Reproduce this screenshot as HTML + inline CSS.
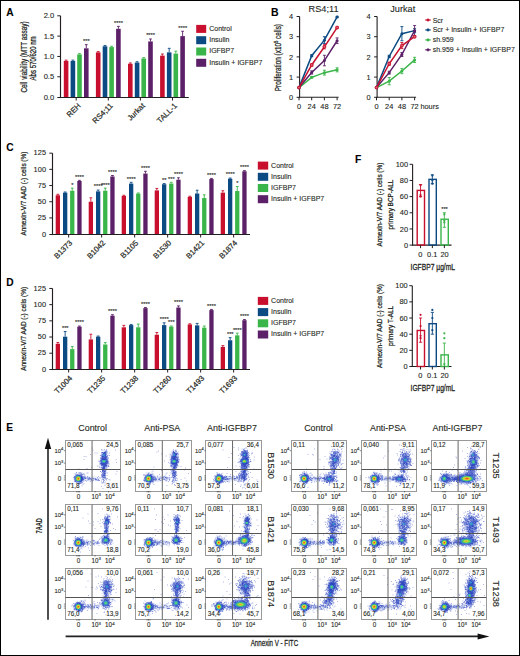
<!DOCTYPE html>
<html><head><meta charset="utf-8"><title>Figure</title>
<style>
html,body{margin:0;padding:0;background:#fff;}
body{width:520px;height:656px;overflow:hidden;}
svg{display:block;font-family:"Liberation Sans",sans-serif;}
text{stroke:#231f20;stroke-width:.1px;}
text.st{stroke:#231f20;stroke-width:.12px;}
text.lb{stroke:#231f20;stroke-width:.26px;}
text.lr{stroke:#231f20;stroke-width:.2px;}
text.tk{letter-spacing:.3px;}
text.tk2{letter-spacing:.2px;}
.frame{position:absolute;left:0;top:0;width:518px;height:654px;border:1px solid #000;pointer-events:none;}
</style></head><body>
<svg width="520" height="656" viewBox="0 0 520 656">
<defs>
<radialGradient id="gH"><stop offset="0" stop-color="#e8301c"/><stop offset="0.25" stop-color="#f2a020"/><stop offset="0.45" stop-color="#c8e040"/><stop offset="0.65" stop-color="#40c070"/><stop offset="0.85" stop-color="#3090d8" stop-opacity="0.8"/><stop offset="1" stop-color="#3060d0" stop-opacity="0"/></radialGradient>
<radialGradient id="gM"><stop offset="0" stop-color="#f0a020"/><stop offset="0.3" stop-color="#b0e040"/><stop offset="0.55" stop-color="#40c070"/><stop offset="0.8" stop-color="#3090d8" stop-opacity="0.8"/><stop offset="1" stop-color="#3060d0" stop-opacity="0"/></radialGradient>
<radialGradient id="gL"><stop offset="0" stop-color="#80e060"/><stop offset="0.4" stop-color="#40c090"/><stop offset="0.75" stop-color="#3090d8" stop-opacity="0.8"/><stop offset="1" stop-color="#3060d0" stop-opacity="0"/></radialGradient>
<radialGradient id="gH2"><stop offset="0" stop-color="#e05020"/><stop offset="0.3" stop-color="#f0c020"/><stop offset="0.55" stop-color="#60c060"/><stop offset="0.8" stop-color="#3090d8" stop-opacity="0.8"/><stop offset="1" stop-color="#3060d0" stop-opacity="0"/></radialGradient>
<filter id="bl" x="-50%" y="-50%" width="200%" height="200%"><feGaussianBlur stdDeviation="1.3"/></filter>
<radialGradient id="gVL"><stop offset="0" stop-color="#40c0a0"/><stop offset="0.5" stop-color="#3090d8" stop-opacity="0.8"/><stop offset="1" stop-color="#3060d0" stop-opacity="0"/></radialGradient>
</defs>
<rect x="0" y="0" width="520" height="656" fill="#fff"/>
<text x="6.2" y="16.3" font-size="10.2" text-anchor="start" font-weight="bold" fill="#000">A</text>
<line x1="66.1" y1="60.11" x2="66.1" y2="60.92" stroke="#c8102e" stroke-width="0.9"/>
<line x1="64.7" y1="60.11" x2="67.5" y2="60.11" stroke="#c8102e" stroke-width="0.9"/>
<rect x="63.8" y="60.92" width="4.6" height="36.58" fill="#c8102e"/>
<line x1="72.9" y1="60.11" x2="72.9" y2="60.92" stroke="#0b4a82" stroke-width="0.9"/>
<line x1="71.5" y1="60.11" x2="74.3" y2="60.11" stroke="#0b4a82" stroke-width="0.9"/>
<rect x="70.6" y="60.92" width="4.6" height="36.58" fill="#0b4a82"/>
<line x1="79.5" y1="53.6" x2="79.5" y2="54.42" stroke="#3ab54a" stroke-width="0.9"/>
<line x1="78.1" y1="53.6" x2="80.9" y2="53.6" stroke="#3ab54a" stroke-width="0.9"/>
<rect x="77.2" y="54.42" width="4.6" height="43.08" fill="#3ab54a"/>
<line x1="86.3" y1="44.66" x2="86.3" y2="48.32" stroke="#5c2068" stroke-width="0.9"/>
<line x1="84.9" y1="44.66" x2="87.7" y2="44.66" stroke="#5c2068" stroke-width="0.9"/>
<rect x="84" y="48.32" width="4.6" height="49.18" fill="#5c2068"/>
<text x="86.4" y="43.06" font-size="5.7" text-anchor="middle" fill="#231f20" class="st">***</text>
<line x1="76.2" y1="97.5" x2="76.2" y2="100.5" stroke="#231f20" stroke-width="1"/>
<text transform="translate(81.2,106.3) rotate(-45)" font-size="7.7" text-anchor="end" fill="#231f20" class="lr">REH</text>
<line x1="98.2" y1="51.57" x2="98.2" y2="52.38" stroke="#c8102e" stroke-width="0.9"/>
<line x1="96.8" y1="51.57" x2="99.6" y2="51.57" stroke="#c8102e" stroke-width="0.9"/>
<rect x="95.9" y="52.38" width="4.6" height="45.12" fill="#c8102e"/>
<line x1="105" y1="45.47" x2="105" y2="46.29" stroke="#0b4a82" stroke-width="0.9"/>
<line x1="103.6" y1="45.47" x2="106.4" y2="45.47" stroke="#0b4a82" stroke-width="0.9"/>
<rect x="102.7" y="46.29" width="4.6" height="51.21" fill="#0b4a82"/>
<line x1="111.6" y1="46.29" x2="111.6" y2="47.1" stroke="#3ab54a" stroke-width="0.9"/>
<line x1="110.2" y1="46.29" x2="113" y2="46.29" stroke="#3ab54a" stroke-width="0.9"/>
<rect x="109.3" y="47.1" width="4.6" height="50.4" fill="#3ab54a"/>
<line x1="118.4" y1="26.37" x2="118.4" y2="28.81" stroke="#5c2068" stroke-width="0.9"/>
<line x1="117" y1="26.37" x2="119.8" y2="26.37" stroke="#5c2068" stroke-width="0.9"/>
<rect x="116.1" y="28.81" width="4.6" height="68.69" fill="#5c2068"/>
<text x="118.5" y="24.77" font-size="5.7" text-anchor="middle" fill="#231f20" class="st">****</text>
<line x1="108.3" y1="97.5" x2="108.3" y2="100.5" stroke="#231f20" stroke-width="1"/>
<text transform="translate(113.3,106.3) rotate(-45)" font-size="7.7" text-anchor="end" fill="#231f20" class="lr">RS4;11</text>
<line x1="130.3" y1="62.95" x2="130.3" y2="63.77" stroke="#c8102e" stroke-width="0.9"/>
<line x1="128.9" y1="62.95" x2="131.7" y2="62.95" stroke="#c8102e" stroke-width="0.9"/>
<rect x="128" y="63.77" width="4.6" height="33.73" fill="#c8102e"/>
<line x1="137.1" y1="61.73" x2="137.1" y2="62.55" stroke="#0b4a82" stroke-width="0.9"/>
<line x1="135.7" y1="61.73" x2="138.5" y2="61.73" stroke="#0b4a82" stroke-width="0.9"/>
<rect x="134.8" y="62.55" width="4.6" height="34.95" fill="#0b4a82"/>
<line x1="143.7" y1="57.67" x2="143.7" y2="58.48" stroke="#3ab54a" stroke-width="0.9"/>
<line x1="142.3" y1="57.67" x2="145.1" y2="57.67" stroke="#3ab54a" stroke-width="0.9"/>
<rect x="141.4" y="58.48" width="4.6" height="39.02" fill="#3ab54a"/>
<line x1="150.5" y1="38.97" x2="150.5" y2="41.41" stroke="#5c2068" stroke-width="0.9"/>
<line x1="149.1" y1="38.97" x2="151.9" y2="38.97" stroke="#5c2068" stroke-width="0.9"/>
<rect x="148.2" y="41.41" width="4.6" height="56.09" fill="#5c2068"/>
<text x="150.6" y="37.37" font-size="5.7" text-anchor="middle" fill="#231f20" class="st">****</text>
<line x1="140.4" y1="97.5" x2="140.4" y2="100.5" stroke="#231f20" stroke-width="1"/>
<text transform="translate(145.4,106.3) rotate(-45)" font-size="7.7" text-anchor="end" fill="#231f20" class="lr">Jurkat</text>
<line x1="162.4" y1="54.01" x2="162.4" y2="55.64" stroke="#c8102e" stroke-width="0.9"/>
<line x1="161" y1="54.01" x2="163.8" y2="54.01" stroke="#c8102e" stroke-width="0.9"/>
<rect x="160.1" y="55.64" width="4.6" height="41.86" fill="#c8102e"/>
<line x1="169.2" y1="48.32" x2="169.2" y2="52.38" stroke="#0b4a82" stroke-width="0.9"/>
<line x1="167.8" y1="48.32" x2="170.6" y2="48.32" stroke="#0b4a82" stroke-width="0.9"/>
<rect x="166.9" y="52.38" width="4.6" height="45.12" fill="#0b4a82"/>
<line x1="175.8" y1="51.17" x2="175.8" y2="53.6" stroke="#3ab54a" stroke-width="0.9"/>
<line x1="174.4" y1="51.17" x2="177.2" y2="51.17" stroke="#3ab54a" stroke-width="0.9"/>
<rect x="173.5" y="53.6" width="4.6" height="43.9" fill="#3ab54a"/>
<line x1="182.6" y1="31.25" x2="182.6" y2="36.12" stroke="#5c2068" stroke-width="0.9"/>
<line x1="181.2" y1="31.25" x2="184" y2="31.25" stroke="#5c2068" stroke-width="0.9"/>
<rect x="180.3" y="36.12" width="4.6" height="61.38" fill="#5c2068"/>
<text x="182.7" y="29.65" font-size="5.7" text-anchor="middle" fill="#231f20" class="st">****</text>
<line x1="172.5" y1="97.5" x2="172.5" y2="100.5" stroke="#231f20" stroke-width="1"/>
<text transform="translate(177.5,106.3) rotate(-45)" font-size="7.7" text-anchor="end" fill="#231f20" class="lr">TALL-1</text>
<line x1="60.5" y1="15.8" x2="60.5" y2="98.1" stroke="#231f20" stroke-width="1.15"/>
<line x1="57.3" y1="97.5" x2="60.5" y2="97.5" stroke="#231f20" stroke-width="1"/>
<text x="54.2" y="99.9" font-size="7.6" text-anchor="end" fill="#231f20">0.0</text>
<line x1="57.3" y1="76.77" x2="60.5" y2="76.77" stroke="#231f20" stroke-width="1"/>
<text x="54.2" y="79.17" font-size="7.6" text-anchor="end" fill="#231f20">0.5</text>
<line x1="57.3" y1="56.45" x2="60.5" y2="56.45" stroke="#231f20" stroke-width="1"/>
<text x="54.2" y="58.85" font-size="7.6" text-anchor="end" fill="#231f20">1.0</text>
<line x1="57.3" y1="36.12" x2="60.5" y2="36.12" stroke="#231f20" stroke-width="1"/>
<text x="54.2" y="38.52" font-size="7.6" text-anchor="end" fill="#231f20">1.5</text>
<line x1="57.3" y1="15.8" x2="60.5" y2="15.8" stroke="#231f20" stroke-width="1"/>
<text x="54.2" y="18.2" font-size="7.6" text-anchor="end" fill="#231f20">2.0</text>
<line x1="59.9" y1="97.5" x2="188.8" y2="97.5" stroke="#231f20" stroke-width="1.15"/>
<text transform="translate(27,57) rotate(-90) scale(0.78,1)" font-size="8.2" text-anchor="middle" fill="#231f20" class="lb">Cell viability (MTT assay)</text>
<text transform="translate(36.2,58.4) rotate(-90) scale(0.74,1)" font-size="8.2" text-anchor="middle" fill="#231f20" class="lb">Abs 570/620 nm</text>
<rect x="196.2" y="24.9" width="10" height="8" fill="#c8102e"/>
<text x="209.2" y="30.8" font-size="7" text-anchor="start" fill="#231f20">Control</text>
<rect x="196.2" y="36.2" width="10" height="8" fill="#0b4a82"/>
<text x="209.2" y="42.1" font-size="7" text-anchor="start" fill="#231f20">Insulin</text>
<rect x="196.2" y="47.5" width="10" height="8" fill="#3ab54a"/>
<text x="209.2" y="53.4" font-size="7" text-anchor="start" fill="#231f20">IGFBP7</text>
<rect x="196.2" y="58.8" width="10" height="8" fill="#5c2068"/>
<text x="209.2" y="64.7" font-size="7" text-anchor="start" fill="#231f20">Insulin + IGFBP7</text>
<text x="270.9" y="16.1" font-size="10.5" text-anchor="start" font-weight="bold" fill="#000">B</text>
<line x1="299.6" y1="16.5" x2="299.6" y2="97.8" stroke="#231f20" stroke-width="1.1"/>
<line x1="296.6" y1="97.3" x2="299.6" y2="97.3" stroke="#231f20" stroke-width="1"/>
<text x="293.1" y="99.9" font-size="7.4" text-anchor="end" fill="#231f20">0</text>
<line x1="296.6" y1="77.1" x2="299.6" y2="77.1" stroke="#231f20" stroke-width="1"/>
<text x="293.1" y="79.7" font-size="7.4" text-anchor="end" fill="#231f20">1</text>
<line x1="296.6" y1="56.9" x2="299.6" y2="56.9" stroke="#231f20" stroke-width="1"/>
<text x="293.1" y="59.5" font-size="7.4" text-anchor="end" fill="#231f20">2</text>
<line x1="296.6" y1="36.7" x2="299.6" y2="36.7" stroke="#231f20" stroke-width="1"/>
<text x="293.1" y="39.3" font-size="7.4" text-anchor="end" fill="#231f20">3</text>
<line x1="296.6" y1="16.5" x2="299.6" y2="16.5" stroke="#231f20" stroke-width="1"/>
<text x="293.1" y="19.1" font-size="7.4" text-anchor="end" fill="#231f20">4</text>
<line x1="299.1" y1="97.3" x2="338.6" y2="97.3" stroke="#231f20" stroke-width="1.1"/>
<line x1="299" y1="97.3" x2="299" y2="100.3" stroke="#231f20" stroke-width="1"/>
<text x="299" y="109.3" font-size="7.4" text-anchor="middle" fill="#231f20">0</text>
<line x1="311.7" y1="97.3" x2="311.7" y2="100.3" stroke="#231f20" stroke-width="1"/>
<text x="311.7" y="109.3" font-size="7.4" text-anchor="middle" fill="#231f20">24</text>
<line x1="324.4" y1="97.3" x2="324.4" y2="100.3" stroke="#231f20" stroke-width="1"/>
<text x="324.4" y="109.3" font-size="7.4" text-anchor="middle" fill="#231f20">48</text>
<line x1="337.1" y1="97.3" x2="337.1" y2="100.3" stroke="#231f20" stroke-width="1"/>
<text x="337.1" y="109.3" font-size="7.4" text-anchor="middle" fill="#231f20">72</text>
<text x="308.6" y="11.7" font-size="9.2" text-anchor="start" fill="#231f20">RS4;11</text>
<polyline points="299,87.6 311.7,77.3 324.4,72.66 337.1,69.83" fill="none" stroke="#3ab54a" stroke-width="1.5"/>
<circle cx="299" cy="87.6" r="1.5" fill="#3ab54a"/>
<line x1="311.7" y1="76.7" x2="311.7" y2="77.91" stroke="#3ab54a" stroke-width="0.9"/>
<line x1="310.2" y1="76.7" x2="313.2" y2="76.7" stroke="#3ab54a" stroke-width="0.9"/>
<line x1="310.2" y1="77.91" x2="313.2" y2="77.91" stroke="#3ab54a" stroke-width="0.9"/>
<circle cx="311.7" cy="77.3" r="1.5" fill="#3ab54a"/>
<line x1="324.4" y1="70.23" x2="324.4" y2="75.08" stroke="#3ab54a" stroke-width="0.9"/>
<line x1="322.9" y1="70.23" x2="325.9" y2="70.23" stroke="#3ab54a" stroke-width="0.9"/>
<line x1="322.9" y1="75.08" x2="325.9" y2="75.08" stroke="#3ab54a" stroke-width="0.9"/>
<circle cx="324.4" cy="72.66" r="1.5" fill="#3ab54a"/>
<line x1="337.1" y1="67.81" x2="337.1" y2="71.85" stroke="#3ab54a" stroke-width="0.9"/>
<line x1="335.6" y1="67.81" x2="338.6" y2="67.81" stroke="#3ab54a" stroke-width="0.9"/>
<line x1="335.6" y1="71.85" x2="338.6" y2="71.85" stroke="#3ab54a" stroke-width="0.9"/>
<circle cx="337.1" cy="69.83" r="1.5" fill="#3ab54a"/>
<polyline points="299,87.6 311.7,55.69 324.4,40.13 337.1,16.9" fill="none" stroke="#0b4a82" stroke-width="1.5"/>
<circle cx="299" cy="87.6" r="1.5" fill="#0b4a82"/>
<line x1="311.7" y1="54.68" x2="311.7" y2="56.7" stroke="#0b4a82" stroke-width="0.9"/>
<line x1="310.2" y1="54.68" x2="313.2" y2="54.68" stroke="#0b4a82" stroke-width="0.9"/>
<line x1="310.2" y1="56.7" x2="313.2" y2="56.7" stroke="#0b4a82" stroke-width="0.9"/>
<circle cx="311.7" cy="55.69" r="1.5" fill="#0b4a82"/>
<line x1="324.4" y1="36.7" x2="324.4" y2="43.57" stroke="#0b4a82" stroke-width="0.9"/>
<line x1="322.9" y1="36.7" x2="325.9" y2="36.7" stroke="#0b4a82" stroke-width="0.9"/>
<line x1="322.9" y1="43.57" x2="325.9" y2="43.57" stroke="#0b4a82" stroke-width="0.9"/>
<circle cx="324.4" cy="40.13" r="1.5" fill="#0b4a82"/>
<line x1="337.1" y1="16.3" x2="337.1" y2="17.51" stroke="#0b4a82" stroke-width="0.9"/>
<line x1="335.6" y1="16.3" x2="338.6" y2="16.3" stroke="#0b4a82" stroke-width="0.9"/>
<line x1="335.6" y1="17.51" x2="338.6" y2="17.51" stroke="#0b4a82" stroke-width="0.9"/>
<circle cx="337.1" cy="16.9" r="1.5" fill="#0b4a82"/>
<polyline points="299,87.6 311.7,72.45 324.4,60.54 337.1,40.74" fill="none" stroke="#5c2068" stroke-width="1.5"/>
<circle cx="299" cy="87.6" r="1.5" fill="#5c2068"/>
<line x1="311.7" y1="70.84" x2="311.7" y2="74.07" stroke="#5c2068" stroke-width="0.9"/>
<line x1="310.2" y1="70.84" x2="313.2" y2="70.84" stroke="#5c2068" stroke-width="0.9"/>
<line x1="310.2" y1="74.07" x2="313.2" y2="74.07" stroke="#5c2068" stroke-width="0.9"/>
<circle cx="311.7" cy="72.45" r="1.5" fill="#5c2068"/>
<line x1="324.4" y1="55.28" x2="324.4" y2="65.79" stroke="#5c2068" stroke-width="0.9"/>
<line x1="322.9" y1="55.28" x2="325.9" y2="55.28" stroke="#5c2068" stroke-width="0.9"/>
<line x1="322.9" y1="65.79" x2="325.9" y2="65.79" stroke="#5c2068" stroke-width="0.9"/>
<circle cx="324.4" cy="60.54" r="1.5" fill="#5c2068"/>
<line x1="337.1" y1="37.91" x2="337.1" y2="43.57" stroke="#5c2068" stroke-width="0.9"/>
<line x1="335.6" y1="37.91" x2="338.6" y2="37.91" stroke="#5c2068" stroke-width="0.9"/>
<line x1="335.6" y1="43.57" x2="338.6" y2="43.57" stroke="#5c2068" stroke-width="0.9"/>
<circle cx="337.1" cy="40.74" r="1.5" fill="#5c2068"/>
<polyline points="299,87.6 311.7,64.98 324.4,46.8 337.1,27.61" fill="none" stroke="#c8102e" stroke-width="1.5"/>
<circle cx="299" cy="87.6" r="1.45" fill="#e06070" stroke="#c8102e" stroke-width="1"/>
<line x1="311.7" y1="63.77" x2="311.7" y2="66.19" stroke="#c8102e" stroke-width="0.9"/>
<line x1="310.2" y1="63.77" x2="313.2" y2="63.77" stroke="#c8102e" stroke-width="0.9"/>
<line x1="310.2" y1="66.19" x2="313.2" y2="66.19" stroke="#c8102e" stroke-width="0.9"/>
<circle cx="311.7" cy="64.98" r="1.45" fill="#e06070" stroke="#c8102e" stroke-width="1"/>
<line x1="324.4" y1="44.78" x2="324.4" y2="48.82" stroke="#c8102e" stroke-width="0.9"/>
<line x1="322.9" y1="44.78" x2="325.9" y2="44.78" stroke="#c8102e" stroke-width="0.9"/>
<line x1="322.9" y1="48.82" x2="325.9" y2="48.82" stroke="#c8102e" stroke-width="0.9"/>
<circle cx="324.4" cy="46.8" r="1.45" fill="#e06070" stroke="#c8102e" stroke-width="1"/>
<line x1="337.1" y1="26.8" x2="337.1" y2="28.42" stroke="#c8102e" stroke-width="0.9"/>
<line x1="335.6" y1="26.8" x2="338.6" y2="26.8" stroke="#c8102e" stroke-width="0.9"/>
<line x1="335.6" y1="28.42" x2="338.6" y2="28.42" stroke="#c8102e" stroke-width="0.9"/>
<circle cx="337.1" cy="27.61" r="1.45" fill="#e06070" stroke="#c8102e" stroke-width="1"/>
<line x1="377.1" y1="16.5" x2="377.1" y2="97.8" stroke="#231f20" stroke-width="1.1"/>
<line x1="374.1" y1="97.3" x2="377.1" y2="97.3" stroke="#231f20" stroke-width="1"/>
<text x="370.6" y="99.9" font-size="7.4" text-anchor="end" fill="#231f20">0</text>
<line x1="374.1" y1="77.1" x2="377.1" y2="77.1" stroke="#231f20" stroke-width="1"/>
<text x="370.6" y="79.7" font-size="7.4" text-anchor="end" fill="#231f20">1</text>
<line x1="374.1" y1="56.9" x2="377.1" y2="56.9" stroke="#231f20" stroke-width="1"/>
<text x="370.6" y="59.5" font-size="7.4" text-anchor="end" fill="#231f20">2</text>
<line x1="374.1" y1="36.7" x2="377.1" y2="36.7" stroke="#231f20" stroke-width="1"/>
<text x="370.6" y="39.3" font-size="7.4" text-anchor="end" fill="#231f20">3</text>
<line x1="374.1" y1="16.5" x2="377.1" y2="16.5" stroke="#231f20" stroke-width="1"/>
<text x="370.6" y="19.1" font-size="7.4" text-anchor="end" fill="#231f20">4</text>
<line x1="376.6" y1="97.3" x2="416.1" y2="97.3" stroke="#231f20" stroke-width="1.1"/>
<line x1="376.5" y1="97.3" x2="376.5" y2="100.3" stroke="#231f20" stroke-width="1"/>
<text x="376.5" y="109.3" font-size="7.4" text-anchor="middle" fill="#231f20">0</text>
<line x1="389.2" y1="97.3" x2="389.2" y2="100.3" stroke="#231f20" stroke-width="1"/>
<text x="389.2" y="109.3" font-size="7.4" text-anchor="middle" fill="#231f20">24</text>
<line x1="401.9" y1="97.3" x2="401.9" y2="100.3" stroke="#231f20" stroke-width="1"/>
<text x="401.9" y="109.3" font-size="7.4" text-anchor="middle" fill="#231f20">48</text>
<line x1="414.6" y1="97.3" x2="414.6" y2="100.3" stroke="#231f20" stroke-width="1"/>
<text x="414.6" y="109.3" font-size="7.4" text-anchor="middle" fill="#231f20">72</text>
<text x="420.4" y="109.3" font-size="7.4" text-anchor="start" fill="#231f20">hours</text>
<text x="390.2" y="11.7" font-size="9.2" text-anchor="start" fill="#231f20">Jurkat</text>
<polyline points="376.5,87.6 389.2,81.14 401.9,71.04 414.6,59.93" fill="none" stroke="#3ab54a" stroke-width="1.5"/>
<circle cx="376.5" cy="87.6" r="1.5" fill="#3ab54a"/>
<line x1="389.2" y1="77.5" x2="389.2" y2="84.78" stroke="#3ab54a" stroke-width="0.9"/>
<line x1="387.7" y1="77.5" x2="390.7" y2="77.5" stroke="#3ab54a" stroke-width="0.9"/>
<line x1="387.7" y1="84.78" x2="390.7" y2="84.78" stroke="#3ab54a" stroke-width="0.9"/>
<circle cx="389.2" cy="81.14" r="1.5" fill="#3ab54a"/>
<line x1="401.9" y1="68.41" x2="401.9" y2="73.67" stroke="#3ab54a" stroke-width="0.9"/>
<line x1="400.4" y1="68.41" x2="403.4" y2="68.41" stroke="#3ab54a" stroke-width="0.9"/>
<line x1="400.4" y1="73.67" x2="403.4" y2="73.67" stroke="#3ab54a" stroke-width="0.9"/>
<circle cx="401.9" cy="71.04" r="1.5" fill="#3ab54a"/>
<line x1="414.6" y1="57.3" x2="414.6" y2="62.56" stroke="#3ab54a" stroke-width="0.9"/>
<line x1="413.1" y1="57.3" x2="416.1" y2="57.3" stroke="#3ab54a" stroke-width="0.9"/>
<line x1="413.1" y1="62.56" x2="416.1" y2="62.56" stroke="#3ab54a" stroke-width="0.9"/>
<circle cx="414.6" cy="59.93" r="1.5" fill="#3ab54a"/>
<polyline points="376.5,87.6 389.2,56.5 401.9,33.67 414.6,30.64" fill="none" stroke="#0b4a82" stroke-width="1.5"/>
<circle cx="376.5" cy="87.6" r="1.5" fill="#0b4a82"/>
<line x1="389.2" y1="55.28" x2="389.2" y2="57.71" stroke="#0b4a82" stroke-width="0.9"/>
<line x1="387.7" y1="55.28" x2="390.7" y2="55.28" stroke="#0b4a82" stroke-width="0.9"/>
<line x1="387.7" y1="57.71" x2="390.7" y2="57.71" stroke="#0b4a82" stroke-width="0.9"/>
<circle cx="389.2" cy="56.5" r="1.5" fill="#0b4a82"/>
<line x1="401.9" y1="26.6" x2="401.9" y2="40.74" stroke="#0b4a82" stroke-width="0.9"/>
<line x1="400.4" y1="26.6" x2="403.4" y2="26.6" stroke="#0b4a82" stroke-width="0.9"/>
<line x1="400.4" y1="40.74" x2="403.4" y2="40.74" stroke="#0b4a82" stroke-width="0.9"/>
<circle cx="401.9" cy="33.67" r="1.5" fill="#0b4a82"/>
<line x1="414.6" y1="28.62" x2="414.6" y2="32.66" stroke="#0b4a82" stroke-width="0.9"/>
<line x1="413.1" y1="28.62" x2="416.1" y2="28.62" stroke="#0b4a82" stroke-width="0.9"/>
<line x1="413.1" y1="32.66" x2="416.1" y2="32.66" stroke="#0b4a82" stroke-width="0.9"/>
<circle cx="414.6" cy="30.64" r="1.5" fill="#0b4a82"/>
<polyline points="376.5,87.6 389.2,72.66 401.9,54.48 414.6,30.64" fill="none" stroke="#5c2068" stroke-width="1.5"/>
<circle cx="376.5" cy="87.6" r="1.5" fill="#5c2068"/>
<line x1="389.2" y1="71.24" x2="389.2" y2="74.07" stroke="#5c2068" stroke-width="0.9"/>
<line x1="387.7" y1="71.24" x2="390.7" y2="71.24" stroke="#5c2068" stroke-width="0.9"/>
<line x1="387.7" y1="74.07" x2="390.7" y2="74.07" stroke="#5c2068" stroke-width="0.9"/>
<circle cx="389.2" cy="72.66" r="1.5" fill="#5c2068"/>
<line x1="401.9" y1="52.46" x2="401.9" y2="56.5" stroke="#5c2068" stroke-width="0.9"/>
<line x1="400.4" y1="52.46" x2="403.4" y2="52.46" stroke="#5c2068" stroke-width="0.9"/>
<line x1="400.4" y1="56.5" x2="403.4" y2="56.5" stroke="#5c2068" stroke-width="0.9"/>
<circle cx="401.9" cy="54.48" r="1.5" fill="#5c2068"/>
<line x1="414.6" y1="25.59" x2="414.6" y2="35.69" stroke="#5c2068" stroke-width="0.9"/>
<line x1="413.1" y1="25.59" x2="416.1" y2="25.59" stroke="#5c2068" stroke-width="0.9"/>
<line x1="413.1" y1="35.69" x2="416.1" y2="35.69" stroke="#5c2068" stroke-width="0.9"/>
<circle cx="414.6" cy="30.64" r="1.5" fill="#5c2068"/>
<polyline points="376.5,87.6 389.2,63.77 401.9,45.59 414.6,36.7" fill="none" stroke="#c8102e" stroke-width="1.5"/>
<circle cx="376.5" cy="87.6" r="1.45" fill="#e06070" stroke="#c8102e" stroke-width="1"/>
<line x1="389.2" y1="62.15" x2="389.2" y2="65.38" stroke="#c8102e" stroke-width="0.9"/>
<line x1="387.7" y1="62.15" x2="390.7" y2="62.15" stroke="#c8102e" stroke-width="0.9"/>
<line x1="387.7" y1="65.38" x2="390.7" y2="65.38" stroke="#c8102e" stroke-width="0.9"/>
<circle cx="389.2" cy="63.77" r="1.45" fill="#e06070" stroke="#c8102e" stroke-width="1"/>
<line x1="401.9" y1="42.56" x2="401.9" y2="48.62" stroke="#c8102e" stroke-width="0.9"/>
<line x1="400.4" y1="42.56" x2="403.4" y2="42.56" stroke="#c8102e" stroke-width="0.9"/>
<line x1="400.4" y1="48.62" x2="403.4" y2="48.62" stroke="#c8102e" stroke-width="0.9"/>
<circle cx="401.9" cy="45.59" r="1.45" fill="#e06070" stroke="#c8102e" stroke-width="1"/>
<line x1="414.6" y1="35.69" x2="414.6" y2="37.71" stroke="#c8102e" stroke-width="0.9"/>
<line x1="413.1" y1="35.69" x2="416.1" y2="35.69" stroke="#c8102e" stroke-width="0.9"/>
<line x1="413.1" y1="37.71" x2="416.1" y2="37.71" stroke="#c8102e" stroke-width="0.9"/>
<circle cx="414.6" cy="36.7" r="1.45" fill="#e06070" stroke="#c8102e" stroke-width="1"/>
<text transform="translate(280.6,57.6) rotate(-90) scale(0.76,1)" font-size="8.4" text-anchor="middle" fill="#231f20" class="lb">Proliferation (x10<tspan font-size="5.5" dy="-3">5</tspan><tspan dy="3"> cells)</tspan></text>
<line x1="425.2" y1="20" x2="430.8" y2="20" stroke="#c8102e" stroke-width="1.1"/>
<rect x="426.7" y="18.7" width="2.6" height="2.6" fill="#c8102e" transform="rotate(45 428 20)"/>
<text x="432.7" y="22.5" font-size="7" text-anchor="start" fill="#231f20">Scr</text>
<line x1="425.2" y1="29.95" x2="430.8" y2="29.95" stroke="#0b4a82" stroke-width="1.1"/>
<rect x="426.7" y="28.65" width="2.6" height="2.6" fill="#0b4a82" transform="rotate(45 428 29.95)"/>
<text x="432.7" y="32.45" font-size="7" text-anchor="start" fill="#231f20">Scr + Insulin + IGFBP7</text>
<line x1="425.2" y1="39.9" x2="430.8" y2="39.9" stroke="#3ab54a" stroke-width="1.1"/>
<rect x="426.7" y="38.6" width="2.6" height="2.6" fill="#3ab54a" transform="rotate(45 428 39.9)"/>
<text x="432.7" y="42.4" font-size="7" text-anchor="start" fill="#231f20">sh.959</text>
<line x1="425.2" y1="49.85" x2="430.8" y2="49.85" stroke="#5c2068" stroke-width="1.1"/>
<rect x="426.7" y="48.55" width="2.6" height="2.6" fill="#5c2068" transform="rotate(45 428 49.85)"/>
<text x="432.7" y="52.35" font-size="7" text-anchor="start" fill="#231f20">sh.959 + Insulin + IGFBP7</text>
<text x="6.2" y="150.9" font-size="10.2" text-anchor="start" font-weight="bold" fill="#000">C</text>
<line x1="57.85" y1="194.28" x2="57.85" y2="195.25" stroke="#c8102e" stroke-width="0.9"/>
<line x1="56.45" y1="194.28" x2="59.25" y2="194.28" stroke="#c8102e" stroke-width="0.9"/>
<rect x="55.7" y="195.25" width="4.3" height="39.25" fill="#c8102e"/>
<line x1="65.15" y1="192.01" x2="65.15" y2="192.66" stroke="#0b4a82" stroke-width="0.9"/>
<line x1="63.75" y1="192.01" x2="66.55" y2="192.01" stroke="#0b4a82" stroke-width="0.9"/>
<rect x="63" y="192.66" width="4.3" height="41.84" fill="#0b4a82"/>
<line x1="72.25" y1="188.13" x2="72.25" y2="190.72" stroke="#3ab54a" stroke-width="0.9"/>
<line x1="70.85" y1="188.13" x2="73.65" y2="188.13" stroke="#3ab54a" stroke-width="0.9"/>
<rect x="70.1" y="190.72" width="4.3" height="43.78" fill="#3ab54a"/>
<text x="72.35" y="186.53" font-size="5.7" text-anchor="middle" fill="#231f20" class="st">*</text>
<line x1="79.45" y1="180.36" x2="79.45" y2="181" stroke="#5c2068" stroke-width="0.9"/>
<line x1="78.05" y1="180.36" x2="80.85" y2="180.36" stroke="#5c2068" stroke-width="0.9"/>
<rect x="77.3" y="181" width="4.3" height="53.5" fill="#5c2068"/>
<text x="79.55" y="178.76" font-size="5.7" text-anchor="middle" fill="#231f20" class="st">****</text>
<line x1="68.65" y1="234.5" x2="68.65" y2="237.5" stroke="#231f20" stroke-width="1"/>
<text transform="translate(72.85,243.5) rotate(-45)" font-size="7.7" text-anchor="end" fill="#231f20" class="lr">B1373</text>
<line x1="90.85" y1="197.84" x2="90.85" y2="201.72" stroke="#c8102e" stroke-width="0.9"/>
<line x1="89.45" y1="197.84" x2="92.25" y2="197.84" stroke="#c8102e" stroke-width="0.9"/>
<rect x="88.7" y="201.72" width="4.3" height="32.78" fill="#c8102e"/>
<line x1="98.15" y1="190.07" x2="98.15" y2="191.37" stroke="#0b4a82" stroke-width="0.9"/>
<line x1="96.75" y1="190.07" x2="99.55" y2="190.07" stroke="#0b4a82" stroke-width="0.9"/>
<rect x="96" y="191.37" width="4.3" height="43.13" fill="#0b4a82"/>
<text x="98.25" y="188.47" font-size="5.7" text-anchor="middle" fill="#231f20" class="st">****</text>
<line x1="105.25" y1="188.13" x2="105.25" y2="190.72" stroke="#3ab54a" stroke-width="0.9"/>
<line x1="103.85" y1="188.13" x2="106.65" y2="188.13" stroke="#3ab54a" stroke-width="0.9"/>
<rect x="103.1" y="190.72" width="4.3" height="43.78" fill="#3ab54a"/>
<text x="105.35" y="186.53" font-size="5.7" text-anchor="middle" fill="#231f20" class="st">****</text>
<line x1="112.45" y1="175.5" x2="112.45" y2="176.47" stroke="#5c2068" stroke-width="0.9"/>
<line x1="111.05" y1="175.5" x2="113.85" y2="175.5" stroke="#5c2068" stroke-width="0.9"/>
<rect x="110.3" y="176.47" width="4.3" height="58.03" fill="#5c2068"/>
<text x="112.55" y="173.9" font-size="5.7" text-anchor="middle" fill="#231f20" class="st">****</text>
<line x1="101.65" y1="234.5" x2="101.65" y2="237.5" stroke="#231f20" stroke-width="1"/>
<text transform="translate(105.85,243.5) rotate(-45)" font-size="7.7" text-anchor="end" fill="#231f20" class="lr">B1042</text>
<line x1="123.85" y1="195.25" x2="123.85" y2="195.9" stroke="#c8102e" stroke-width="0.9"/>
<line x1="122.45" y1="195.25" x2="125.25" y2="195.25" stroke="#c8102e" stroke-width="0.9"/>
<rect x="121.7" y="195.9" width="4.3" height="38.6" fill="#c8102e"/>
<line x1="131.15" y1="182.3" x2="131.15" y2="183.59" stroke="#0b4a82" stroke-width="0.9"/>
<line x1="129.75" y1="182.3" x2="132.55" y2="182.3" stroke="#0b4a82" stroke-width="0.9"/>
<rect x="129" y="183.59" width="4.3" height="50.91" fill="#0b4a82"/>
<text x="131.25" y="180.7" font-size="5.7" text-anchor="middle" fill="#231f20" class="st">****</text>
<line x1="138.25" y1="192.98" x2="138.25" y2="193.63" stroke="#3ab54a" stroke-width="0.9"/>
<line x1="136.85" y1="192.98" x2="139.65" y2="192.98" stroke="#3ab54a" stroke-width="0.9"/>
<rect x="136.1" y="193.63" width="4.3" height="40.87" fill="#3ab54a"/>
<line x1="145.45" y1="171.29" x2="145.45" y2="173.56" stroke="#5c2068" stroke-width="0.9"/>
<line x1="144.05" y1="171.29" x2="146.85" y2="171.29" stroke="#5c2068" stroke-width="0.9"/>
<rect x="143.3" y="173.56" width="4.3" height="60.94" fill="#5c2068"/>
<text x="145.55" y="169.69" font-size="5.7" text-anchor="middle" fill="#231f20" class="st">****</text>
<line x1="134.65" y1="234.5" x2="134.65" y2="237.5" stroke="#231f20" stroke-width="1"/>
<text transform="translate(138.85,243.5) rotate(-45)" font-size="7.7" text-anchor="end" fill="#231f20" class="lr">B1105</text>
<line x1="156.85" y1="188.45" x2="156.85" y2="190.39" stroke="#c8102e" stroke-width="0.9"/>
<line x1="155.45" y1="188.45" x2="158.25" y2="188.45" stroke="#c8102e" stroke-width="0.9"/>
<rect x="154.7" y="190.39" width="4.3" height="44.11" fill="#c8102e"/>
<line x1="164.15" y1="183.59" x2="164.15" y2="184.24" stroke="#0b4a82" stroke-width="0.9"/>
<line x1="162.75" y1="183.59" x2="165.55" y2="183.59" stroke="#0b4a82" stroke-width="0.9"/>
<rect x="162" y="184.24" width="4.3" height="50.26" fill="#0b4a82"/>
<text x="164.25" y="182" font-size="5.7" text-anchor="middle" fill="#231f20" class="st">**</text>
<line x1="171.25" y1="182.3" x2="171.25" y2="183.59" stroke="#3ab54a" stroke-width="0.9"/>
<line x1="169.85" y1="182.3" x2="172.65" y2="182.3" stroke="#3ab54a" stroke-width="0.9"/>
<rect x="169.1" y="183.59" width="4.3" height="50.91" fill="#3ab54a"/>
<text x="171.35" y="180.7" font-size="5.7" text-anchor="middle" fill="#231f20" class="st">***</text>
<line x1="178.45" y1="177.77" x2="178.45" y2="179.71" stroke="#5c2068" stroke-width="0.9"/>
<line x1="177.05" y1="177.77" x2="179.85" y2="177.77" stroke="#5c2068" stroke-width="0.9"/>
<rect x="176.3" y="179.71" width="4.3" height="54.79" fill="#5c2068"/>
<text x="178.55" y="176.17" font-size="5.7" text-anchor="middle" fill="#231f20" class="st">****</text>
<line x1="167.65" y1="234.5" x2="167.65" y2="237.5" stroke="#231f20" stroke-width="1"/>
<text transform="translate(171.85,243.5) rotate(-45)" font-size="7.7" text-anchor="end" fill="#231f20" class="lr">B1530</text>
<line x1="189.85" y1="196.22" x2="189.85" y2="196.87" stroke="#c8102e" stroke-width="0.9"/>
<line x1="188.45" y1="196.22" x2="191.25" y2="196.22" stroke="#c8102e" stroke-width="0.9"/>
<rect x="187.7" y="196.87" width="4.3" height="37.63" fill="#c8102e"/>
<line x1="197.15" y1="190.26" x2="197.15" y2="193.5" stroke="#0b4a82" stroke-width="0.9"/>
<line x1="195.75" y1="190.26" x2="198.55" y2="190.26" stroke="#0b4a82" stroke-width="0.9"/>
<rect x="195" y="193.5" width="4.3" height="41" fill="#0b4a82"/>
<line x1="204.25" y1="194.8" x2="204.25" y2="198.03" stroke="#3ab54a" stroke-width="0.9"/>
<line x1="202.85" y1="194.8" x2="205.65" y2="194.8" stroke="#3ab54a" stroke-width="0.9"/>
<rect x="202.1" y="198.03" width="4.3" height="36.47" fill="#3ab54a"/>
<line x1="211.45" y1="178.41" x2="211.45" y2="179.06" stroke="#5c2068" stroke-width="0.9"/>
<line x1="210.05" y1="178.41" x2="212.85" y2="178.41" stroke="#5c2068" stroke-width="0.9"/>
<rect x="209.3" y="179.06" width="4.3" height="55.44" fill="#5c2068"/>
<text x="211.55" y="176.81" font-size="5.7" text-anchor="middle" fill="#231f20" class="st">****</text>
<line x1="200.65" y1="234.5" x2="200.65" y2="237.5" stroke="#231f20" stroke-width="1"/>
<text transform="translate(204.85,243.5) rotate(-45)" font-size="7.7" text-anchor="end" fill="#231f20" class="lr">B1421</text>
<line x1="222.85" y1="190.72" x2="222.85" y2="192.66" stroke="#c8102e" stroke-width="0.9"/>
<line x1="221.45" y1="190.72" x2="224.25" y2="190.72" stroke="#c8102e" stroke-width="0.9"/>
<rect x="220.7" y="192.66" width="4.3" height="41.84" fill="#c8102e"/>
<line x1="230.15" y1="178.09" x2="230.15" y2="178.74" stroke="#0b4a82" stroke-width="0.9"/>
<line x1="228.75" y1="178.09" x2="231.55" y2="178.09" stroke="#0b4a82" stroke-width="0.9"/>
<rect x="228" y="178.74" width="4.3" height="55.76" fill="#0b4a82"/>
<text x="230.25" y="176.49" font-size="5.7" text-anchor="middle" fill="#231f20" class="st">****</text>
<line x1="237.25" y1="186.51" x2="237.25" y2="191.04" stroke="#3ab54a" stroke-width="0.9"/>
<line x1="235.85" y1="186.51" x2="238.65" y2="186.51" stroke="#3ab54a" stroke-width="0.9"/>
<rect x="235.1" y="191.04" width="4.3" height="43.46" fill="#3ab54a"/>
<text x="237.35" y="184.91" font-size="5.7" text-anchor="middle" fill="#231f20" class="st">*</text>
<line x1="244.45" y1="170.64" x2="244.45" y2="171.29" stroke="#5c2068" stroke-width="0.9"/>
<line x1="243.05" y1="170.64" x2="245.85" y2="170.64" stroke="#5c2068" stroke-width="0.9"/>
<rect x="242.3" y="171.29" width="4.3" height="63.21" fill="#5c2068"/>
<text x="244.55" y="169.04" font-size="5.7" text-anchor="middle" fill="#231f20" class="st">****</text>
<line x1="233.65" y1="234.5" x2="233.65" y2="237.5" stroke="#231f20" stroke-width="1"/>
<text transform="translate(237.85,243.5) rotate(-45)" font-size="7.7" text-anchor="end" fill="#231f20" class="lr">B1874</text>
<line x1="52.5" y1="153.16" x2="52.5" y2="235.1" stroke="#231f20" stroke-width="1.15"/>
<line x1="49.3" y1="234.5" x2="52.5" y2="234.5" stroke="#231f20" stroke-width="1"/>
<text x="46.4" y="236.7" font-size="7.4" text-anchor="end" fill="#231f20" class="tk2">0</text>
<line x1="49.3" y1="217.91" x2="52.5" y2="217.91" stroke="#231f20" stroke-width="1"/>
<text x="46.4" y="220.11" font-size="7.4" text-anchor="end" fill="#231f20" class="tk2">25</text>
<line x1="49.3" y1="201.72" x2="52.5" y2="201.72" stroke="#231f20" stroke-width="1"/>
<text x="46.4" y="203.92" font-size="7.4" text-anchor="end" fill="#231f20" class="tk2">50</text>
<line x1="49.3" y1="185.54" x2="52.5" y2="185.54" stroke="#231f20" stroke-width="1"/>
<text x="46.4" y="187.74" font-size="7.4" text-anchor="end" fill="#231f20" class="tk2">75</text>
<line x1="49.3" y1="169.35" x2="52.5" y2="169.35" stroke="#231f20" stroke-width="1"/>
<text x="46.4" y="171.55" font-size="7.4" text-anchor="end" fill="#231f20" class="tk2">100</text>
<line x1="49.3" y1="153.16" x2="52.5" y2="153.16" stroke="#231f20" stroke-width="1"/>
<text x="46.4" y="155.36" font-size="7.4" text-anchor="end" fill="#231f20" class="tk2">125</text>
<line x1="51.9" y1="234.5" x2="250" y2="234.5" stroke="#231f20" stroke-width="1.15"/>
<text transform="translate(25.8,193.6) rotate(-90) scale(0.8,1)" font-size="8" text-anchor="middle" fill="#231f20" class="lb">Annexin-V/7 AAD (-) cells (%)</text>
<rect x="257.8" y="161.6" width="10.4" height="8" fill="#c8102e"/>
<text x="271.1" y="167.5" font-size="7" text-anchor="start" fill="#231f20">Control</text>
<rect x="257.8" y="172.8" width="10.4" height="8" fill="#0b4a82"/>
<text x="271.1" y="178.7" font-size="7" text-anchor="start" fill="#231f20">Insulin</text>
<rect x="257.8" y="184" width="10.4" height="8" fill="#3ab54a"/>
<text x="271.1" y="189.9" font-size="7" text-anchor="start" fill="#231f20">IGFBP7</text>
<rect x="257.8" y="195.2" width="10.4" height="8" fill="#5c2068"/>
<text x="271.1" y="201.1" font-size="7" text-anchor="start" fill="#231f20">Insulin + IGFBP7</text>
<text x="6.2" y="286.2" font-size="10.2" text-anchor="start" font-weight="bold" fill="#000">D</text>
<line x1="57.85" y1="342.46" x2="57.85" y2="343.76" stroke="#c8102e" stroke-width="0.9"/>
<line x1="56.45" y1="342.46" x2="59.25" y2="342.46" stroke="#c8102e" stroke-width="0.9"/>
<rect x="55.7" y="343.76" width="4.3" height="25.74" fill="#c8102e"/>
<line x1="65.15" y1="331.52" x2="65.15" y2="336.7" stroke="#0b4a82" stroke-width="0.9"/>
<line x1="63.75" y1="331.52" x2="66.55" y2="331.52" stroke="#0b4a82" stroke-width="0.9"/>
<rect x="63" y="336.7" width="4.3" height="32.8" fill="#0b4a82"/>
<text x="65.25" y="329.92" font-size="5.7" text-anchor="middle" fill="#231f20" class="st">***</text>
<line x1="72.25" y1="346.54" x2="72.25" y2="349.13" stroke="#3ab54a" stroke-width="0.9"/>
<line x1="70.85" y1="346.54" x2="73.65" y2="346.54" stroke="#3ab54a" stroke-width="0.9"/>
<rect x="70.1" y="349.13" width="4.3" height="20.37" fill="#3ab54a"/>
<line x1="79.45" y1="326.02" x2="79.45" y2="326.66" stroke="#5c2068" stroke-width="0.9"/>
<line x1="78.05" y1="326.02" x2="80.85" y2="326.02" stroke="#5c2068" stroke-width="0.9"/>
<rect x="77.3" y="326.66" width="4.3" height="42.84" fill="#5c2068"/>
<text x="79.55" y="324.42" font-size="5.7" text-anchor="middle" fill="#231f20" class="st">****</text>
<line x1="68.65" y1="369.5" x2="68.65" y2="372.5" stroke="#231f20" stroke-width="1"/>
<text transform="translate(72.85,378.8) rotate(-45)" font-size="7.7" text-anchor="end" fill="#231f20" class="lr">T1004</text>
<line x1="90.85" y1="334.24" x2="90.85" y2="339.42" stroke="#c8102e" stroke-width="0.9"/>
<line x1="89.45" y1="334.24" x2="92.25" y2="334.24" stroke="#c8102e" stroke-width="0.9"/>
<rect x="88.7" y="339.42" width="4.3" height="30.08" fill="#c8102e"/>
<line x1="98.15" y1="336.05" x2="98.15" y2="336.7" stroke="#0b4a82" stroke-width="0.9"/>
<line x1="96.75" y1="336.05" x2="99.55" y2="336.05" stroke="#0b4a82" stroke-width="0.9"/>
<rect x="96" y="336.7" width="4.3" height="32.8" fill="#0b4a82"/>
<line x1="105.25" y1="342.59" x2="105.25" y2="344.54" stroke="#3ab54a" stroke-width="0.9"/>
<line x1="103.85" y1="342.59" x2="106.65" y2="342.59" stroke="#3ab54a" stroke-width="0.9"/>
<rect x="103.1" y="344.54" width="4.3" height="24.96" fill="#3ab54a"/>
<line x1="112.45" y1="314.69" x2="112.45" y2="315.66" stroke="#5c2068" stroke-width="0.9"/>
<line x1="111.05" y1="314.69" x2="113.85" y2="314.69" stroke="#5c2068" stroke-width="0.9"/>
<rect x="110.3" y="315.66" width="4.3" height="53.84" fill="#5c2068"/>
<text x="112.55" y="313.09" font-size="5.7" text-anchor="middle" fill="#231f20" class="st">****</text>
<line x1="101.65" y1="369.5" x2="101.65" y2="372.5" stroke="#231f20" stroke-width="1"/>
<text transform="translate(105.85,378.8) rotate(-45)" font-size="7.7" text-anchor="end" fill="#231f20" class="lr">T1235</text>
<line x1="123.85" y1="325.37" x2="123.85" y2="327.31" stroke="#c8102e" stroke-width="0.9"/>
<line x1="122.45" y1="325.37" x2="125.25" y2="325.37" stroke="#c8102e" stroke-width="0.9"/>
<rect x="121.7" y="327.31" width="4.3" height="42.19" fill="#c8102e"/>
<line x1="131.15" y1="324.46" x2="131.15" y2="325.11" stroke="#0b4a82" stroke-width="0.9"/>
<line x1="129.75" y1="324.46" x2="132.55" y2="324.46" stroke="#0b4a82" stroke-width="0.9"/>
<rect x="129" y="325.11" width="4.3" height="44.39" fill="#0b4a82"/>
<line x1="138.25" y1="324.07" x2="138.25" y2="327.31" stroke="#3ab54a" stroke-width="0.9"/>
<line x1="136.85" y1="324.07" x2="139.65" y2="324.07" stroke="#3ab54a" stroke-width="0.9"/>
<rect x="136.1" y="327.31" width="4.3" height="42.19" fill="#3ab54a"/>
<line x1="145.45" y1="307.5" x2="145.45" y2="308.15" stroke="#5c2068" stroke-width="0.9"/>
<line x1="144.05" y1="307.5" x2="146.85" y2="307.5" stroke="#5c2068" stroke-width="0.9"/>
<rect x="143.3" y="308.15" width="4.3" height="61.35" fill="#5c2068"/>
<text x="145.55" y="305.9" font-size="5.7" text-anchor="middle" fill="#231f20" class="st">****</text>
<line x1="134.65" y1="369.5" x2="134.65" y2="372.5" stroke="#231f20" stroke-width="1"/>
<text transform="translate(138.85,378.8) rotate(-45)" font-size="7.7" text-anchor="end" fill="#231f20" class="lr">T1238</text>
<line x1="156.85" y1="332.49" x2="156.85" y2="334.76" stroke="#c8102e" stroke-width="0.9"/>
<line x1="155.45" y1="332.49" x2="158.25" y2="332.49" stroke="#c8102e" stroke-width="0.9"/>
<rect x="154.7" y="334.76" width="4.3" height="34.74" fill="#c8102e"/>
<line x1="164.15" y1="322.84" x2="164.15" y2="325.11" stroke="#0b4a82" stroke-width="0.9"/>
<line x1="162.75" y1="322.84" x2="165.55" y2="322.84" stroke="#0b4a82" stroke-width="0.9"/>
<rect x="162" y="325.11" width="4.3" height="44.39" fill="#0b4a82"/>
<text x="164.25" y="321.24" font-size="5.7" text-anchor="middle" fill="#231f20" class="st">****</text>
<line x1="171.25" y1="326.02" x2="171.25" y2="326.66" stroke="#3ab54a" stroke-width="0.9"/>
<line x1="169.85" y1="326.02" x2="172.65" y2="326.02" stroke="#3ab54a" stroke-width="0.9"/>
<rect x="169.1" y="326.66" width="4.3" height="42.84" fill="#3ab54a"/>
<text x="171.35" y="324.42" font-size="5.7" text-anchor="middle" fill="#231f20" class="st">***</text>
<line x1="178.45" y1="305.94" x2="178.45" y2="307.56" stroke="#5c2068" stroke-width="0.9"/>
<line x1="177.05" y1="305.94" x2="179.85" y2="305.94" stroke="#5c2068" stroke-width="0.9"/>
<rect x="176.3" y="307.56" width="4.3" height="61.94" fill="#5c2068"/>
<text x="178.55" y="304.34" font-size="5.7" text-anchor="middle" fill="#231f20" class="st">****</text>
<line x1="167.65" y1="369.5" x2="167.65" y2="372.5" stroke="#231f20" stroke-width="1"/>
<text transform="translate(171.85,378.8) rotate(-45)" font-size="7.7" text-anchor="end" fill="#231f20" class="lr">T1260</text>
<line x1="189.85" y1="323.82" x2="189.85" y2="324.46" stroke="#c8102e" stroke-width="0.9"/>
<line x1="188.45" y1="323.82" x2="191.25" y2="323.82" stroke="#c8102e" stroke-width="0.9"/>
<rect x="187.7" y="324.46" width="4.3" height="45.04" fill="#c8102e"/>
<line x1="197.15" y1="323.43" x2="197.15" y2="325.37" stroke="#0b4a82" stroke-width="0.9"/>
<line x1="195.75" y1="323.43" x2="198.55" y2="323.43" stroke="#0b4a82" stroke-width="0.9"/>
<rect x="195" y="325.37" width="4.3" height="44.13" fill="#0b4a82"/>
<line x1="204.25" y1="326.02" x2="204.25" y2="327.64" stroke="#3ab54a" stroke-width="0.9"/>
<line x1="202.85" y1="326.02" x2="205.65" y2="326.02" stroke="#3ab54a" stroke-width="0.9"/>
<rect x="202.1" y="327.64" width="4.3" height="41.86" fill="#3ab54a"/>
<line x1="211.45" y1="309.44" x2="211.45" y2="310.09" stroke="#5c2068" stroke-width="0.9"/>
<line x1="210.05" y1="309.44" x2="212.85" y2="309.44" stroke="#5c2068" stroke-width="0.9"/>
<rect x="209.3" y="310.09" width="4.3" height="59.41" fill="#5c2068"/>
<text x="211.55" y="307.84" font-size="5.7" text-anchor="middle" fill="#231f20" class="st">****</text>
<line x1="200.65" y1="369.5" x2="200.65" y2="372.5" stroke="#231f20" stroke-width="1"/>
<text transform="translate(204.85,378.8) rotate(-45)" font-size="7.7" text-anchor="end" fill="#231f20" class="lr">T1493</text>
<line x1="222.85" y1="345.64" x2="222.85" y2="346.93" stroke="#c8102e" stroke-width="0.9"/>
<line x1="221.45" y1="345.64" x2="224.25" y2="345.64" stroke="#c8102e" stroke-width="0.9"/>
<rect x="220.7" y="346.93" width="4.3" height="22.57" fill="#c8102e"/>
<line x1="230.15" y1="337.67" x2="230.15" y2="340.26" stroke="#0b4a82" stroke-width="0.9"/>
<line x1="228.75" y1="337.67" x2="231.55" y2="337.67" stroke="#0b4a82" stroke-width="0.9"/>
<rect x="228" y="340.26" width="4.3" height="29.24" fill="#0b4a82"/>
<text x="230.25" y="336.07" font-size="5.7" text-anchor="middle" fill="#231f20" class="st">***</text>
<line x1="237.25" y1="333.14" x2="237.25" y2="335.34" stroke="#3ab54a" stroke-width="0.9"/>
<line x1="235.85" y1="333.14" x2="238.65" y2="333.14" stroke="#3ab54a" stroke-width="0.9"/>
<rect x="235.1" y="335.34" width="4.3" height="34.16" fill="#3ab54a"/>
<text x="237.35" y="331.54" font-size="5.7" text-anchor="middle" fill="#231f20" class="st">****</text>
<line x1="244.45" y1="319.54" x2="244.45" y2="320.19" stroke="#5c2068" stroke-width="0.9"/>
<line x1="243.05" y1="319.54" x2="245.85" y2="319.54" stroke="#5c2068" stroke-width="0.9"/>
<rect x="242.3" y="320.19" width="4.3" height="49.31" fill="#5c2068"/>
<text x="244.55" y="317.94" font-size="5.7" text-anchor="middle" fill="#231f20" class="st">****</text>
<line x1="233.65" y1="369.5" x2="233.65" y2="372.5" stroke="#231f20" stroke-width="1"/>
<text transform="translate(237.85,378.8) rotate(-45)" font-size="7.7" text-anchor="end" fill="#231f20" class="lr">T1693</text>
<line x1="52.5" y1="288.46" x2="52.5" y2="370.1" stroke="#231f20" stroke-width="1.15"/>
<line x1="49.3" y1="369.5" x2="52.5" y2="369.5" stroke="#231f20" stroke-width="1"/>
<text x="46.4" y="371.7" font-size="7.4" text-anchor="end" fill="#231f20" class="tk2">0</text>
<line x1="49.3" y1="353.21" x2="52.5" y2="353.21" stroke="#231f20" stroke-width="1"/>
<text x="46.4" y="355.41" font-size="7.4" text-anchor="end" fill="#231f20" class="tk2">25</text>
<line x1="49.3" y1="337.02" x2="52.5" y2="337.02" stroke="#231f20" stroke-width="1"/>
<text x="46.4" y="339.22" font-size="7.4" text-anchor="end" fill="#231f20" class="tk2">50</text>
<line x1="49.3" y1="320.84" x2="52.5" y2="320.84" stroke="#231f20" stroke-width="1"/>
<text x="46.4" y="323.04" font-size="7.4" text-anchor="end" fill="#231f20" class="tk2">75</text>
<line x1="49.3" y1="304.65" x2="52.5" y2="304.65" stroke="#231f20" stroke-width="1"/>
<text x="46.4" y="306.85" font-size="7.4" text-anchor="end" fill="#231f20" class="tk2">100</text>
<line x1="49.3" y1="288.46" x2="52.5" y2="288.46" stroke="#231f20" stroke-width="1"/>
<text x="46.4" y="290.66" font-size="7.4" text-anchor="end" fill="#231f20" class="tk2">125</text>
<line x1="51.9" y1="369.5" x2="250" y2="369.5" stroke="#231f20" stroke-width="1.15"/>
<text transform="translate(25.8,328.9) rotate(-90) scale(0.8,1)" font-size="8" text-anchor="middle" fill="#231f20" class="lb">Annexin-V/7 AAD (-) cells (%)</text>
<rect x="257.8" y="296.9" width="10.4" height="8" fill="#c8102e"/>
<text x="271.1" y="302.8" font-size="7" text-anchor="start" fill="#231f20">Control</text>
<rect x="257.8" y="308.1" width="10.4" height="8" fill="#0b4a82"/>
<text x="271.1" y="314" font-size="7" text-anchor="start" fill="#231f20">Insulin</text>
<rect x="257.8" y="319.3" width="10.4" height="8" fill="#3ab54a"/>
<text x="271.1" y="325.2" font-size="7" text-anchor="start" fill="#231f20">IGFBP7</text>
<rect x="257.8" y="330.5" width="10.4" height="8" fill="#5c2068"/>
<text x="271.1" y="336.4" font-size="7" text-anchor="start" fill="#231f20">Insulin + IGFBP7</text>
<text x="355" y="163" font-size="10.4" text-anchor="start" font-weight="bold" fill="#000">F</text>
<line x1="412.6" y1="164.3" x2="412.6" y2="245.6" stroke="#231f20" stroke-width="1.1"/>
<line x1="409.6" y1="245.1" x2="412.6" y2="245.1" stroke="#231f20" stroke-width="1"/>
<text x="408" y="247.7" font-size="7.4" text-anchor="end" fill="#231f20">0</text>
<line x1="409.6" y1="228.94" x2="412.6" y2="228.94" stroke="#231f20" stroke-width="1"/>
<text x="408" y="231.54" font-size="7.4" text-anchor="end" fill="#231f20">20</text>
<line x1="409.6" y1="212.78" x2="412.6" y2="212.78" stroke="#231f20" stroke-width="1"/>
<text x="408" y="215.38" font-size="7.4" text-anchor="end" fill="#231f20">40</text>
<line x1="409.6" y1="196.62" x2="412.6" y2="196.62" stroke="#231f20" stroke-width="1"/>
<text x="408" y="199.22" font-size="7.4" text-anchor="end" fill="#231f20">60</text>
<line x1="409.6" y1="180.46" x2="412.6" y2="180.46" stroke="#231f20" stroke-width="1"/>
<text x="408" y="183.06" font-size="7.4" text-anchor="end" fill="#231f20">80</text>
<line x1="409.6" y1="164.3" x2="412.6" y2="164.3" stroke="#231f20" stroke-width="1"/>
<text x="408" y="166.9" font-size="7.4" text-anchor="end" fill="#231f20">100</text>
<line x1="412.1" y1="245.1" x2="451.5" y2="245.1" stroke="#231f20" stroke-width="1.1"/>
<line x1="420.55" y1="184.5" x2="420.55" y2="196.62" stroke="#c8102e" stroke-width="0.9"/>
<line x1="418.95" y1="184.5" x2="422.15" y2="184.5" stroke="#c8102e" stroke-width="0.9"/>
<line x1="418.95" y1="196.62" x2="422.15" y2="196.62" stroke="#c8102e" stroke-width="0.9"/>
<rect x="417.2" y="190.4" width="7.3" height="54.7" fill="none" stroke="#c8102e" stroke-width="1.4"/>
<circle cx="420.55" cy="185.31" r="1.1" fill="#c8102e"/>
<circle cx="420.55" cy="195" r="1.1" fill="#c8102e"/>
<circle cx="420.55" cy="196.62" r="1.1" fill="#c8102e"/>
<line x1="420.55" y1="245.1" x2="420.55" y2="248.1" stroke="#231f20" stroke-width="1"/>
<line x1="432.35" y1="174.8" x2="432.35" y2="183.69" stroke="#0b4a82" stroke-width="0.9"/>
<line x1="430.75" y1="174.8" x2="433.95" y2="174.8" stroke="#0b4a82" stroke-width="0.9"/>
<line x1="430.75" y1="183.69" x2="433.95" y2="183.69" stroke="#0b4a82" stroke-width="0.9"/>
<rect x="429" y="179.33" width="7.3" height="65.77" fill="none" stroke="#0b4a82" stroke-width="1.4"/>
<circle cx="432.35" cy="175.61" r="1.1" fill="#0b4a82"/>
<circle cx="432.35" cy="180.46" r="1.1" fill="#0b4a82"/>
<circle cx="432.35" cy="183.69" r="1.1" fill="#0b4a82"/>
<line x1="432.35" y1="245.1" x2="432.35" y2="248.1" stroke="#231f20" stroke-width="1"/>
<line x1="444.35" y1="212.78" x2="444.35" y2="227.32" stroke="#3ab54a" stroke-width="0.9"/>
<line x1="442.75" y1="212.78" x2="445.95" y2="212.78" stroke="#3ab54a" stroke-width="0.9"/>
<line x1="442.75" y1="227.32" x2="445.95" y2="227.32" stroke="#3ab54a" stroke-width="0.9"/>
<rect x="441" y="219.24" width="7.3" height="25.86" fill="none" stroke="#3ab54a" stroke-width="1.4"/>
<circle cx="444.35" cy="214.4" r="1.1" fill="#3ab54a"/>
<circle cx="444.35" cy="220.86" r="1.1" fill="#3ab54a"/>
<circle cx="444.35" cy="222.48" r="1.1" fill="#3ab54a"/>
<line x1="444.35" y1="245.1" x2="444.35" y2="248.1" stroke="#231f20" stroke-width="1"/>
<text x="420.4" y="256.5" font-size="7.4" text-anchor="middle" fill="#231f20">0</text>
<text x="432.2" y="256.5" font-size="7.4" text-anchor="middle" fill="#231f20">0.1</text>
<text x="444.6" y="256.5" font-size="7.4" text-anchor="middle" fill="#231f20">20</text>
<text transform="translate(432.8,269.7) scale(0.82,1)" font-size="8.2" text-anchor="middle" fill="#231f20" class="lb">IGFBP7 µg/mL</text>
<text transform="translate(382.2,204.6) rotate(-90) scale(0.8,1)" font-size="8" text-anchor="middle" fill="#231f20" class="lb">Annexin-V/7 AAD (-) cells (%)</text>
<text transform="translate(392.8,204.6) rotate(-90) scale(0.8,1)" font-size="8" text-anchor="middle" fill="#231f20" class="lb">primary BCP-ALL</text>
<text x="444.5" y="211.18" font-size="5.7" text-anchor="middle" fill="#231f20" class="st">***</text>
<line x1="412.3" y1="285.7" x2="412.3" y2="367" stroke="#231f20" stroke-width="1.1"/>
<line x1="409.3" y1="366.5" x2="412.3" y2="366.5" stroke="#231f20" stroke-width="1"/>
<text x="407.7" y="369.1" font-size="7.4" text-anchor="end" fill="#231f20">0</text>
<line x1="409.3" y1="350.34" x2="412.3" y2="350.34" stroke="#231f20" stroke-width="1"/>
<text x="407.7" y="352.94" font-size="7.4" text-anchor="end" fill="#231f20">20</text>
<line x1="409.3" y1="334.18" x2="412.3" y2="334.18" stroke="#231f20" stroke-width="1"/>
<text x="407.7" y="336.78" font-size="7.4" text-anchor="end" fill="#231f20">40</text>
<line x1="409.3" y1="318.02" x2="412.3" y2="318.02" stroke="#231f20" stroke-width="1"/>
<text x="407.7" y="320.62" font-size="7.4" text-anchor="end" fill="#231f20">60</text>
<line x1="409.3" y1="301.86" x2="412.3" y2="301.86" stroke="#231f20" stroke-width="1"/>
<text x="407.7" y="304.46" font-size="7.4" text-anchor="end" fill="#231f20">80</text>
<line x1="409.3" y1="285.7" x2="412.3" y2="285.7" stroke="#231f20" stroke-width="1"/>
<text x="407.7" y="288.3" font-size="7.4" text-anchor="end" fill="#231f20">100</text>
<line x1="411.8" y1="366.5" x2="451.5" y2="366.5" stroke="#231f20" stroke-width="1.1"/>
<line x1="420.55" y1="318.02" x2="420.55" y2="342.26" stroke="#c8102e" stroke-width="0.9"/>
<line x1="418.95" y1="318.02" x2="422.15" y2="318.02" stroke="#c8102e" stroke-width="0.9"/>
<line x1="418.95" y1="342.26" x2="422.15" y2="342.26" stroke="#c8102e" stroke-width="0.9"/>
<rect x="417.2" y="330.46" width="7.3" height="36.04" fill="none" stroke="#c8102e" stroke-width="1.4"/>
<circle cx="420.55" cy="314.79" r="1.1" fill="#c8102e"/>
<circle cx="420.55" cy="326.1" r="1.1" fill="#c8102e"/>
<circle cx="420.55" cy="335.8" r="1.1" fill="#c8102e"/>
<circle cx="420.55" cy="338.22" r="1.1" fill="#c8102e"/>
<line x1="420.55" y1="366.5" x2="420.55" y2="369.5" stroke="#231f20" stroke-width="1"/>
<line x1="432.35" y1="312.36" x2="432.35" y2="334.18" stroke="#0b4a82" stroke-width="0.9"/>
<line x1="430.75" y1="312.36" x2="433.95" y2="312.36" stroke="#0b4a82" stroke-width="0.9"/>
<line x1="430.75" y1="334.18" x2="433.95" y2="334.18" stroke="#0b4a82" stroke-width="0.9"/>
<rect x="429" y="323.68" width="7.3" height="42.82" fill="none" stroke="#0b4a82" stroke-width="1.4"/>
<circle cx="432.35" cy="309.94" r="1.1" fill="#0b4a82"/>
<circle cx="432.35" cy="318.02" r="1.1" fill="#0b4a82"/>
<circle cx="432.35" cy="330.14" r="1.1" fill="#0b4a82"/>
<line x1="432.35" y1="366.5" x2="432.35" y2="369.5" stroke="#231f20" stroke-width="1"/>
<line x1="444.35" y1="343.07" x2="444.35" y2="366.5" stroke="#3ab54a" stroke-width="0.9"/>
<line x1="442.75" y1="343.07" x2="445.95" y2="343.07" stroke="#3ab54a" stroke-width="0.9"/>
<line x1="442.75" y1="366.5" x2="445.95" y2="366.5" stroke="#3ab54a" stroke-width="0.9"/>
<rect x="441" y="354.86" width="7.3" height="11.64" fill="none" stroke="#3ab54a" stroke-width="1.4"/>
<circle cx="444.35" cy="333.37" r="1.1" fill="#3ab54a"/>
<circle cx="444.35" cy="338.22" r="1.1" fill="#3ab54a"/>
<circle cx="444.35" cy="364.08" r="1.1" fill="#3ab54a"/>
<line x1="444.35" y1="366.5" x2="444.35" y2="369.5" stroke="#231f20" stroke-width="1"/>
<text x="420.4" y="377.9" font-size="7.4" text-anchor="middle" fill="#231f20">0</text>
<text x="432.2" y="377.9" font-size="7.4" text-anchor="middle" fill="#231f20">0.1</text>
<text x="444.6" y="377.9" font-size="7.4" text-anchor="middle" fill="#231f20">20</text>
<text transform="translate(432.8,391.1) scale(0.82,1)" font-size="8.2" text-anchor="middle" fill="#231f20" class="lb">IGFBP7 µg/mL</text>
<text transform="translate(382.2,326) rotate(-90) scale(0.8,1)" font-size="8" text-anchor="middle" fill="#231f20" class="lb">Annexin-V/7 AAD (-) cells (%)</text>
<text transform="translate(392.8,326) rotate(-90) scale(0.8,1)" font-size="8" text-anchor="middle" fill="#231f20" class="lb">primary T-ALL</text>
<text x="6.2" y="431.2" font-size="10.2" text-anchor="start" font-weight="bold" fill="#000">E</text>
<line x1="48" y1="448" x2="48" y2="619.8" stroke="#222" stroke-width="1.6"/>
<path d="M48 437.8L51.2 449L44.8 449Z" fill="#111"/>
<text transform="translate(41.8,525.8) rotate(-90) scale(0.66,1)" font-size="8.6" text-anchor="middle" font-weight="bold" fill="#231f20">7AAD</text>
<line x1="65.6" y1="636.4" x2="478" y2="636.4" stroke="#222" stroke-width="1.6"/>
<path d="M489.4 636.4L477.6 633.4L477.6 639.4Z" fill="#111"/>
<text transform="translate(274.4,646.3) scale(0.72,1)" font-size="8.6" text-anchor="middle" fill="#231f20" class="lb">Annexin V - FITC</text>
<text x="92.65" y="430.7" font-size="8.9" text-anchor="middle" fill="#231f20">Control</text>
<text x="162.3" y="430.7" font-size="8.9" text-anchor="middle" fill="#231f20">Anti-PSA</text>
<text x="231.95" y="430.7" font-size="8.9" text-anchor="middle" fill="#231f20">Anti-IGFBP7</text>
<text x="318.5" y="430.7" font-size="8.9" text-anchor="middle" fill="#231f20">Control</text>
<text x="388" y="430.7" font-size="8.9" text-anchor="middle" fill="#231f20">Anti-PSA</text>
<text x="457.5" y="430.7" font-size="8.9" text-anchor="middle" fill="#231f20">Anti-IGFBP7</text>
<text transform="translate(267.6,465.6) rotate(90)" font-size="9.3" text-anchor="middle" fill="#231f20">B1530</text>
<text transform="translate(267.6,529.7) rotate(90)" font-size="9.3" text-anchor="middle" fill="#231f20">B1421</text>
<text transform="translate(267.6,593.8) rotate(90)" font-size="9.3" text-anchor="middle" fill="#231f20">B1874</text>
<text transform="translate(493.4,465.6) rotate(90)" font-size="9.3" text-anchor="middle" fill="#231f20">T1235</text>
<text transform="translate(493.4,529.7) rotate(90)" font-size="9.3" text-anchor="middle" fill="#231f20">T1493</text>
<text transform="translate(493.4,593.8) rotate(90)" font-size="9.3" text-anchor="middle" fill="#231f20">T1238</text>
<ellipse cx="78.55" cy="478.6" rx="4.2" ry="4.2" fill="#3f5fd0" fill-opacity="0.5" filter="url(#bl)"/>
<ellipse cx="89.25" cy="478.6" rx="9" ry="1.8" fill="#3f5fd0" fill-opacity="0.22" filter="url(#bl)"/>
<ellipse cx="103.75" cy="462.3" rx="3.2" ry="9" fill="#3f5fd0" fill-opacity="0.28" filter="url(#bl)"/>
<path transform="scale(.5)" d="M156 959h2m-2-3h2m-5 0h2m6 3h2m-3-1h2m-4 0h2m-10 3h2m6-2h2m-10-9h2m1 5h2m3 2h2m-2-2h2m-2 4h2m-1 3h2m-7-8h2m-1 3h2m2 1h2m-6-5h2m-2 9h2m-4-4h2m3-7h2m-3 12h2m-10-7h2m5-2h2m0 3h2m-9 4h2m6 0h2m1-2h2m-7-7h2m0 3h2m-6-3h2m-4 3h2m6-6h2m-12 9h2m9 2h2m-15-13h2m7 7h2m-8 7h2m7-3h2m-6 1h2m4 1h2m-7 0h2m-9 3h2m7-4h2m-13-4h2m9-5h2m-6 11h2m-6 3h2m5-7h2m-3 3h2m-3 2h2m-5-7h2m4 2h2m-9 4h2m7-6h2m-13 2h2m3-1h2m4-3h2m-3-1h2m-9 8h2m5 1h2m-5-3h2m-3 2h2m-3-2h2m1-1h2m-2 3h2m3-1h2m-11-3h2m-1 5h2m-3-2h2m6-13h2m-13 12h2m4 0h2m-5 2h2m1-5h2m6 4h2m-14-2h2m0 0h2m-12-2h2m12-3h2m-6 9h2m2 2h2m-12-7h2m3 4h2m4-14h2m-2 5h2m-4 0h2m-4 11h2m-3-4h2m2 0h2m-6 6h2m2-8h2m5-4h2m-9 4h2m-5 4h2m-2 0h2m-8-9h2m6 2h2m-8-2h2m6 9h2m-1-7h2m-7-1h2m0 12h2m-8 0h2m5-8h2m-13 7h2m5-8h2m0 4h2m2-6h2m-3 10h2m-1-7h2m-10 5h2m1-3h2m3-2h2m-16 0h2m-1 5h2m7-6h2m-4 6h2m-1 2h2m-3-1h2m4 2h2m-10-3h2m-7-8h2m-2 9h2m1-5h2m2 0h2m-4 1h2m7-1h2m-6 4h2m-5-9h2m-4 10h2m-6-7h2m8 6h2m-5 0h2m-2-9h2m-8 3h2m7 0h2m-9-1h2m-4 3h2m-1 2h2m-6 0h2m4-10h2m3 7h2m-13-2h2m8 1h2m-1 5h2m-2-1h2m1 1h2m-6-12h2m0 15h2m-7-8h2m7-5h2m-8 17h2m-7-7h2m9-3h2m-7 4h2m-8-4h2m3 4h2m-4-5h2m-5 0h2m5 2h2m-9-4h2m12 8h2m-10-16h2m-2 13h2m2 0h2m-9 0h2m-9 3h2m7-8h2m2 11h2m-13-11h2m5 4h2m-5-5h2m8 9h2m-15-10h2m9 9h2m-2 0h2m-12-3h2m-7-4h2m6 5h2m-4-2h2m2 2h2m-1-1h2m-6 3h2m0-7h2m-5 3h2m0 1h2m-2 0h2m-2-6h2m0 10h2m-2-6h2m-2-3h2m-11 4h2m2 3h2m-3-14h2m-1 18h2m0-13h2m-3 8h2m2-1h2m2 2h2m-8 0h2m5 1h2m-5-8h2m-6 7h2m-3 2h2m2-1h2m-5 7h2m3-12h2m-6 12h2m-4-7h2m3-4h2m-10 1h2m4 4h2m-1-5h2m-1 2h2m-5-2h2m-3 3h2m-6-5h2m3-4h2m-4-2h2m-3 11h2m3-3h2m-5-6h2m5 8h2m-4-6h2m-7-3h2m1 11h2m-12-4h2m8-7h2m-11 3h2m2-2h2m1 7h2m0 2h2m1 2h2m-12-7h2m-2-2h2m2 4h2m0-6h2m-8 6h2m2-1h2m-2-2h2m1 5h2m-5-5h2m-2-8h2m-5 11h2m-4 1h2m4-7h2m-3 5h2m0 4h2m-4-6h2m-2 3h2m1 1h2m-7-6h2m-1 2h2m-5 3h2m1 1h2m1-3h2m5 1h2m-6 2h2m-2-11h2m-9 11h2m3 9h2m-3-4h2m-1-2h2m-3-4h2m-2-4h2m1 0h2m-6 13h2m-3-9h2m3 0h2m-10 1h2m4 2h2m2-3h2m-7-2h2m2-1h2m-5 1h2m-7 5h2m6-3h2m-10 4h2m0-2h2m4 3h2m-7-1h2m-5-4h2m6-5h2m-13-2h2m8 5h2m-7 1h2m-2-3h2m-1-2h2m-3 7h2m0-2h2m-7 2h2m0 6h2m2-7h2m-6-3h2m-4 2h2m3 3h2m-1 7h2m-7-9h2m11-8h2m-14 9h2m0 1h2m-3 0h2m-1 1h2m-10-7h2m5 0h2m-5 7h2m-1 0h2m3-2h2m-3-1h2m-9 0h2m5-2h2m-4 5h2m-5 0h2m9-5h2m-9 2h2m3 2h2m-4-5h2m-6 3h2m-8 6h2m8-13h2m-3 7h2m-3 2h2m-9-3h2m9-1h2m-11-4h2m-3 8h2m9 0h2m-8 8h2m-4-13h2m2 6h2m-8-8h2m3 6h2m-8-2h2m0 3h2m0-2h2m-3 5h2m5-6h2m-4-2h2m-5 6h2m3-4h2m-8 2h2m-7-1h2m1 2h2m-4-10h2m3 9h2m-3 4h2m0-8h2m2-6h2m-9 9h2m8-1h2m-6-2h2m-2 13h2m-7-10h2m3 6h2m-11-18h2m9 17h2m-2 10h2m-4-13h2m2 0h2m2-9h2m-14-12h2m5 17h2m-1 14h2m-8-13h2m-4-3h2m-3 8h2m2-3h2m-4 4h2m2-6h2m-1 0h2m-3-4h2m2 7h2m-6 3h2m-3-6h2m-13 7h2m8-7h2m0 2h2m0-3h2m-7-10h2m-4 16h2m9-6h2m-11 11h2m-3-5h2m10-4h2m-5-4h2m-8 4h2m-3 7h2m12-11h2m-20 7h2m-5 0h2m8-4h2m-2-7h2m-1 0h2m-11 5h2m0 8h2m1-7h2m1 11h2m-5-7h2m5 0h2m4-13h2m-16 14h2m4 1h2m-9-10h2m0 12h2m-9-12h2m4-5h2m-3 9h2m2-2h2m-10 2h2m3-2h2m-1 8h2m5 6h2m-14-12h2m-2 2h2m6-7h2m-3 7h2m-15 2h2m16-12h2m-5 11h2m-4 2h2m3-4h2m-4-1h2m-3-2h2m-7 14h2m1-11h2m-11-3h2m6 9h2m-1-2h2m-5 5h2m-4-11h2m6 4h2m-9-4h2m-2 7h2m2-11h2m-2 8h2m-11 4h2m3-7h2m4 10h2m-11-5h2m17-5h2m1 1h2m15 4h2m-26-3h2m17 0h2m4 0h2m-19 1h2m14-3h2m-17 2h2m1 1h2m2 0h2m-3-1h2m-11-1h2m-5 1h2m6 1h2m-3-1h2m9 2h2m-26-2h2m27 3h2m-34-3h2m30-4h2m-13 8h2m5-1h2m-24 1h2m5-1h2m-10-7h2m-1 2h2m4 4h2m-11-2h2m26 4h2m-33-8h2m-2 3h2m27 4h2m-13 0h2m1-4h2m-4 4h2m-7-4h2m-2-1h2m-17 0h2m6 0h2m17 3h2m-23-4h2m9 4h2m-4 0h2m-14-4h2m-4 4h2m19 3h2m3-2h2m-11 1h2m-7-2h2m19 3h2m-1 0h2m-11-3h2m7-2h2m-20 7h2m-14-7h2m21 2h2m-18-1h2m13 3h2m-20 2h2m18-3h2m2 1h2m-28-3h2m2 3h2m-12-2h2m30 1h2m6-46h2m5 18h2m-2-4h2m-8-8h2m4-1h2m-13-1h2m15 16h2m-14-14h2m1 0h2m3 3h2m-12 7h2m0-5h2m0-3h2m0-2h2m-11-8h2m0 8h2m3 4h2m1 0h2m-8-4h2m-7 3h2m8 3h2m-4-3h2m2 1h2m-3 3h2m-4 3h2m-5-8h2m-3-3h2m8 14h2m-8-6h2m2 1h2m-2-11h2m-9 9h2m6-2h2m-11-2h2m-1-3h2m7 1h2m-8 15h2m2-10h2m-9 1h2m7 1h2m-3-3h2m-5-1h2m-3 7h2m-9-7h2m4-2h2m-4 7h2m8-1h2m-9-11h2m4 8h2m-10-6h2m-2 0h2m-1 8h2m-2-1h2m-6 6h2m-1-17h2m0 6h2m-6 2h2m4-5h2m-4 14h2m1-8h2m-4 0h2m-3 4h2m-2-16h2m-2 8h2m1 1h2m-4 15h2m-7-17h2m-3-7h2m-4 14h2m3-11h2m-5 13h2m0-5h2m3 9h2m4-2h2m-9-4h2m5 6h2m-11-5h2m1-2h2m-6-7h2m-2-1h2m5 10h2m-11 5h2m6-17h2m2 14h2m-1-11h2m-8 9h2m-4-2h2m2-8h2m-11 0h2m0 4h2m2 5h2m-3-5h2m-4 9h2m3-5h2m-7 8h2m-3-5h2m5-5h2m-3-4h2m-1 7h2m-13 2h2m1 3h2m-1-7h2m2-1h2m-2-1h2m-1 3h2m-4-15h2m2 15h2m-14 0h2m7 5h2m-8 3h2m2 4h2m-2-9h2m-3-9h2m4 10h2m0 0h2m-11-13h2m-2 5h2m-3 7h2m3-5h2m-3 1h2m-2 5h2m1-8h2m-12 11h2m5-2h2m-9-7h2m5-6h2m-5 11h2m5 5h2m-10-16h2m4 12h2m-4-11h2m1 11h2m-3-7h2m-3 7h2m-6-14h2m2 12h2m-3 2h2m-5-5h2m-1 4h2m6-5h2m0 10h2m-7-5h2m2-4h2m-10-5h2m0 13h2m-1-5h2m-5-2h2m-7 5h2m2-11h2m-4 1h2m5 10h2m-11-1h2m7-7h2m-11-1h2m1 5h2m-1-12h2m0 3h2m1 1h2m-8 2h2m-2 11h2m4-3h2m-4-11h2m-6 5h2m-3 5h2m-1-6h2m-4-7h2m5 18h2m-4-12h2m-13 5h2m13 1h2m-3 6h2m-1-10h2m-2 7h2m-13-7h2m-1 2h2m6-5h2m-13 12h2m8 1h2m-9-2h2m12 5h2m-11-9h2m-2 4h2m3-5h2m-12 3h2m2 0h2m1 5h2m1-11h2m-5 12h2m-6-7h2m5 4h2m-4-13h2m-10 8h2m5 12h2m-7-7h2m5-15h2m-9 9h2m0-1h2m1-4h2m-2 1h2m-6 6h2m-2-1h2m7-1h2m-9 3h2m-3 2h2m-6-2h2m1-8h2m8 0h2m-2 8h2m-4-8h2m-3 12h2m-7-8h2m8 2h2m-13-5h2m1 5h2m-3 8h2m-4-7h2m5-8h2m-3 15h2m-12-15h2m-1-4h2m4 0h2m-2 17h2m-10-9h2m-3 6h2m3-6h2m1 4h2m-4-2h2m-3 0h2m-4 0h2m-5-3h2m13 3h2m-15 1h2m0-10h2m-1 12h2m2-4h2m-7-5h2m7 7h2m-11-12h2m-4 23h2m-1-13h2m3 0h2m-4-7h2m-5 16h2m-1-4h2m-5-6h2m6 7h2m-8-2h2m4-7h2m-2-1h2m-7 5h2m-9-1h2m4-7h2m1 12h2m-2 2h2m-5-13h2m9 9h2m-5-7h2m-2 6h2m-3-1h2m0-4h2m-10-4h2m6 4h2m-11-1h2m1-2h2m-2 3h2m-3-1h2m1 2h2m-2 4h2m-1-13h2m-6 7h2m4-4h2m-8 7h2m-1 7h2m-2 0h2m-6-15h2m8 12h2m-5-2h2m-2-7h2m0 4h2m-2 3h2m-13-7h2m10 6h2m-8 2h2m-2-4h2m0 3h2m4 0h2m-1 9h2m-3-4h2m-8-5h2m-3-4h2m-2 0h2m5 6h2m-10-12h2m-1 7h2m-6-3h2m-7 9h2m7 10h2m-2-14h2m4 1h2m-7-2h2m-5 9h2m5 2h2m-8-9h2m-4 5h2m-4-2h2m8 4h2m-10-2h2m-1-9h2m-5 10h2m10-9h2m-12 1h2m12 7h2m-15-15h2m-2 16h2m8-8h2m-12-1h2m-7 7h2m1 1h2m-4-12h2m6 3h2m0 4h2m-10 3h2m6-13h2m2 12h2m-6-12h2m-7-6h2m4-4h2m-9-3h2m0 10h2m-6-4h2m5 9h2m-2-8h2m-8-2h2m0 4h2m0 6h2m-1-11h2m2 8h2m-7-6h2m-8-1h2m7 0h2m-9 4h2m3 2h2m-1 3h2m-7-1h2m-2-2h2m2-1h2m0-1h2m-1 3h2m-5-6h2m-5 0h2m-1 3h2m9 2h2m-9-6h2m-7 2h2m1-3h2m2 2h2m-3-7h2m-6 11h2m-1 1h2m-2-2h2m-9-3h2m-3 5h2m6-3h2m-6-2h2m7 10h2m-8-2h2m-7-13h2m2 4h2m-3 4h2m10-3h2m-12 4h2m-2 2h2m4-8h2m-7 4h2m-2-6h2m-9-3h2m6 10h2m-4-10h2m-3 7h2m-5-1h2m4 6h2m-4 0h2m-4-2h2m0 2h2m-2-3h2m-2-2h2m5 5h2m-8 7h2m2-16h2m-5 10h2m2 2h2m-5-10h2m-8 6h2m3-5h2m-5 2h2m-1 3h2m-3-6h2m3 11h2m-6-2h2m0-2h2m-2-5h2m-2 7h2m-7 3h2m8 0h2m-3-4h2m-9-6h2m-4 3h2m1 2h2m-8 7h2m11-10h2m-7 3h2m-3-3h2m-3-3h2m-1 4h2m-2-4h2m-3 4h2m0-5h2m-3 9h2m-1-6h2m-5 1h2m1 7h2m-4-9h2m-1 3h2m-6-3h2m1 5h2m-6-6h2m4-1h2m-4 6h2m-2-5h2m-2 2h2m-1-2h2m1-3h2m-6 7h2m1-3h2m-3 0h2m-2 10h2m-5-6h2m-4 2h2m5-3h2m-10 1h2m6 3h2m-3-12h2m-7 13h2m-4-1h2m8-1h2m-4-5h2m-10 1h2m1 0h2m1 0h2m-3 2h2m-4 55h2m-1-21h2m-3-9h2m2 9h2m-9-8h2m1 1h2m1-8h2m-4 15h2m-6-1h2m1 6h2m-3-3h2m-6-16h2m5 25h2m-4-20h2m1-18h2m-7 34h2m2-21h2m-9 30h2m4-28h2m-3 21h2m-9 3h2m7-38h2m-2 3h2m-1 26h2m1-12h2m-8 20h2m-4-21h2m-1 8h2m-4 6h2m3-5h2m1-4h2m-3-3h2m-4-17h2m-3 21h2m-4-5h2m-2-1h2m-7 1h2m3 1h2m-4 5h2m3-1h2m-5 19h2m2-5h2m-2-15h2m-5 17h2m-3-15h2m0 6h2m-4 7h2m-1-3h2m1 0h2m-3-22h2m-8 6h2m3 26h2m-6-15h2m-1-12h2m-1 17h2m0 6h2m-6-4h2m4-10h2m-4-7h2m-6 2h2m-1 39h2m-1-15h2m0-16h2m-1-13h2m-1 14h2m-9 3h2m4-2h2m1-10h2m-5 14h2m-6 5h2m-4-30h2m4 3h2m-4-7h2m-2 6h2m-1-5h2m-2 15h2m-3 3h2m-2-15h2m-9 16h2m2-6h2m2-18h2m-5 16h2m-3 12h2m1-14h2m-5 19h2m-1-2h2m1-30h2m-6 23h2m2 9h2m-1 3h2m-5-15h2m1-3h2m-1-13h2m-3 17h2m-9 13h2m4-11h2m-6-6h2m5-4h2m-16-1h2m5 9h2m0-9h2m-3 23h2m-4 11h2m1-37h2m1 20h2m-7 3h2m-4-20h2m6 8h2m-9 9h2m5-7h2m-10-4h2m4 14h2m2-12h2m-8 2h2m2-11h2m-1-21h2m-4 24h2m-3 17h2m-6-9h2m2 8h2m-6-19h2m-4 42h2m3-33h2m-6 14h2m1 6h2m1-17h2m-2-14h2m-5 7h2m-4 7h2m1 17h2m-11-25h2m5 2h2m1 10h2m-3-10h2m-1 10h2m-8-8h2m-1-11h2m3 15h2m-3-11h2m-2 0h2m-1 19h2m2 7h2m-9-21h2m-3 9h2m7 5h2m-14-23h2m0 21h2m2-3h2m3-13h2m-9 33h2m1-33h2m-9-9h2m-3 19h2m5 12h2m-2-21h2m-4 31h2m-5-20h2m3 5h2m-3-1h2m1-8h2m-5-1h2m-4 0h2m0 5h2m3 13h2m-7-8h2m0 2h2m-3-6h2m-3-13h2m2 25h2m-3-10h2m-3-11h2m-8 14h2m4-15h2m-6 22h2m-4 6h2m5 7h2m-6-29h2m-1 2h2m-1-10h2m1-1h2m-6 16h2m-2-12h2m0 1h2m-6 3h2m0 22h2m-4-9h2m-1-16h2m-1 8h2m2 18h2m-7-5h2m3-7h2m-7 1h2m0-6h2m-3 4h2m2 5h2m-5-1h2m2-24h2m-2-4h2m-4 23h2m0-4h2m-7-13h2m-4 19h2m0-18h2m1-1h2m-5 4h2m4 23h2m-7-36h2m-1 19h2m-2 6h2m-4 5h2m1-9h2m-5-8h2m1-8h2m-4 5h2m-6 16h2m2-7h2m1-18h2m-5 21h2m0-16h2m-2 15h2m0 11h2m-4 12h2m-4-30h2m-3-7h2m-1-11h2m-26-24h2m47 29h2m-3 23h2m-16 11h2m-11-32h2m-44 21h2m26-16h2m34-32h2m-18 57h2m-34-22h2m49 8h2m-33-33h2m-37 9h2m24-13h2m-10-6h2m27 46h2m-36-37h2m18 18h2m29-8h2m-49 45h2m-13-27h2m12 21h2m14-4h2m-30-8h2m29-18h2m11 32h2m-50-47h2m16-7h2m-24 7h2" stroke="#2c44c0" stroke-opacity=".5" stroke-width="1.5"/>
<ellipse cx="78.25" cy="478.6" rx="3.4" ry="3.5" fill="url(#gH)"/>
<ellipse cx="103.85" cy="461.3" rx="2.8" ry="2" fill="url(#gL)"/>
<ellipse cx="104.05" cy="454.8" rx="1.6" ry="1.8" fill="url(#gVL)"/>
<rect x="65.5" y="440.5" width="55" height="51" fill="none" stroke="#999" stroke-width="1"/>
<line x1="92.05" y1="440.5" x2="92.05" y2="491.5" stroke="#666" stroke-width="1"/>
<line x1="65.5" y1="469.5" x2="120.5" y2="469.5" stroke="#555" stroke-width="1"/>
<text x="67.25" y="446.9" font-size="6.3" text-anchor="start" fill="#231f20">0,065</text>
<text x="118.45" y="446.9" font-size="6.3" text-anchor="end" fill="#231f20">24,5</text>
<text x="67.25" y="487.9" font-size="6.3" text-anchor="start" fill="#231f20">71,8</text>
<text x="118.45" y="487.9" font-size="6.3" text-anchor="end" fill="#231f20">3,61</text>
<text x="78.55" y="498.7" font-size="6.3" text-anchor="middle" fill="#231f20">0</text>
<text x="96.25" y="498.7" font-size="6.3" text-anchor="middle" fill="#231f20">10<tspan font-size="4.4" dy="-2.4">3</tspan></text>
<text x="109.85" y="498.7" font-size="6.3" text-anchor="middle" fill="#231f20">10<tspan font-size="4.4" dy="-2.4">4</tspan></text>
<text x="63.45" y="452.8" font-size="5.9" text-anchor="end" fill="#231f20">10<tspan font-size="4.2" dy="-2.4">4</tspan></text>
<text x="63.45" y="464.9" font-size="5.9" text-anchor="end" fill="#231f20">10<tspan font-size="4.2" dy="-2.4">3</tspan></text>
<text x="61.25" y="480.7" font-size="6.3" text-anchor="end" fill="#231f20">0</text>
<line x1="63.85" y1="450.7" x2="65.25" y2="450.7" stroke="#333" stroke-width="0.6"/>
<line x1="63.85" y1="463.1" x2="65.25" y2="463.1" stroke="#333" stroke-width="0.6"/>
<line x1="63.85" y1="475.9" x2="65.25" y2="475.9" stroke="#333" stroke-width="0.6"/>
<line x1="63.85" y1="477.9" x2="65.25" y2="477.9" stroke="#333" stroke-width="0.6"/>
<line x1="63.85" y1="479.9" x2="65.25" y2="479.9" stroke="#333" stroke-width="0.6"/>
<line x1="76.85" y1="491" x2="76.85" y2="492.4" stroke="#333" stroke-width="0.6"/>
<line x1="78.25" y1="491" x2="78.25" y2="492.4" stroke="#333" stroke-width="0.6"/>
<line x1="79.65" y1="491" x2="79.65" y2="492.4" stroke="#333" stroke-width="0.6"/>
<line x1="95.05" y1="491" x2="95.05" y2="492.4" stroke="#333" stroke-width="0.6"/>
<line x1="108.45" y1="491" x2="108.45" y2="492.4" stroke="#333" stroke-width="0.6"/>
<ellipse cx="148.8" cy="478.6" rx="4.2" ry="4.2" fill="#3f5fd0" fill-opacity="0.5" filter="url(#bl)"/>
<ellipse cx="159.5" cy="478.6" rx="9" ry="1.8" fill="#3f5fd0" fill-opacity="0.22" filter="url(#bl)"/>
<ellipse cx="174" cy="462.3" rx="3.2" ry="9" fill="#3f5fd0" fill-opacity="0.28" filter="url(#bl)"/>
<path transform="scale(.5)" d="M299 963h2m-6-5h2m-2 3h2m-2-2h2m1-2h2m3 0h2m-3 4h2m-2-4h2m-4 3h2m-7-2h2m0-1h2m3-3h2m-13-4h2m2 5h2m0 4h2m4-1h2m-6-4h2m-2 9h2m1-14h2m-4 15h2m-2-13h2m-6 9h2m1-6h2m-7 7h2m-4 2h2m3-5h2m-7-3h2m6-4h2m3 1h2m-14 5h2m4 3h2m-5-4h2m-2-1h2m-10 6h2m8-3h2m-5 0h2m0-1h2m2-7h2m-5 3h2m-4 10h2m-5-6h2m0 4h2m-4-11h2m4 6h2m-5 6h2m-4-6h2m2 3h2m-5 2h2m8-5h2m-3-7h2m-4 7h2m-6 0h2m-5-4h2m-1 10h2m3-6h2m-8-2h2m2 4h2m-6-5h2m5 7h2m-10 1h2m-3-1h2m-2-4h2m4 3h2m0-5h2m0 9h2m-8-4h2m-5-2h2m-4 1h2m4 5h2m0-3h2m-6-4h2m-2 2h2m-8 2h2m-1-5h2m4 0h2m4 2h2m-2 5h2m-10-3h2m5-3h2m-7-1h2m-2 1h2m-2 5h2m3-3h2m-6 3h2m-4-8h2m3 0h2m-3 0h2m2 0h2m-6 10h2m-9 0h2m-1-13h2m4 10h2m-6-13h2m-1 9h2m-3 0h2m-8-1h2m12 8h2m-10-9h2m0 7h2m0-9h2m-4 6h2m2 4h2m-5 0h2m-5 1h2m-3-4h2m3-5h2m-8-4h2m2 7h2m-4 2h2m-9-2h2m6-1h2m1 8h2m-7-11h2m-2 5h2m2-4h2m0-1h2m-3 6h2m-3 7h2m-5-9h2m1 4h2m-9-3h2m0 2h2m6-3h2m-7 1h2m-13 2h2m11-2h2m-5-4h2m-2 8h2m-1 1h2m-11-8h2m8 2h2m-9-2h2m9-3h2m-11 1h2m0 7h2m2-11h2m1 6h2m-9 9h2m0-12h2m-4 2h2m-4 2h2m5 3h2m-9-1h2m2 2h2m-3-1h2m7-1h2m-14 1h2m-1-3h2m2 3h2m-4 2h2m-2-9h2m2 4h2m-1-1h2m-4 3h2m-14-7h2m4 12h2m-5-2h2m9-2h2m-4-4h2m-4 3h2m0 2h2m-5-6h2m-3 5h2m-6-7h2m2 3h2m-1-9h2m-2 10h2m2-7h2m-6 10h2m1 3h2m0-9h2m-4 3h2m-7 7h2m-1-9h2m-1 0h2m3 5h2m-1 0h2m-9 2h2m-2-6h2m-1 2h2m3-2h2m-5 2h2m-8-4h2m2 6h2m0 0h2m-3-4h2m0-2h2m-9 3h2m-2-1h2m0 0h2m1-1h2m-4-4h2m1 4h2m-2-8h2m-6 12h2m-8-2h2m7 2h2m-7 0h2m4-5h2m0 4h2m-5-2h2m0 3h2m0 1h2m-8-3h2m3 0h2m-4 3h2m-4-11h2m-1 10h2m-2-4h2m2 3h2m-8-3h2m1-1h2m2 8h2m-2-1h2m-13 2h2m9-3h2m-14 3h2m10-7h2m-7 5h2m-2 2h2m-2-2h2m-2-9h2m-1 12h2m1 1h2m-4-9h2m-4-6h2m-3 12h2m-9-3h2m9 5h2m-8-8h2m-6-2h2m7 13h2m-8-3h2m4-8h2m4-8h2m-10 11h2m6 7h2m-2-7h2m-6 5h2m-4-4h2m-5-3h2m-3-7h2m1 8h2m-2 8h2m-3-9h2m-5 1h2m-1 1h2m12 1h2m-11 2h2m-2 0h2m-3 2h2m0 0h2m-8-6h2m-3 4h2m4-6h2m-3 13h2m1-15h2m-7 7h2m-2-1h2m2 0h2m-10 1h2m2-2h2m-4-6h2m-5 4h2m-1-10h2m6 6h2m-9 7h2m-8 4h2m4-3h2m-1-2h2m0-1h2m-9-6h2m5 12h2m-4-4h2m1 0h2m1-8h2m-5 5h2m-4-2h2m-4-1h2m7 4h2m-5-4h2m-15-3h2m9 13h2m-3-10h2m-3 0h2m-6 3h2m2-2h2m-4-1h2m2 10h2m-4 3h2m-7-8h2m0-1h2m2 2h2m2-4h2m-11 1h2m4-2h2m0 10h2m-10-5h2m7-10h2m-5 7h2m-8 7h2m4-8h2m-1 5h2m-1 0h2m-3-8h2m-6 6h2m-1-5h2m-8 5h2m5-3h2m-4-1h2m-3 3h2m-1 3h2m-1-2h2m1 4h2m-2-4h2m-5-4h2m-2 6h2m0-4h2m-8-5h2m4 10h2m-2-9h2m-4 6h2m-4 1h2m0-5h2m-6 7h2m4-7h2m-7 7h2m4-5h2m2 0h2m-12 6h2m1-3h2m-1-6h2m-6 3h2m7-3h2m-2 5h2m-11 0h2m4-4h2m-12 5h2m2 0h2m-5-2h2m2-6h2m0 7h2m-1-7h2m2-3h2m0 12h2m5 2h2m-10-3h2m-4-9h2m7 10h2m-13-9h2m9 9h2m-18 1h2m16-4h2m-11-2h2m-8 8h2m20-5h2m-21 4h2m-3-1h2m5-9h2m-13 5h2m9 2h2m0-9h2m-6 4h2m-4 5h2m-9-3h2m-3 3h2m0-4h2m4-1h2m4 0h2m-4 5h2m-13-3h2m-1-1h2m1 12h2m-2-1h2m3-16h2m-18 11h2m-1 0h2m16-2h2m-9-3h2m1 0h2m-7-1h2m8-1h2m-7-3h2m-8-1h2m1 11h2m1-6h2m0 0h2m-4 4h2m-1-15h2m-13 17h2m5 8h2m-2-15h2m8 6h2m0 0h2m-14 1h2m-6-6h2m0 1h2m6-1h2m-5 0h2m1-13h2m-8 16h2m-7 5h2m5 1h2m3-3h2m-9-10h2m-2 4h2m0 0h2m15-6h2m-13 6h2m-10 7h2m-1-11h2m0 5h2m-16 2h2m4-5h2m7 6h2m-7 10h2m2-15h2m-3 3h2m-16-8h2m10 7h2m-4 7h2m1 3h2m3 0h2m-8-7h2m-4-3h2m-9-2h2m2 0h2m11 5h2m-2 3h2m-4 1h2m-11-1h2m0-8h2m7 15h2m-4-16h2m-5 6h2m-2-4h2m-11 2h2m10 4h2m-3 2h2m-12-6h2m14-1h2m-4 2h2m2 1h2m21-4h2m-33 5h2m25-4h2m-9 0h2m4-1h2m-23 2h2m6 1h2m3-2h2m-18 6h2m16-4h2m5 3h2m-4-2h2m-6-1h2m11 3h2m-12-3h2m2-3h2m-14 6h2m14 2h2m-20-5h2m-2 1h2m9-1h2m-4 1h2m-21 0h2m0-1h2m26 1h2m-1-1h2m-20-4h2m8 7h2m-7-6h2m-18-1h2m19 0h2m-27 3h2m1-2h2m27 0h2m-32-2h2m23 9h2m-5-7h2m1 3h2m-16-4h2m12 4h2m-21-6h2m22-1h2m-33 5h2m29 2h2m-7-3h2m-24 3h2m-1 2h2m7 1h2m6-6h2m-14 3h2m9-5h2m7 5h2m-33-3h2m18 3h2m-4-3h2m7 2h2m-14 0h2m-19 4h2m12-1h2m5-5h2m-16 3h2m3 1h2m-4-5h2m35-29h2m-6-8h2m-5-2h2m6 13h2m1-3h2m-8 1h2m1-5h2m-5 12h2m-10-17h2m1 10h2m7-5h2m-4 1h2m-4-2h2m-3 3h2m2 11h2m-13-9h2m5 2h2m2 0h2m-3-9h2m-12 13h2m10-13h2m-2 8h2m-16 1h2m3 1h2m-1-9h2m-5 3h2m8-3h2m-13 14h2m12-7h2m-11-9h2m-6 8h2m9-8h2m-7 4h2m-3 4h2m7-6h2m-7 9h2m-6-6h2m-6 6h2m1-9h2m0-1h2m-6 3h2m8 1h2m-6-7h2m-12 17h2m4-17h2m0 11h2m-9-8h2m6 0h2m0 9h2m-3-7h2m-4-1h2m-3 5h2m-2 3h2m9-7h2m-11 7h2m-1-6h2m-6 7h2m2-3h2m-7 1h2m4-4h2m-3 12h2m-11-8h2m0-10h2m2 9h2m-1-8h2m-8 3h2m4-2h2m-8 13h2m1-9h2m-1-2h2m0 1h2m0-4h2m-10 15h2m4-6h2m3-1h2m-7-10h2m-8 13h2m7-3h2m-11-13h2m0 5h2m3 0h2m3 2h2m-10 8h2m1-9h2m0 14h2m-10-11h2m-1-8h2m4 13h2m0-1h2m-14-3h2m3-5h2m-3 9h2m1 7h2m1-20h2m-1 16h2m-5-13h2m5 0h2m-9-3h2m-7 1h2m7 15h2m-8-13h2m0 9h2m-8-8h2m4 9h2m-2-1h2m-7-15h2m4 8h2m-3 3h2m0-2h2m2 4h2m-6 3h2m0-1h2m-13-6h2m12 6h2m-7 0h2m-7-6h2m-2 9h2m2 4h2m-1 0h2m-2-15h2m3 7h2m-4 0h2m-8-1h2m-5-6h2m-1 3h2m-4 2h2m4 11h2m4-11h2m-6-1h2m-3 1h2m-6 1h2m-6 2h2m3-8h2m-2 8h2m-4 0h2m3 6h2m-8-9h2m4 8h2m-3-4h2m-9-6h2m11 1h2m0-2h2m-12-5h2m2 10h2m3-1h2m-11-8h2m-1 12h2m1 2h2m-2-7h2m-3 1h2m-9 8h2m4-14h2m-1 7h2m0 6h2m-18-5h2m16-7h2m-15 6h2m6 0h2m-7-4h2m3 6h2m6-2h2m-13-14h2m4 12h2m-6-4h2m1-5h2m-5 10h2m-1 6h2m-3-6h2m1-8h2m-6 8h2m3-5h2m-3 7h2m-11-10h2m-2 8h2m5 3h2m0-6h2m-1 7h2m-4-2h2m-9-1h2m-1-8h2m1 7h2m-1-2h2m-6 3h2m-1-9h2m1 15h2m-4-13h2m6 14h2m-9-9h2m0 16h2m-2-10h2m-1-15h2m-8 3h2m4 7h2m3-2h2m-8 2h2m-2 12h2m-2-5h2m2-11h2m-4 2h2m-5 2h2m-2-3h2m4 1h2m-5 10h2m-3-3h2m2 0h2m-1-13h2m-1 8h2m-17-4h2m-1 3h2m-2-5h2m5 6h2m-6-2h2m1 2h2m-2-2h2m2-7h2m-8 9h2m-2-3h2m-2 4h2m5-2h2m-8 2h2m-2-11h2m0 8h2m-5 5h2m0-6h2m-11-6h2m7 8h2m0 2h2m-6-8h2m-4 6h2m-3 5h2m-2-14h2m2 0h2m6 4h2m-9 4h2m-5-8h2m-6 14h2m9 7h2m-12-8h2m4 1h2m-4-1h2m4 0h2m0-4h2m-2-3h2m-1-11h2m-9 10h2m-2 10h2m1-5h2m2-8h2m-12 15h2m2-18h2m-2 4h2m3 13h2m-10 0h2m-3-2h2m3-5h2m-10-1h2m-5-1h2m0 9h2m1-19h2m4 15h2m-6 9h2m3-11h2m-8-16h2m3 21h2m-6-13h2m0-1h2m-2 13h2m4-3h2m-7 2h2m3-5h2m-13-3h2m-2 0h2m3 6h2m-1-1h2m-4 2h2m3 2h2m0-6h2m-9 10h2m0-6h2m-4 3h2m-3-11h2m0 3h2m1 1h2m-5 0h2m-1-2h2m1-4h2m-8 4h2m3 4h2m-3-2h2m-7-4h2m0 3h2m0 4h2m1-2h2m-9-5h2m1 7h2m6 0h2m-3 8h2m-13-3h2m7 1h2m-7-2h2m-4-6h2m0 10h2m-3-4h2m-1-9h2m-1 7h2m-6 0h2m-2-8h2m2 3h2m-7-7h2m2 10h2m-4 0h2m-6 1h2m6-1h2m-6-1h2m1 5h2m-2-4h2m-6 3h2m6-7h2m-4 4h2m-5-8h2m5-3h2m-8 8h2m2-1h2m-7 6h2m0-6h2m-1-10h2m-1-3h2m-6 0h2m-4 3h2m2 4h2m-4-4h2m2-2h2m-5 1h2m-5-4h2m4 4h2m-6-5h2m-1 9h2m-6-8h2m5 9h2m0-8h2m-5 0h2m-3 1h2m-3 7h2m-1-6h2m-3 2h2m-4-1h2m2 6h2m-11-11h2m1 8h2m9-3h2m-9 4h2m-10-5h2m-4 1h2m6-2h2m1-1h2m0 3h2m-4 10h2m-5-7h2m-3 2h2m4-5h2m-2 6h2m-1-6h2m-7 4h2m-6-7h2m4 5h2m3 5h2m-7-6h2m-8-2h2m3 0h2m-2 3h2m-5-5h2m-5 7h2m0-11h2m4 6h2m-1-1h2m1 4h2m-8-2h2m-3 3h2m5-5h2m-12 4h2m5-8h2m-8 2h2m2 6h2m-6-7h2m3-4h2m-2 8h2m2 5h2m-10-5h2m-1-2h2m-1 6h2m-7-4h2m7 4h2m-9-7h2m-2-3h2m4 7h2m-8-6h2m-1 4h2m5 0h2m-7 6h2m0-5h2m-11 6h2m6-7h2m-4-2h2m-4-2h2m2 8h2m-3 1h2m-1-3h2m-6 2h2m4 0h2m-1-4h2m-9 7h2m-1-4h2m-1-1h2m-2-3h2m-7 10h2m4-15h2m-5 3h2m-2-5h2m2 16h2m-4-3h2m0-8h2m0-2h2m-7 5h2m4 2h2m-7-4h2m-1 4h2m0 5h2m-2-5h2m-5 6h2m-1-6h2m3 6h2m-6-7h2m-5 5h2m-2-1h2m-3-3h2m2 0h2m-3 1h2m-6-6h2m1 12h2m-2-11h2m-3 4h2m3-3h2m-4 3h2m-5-4h2m-1 1h2m0-4h2m0 10h2m-4 2h2m-2-12h2m-3 8h2m-5 19h2m1 20h2m-5-9h2m-2-4h2m-1 19h2m-6-16h2m7 7h2m-6 6h2m-5-24h2m-4-2h2m3 27h2m-4-18h2m1 15h2m-3-30h2m-4-7h2m0 20h2m-4 27h2m3-12h2m-5-3h2m-4-3h2m5-10h2m-9 12h2m2 8h2m-7-11h2m0-13h2m-1 9h2m0 11h2m-7-4h2m0-9h2m-3 20h2m-2-32h2m-3 29h2m6-22h2m-8 9h2m-5 8h2m1-1h2m5-7h2m-6 13h2m-6-16h2m4 15h2m-6-21h2m0 19h2m2 11h2m-6-14h2m-4-10h2m-2 9h2m-1 10h2m-3-19h2m0 25h2m-7-13h2m2 1h2m-2-7h2m-4 20h2m3-36h2m-13 22h2m3-11h2m-5 10h2m2-11h2m1 35h2m0-15h2m-8-6h2m-1 6h2m0-14h2m-2-8h2m-1 26h2m-5-11h2m-6 5h2m5-23h2m0 13h2m-11-17h2m5 12h2m-1-14h2m-6 29h2m-3-3h2m-1-4h2m-1 22h2m-6-17h2m5-23h2m-5 41h2m0-62h2m-5 15h2m-1 11h2m-4-1h2m0 4h2m-5 3h2m2-7h2m0-10h2m-4 15h2m1-3h2m-8-8h2m5 23h2m-10-11h2m-2 21h2m2-41h2m-3 34h2m-2-5h2m-3-3h2m-1-11h2m-1 11h2m-4-10h2m-4 10h2m3-31h2m-6 44h2m2-24h2m-1-3h2m-8 34h2m-1-25h2m-5-9h2m-1 10h2m-3 14h2m2-19h2m-3 15h2m4-13h2m-2 23h2m-3-15h2m-9 4h2m0-5h2m-6-6h2m4-7h2m-2 30h2m-2-27h2m4-18h2m-11 30h2m-1-31h2m0 36h2m-5 8h2m2-3h2m-8-14h2m7 23h2m-3-23h2m-5-8h2m1-1h2m-5-16h2m-7 45h2m3-18h2m-8-3h2m9-17h2m-14 16h2m3-1h2m-4-13h2m-2 23h2m1 2h2m-4-2h2m-1-6h2m2-1h2m-5-20h2m-1 29h2m-4-10h2m-5-15h2m4 31h2m-4-35h2m-2 1h2m-2 41h2m-1-24h2m0-3h2m-3 7h2m-2-20h2m-1 28h2m-11-42h2m2 49h2m1-9h2m-1 2h2m-5-17h2m1 14h2m-2-3h2m-5 9h2m1-1h2m-10 0h2m-2-10h2m3-1h2m-2-5h2m0 8h2m-5-34h2m-2 36h2m-2-1h2m0-17h2m2 31h2m-6-20h2m1-15h2m-7 29h2m3-19h2m-7 10h2m-3-10h2m1-24h2m0 39h2m0-26h2m-9 7h2m-2 34h2m-1-28h2m1 9h2m2-18h2m-4 14h2m-8 0h2m-2 18h2m0-7h2m3-20h2m-8 9h2m-2 9h2m1-19h2m-4 17h2m-4 12h2m-1-23h2m-2 22h2m3-4h2m-3-14h2m1 7h2m-5-2h2m-1-3h2m-5-22h2m4 3h2m-13 7h2m9 23h2m-9-11h2m0-27h2m-3 27h2m2-18h2m-12-4h2m6 20h2m-3 0h2m-3-18h2m0 21h2m-2 11h2m-7-43h2m-3 53h2m0-21h2m-25-39h2m31-4h2m-41-2h2m11 50h2m-24-18h2m26 22h2m8-29h2m21 13h2m-42-18h2m42 40h2m-4-26h2m-59-32h2m16 44h2m-30 9h2m56-24h2m-60 24h2m28-11h2m10 5h2m-14 20h2m13-55h2m-19-4h2m36 44h2m-10 3h2m13-12h2m-52 6h2m-6-12h2m-9 21h2" stroke="#2c44c0" stroke-opacity=".5" stroke-width="1.5"/>
<ellipse cx="148.5" cy="478.6" rx="3.4" ry="3.5" fill="url(#gH)"/>
<ellipse cx="174.1" cy="461.3" rx="2.8" ry="2" fill="url(#gL)"/>
<ellipse cx="174.3" cy="454.8" rx="1.6" ry="1.8" fill="url(#gVL)"/>
<rect x="135.5" y="440.5" width="56" height="51" fill="none" stroke="#999" stroke-width="1"/>
<line x1="162.3" y1="440.5" x2="162.3" y2="491.5" stroke="#666" stroke-width="1"/>
<line x1="135.5" y1="469.5" x2="191.5" y2="469.5" stroke="#555" stroke-width="1"/>
<text x="137.5" y="446.9" font-size="6.3" text-anchor="start" fill="#231f20">0,085</text>
<text x="188.7" y="446.9" font-size="6.3" text-anchor="end" fill="#231f20">25,7</text>
<text x="137.5" y="487.9" font-size="6.3" text-anchor="start" fill="#231f20">70,5</text>
<text x="188.7" y="487.9" font-size="6.3" text-anchor="end" fill="#231f20">3,75</text>
<text x="148.8" y="498.7" font-size="6.3" text-anchor="middle" fill="#231f20">0</text>
<text x="166.5" y="498.7" font-size="6.3" text-anchor="middle" fill="#231f20">10<tspan font-size="4.4" dy="-2.4">3</tspan></text>
<text x="180.1" y="498.7" font-size="6.3" text-anchor="middle" fill="#231f20">10<tspan font-size="4.4" dy="-2.4">4</tspan></text>
<text x="133.7" y="452.8" font-size="5.9" text-anchor="end" fill="#231f20">10<tspan font-size="4.2" dy="-2.4">4</tspan></text>
<text x="133.7" y="464.9" font-size="5.9" text-anchor="end" fill="#231f20">10<tspan font-size="4.2" dy="-2.4">3</tspan></text>
<text x="131.5" y="480.7" font-size="6.3" text-anchor="end" fill="#231f20">0</text>
<line x1="134.1" y1="450.7" x2="135.5" y2="450.7" stroke="#333" stroke-width="0.6"/>
<line x1="134.1" y1="463.1" x2="135.5" y2="463.1" stroke="#333" stroke-width="0.6"/>
<line x1="134.1" y1="475.9" x2="135.5" y2="475.9" stroke="#333" stroke-width="0.6"/>
<line x1="134.1" y1="477.9" x2="135.5" y2="477.9" stroke="#333" stroke-width="0.6"/>
<line x1="134.1" y1="479.9" x2="135.5" y2="479.9" stroke="#333" stroke-width="0.6"/>
<line x1="147.1" y1="491" x2="147.1" y2="492.4" stroke="#333" stroke-width="0.6"/>
<line x1="148.5" y1="491" x2="148.5" y2="492.4" stroke="#333" stroke-width="0.6"/>
<line x1="149.9" y1="491" x2="149.9" y2="492.4" stroke="#333" stroke-width="0.6"/>
<line x1="165.3" y1="491" x2="165.3" y2="492.4" stroke="#333" stroke-width="0.6"/>
<line x1="178.7" y1="491" x2="178.7" y2="492.4" stroke="#333" stroke-width="0.6"/>
<ellipse cx="219.05" cy="478.6" rx="4.2" ry="4.2" fill="#3f5fd0" fill-opacity="0.5" filter="url(#bl)"/>
<ellipse cx="229.75" cy="478.6" rx="9" ry="1.8" fill="#3f5fd0" fill-opacity="0.22" filter="url(#bl)"/>
<ellipse cx="244.25" cy="462.3" rx="3.8" ry="10" fill="#3f5fd0" fill-opacity="0.32" filter="url(#bl)"/>
<path transform="scale(.5)" d="M434 957h2m3-1h2m2-2h2m-4 9h2m-13-10h2m2 2h2m3 1h2m-3-1h2m-3 4h2m1-5h2m-5 0h2m-2-3h2m2 9h2m-6-6h2m-3 0h2m-6 10h2m16-12h2m-19 8h2m5-9h2m-12 8h2m-2 4h2m4-5h2m-1-3h2m-2 1h2m3 1h2m-7-2h2m-4-1h2m1 11h2m2-7h2m0 3h2m-8-4h2m-7 1h2m1-7h2m0 8h2m-2-4h2m-1 7h2m-5-3h2m3-4h2m-5-1h2m0 2h2m0-2h2m0 2h2m-12-3h2m4 1h2m2 9h2m-7-12h2m-4 3h2m-8 5h2m13-4h2m-7 8h2m-9-7h2m3 3h2m-8-1h2m2 3h2m-8-6h2m3 1h2m2-1h2m6-1h2m-9 7h2m-2-5h2m-9 0h2m4 2h2m-2 2h2m-8-7h2m7 2h2m-11-2h2m5-1h2m-9 10h2m2 6h2m-2-11h2m-5-1h2m-1 1h2m2-5h2m-8-4h2m7 9h2m-8 0h2m2 2h2m-2-3h2m-6 1h2m-9 5h2m0-9h2m6 4h2m-1 7h2m2-1h2m-10 3h2m-5-9h2m5-1h2m-6 0h2m4-9h2m-3 15h2m-7-2h2m-5 2h2m13-9h2m-8 4h2m-9-2h2m-1-3h2m-7 12h2m3-4h2m0-1h2m-9-6h2m6 8h2m-9-6h2m-2 5h2m4-3h2m-6 2h2m1-5h2m-1 0h2m0 6h2m-8 0h2m1-6h2m-6-4h2m-3 9h2m7-4h2m-6 4h2m0 0h2m0 1h2m-9-1h2m-8-3h2m7 4h2m-4 1h2m5-7h2m-10 4h2m2 0h2m0-6h2m-3 10h2m0-3h2m-7 0h2m-2-8h2m-4 6h2m-1-4h2m-1 3h2m-1 1h2m-2 4h2m-2-2h2m-7-14h2m1 15h2m-2-5h2m-5 6h2m0-3h2m5 1h2m2-2h2m-7 3h2m-8-3h2m-2-4h2m2 1h2m3 0h2m-11 4h2m-1-1h2m-3-6h2m-9 1h2m13 7h2m-7-4h2m-3 3h2m-7-4h2m0 8h2m-3 0h2m2-5h2m4 4h2m-4-8h2m-1 11h2m-7-9h2m-6 6h2m4-4h2m-8 7h2m6-7h2m0-4h2m-4 0h2m0 3h2m-3-1h2m-5 7h2m-7-4h2m-2 3h2m-1-5h2m0 6h2m-5-5h2m0-2h2m-3 2h2m1-6h2m-2 1h2m-2 15h2m-6-10h2m1 4h2m-3-11h2m-7 8h2m5 4h2m-5-2h2m-4 3h2m2-9h2m-1 11h2m-6-13h2m-2 0h2m1 7h2m-2-1h2m3-2h2m-11-8h2m3 6h2m-3 5h2m0-8h2m-7 7h2m1 4h2m-3-13h2m4 1h2m-10 9h2m2 0h2m0-5h2m0-4h2m-9 8h2m1-5h2m4 10h2m-12-4h2m-1-4h2m4 3h2m-6 0h2m-6 4h2m0 1h2m-1-8h2m5 3h2m-10-3h2m3 10h2m-2-9h2m-9-2h2m2 4h2m-4 5h2m-3-9h2m3 5h2m-5 2h2m-6 3h2m12 1h2m-10 0h2m-2-2h2m-3-5h2m0-8h2m-4 14h2m-13-5h2m13 0h2m-5 4h2m-1-14h2m-7 7h2m2-1h2m-3 9h2m-13-2h2m13-2h2m-5-3h2m-1 1h2m-6 2h2m-3-3h2m0-5h2m2 5h2m-9 0h2m-3 6h2m5 3h2m-6-6h2m-3-6h2m1 5h2m2-3h2m-1 5h2m-10-5h2m-2 8h2m-1-3h2m4-5h2m-7 3h2m-3-7h2m-3 7h2m2 6h2m-9-6h2m0 3h2m5-4h2m1-2h2m-10-3h2m-2 5h2m3 5h2m-6-9h2m-2 1h2m-2 1h2m-4 1h2m0-1h2m-6 2h2m6 2h2m-7-8h2m-4 0h2m0 4h2m-6 4h2m-1-6h2m1 7h2m7-5h2m-10 0h2m-1 0h2m8-3h2m-12 1h2m0 1h2m-1-2h2m3 5h2m-16 2h2m3-8h2m1 3h2m-1 0h2m-1 3h2m-4 0h2m-5-2h2m1 4h2m3-8h2m-4 5h2m-6-3h2m4 0h2m-9 0h2m6 8h2m-14-7h2m4 0h2m-5-2h2m0 0h2m1 14h2m-7-3h2m1-10h2m-5-1h2m0 7h2m1-4h2m-10 1h2m9 1h2m-9-9h2m-3 10h2m-4 4h2m-1-9h2m-2 3h2m4-2h2m-12 2h2m6 7h2m-8-1h2m5-4h2m-7-5h2m-3 7h2m2 1h2m4-5h2m-9 8h2m-6-10h2m1 1h2m0-2h2m2-2h2m-10-2h2m-4 10h2m6-4h2m-1 4h2m-8-3h2m2 8h2m-3-6h2m4 5h2m-3-1h2m-11-7h2m-7 1h2m23 2h2m-15 0h2m-2-9h2m-7 6h2m3-3h2m-3 0h2m-9 1h2m1 8h2m10-2h2m-11-6h2m-10 0h2m17 10h2m-10-8h2m-3 4h2m-3 0h2m-6-3h2m0 6h2m-7 1h2m5-10h2m-1 4h2m-4 2h2m-4-12h2m6 9h2m3 2h2m-23 5h2m5-4h2m16 3h2m-22-6h2m-5 4h2m11-9h2m-3 10h2m0-8h2m-11-3h2m-5 8h2m6 5h2m-1-9h2m-3 2h2m-8-5h2m7 0h2m-2 9h2m-8-13h2m3 17h2m-9-15h2m9 8h2m-12 6h2m0-4h2m-3-7h2m2 0h2m-14 1h2m16 9h2m3 0h2m-5-4h2m-14 1h2m-5 1h2m1-2h2m-5-2h2m9-1h2m-11 3h2m7-3h2m-14-7h2m-3 14h2m5-3h2m5-1h2m-6-4h2m-14 6h2m7-1h2m-8-4h2m16-3h2m-13 11h2m-4-6h2m-13 3h2m8 3h2m0-9h2m1 1h2m-8 10h2m7-8h2m-3 4h2m-3-4h2m-5 1h2m1 0h2m-9-2h2m4-5h2m-5 9h2m-1-5h2m-3-1h2m4 0h2m-17-4h2m9 7h2m-6-8h2m0 3h2m-5 4h2m-3 2h2m-2-4h2m1 10h2m6-7h2m3-4h2m-6 0h2m19 3h2m-14-4h2m-6 7h2m24 3h2m-4-11h2m-26 7h2m-4-5h2m26 0h2m-17-1h2m-20 5h2m5-2h2m11 2h2m1 2h2m-24-3h2m12-1h2m4 1h2m-19-1h2m26-1h2m-23 4h2m10-2h2m-13-4h2m4 3h2m12 1h2m-2 2h2m-20-10h2m12 8h2m-7 4h2m6-1h2m-26-7h2m17 2h2m-17 3h2m13 2h2m-6-7h2m-20 6h2m-1 1h2m3-2h2m11 0h2m-19 1h2m20-4h2m-22 2h2m-12 3h2m13-3h2m14 0h2m-20 7h2m-7-7h2m-1 1h2m14-1h2m-7-2h2m-12 2h2m22-5h2m-5 11h2m-29-5h2m19-1h2m2-1h2m-2-2h2m-26 1h2m7 2h2m-10-1h2m20-2h2m-8-2h2m5 2h2m-11 0h2m-9 8h2m-12-7h2m28 6h2m-12-7h2m3-2h2m-14 1h2m-7 5h2m-10-4h2m3 0h2m14 4h2m-22-2h2m11-2h2m35-25h2m-12-4h2m-8 5h2m15-6h2m-11-2h2m-3-5h2m-2 11h2m-4 0h2m-7-9h2m3 1h2m5-4h2m-3 2h2m-7-10h2m-11 16h2m11 1h2m-5 3h2m-1-1h2m-10 6h2m3-17h2m-4 12h2m2-6h2m4 7h2m-6-11h2m-1 2h2m-4 1h2m-12-1h2m5-7h2m-6 19h2m3 2h2m1-14h2m-8 12h2m-3-6h2m0-8h2m-2 2h2m8-1h2m-12-9h2m-2 1h2m-4-4h2m-3 22h2m4-15h2m-5 16h2m-1-15h2m0-1h2m-4 9h2m-1-5h2m7 14h2m-8-1h2m-3-7h2m-7-4h2m4 1h2m-10-2h2m1-8h2m-5 14h2m-8-2h2m15-4h2m-5 5h2m-7-10h2m-2 10h2m0-2h2m4 4h2m-9 0h2m-4-16h2m-2 17h2m3-3h2m-1-4h2m2 0h2m-10 5h2m-6 4h2m10-5h2m-11 8h2m-3-9h2m2 7h2m-9 0h2m9-6h2m-13 7h2m-7-13h2m17 9h2m-11-8h2m-7 8h2m0-5h2m6-2h2m-6 10h2m-9-7h2m13-2h2m-12 3h2m-7-2h2m7-1h2m4-8h2m-8 11h2m-2-8h2m4 8h2m-8-1h2m-6-2h2m-1 2h2m6 4h2m-12-6h2m2-1h2m0 5h2m-12-1h2m0-2h2m1-3h2m3 2h2m3 3h2m-6-4h2m3-2h2m-15-5h2m10 15h2m-11-16h2m-4 10h2m5 6h2m-2-5h2m-8-16h2m6 10h2m-7 12h2m-11-8h2m8-4h2m-9 13h2m0-10h2m7 1h2m-3-11h2m-4 23h2m-10-25h2m5 23h2m4-16h2m-17-7h2m13 25h2m-8-8h2m-8-1h2m0-1h2m-5-4h2m5 6h2m-11 11h2m12-12h2m-4-8h2m-3 17h2m-13-14h2m2 5h2m3-9h2m-4-7h2m3 10h2m-4 2h2m-3 10h2m-6-13h2m-1 6h2m4-6h2m-6 13h2m-3-7h2m0 2h2m0 0h2m-15-2h2m15-7h2m-7 5h2m-5 9h2m1-9h2m-9 11h2m-2-10h2m4-7h2m-6 8h2m2-2h2m-3 1h2m-9-1h2m9 2h2m-4 4h2m3-13h2m-7 3h2m2-1h2m-12 1h2m5 11h2m6-9h2m-19 2h2m2 0h2m2 2h2m-5-11h2m2 12h2m-13-3h2m9 0h2m-9 1h2m-3 1h2m-3 6h2m-9-18h2m20 23h2m-11-4h2m-1-15h2m2 6h2m-5 3h2m-10-1h2m-2 9h2m5-8h2m2 3h2m-7-9h2m-9 1h2m1 3h2m-5 2h2m10-9h2m-12 9h2m6-3h2m-4-4h2m3 3h2m-10 2h2m-3 1h2m-2 3h2m2-8h2m-4 14h2m-9-11h2m13-1h2m-15 2h2m15 1h2m-14-3h2m2 4h2m-1 0h2m-7 1h2m-5 10h2m2-13h2m1 5h2m-3-2h2m-3-2h2m3-5h2m-7-5h2m-5 9h2m-5 9h2m-2-14h2m1 4h2m2 7h2m-9 5h2m9-9h2m-9-3h2m-5-9h2m0 7h2m4 2h2m-9-3h2m-3 8h2m1-4h2m-3 0h2m2 5h2m0 0h2m1 2h2m-6-5h2m-7 1h2m7-15h2m-8 10h2m0 8h2m-7 6h2m-3-9h2m6 0h2m-8 3h2m-8-5h2m-2 11h2m11-4h2m-4-8h2m-10-2h2m-3 3h2m1 5h2m-2-3h2m-5-1h2m-1-3h2m1-1h2m-1 8h2m-8-19h2m9 27h2m-11-6h2m5-8h2m-12 13h2m6-19h2m-1 8h2m-8 11h2m3-13h2m-2 12h2m8-12h2m-17 8h2m9-11h2m-15 8h2m7-4h2m-6-2h2m-1 4h2m-3 8h2m-4-11h2m-1-2h2m-6-1h2m4-6h2m-3 17h2m5-11h2m-7 4h2m2-5h2m-12 10h2m-1-22h2m0 17h2m0-3h2m1 7h2m-2 8h2m-3-24h2m-4 9h2m-10 3h2m2-1h2m-2-6h2m-1 7h2m-2-6h2m8 11h2m-21-3h2m12 5h2m0-8h2m-13 2h2m-1-13h2m0 7h2m-4-1h2m1 6h2m-5 4h2m7-10h2m-3 1h2m-6 0h2m3-6h2m3 11h2m-10-1h2m-7-7h2m4 5h2m-1 14h2m-4-7h2m-4-9h2m0 16h2m1-9h2m-8-3h2m8 2h2m-14-5h2m5 7h2m-13-2h2m5-15h2m-8 12h2m1 3h2m4-2h2m-5 4h2m-7-15h2m6 19h2m-6-1h2m4-10h2m-4 12h2m-7-5h2m4-7h2m1 1h2m-3 4h2m-9-2h2m-4 14h2m-1-17h2m7 8h2m-4-10h2m-10 5h2m4 6h2m1-3h2m-3-11h2m-12 4h2m4 1h2m-3 4h2m-3-1h2m5 3h2m-8-1h2m2 0h2m0-9h2m-2 2h2m-4-2h2m0 12h2m-9-1h2m-1 3h2m-1-9h2m-6 2h2m5 5h2m-7-6h2m-4-2h2m2 6h2m2-5h2m-11 11h2m4-10h2m-2 1h2m1 4h2m-11-5h2m7 0h2m-2-4h2m1 8h2m-15 4h2m0-5h2m3 1h2m1-13h2m-7 6h2m-3 5h2m13 0h2m-19 15h2m6-16h2m3 7h2m-6-14h2m1 7h2m-7 4h2m3 5h2m-10-10h2m-5 1h2m3 2h2m-4-5h2m-4 6h2m5 1h2m-8 1h2m5-8h2m-12 8h2m11-2h2m-9-2h2m1-21h2m-5 4h2m-10 0h2m5 2h2m-3-1h2m1-6h2m-8 9h2m4 2h2m-8 1h2m6-4h2m-9 2h2m5-4h2m-4 3h2m-1 1h2m-2-9h2m-6-1h2m3 10h2m-4 5h2m-7-2h2m-2-14h2m0 6h2m-2 2h2m1 2h2m-6-7h2m3 10h2m-2-3h2m-11 0h2m2 2h2m5-6h2m-10 0h2m3 4h2m-7-1h2m-2-4h2m5 2h2m-13-3h2m10-4h2m-3 8h2m-10-3h2m4 9h2m-8-7h2m4 4h2m5 4h2m-9-13h2m-5 1h2m-2 3h2m-1 3h2m-3 3h2m3-9h2m-11 1h2m-5 4h2m6 0h2m4 3h2m-4-3h2m-8-10h2m-1 10h2m-5-4h2m2 11h2m-3-9h2m-4 1h2m-3 2h2m-1 4h2m-3-11h2m4 7h2m-8-1h2m2 5h2m-5-14h2m2 11h2m0-4h2m-11-8h2m12 9h2m-11 2h2m0-5h2m-4 3h2m3 9h2m-2-5h2m-10-7h2m3 0h2m-5 14h2m-1-12h2m-8 4h2m6-4h2m-1-10h2m1 17h2m-15-5h2m9 3h2m-4 2h2m-1-7h2m1-4h2m-9 3h2m6 0h2m-13-2h2m4 4h2m-2-5h2m-2 9h2m4 3h2m-14-4h2m-1-1h2m5-2h2m-15 1h2m8-3h2m1 1h2m-6 4h2m-4 1h2m-1-4h2m2 6h2m-5-5h2m-2-7h2m-2 17h2m-2-7h2m1 2h2m-4-2h2m-3 7h2m0-11h2m2-3h2m-3 13h2m-9-7h2m-1-2h2m-1-10h2m3 9h2m-2-2h2m-7 1h2m-6 10h2m8-2h2m-4-8h2m-3 15h2m2-12h2m-12 2h2m-7 1h2m5-5h2m4 8h2m-7-11h2m-7-1h2m7 6h2m-7-1h2m-1-6h2m-2 12h2m6-9h2m-8-2h2m0 4h2m-5 6h2m1-3h2m-3 1h2m-11-1h2m4 5h2m-1-11h2m-4 8h2m1-4h2m2 3h2m-7 3h2m1-4h2m-3-14h2m0 10h2m-3-1h2m-5-3h2m1 2h2m1 4h2m-6-4h2m-7 5h2m0-2h2m-6-1h2m4-4h2m-7 1h2m3 2h2m-7 0h2m3-3h2m-2 17h2m-10-15h2m4 5h2m4-2h2m-10-5h2m-12-2h2m16 2h2m-5 8h2m-6-10h2m9 11h2m-11 12h2m-3 1h2m-9 18h2m4 4h2m-1-6h2m-2-14h2m-3 24h2m5-33h2m-4 15h2m-3 2h2m-6 9h2m-2 0h2m2 10h2m-8-1h2m1-26h2m-7 33h2m6-28h2m-3 0h2m-3 38h2m-4-9h2m-4-19h2m-1 24h2m1-30h2m-8 4h2m5 17h2m-7-3h2m1-13h2m-1 28h2m-5-25h2m-1-5h2m-1 1h2m-9 9h2m-2-4h2m5 18h2m1-12h2m-9-5h2m9 5h2m-7 27h2m-4-52h2m1 23h2m-10 15h2m2 7h2m-6-10h2m5-16h2m-1-21h2m4 32h2m-10 16h2m5-47h2m-10-2h2m-3 14h2m2 6h2m-11 8h2m1 4h2m-4-22h2m1 6h2m-1 13h2m0-6h2m-3-6h2m-8-2h2m2 2h2m-7-3h2m3-4h2m-2 10h2m2 12h2m-8-5h2m1-8h2m3 11h2m-5-23h2m-5 27h2m-3-24h2m-3 13h2m-2 31h2m2-32h2m-4 5h2m1-10h2m-5 17h2m0-4h2m-2-15h2m-1 15h2m-3-9h2m1-10h2m-4 9h2m-3 11h2m-8-11h2m4 3h2m5-10h2m-9 18h2m-9 0h2m7-16h2m-5-1h2m3-1h2m-11-1h2m0 11h2m1 10h2m-9-8h2m4-4h2m-4-5h2m2 19h2m-9-9h2m0 3h2m0-24h2m-3 17h2m4 16h2m-2-15h2m-4-5h2m2-7h2m-11 22h2m-3-9h2m7 1h2m-4-2h2m-3-17h2m3 12h2m-10 6h2m4-6h2m-7 15h2m1-16h2m-5 5h2m-4-14h2m-2-3h2m8 6h2m-7-13h2m-6 43h2m-1-39h2m-3-1h2m-7 40h2m3-17h2m4-11h2m-6 9h2m-5-5h2m-4-13h2m5 11h2m-15 27h2m8-23h2m4-27h2m-7 18h2m-1 24h2m-3-23h2m-3 20h2m1-4h2m-4-17h2m-1-4h2m-4 10h2m0 20h2m-3-6h2m-3-16h2m1 6h2m-9 1h2m2 5h2m0-14h2m-1-15h2m2 9h2m-7 31h2m-5-35h2m-4 17h2m2 16h2m-4-18h2m-1 3h2m-5-6h2m-1 17h2m-1-14h2m7 5h2m-7-35h2m-4 40h2m-1-5h2m-5-19h2m3 13h2m-12 23h2m10-32h2m-2-11h2m-6 15h2m-3 18h2m1-2h2m-5 5h2m-6-7h2m0-18h2m0 21h2m-1 10h2m-6-34h2m0 36h2m-8-23h2m4 9h2m-3-5h2m1-16h2m-4 2h2m0 26h2m1-22h2m-7 24h2m-9 16h2m1-20h2m4-19h2m-3 8h2m-10 10h2m9 15h2m-7-30h2m0-8h2m-1 15h2m-6-8h2m11 23h2m-12 0h2m1-41h2m-2 29h2m2-4h2m-8 4h2m-3-29h2m4 13h2m-4 26h2m-6-20h2m-3-6h2m-3 1h2m5 8h2m-9 6h2m0-5h2m3 33h2m-9-27h2m-2 1h2m-6-44h2m6 34h2m-6 6h2m1-14h2m-7 14h2m1 31h2m-1-33h2m0 5h2m-6 2h2m-8-22h2m4 32h2m0-32h2m-7 10h2m2 9h2m4 2h2m-7-6h2m4-10h2m-9 26h2m-3-14h2m4 6h2m-9-22h2m2 32h2m-4-11h2m3-12h2m-3 5h2m-6-10h2m-2-7h2m-5 1h2m3 14h2m-1-12h2m-5 18h2m5-15h2m-8 11h2m4 24h2m-13-23h2m4-2h2m-4 13h2m-6-18h2m6 4h2m-7-11h2m4 7h2m-11 13h2m4-7h2m-3-9h2m-6 23h2m-1-2h2m-1-21h2m-1-18h2m0 27h2m-3-4h2m-1-6h2m-7-17h2m3 28h2m-5 18h2m1-33h2m-6 11h2m0-18h2m1 19h2m-5 21h2m4-25h2m-12 15h2m-14 6h2m5-3h2m2-8h2m3 6h2m-2 6h2m-12-3h2m6-11h2m-8 4h2m-5 10h2m11-3h2m-2 1h2m-1 3h2m-5-11h2m-15 6h2m6 3h2m-5 1h2m1 1h2m5 0h2m9-14h2m-21 5h2m2 0h2m-11 0h2m8-2h2m1 6h2m-3-6h2m-5 9h2m-1 0h2m-4-3h2m-7 4h2m7 0h2m-13 2h2m8-10h2m-9 1h2m-4 5h2m13 0h2m-7 1h2m-12-10h2m4 3h2m-1 3h2m-3 0h2m0 9h2m-4-10h2m-4 4h2m-3 0h2m-7-8h2m0 5h2m16-6h2m-16 8h2m-3-5h2m5 11h2m0-9h2m-14-6h2m1 11h2m4-5h2m-11-1h2m5 4h2m6-6h2m1 13h2m-23-9h2m15 4h2m-6 1h2m-2 2h2m-8-9h2m4 4h2m-6 3h2m-11 5h2m14-12h2m-13-2h2m6-3h2m-8 10h2m-3 5h2m2-11h2m-10 5h2m7 2h2m-7-14h2m4 13h2m4 2h2m-8-5h2m-8 1h2m-14 3h2m4 3h2m4-14h2m-2 10h2m-6-4h2m2 0h2m6 6h2m-15-8h2m25 5h2m-20-2h2m0 4h2m-6-9h2m7 0h2m-11 1h2m2 8h2m-6-8h2m-2 6h2m2-9h2m-5 6h2m-1 4h2m-4-1h2m-2-3h2m-3 1h2m7 1h2m-15-4h2m7 0h2m-5 6h2m-3 1h2m5-7h2m0 9h2m-7-11h2m6 4h2m-6 0h2m-2 0h2m0-4h2m-6 4h2m0-4h2m-12 3h2m-4 4h2m5 0h2m0 1h2m3-7h2m1 5h2m-9 1h2m-3-4h2m-28 7h2m29-33h2m-7 20h2m-14-49h2m-8 73h2m-1-26h2m-23 12h2m55-35h2m-38 12h2m-11-25h2m-11 40h2m26 23h2m31-7h2m-3-3h2m-70-60h2m68 63h2m-28-21h2m-16-17h2m-23 10h2m8-36h2m41 39h2m-1-24h2m-24-2h2m16-6h2m-15 30h2m-26-41h2m10 38h2m22-27h2m-48 9h2m43-7h2" stroke="#2c44c0" stroke-opacity=".5" stroke-width="1.5"/>
<ellipse cx="218.75" cy="478.6" rx="3.4" ry="3.5" fill="url(#gH)"/>
<ellipse cx="244.35" cy="461.3" rx="3" ry="2.2" fill="url(#gM)"/>
<ellipse cx="244.55" cy="454.8" rx="1.8" ry="2" fill="url(#gVL)"/>
<rect x="205.5" y="440.5" width="56" height="51" fill="none" stroke="#999" stroke-width="1"/>
<line x1="232.55" y1="440.5" x2="232.55" y2="491.5" stroke="#666" stroke-width="1"/>
<line x1="205.5" y1="469.5" x2="261.5" y2="469.5" stroke="#555" stroke-width="1"/>
<text x="207.75" y="446.9" font-size="6.3" text-anchor="start" fill="#231f20">0,077</text>
<text x="258.95" y="446.9" font-size="6.3" text-anchor="end" fill="#231f20">36,4</text>
<text x="207.75" y="487.9" font-size="6.3" text-anchor="start" fill="#231f20">57,5</text>
<text x="258.95" y="487.9" font-size="6.3" text-anchor="end" fill="#231f20">6,01</text>
<text x="219.05" y="498.7" font-size="6.3" text-anchor="middle" fill="#231f20">0</text>
<text x="236.75" y="498.7" font-size="6.3" text-anchor="middle" fill="#231f20">10<tspan font-size="4.4" dy="-2.4">3</tspan></text>
<text x="250.35" y="498.7" font-size="6.3" text-anchor="middle" fill="#231f20">10<tspan font-size="4.4" dy="-2.4">4</tspan></text>
<text x="203.95" y="452.8" font-size="5.9" text-anchor="end" fill="#231f20">10<tspan font-size="4.2" dy="-2.4">4</tspan></text>
<text x="203.95" y="464.9" font-size="5.9" text-anchor="end" fill="#231f20">10<tspan font-size="4.2" dy="-2.4">3</tspan></text>
<text x="201.75" y="480.7" font-size="6.3" text-anchor="end" fill="#231f20">0</text>
<line x1="204.35" y1="450.7" x2="205.75" y2="450.7" stroke="#333" stroke-width="0.6"/>
<line x1="204.35" y1="463.1" x2="205.75" y2="463.1" stroke="#333" stroke-width="0.6"/>
<line x1="204.35" y1="475.9" x2="205.75" y2="475.9" stroke="#333" stroke-width="0.6"/>
<line x1="204.35" y1="477.9" x2="205.75" y2="477.9" stroke="#333" stroke-width="0.6"/>
<line x1="204.35" y1="479.9" x2="205.75" y2="479.9" stroke="#333" stroke-width="0.6"/>
<line x1="217.35" y1="491" x2="217.35" y2="492.4" stroke="#333" stroke-width="0.6"/>
<line x1="218.75" y1="491" x2="218.75" y2="492.4" stroke="#333" stroke-width="0.6"/>
<line x1="220.15" y1="491" x2="220.15" y2="492.4" stroke="#333" stroke-width="0.6"/>
<line x1="235.55" y1="491" x2="235.55" y2="492.4" stroke="#333" stroke-width="0.6"/>
<line x1="248.95" y1="491" x2="248.95" y2="492.4" stroke="#333" stroke-width="0.6"/>
<ellipse cx="304.4" cy="478.6" rx="4.2" ry="4.2" fill="#3f5fd0" fill-opacity="0.5" filter="url(#bl)"/>
<ellipse cx="315.1" cy="478.6" rx="9" ry="1.8" fill="#3f5fd0" fill-opacity="0.22" filter="url(#bl)"/>
<ellipse cx="329.4" cy="478.7" rx="5" ry="3.2" fill="#3f5fd0" fill-opacity="0.3" filter="url(#bl)"/>
<ellipse cx="334.7" cy="459.3" rx="4.5" ry="7" fill="#3f5fd0" fill-opacity="0.28" filter="url(#bl)"/>
<path transform="scale(.5)" d="M604 956h2m1 7h2m2-8h2m-5-8h2m0 6h2m-1 0h2m-3 13h2m-2-12h2m-5 3h2m2 8h2m-8-12h2m5 2h2m-7 9h2m0-4h2m1-2h2m-6 2h2m3-13h2m-14 7h2m6-5h2m-2 16h2m-1-11h2m-3 2h2m-2-1h2m-4 1h2m-3-1h2m-5 0h2m-6 0h2m13-5h2m-3 10h2m-13-5h2m-1 6h2m2-1h2m-6 1h2m-3-8h2m5 6h2m-8-10h2m1 9h2m0-3h2m-1 3h2m-4 1h2m-3 3h2m5-7h2m-10-2h2m-2 9h2m0-9h2m-2-1h2m2 10h2m-1 2h2m-9-11h2m0 6h2m0-10h2m-5 10h2m-2-2h2m-7-8h2m6 10h2m0-9h2m-5 4h2m-1 6h2m-6-5h2m3-4h2m-3 2h2m1 4h2m-6 4h2m-3-14h2m-4 11h2m3 0h2m-2 2h2m-7 0h2m2-5h2m-3-1h2m6 0h2m-9 2h2m-4-5h2m-1 11h2m1-7h2m1-5h2m-13 5h2m2 5h2m5-2h2m-9-4h2m1-5h2m-2 2h2m-6 7h2m-3-4h2m-1-2h2m1 4h2m-5 3h2m-2-5h2m7 7h2m-9-3h2m-2 2h2m-3 4h2m1-3h2m2-2h2m-8-3h2m-1-3h2m-2 4h2m-4 5h2m7-1h2m-13-6h2m1 1h2m1 3h2m0-5h2m-1-4h2m-11 14h2m5-13h2m-6 7h2m4-6h2m-4 3h2m-7 0h2m5 8h2m-7-12h2m-4 4h2m3-5h2m-5 12h2m-1-5h2m1 0h2m-4 1h2m3-6h2m-4 5h2m-11 0h2m1 6h2m-4-2h2m3-10h2m-5 4h2m6 1h2m-11 5h2m-8-6h2m11 8h2m-5-6h2m2-2h2m-13 8h2m2-12h2m-5 4h2m-2-3h2m1 6h2m1 4h2m-11-7h2m-1-3h2m3 5h2m-2-10h2m2 11h2m-2 2h2m-4-2h2m-5 1h2m-7 0h2m2 2h2m-1-14h2m2 4h2m-6 7h2m-1-1h2m0 2h2m-6 4h2m-1-3h2m5-5h2m-4 9h2m-3-6h2m-10-2h2m0 4h2m4-3h2m-10 2h2m5-3h2m-4 6h2m-1 1h2m3-1h2m-3-4h2m-10-13h2m-2 9h2m-1 6h2m0 1h2m-3-7h2m1-2h2m-10 4h2m2 8h2m0-15h2m-2 13h2m1-3h2m-11-3h2m3-2h2m0 0h2m-5-2h2m1-2h2m-7 7h2m5 1h2m-3 5h2m-11-3h2m8 4h2m-6-7h2m1 0h2m1 3h2m-7-9h2m-1 7h2m-1-2h2m-2 3h2m-3 1h2m-1 1h2m-8-6h2m9 3h2m-8 2h2m-4 3h2m-4-4h2m2-3h2m-4-2h2m-6 4h2m7 1h2m2-6h2m-14 3h2m1 7h2m-5-11h2m2-2h2m-1 4h2m-3 0h2m-2 8h2m-2 0h2m-6-4h2m7-6h2m-9 0h2m1 2h2m-10-4h2m5 6h2m-4 1h2m3-3h2m-1-1h2m7 4h2m-18-3h2m-7 6h2m11 1h2m-8 2h2m-6-7h2m5 3h2m-7-5h2m5 2h2m-14 7h2m3-4h2m4 1h2m-5-4h2m0-1h2m-3 0h2m-6 2h2m7 0h2m-7 4h2m-8-1h2m1-3h2m6 7h2m0-10h2m-14 6h2m3-13h2m2 14h2m-3 6h2m-1-10h2m-14 0h2m3 0h2m1-1h2m-3 2h2m0 6h2m-7-9h2m11 3h2m-10-6h2m1 11h2m-3-13h2m-8 7h2m1 6h2m1-13h2m-6 8h2m1 1h2m2-3h2m-11 1h2m-1-3h2m0 4h2m-9-2h2m2 7h2m2-6h2m-4 5h2m-9-8h2m9-2h2m-13 2h2m2 4h2m-3 4h2m3-8h2m-1 1h2m-2 0h2m2 6h2m-11-3h2m0-8h2m-1 8h2m-5 4h2m10-10h2m-14 4h2m3-3h2m-5 9h2m-4-5h2m-4 0h2m1 6h2m0-8h2m-3 8h2m2-7h2m-10 1h2m8 1h2m-12 1h2m2-2h2m-1-3h2m-5 7h2m3-8h2m-10 9h2m6-4h2m-9-2h2m5 3h2m-2-8h2m-1 11h2m-7-1h2m-1-4h2m-1-1h2m-1 6h2m2-2h2m-5-8h2m-5 7h2m0-4h2m-6 6h2m4-15h2m6 14h2m-12 2h2m-1 2h2m-5-3h2m2-11h2m3 6h2m-15 1h2m7-4h2m-6 3h2m-2-10h2m4 7h2m-5 4h2m-12 0h2m1 0h2m0 0h2m0 1h2m0-5h2m1 13h2m-6 0h2m2-3h2m-8 0h2m-8-14h2m8 15h2m0-13h2m-12 8h2m8-9h2m-5 6h2m-4-12h2m-5 13h2m15 8h2m-15-13h2m2 2h2m-3 7h2m-1 2h2m8-13h2m-4-4h2m-17 18h2m-3-11h2m6 0h2m-6 5h2m-1-4h2m-5-3h2m6 24h2m-8-27h2m12 16h2m-16-10h2m-1 5h2m-8-1h2m-8-7h2m5 3h2m3 1h2m0 9h2m12-9h2m-15 0h2m-3-1h2m-5 5h2m9-1h2m-11-2h2m-10-5h2m7 11h2m-2-10h2m-4 10h2m-1 1h2m-11-4h2m0-13h2m5 14h2m1 4h2m-4-20h2m2 18h2m-9-7h2m0 2h2m-9 6h2m16-2h2m-12-23h2m0 22h2m-1-2h2m-11 0h2m3 0h2m3 1h2m-9-7h2m-2 11h2m2-5h2m-1 0h2m5-3h2m-13 2h2m1 9h2m-8-23h2m5 18h2m-5-4h2m2-5h2m-12-4h2m3 4h2m-2-1h2m-14 12h2m13 0h2m4-16h2m-5 3h2m-20 1h2m7 16h2m0-11h2m3 3h2m-6 10h2m-7-19h2m-8 0h2m4 4h2m2 11h2m5-11h2m-6-1h2m-5 3h2m12-6h2m-21 10h2m-1-8h2m6-1h2m4 10h2m-13-5h2m2 2h2m-3-5h2m7 6h2m-14 3h2m-2-6h2m23 4h2m-2-3h2m2 1h2m1-2h2m3-1h2m-32 3h2m17 0h2m-3 0h2m-21 2h2m0 2h2m-1-6h2m19-2h2m4 3h2m-9 4h2m8-5h2m-31 2h2m27-3h2m-6 6h2m-17-5h2m3 1h2m-1-1h2m-1 1h2m-1-2h2m3-1h2m4 6h2m-22-6h2m15 3h2m-22 0h2m12 3h2m-20 0h2m18-3h2m-13 3h2m4-2h2m-20 3h2m12-4h2m-18 0h2m21 3h2m-20-5h2m13 2h2m2-4h2m-4 4h2m-22-1h2m23-1h2m4-1h2m-28 7h2m14 1h2m-10-5h2m-1-2h2m-11 2h2m15 0h2m-17 0h2m22 0h2m-15 2h2m-9 5h2m-11-9h2m1 4h2m0 1h2m12-2h2m-25-1h2m1 0h2m10 1h2m-5-2h2m20-6h2m-22 6h2m5 0h2m8 2h2m8 4h2m14-7h2m-27 7h2m14 2h2m-5-6h2m-9 6h2m4-1h2m-2-8h2m3 6h2m-25-5h2m20 6h2m-6-8h2m0 2h2m-24-6h2m21 4h2m-1 7h2m-24-3h2m5 4h2m-5 0h2m9-5h2m1-3h2m-3 16h2m-1-16h2m13 7h2m-17-2h2m-13-4h2m1 9h2m13-6h2m-17-7h2m1 2h2m3-2h2m-1 6h2m-10 1h2m-2-2h2m-1 9h2m-6-7h2m1-3h2m11 2h2m-9-8h2m-6 16h2m9-20h2m-19 11h2m-3 1h2m2 6h2m15-1h2m-19-4h2m14-4h2m-11-1h2m-1 10h2m-3 3h2m-4-6h2m12-7h2m-7-2h2m-13 5h2m13-3h2m-3-1h2m-11 9h2m-2 5h2m-2-14h2m-4 9h2m-13-13h2m25 4h2m-9 7h2m-15-5h2m7 1h2m1 3h2m-10 6h2m-1-12h2m-5 3h2m13 5h2m-18-5h2m3 2h2m12-2h2m-22 1h2m0 5h2m2-6h2m-4-1h2m-2 3h2m12-4h2m-5 4h2m-18 8h2m8-13h2m-8 3h2m-8 3h2m6 5h2m-3-13h2m8 12h2m-16 1h2m4-10h2m3 5h2m-11 1h2m-3-2h2m5 3h2m-1-12h2m-8 11h2m6-6h2m0 1h2m-1 4h2m-8-6h2m-10 6h2m5-1h2m-6 6h2m-4-3h2m9-1h2m-7-6h2m9 10h2m-21-9h2m-2-2h2m4 1h2m-1 6h2m-7-7h2m9 9h2m-10-7h2m3 4h2m1 0h2m-13-4h2m4-3h2m-9 10h2m9-1h2m2-4h2m-16 2h2m9-5h2m5 9h2m-24-8h2m12 5h2m0 0h2m-10-4h2m2 4h2m-10-3h2m3 0h2m-10 3h2m-5-2h2m3 0h2m9 0h2m-15-1h2m8-5h2m-8 8h2m4-3h2m-12 2h2m-1 7h2m3-10h2m8-1h2m-14 6h2m-8-1h2m3-7h2m3 5h2m-3 2h2m-8 3h2m17-11h2m-18 6h2m-8 2h2m7-3h2m3 0h2m-10 4h2m2 0h2m6-7h2m-8 9h2m-4-5h2m1 3h2m-4-5h2m-1 0h2m-3 2h2m-18 0h2m15 2h2m-5-6h2m-11-4h2m9 12h2m-12-1h2m1-10h2m3 5h2m3 5h2m-5 3h2m10-7h2m-9 7h2m-10-7h2m1-1h2m1 6h2m-9 0h2m0 5h2m3-2h2m0-9h2m-12 5h2m-5 2h2m4 4h2m-7-13h2m12 4h2m-21 6h2m10-5h2m-8 1h2m4-3h2m-4 4h2m-7 4h2m3-9h2m1-2h2m0 10h2m-18-6h2m11-3h2m-13-1h2m-3 7h2m-1-2h2m4 5h2m-2-4h2m4-4h2m-9 5h2m1-7h2m1 8h2m-5 1h2m-7-13h2m-3 13h2m-2-6h2m5 2h2m9 4h2m-5-7h2m-3 6h2m-21-4h2m3-11h2m1 16h2m-2 3h2m10-6h2m-8-3h2m-7 2h2m-9 4h2m22 1h2m-15 2h2m-4-15h2m2 13h2m-8-2h2m5-5h2m-12 4h2m12 0h2m-3 3h2m-1-3h2m7 2h2m-12-6h2m-12-2h2m-5 1h2m2-5h2m3 5h2m-8-2h2m15 9h2m-13-9h2m-5 6h2m-1 1h2m-9-4h2m12 3h2m-8 2h2m-14-2h2m15 2h2m-5-10h2m-7-1h2m-1 13h2m-1-4h2m-1-3h2m-7 2h2m0 12h2m8-17h2m-5 3h2m-9-1h2m6 2h2m-21 0h2m7-8h2m6 10h2m0-11h2m-24 15h2m16-10h2m-2 5h2m-7-3h2m-3 3h2m-10-3h2m12 3h2m-15-7h2m4 9h2m1-5h2m0-38h2m21-7h2m-1-13h2m-24 34h2m-1-19h2m10-8h2m-12-2h2m10 19h2m-1 1h2m-7-4h2m-3-11h2m-7-1h2m8-1h2m-11 21h2m3-2h2m-4-2h2m-5-11h2m-3-1h2m-9 20h2m-5-2h2m10 6h2m-1-17h2m4-16h2m-9 33h2m7-21h2m-17-2h2m9-5h2m0-1h2m-4 16h2m-7 19h2m1-16h2m7-11h2m-10 15h2m-4-12h2m-4 10h2m0 4h2m-9-12h2m10-12h2m-3 11h2m-1-5h2m-8-7h2m3 10h2m-7-3h2m5 8h2m-3-10h2m-10 16h2m12 11h2m-8-9h2m-3-18h2m-8-5h2m-9 12h2m8 7h2m8-18h2m-19 6h2m7 2h2m-13 9h2m4-12h2m7 16h2m-13-7h2m-1-7h2m-4 3h2m-2 5h2m7-5h2m-16 11h2m4 7h2m6-16h2m3-9h2m-11 16h2m-2-7h2m-9 13h2m-3-38h2m2 35h2m1-12h2m-2 6h2m-4-10h2m-2-1h2m5 6h2m-3-5h2m-13 28h2m13-16h2m-7-7h2m1-18h2m-7 29h2m2-14h2m-10-2h2m7 19h2m-14-16h2m5-7h2m6 2h2m-8 7h2m-6-7h2m-8 16h2m9-3h2m-9-13h2m0 0h2m-3-3h2m12 0h2m-34 6h2m24-7h2m1 3h2m-4 15h2m-2-8h2m5-13h2m-5 8h2m-15-13h2m-4 15h2m-8-6h2m5 23h2m10-20h2m-17 3h2m14-2h2m-12 23h2m-2-23h2m-12 5h2m3 22h2m0-24h2m-4 2h2m3 16h2m-9-22h2m2 9h2m0-6h2m2-1h2m-8-9h2m-7 12h2m8 21h2m-3-27h2m-1 14h2m-3 15h2m-3-12h2m0-19h2m-2 14h2m5-19h2m-24 23h2m14 0h2m-2-6h2m-3 2h2m-8-3h2m-9 1h2m8-16h2m-7 7h2m-2-7h2m9 7h2m-8-2h2m0 16h2m6 1h2m-18 3h2m6-9h2m-6-14h2m1 6h2m-3 22h2m0-8h2m4-21h2m-10 34h2m10-20h2m-25 6h2m19-16h2m-4 8h2m-14 12h2m1-24h2m2 26h2m7-21h2m-2 12h2m-10-8h2m-7 0h2m2 3h2m-13 1h2m4 13h2m4 1h2m0-33h2m-11 26h2m-6 0h2m0-6h2m6-3h2m-12-4h2m1-12h2m7 16h2m-3 18h2m-8 7h2m-9-26h2m10-6h2m-3-2h2m4 13h2m7 1h2m-13 2h2m-10-5h2m-3-7h2m6 9h2m6 19h2m-19-18h2m5-15h2m-8 27h2m2-14h2m4 9h2m-5-8h2m-10 4h2m10 6h2m-14-3h2m7-5h2m5-11h2m-9 14h2m0-9h2m-1-1h2m-13-2h2m-2 12h2m-4-7h2m-3-1h2m0 8h2m8-6h2m-6 2h2m-10-16h2m7 19h2m-2-5h2m-5 8h2m-6 10h2m1-24h2m3-8h2m0 0h2m-4 30h2m-5-30h2m-2 2h2m-1-6h2m4 30h2m-9-15h2m-3-16h2m-6 20h2m14-1h2m-3-2h2m-4 3h2m-11 6h2m-7-6h2m10-15h2m-11 16h2m3 0h2m5-14h2m-5 11h2m-13-3h2m2-6h2m-6 12h2m12 14h2m2-35h2m-19 16h2m-1 2h2m-7-9h2m13 11h2m-18 4h2m23 4h2m-21 18h2m-7-30h2m10 4h2m1 4h2m-5-5h2m-7-7h2m-5 6h2m-2-5h2m3 25h2m-1-24h2m0 14h2m-8-13h2m0-11h2m5 23h2m-18-2h2m5-1h2m1-11h2m-9-3h2m11 12h2m-1-7h2m-8 6h2m-7 3h2m-8-14h2m10 11h2m-1-4h2m-11-6h2m1 8h2m4 1h2m-12 10h2m14-7h2m-8 3h2m1-6h2m-10 12h2m-5-8h2m-3-8h2m4 2h2m10-3h2m-2 15h2m-26-4h2m14-2h2m-11-4h2m4-12h2m-5 13h2m4-5h2m-9 8h2m-11-9h2m11-2h2m-6 18h2m6-18h2m-9 7h2m9 7h2m-14-13h2m-2-6h2m2 7h2m4 2h2m-10 10h2m3 0h2m-1-18h2m-12 20h2m-3-9h2m0 14h2m-9-29h2m2 5h2m2 15h2m6-9h2m-18 12h2m4 0h2m0 1h2m1-25h2m-5 16h2m2-1h2m-7 8h2m-5 0h2m10-6h2m-12 2h2m2 4h2m5-13h2m-16 11h2m4 6h2m2-17h2m0-9h2m1 11h2m-1-3h2m-13 13h2m-2-8h2m4-3h2m-14 2h2m9-4h2m-8-6h2m-1 15h2m0 5h2m-13-2h2m12-21h2m0 7h2m7 25h2m-9-5h2m-6 3h2m-6-7h2m-3 12h2m-3-22h2m12 8h2m-15-18h2m1 17h2m-11 8h2m4 11h2m-1 1h2m-7 7h2m-4-18h2m1 11h2m-1 5h2m-11-3h2m6 2h2m-2-20h2m6 17h2m-14-6h2m5 3h2m-1 1h2m0-6h2m-4 8h2m-7-4h2m0-3h2m-2 0h2m-2-9h2m-1 5h2m-3 17h2m-11-4h2m-1 0h2m6-15h2m-3 9h2m-3 0h2m5-25h2m-10 23h2m2-12h2m3 21h2m-5-21h2m-9 7h2m7 26h2m-10-27h2m0-1h2m-6 3h2m-2-5h2m7 6h2m-3 12h2m-2-5h2m-2-6h2m-1-16h2m0 9h2m-9 1h2m2 12h2m-9-11h2m2 10h2m1 3h2m-3 3h2m-3-12h2m-4 4h2m-5-6h2m-1 9h2m-5 4h2m8-9h2m1-2h2m-7 26h2m-1-18h2m-3-2h2m-4-10h2m0 2h2m-10 13h2m4-3h2m0 2h2m-4-19h2m-8 18h2m6 3h2m-7-11h2m2 8h2m-2-7h2m-4-13h2m-1 21h2m-2-16h2m1 9h2m-11-6h2m6 0h2m-7 15h2m-1-19h2m-3 1h2m2 4h2m-7 12h2m2-28h2m-1 26h2m-7-6h2m5-6h2m-3 2h2m-3-5h2m-2 20h2m1-11h2m-8 2h2m1-12h2m-2 3h2m0 7h2m-6 11h2m1 2h2m-7-17h2m2 13h2m1-7h2m-10 5h2m4-9h2m-10-10h2m9 12h2m-6 6h2m5-5h2m-11-1h2m3 0h2m-6 10h2m-4-9h2m1-16h2m-7 14h2m-6 11h2m2-2h2m3-14h2m-5 8h2m2 7h2m-8-10h2m6 6h2m-7-7h2m-3 15h2m-4-4h2m1-14h2m-1-5h2m6 37h2m6-34h2m-20 36h2m-19 1h2m25-54h2m-34 35h2m-17-38h2m0-12h2m44 34h2m-7 15h2m-24-14h2m-25-24h2m13 10h2m21-10h2m-32 54h2m37-58h2m-23 55h2m21-52h2m-25 31h2m-37-30h2m51 37h2m-23-9h2m4-19h2m-35 34h2m49-26h2m-2 33h2m-8-1h2m16-31h2" stroke="#2c44c0" stroke-opacity=".5" stroke-width="1.5"/>
<ellipse cx="304.1" cy="478.6" rx="3.4" ry="3.5" fill="url(#gH)"/>
<ellipse cx="329.1" cy="478.9" rx="3" ry="2" fill="url(#gVL)"/>
<ellipse cx="335.1" cy="459.8" rx="2.5" ry="2.5" fill="url(#gVL)"/>
<rect x="291.5" y="440.5" width="55" height="51" fill="none" stroke="#999" stroke-width="1"/>
<line x1="317.9" y1="440.5" x2="317.9" y2="491.5" stroke="#666" stroke-width="1"/>
<line x1="291.5" y1="469.5" x2="346.5" y2="469.5" stroke="#555" stroke-width="1"/>
<text x="293.1" y="446.9" font-size="6.3" text-anchor="start" fill="#231f20">0,11</text>
<text x="344.3" y="446.9" font-size="6.3" text-anchor="end" fill="#231f20">10,2</text>
<text x="293.1" y="487.9" font-size="6.3" text-anchor="start" fill="#231f20">76,6</text>
<text x="344.3" y="487.9" font-size="6.3" text-anchor="end" fill="#231f20">11,2</text>
<text x="304.4" y="498.7" font-size="6.3" text-anchor="middle" fill="#231f20">0</text>
<text x="322.1" y="498.7" font-size="6.3" text-anchor="middle" fill="#231f20">10<tspan font-size="4.4" dy="-2.4">3</tspan></text>
<text x="335.7" y="498.7" font-size="6.3" text-anchor="middle" fill="#231f20">10<tspan font-size="4.4" dy="-2.4">4</tspan></text>
<text x="289.3" y="452.8" font-size="5.9" text-anchor="end" fill="#231f20">10<tspan font-size="4.2" dy="-2.4">4</tspan></text>
<text x="289.3" y="464.9" font-size="5.9" text-anchor="end" fill="#231f20">10<tspan font-size="4.2" dy="-2.4">3</tspan></text>
<text x="287.1" y="480.7" font-size="6.3" text-anchor="end" fill="#231f20">0</text>
<line x1="289.7" y1="450.7" x2="291.1" y2="450.7" stroke="#333" stroke-width="0.6"/>
<line x1="289.7" y1="463.1" x2="291.1" y2="463.1" stroke="#333" stroke-width="0.6"/>
<line x1="289.7" y1="475.9" x2="291.1" y2="475.9" stroke="#333" stroke-width="0.6"/>
<line x1="289.7" y1="477.9" x2="291.1" y2="477.9" stroke="#333" stroke-width="0.6"/>
<line x1="289.7" y1="479.9" x2="291.1" y2="479.9" stroke="#333" stroke-width="0.6"/>
<line x1="302.7" y1="491" x2="302.7" y2="492.4" stroke="#333" stroke-width="0.6"/>
<line x1="304.1" y1="491" x2="304.1" y2="492.4" stroke="#333" stroke-width="0.6"/>
<line x1="305.5" y1="491" x2="305.5" y2="492.4" stroke="#333" stroke-width="0.6"/>
<line x1="320.9" y1="491" x2="320.9" y2="492.4" stroke="#333" stroke-width="0.6"/>
<line x1="334.3" y1="491" x2="334.3" y2="492.4" stroke="#333" stroke-width="0.6"/>
<ellipse cx="374.5" cy="478.6" rx="4.2" ry="4.2" fill="#3f5fd0" fill-opacity="0.5" filter="url(#bl)"/>
<ellipse cx="385.2" cy="478.6" rx="9" ry="1.8" fill="#3f5fd0" fill-opacity="0.22" filter="url(#bl)"/>
<ellipse cx="399.5" cy="478.7" rx="5" ry="3.2" fill="#3f5fd0" fill-opacity="0.3" filter="url(#bl)"/>
<ellipse cx="404.8" cy="459.3" rx="4.5" ry="7" fill="#3f5fd0" fill-opacity="0.28" filter="url(#bl)"/>
<path transform="scale(.5)" d="M746 958h2m-6 4h2m7 1h2m-1-8h2m-2 1h2m1-1h2m-11 2h2m-2 2h2m-5-1h2m-2 6h2m3-12h2m0 2h2m-5 1h2m6 7h2m-18-7h2m3-3h2m6-1h2m-13 6h2m2 0h2m3 1h2m-8-2h2m3-8h2m-2 8h2m4 2h2m-14-3h2m2 0h2m-5 7h2m1-10h2m6 2h2m-11 2h2m-1 4h2m7-10h2m-8 8h2m1 0h2m0-4h2m-11 1h2m2 4h2m2-3h2m-6-2h2m-1 7h2m-5-13h2m4 8h2m-12-1h2m4 5h2m0-4h2m-7-1h2m0-1h2m-5-1h2m-5 1h2m6 6h2m-3-8h2m4 9h2m-11-10h2m-2 4h2m3 1h2m-10-4h2m4 9h2m-1-5h2m-2-5h2m-6 1h2m-1 3h2m-5 5h2m1 3h2m-1-7h2m-6-2h2m3 4h2m3 1h2m-11-6h2m-1 9h2m4-17h2m-11 12h2m4 1h2m-5-2h2m-3 1h2m4-4h2m-6 11h2m-3-6h2m5-4h2m-5 2h2m-2 0h2m-2 4h2m3-7h2m-6 7h2m-11 3h2m11 2h2m-13-12h2m8 4h2m-9-4h2m2-6h2m-8 12h2m-7 2h2m5-4h2m-2 1h2m-3-5h2m-1 10h2m1-5h2m-7-1h2m7-1h2m-9-2h2m7 3h2m-8-8h2m-2 10h2m-8-2h2m1 4h2m0-5h2m-2 2h2m-2 1h2m-3-3h2m2-1h2m-9-2h2m0 2h2m-2 2h2m-2 3h2m-3-5h2m-1-1h2m-1-1h2m-8 11h2m-5-12h2m8 3h2m-1-9h2m-5 18h2m1-9h2m0 2h2m-1-3h2m-8 3h2m-1 8h2m2-4h2m-5-4h2m-5 3h2m-2 2h2m-2-10h2m-3 9h2m3-4h2m-11 0h2m-1 3h2m6-4h2m-5 1h2m-3-3h2m-2 9h2m7-11h2m-14 1h2m-1 5h2m0-3h2m1-1h2m-6 6h2m-1-4h2m8 0h2m-15-4h2m7 9h2m-2-3h2m0 8h2m-5-8h2m-6 4h2m6-3h2m-12 0h2m-4-2h2m8-2h2m-7 6h2m-7-4h2m6-1h2m-9 1h2m6 2h2m-7-2h2m3 13h2m-8-7h2m0-4h2m-1 1h2m0 8h2m-6-17h2m4 6h2m-9 3h2m-2-1h2m-1 2h2m-4-6h2m0-5h2m-1-4h2m-6 2h2m0 14h2m4-12h2m-11 5h2m6 3h2m-8-6h2m6 2h2m-11 10h2m2-9h2m-1 0h2m-2 6h2m-9 2h2m2-3h2m3-3h2m-6-1h2m0 3h2m-1-3h2m-6 4h2m-4-2h2m3-5h2m-4 2h2m-2-1h2m2 7h2m-3-1h2m-9 1h2m6-2h2m-5 3h2m-2-3h2m0 5h2m1-3h2m-3-2h2m-10-5h2m0 6h2m-6 3h2m6-3h2m-1-1h2m-2-6h2m-11 4h2m5-9h2m-1 4h2m-6 6h2m-4-1h2m-5 2h2m7-3h2m-9 6h2m-3-6h2m5 0h2m-5-2h2m-1-2h2m2 1h2m-3 2h2m-13-2h2m3 10h2m-3-7h2m2 8h2m-1-4h2m-6-2h2m5 3h2m-11-2h2m5 0h2m2-2h2m0-2h2m-8 0h2m-3 3h2m-3-4h2m0 6h2m-3 5h2m-3-15h2m2 14h2m-10-8h2m-2-5h2m2-3h2m-8 13h2m12-4h2m-14 2h2m0-6h2m4 7h2m-6 1h2m-6-1h2m1-7h2m-7 9h2m0-2h2m-2-5h2m2-9h2m-3 12h2m-1-2h2m1 3h2m-7-2h2m-2-6h2m9 10h2m-7-5h2m1 7h2m-6-6h2m5-3h2m-7 13h2m-5-16h2m-10 6h2m3 0h2m-4 3h2m9-5h2m-13 8h2m4-3h2m-4 0h2m-2-3h2m-6 4h2m1-2h2m-8-5h2m0 8h2m8 0h2m-10-4h2m2-1h2m7-1h2m-10 0h2m-5 3h2m-8-2h2m5 6h2m-7-6h2m0 6h2m3-7h2m-7 6h2m-3-5h2m1 2h2m5 1h2m-8 2h2m0 0h2m0-12h2m-5 17h2m-9-8h2m7-1h2m-9 3h2m0-6h2m-3 2h2m-3-6h2m4 7h2m-6 1h2m2-1h2m-10-2h2m-3 2h2m9 3h2m-6-6h2m-4 3h2m-3-7h2m2 7h2m2-2h2m-7 6h2m1-2h2m-11 1h2m-1-2h2m-5-6h2m3 6h2m3 0h2m-4-5h2m-1-4h2m-6 6h2m8 3h2m-12-4h2m-1 5h2m0-3h2m-2 8h2m-1-2h2m-9-5h2m4 2h2m-5-6h2m5 0h2m-7 4h2m0-3h2m-12 5h2m10-7h2m-3-2h2m-1 6h2m0-9h2m1 14h2m-2-2h2m-15-10h2m17 11h2m-34-6h2m25-8h2m-5 5h2m-11-7h2m2 10h2m2 4h2m-1 11h2m4-22h2m-15 3h2m3 8h2m9-7h2m-12 5h2m-17 7h2m10-16h2m4 6h2m-6-2h2m-3 5h2m8-4h2m-6 3h2m-6 3h2m-15-4h2m0 5h2m13 2h2m-18-11h2m3 7h2m4 0h2m-5-1h2m5-2h2m-18 2h2m13 4h2m-3 8h2m4-18h2m-15 18h2m6-11h2m4 0h2m-8 4h2m-1-6h2m0 0h2m-14 6h2m8-10h2m-4 3h2m-3 9h2m2-12h2m-15 1h2m-1 8h2m16-10h2m-16 6h2m5 6h2m-8-5h2m-5-4h2m-1 4h2m5-7h2m-1-3h2m-1 15h2m1-15h2m-7 6h2m-4 9h2m-10-7h2m-4-2h2m-9 2h2m-3-2h2m17 11h2m-13-3h2m1-16h2m10 12h2m-6 1h2m-1-7h2m-4 4h2m-4-2h2m3 9h2m-5 1h2m-9-8h2m2 8h2m1-4h2m-9 4h2m10-13h2m-11 11h2m5-13h2m-12 10h2m1 1h2m-5-7h2m5 6h2m-11 4h2m7-5h2m-4 4h2m-1-5h2m-4 8h2m8-23h2m-16 2h2m-2 11h2m7 0h2m2 3h2m3-4h2m-7-1h2m1 0h2m25 2h2m-31 2h2m17 2h2m-19-3h2m-5 2h2m7 1h2m-8-3h2m-1 0h2m3 2h2m-13 0h2m-5-1h2m15-1h2m12 0h2m-19 0h2m-1 1h2m-12 1h2m-2 0h2m-4 1h2m17-1h2m0 2h2m-9-3h2m-3-4h2m-11 8h2m4-3h2m-5 1h2m19-1h2m-17 2h2m-10-7h2m-2 6h2m11-3h2m10-1h2m-1 3h2m-6 3h2m-25-6h2m-8 8h2m16-5h2m10 1h2m1-2h2m-27 1h2m24 1h2m-4-4h2m-6 5h2m-3-1h2m-22-3h2m8 4h2m11-4h2m-27-5h2m12 6h2m6 1h2m-6-3h2m-2-1h2m3 4h2m0 2h2m-9-3h2m-7 1h2m-5-2h2m-9 3h2m-11-6h2m1 6h2m22 1h2m-17 0h2m35-6h2m-12 3h2m10 1h2m4-5h2m-7 2h2m-12 1h2m11 7h2m-25-4h2m15 1h2m-4-7h2m2 9h2m-14-2h2m9-1h2m-3-6h2m-11 6h2m7 3h2m-13-7h2m0 0h2m14 8h2m-13 0h2m-6-5h2m2 0h2m-7-6h2m7 4h2m-12-2h2m-12-1h2m14 1h2m-16 0h2m-4 5h2m-5-2h2m27 1h2m-10-6h2m10 4h2m-11 12h2m-17-10h2m0 0h2m3 1h2m0-3h2m3 4h2m-13 0h2m-3-5h2m10 7h2m-5 6h2m-10-9h2m3-9h2m4 8h2m-5 0h2m-1-1h2m-16 2h2m9-4h2m-14 3h2m13 6h2m-7-4h2m2-4h2m-8-1h2m4 6h2m1-11h2m-11 11h2m2 1h2m2-3h2m0 4h2m-10-8h2m-9 4h2m17 0h2m-13 0h2m-7 0h2m14 0h2m-16 0h2m10 0h2m-2-1h2m-10-3h2m0 5h2m4 2h2m-13-10h2m-3 12h2m-13-8h2m17 6h2m-11-3h2m0-1h2m-3 1h2m5-4h2m1-3h2m-22 1h2m16 1h2m-2 3h2m-5 0h2m9 2h2m-24-5h2m11 5h2m0 4h2m-7-10h2m3 1h2m-7 0h2m2 10h2m-15-8h2m15 3h2m8 1h2m-14 2h2m-7-5h2m-3 3h2m5-6h2m-8 7h2m-1-5h2m-1-1h2m-8-4h2m-1 11h2m1-10h2m-15 3h2m-3 1h2m7 4h2m-9-12h2m10 18h2m2-12h2m0 4h2m-13-1h2m2 10h2m2-9h2m1 6h2m2-14h2m-14 7h2m7 1h2m0-2h2m-21-2h2m4 4h2m1 2h2m-4-2h2m17-6h2m-16 2h2m-13 10h2m-5-10h2m23 1h2m-6 6h2m-3-8h2m11 2h2m-30 4h2m3-2h2m-11 5h2m9 8h2m17-8h2m-16-7h2m-9 7h2m-5-7h2m-2 4h2m7 1h2m-6-7h2m-3 5h2m-6 1h2m10-3h2m-16 2h2m8-3h2m-1 3h2m-12-4h2m13 4h2m-10 8h2m-7-10h2m6-1h2m-6 4h2m-18-3h2m6 6h2m-9-2h2m22 3h2m7-4h2m-28-2h2m-1 5h2m7-1h2m-1 0h2m-14-4h2m11-4h2m-10 6h2m-2-6h2m3 3h2m-1-2h2m1 5h2m-2-11h2m-11 6h2m2 8h2m-1-6h2m-1-4h2m-3 2h2m5 2h2m-13 6h2m3-9h2m-11 5h2m11-1h2m-16-2h2m4-1h2m-7 10h2m4-3h2m-22 2h2m14-9h2m3 2h2m-10 1h2m8-5h2m-12 6h2m1 1h2m12 4h2m-1-1h2m-17-5h2m11 1h2m-18-4h2m-3 9h2m-1-8h2m-3 7h2m0-6h2m-2 5h2m10-2h2m11 0h2m-6-3h2m-13-2h2m-9 9h2m1-3h2m2 1h2m-1-7h2m-8 1h2m-8 5h2m-5-3h2m22 3h2m-15 7h2m0-17h2m-8 9h2m1-1h2m-3-3h2m-13-4h2m20 7h2m-20-1h2m10 5h2m-2-7h2m-7 1h2m-2-1h2m9 5h2m-5 3h2m2-3h2m-22-4h2m15 1h2m-12 2h2m3-7h2m9 6h2m-22 0h2m3-4h2m-3 11h2m7-15h2m-29 4h2m10 7h2m12 0h2m-14-6h2m-2 2h2m5 1h2m2 1h2m-6-1h2m-27-3h2m9 4h2m25-7h2m-6 6h2m-6-3h2m-9 2h2m11 3h2m-34-5h2m12-3h2m6-2h2m-13-2h2m-1 5h2m7 8h2m-2-4h2m-3-1h2m-1 0h2m12 3h2m-19-6h2m-4 8h2m4-8h2m-6 3h2m-1-3h2m-7 6h2m22-23h2m-14-26h2m-2 9h2m-4-3h2m-1-11h2m0 3h2m-3 4h2m6 1h2m-11-3h2m6 5h2m4 8h2m-13-11h2m-5-2h2m-3 8h2m5-7h2m3-7h2m-17 7h2m0-2h2m14 23h2m-1-23h2m-11 6h2m-9 8h2m5 7h2m1-10h2m-1 10h2m-6-14h2m3 4h2m-3 15h2m6-17h2m-20 20h2m14-16h2m-14 5h2m-6 1h2m3-10h2m-1-5h2m-4 10h2m-3 2h2m-3-1h2m-7 6h2m3-16h2m5 5h2m-3-3h2m1 3h2m-8-11h2m-1 18h2m5-3h2m0 5h2m-1-11h2m-10 5h2m-1 2h2m-2 3h2m-6-20h2m5 15h2m-7 2h2m-7-3h2m5-3h2m-22-11h2m20 6h2m-6 2h2m2 4h2m3 7h2m-9-8h2m-7 13h2m-2-16h2m-4 9h2m13-4h2m-14 1h2m-5 9h2m5 3h2m1-10h2m-12 2h2m7-6h2m-9-2h2m-3-2h2m3 14h2m-1-17h2m7 19h2m-20-26h2m3 8h2m4-4h2m-9-7h2m4 32h2m-7-10h2m-5 0h2m4-21h2m-4 14h2m-16 3h2m7 9h2m5-19h2m6 18h2m-17-7h2m-7-12h2m7 25h2m-9-6h2m14-17h2m-12 16h2m5-5h2m-10 18h2m-10-17h2m16-13h2m-9 14h2m1 11h2m-10-6h2m0-14h2m1-7h2m1 14h2m-5-5h2m-4 8h2m-1-11h2m-9 7h2m12-8h2m-7 3h2m-2-4h2m-19-2h2m12 3h2m-1 5h2m-11 8h2m11 3h2m1 8h2m-7-2h2m1-12h2m0-10h2m-22 9h2m9-5h2m-6 7h2m10-4h2m-8-5h2m-9 11h2m1-7h2m14 11h2m-8-12h2m-5 9h2m6 3h2m-1 1h2m-2 0h2m-11-25h2m-6 18h2m-2 7h2m-1-10h2m-6 12h2m2-21h2m-1 15h2m-8 11h2m3-20h2m-11 9h2m17-9h2m-14 4h2m2 0h2m7-2h2m-22-16h2m18 18h2m-9-10h2m-4 5h2m-15 1h2m4-6h2m1-4h2m-2 21h2m10-4h2m-21-1h2m10-5h2m-15-16h2m-1 10h2m10-2h2m-4-4h2m5 5h2m-1 5h2m-11-17h2m-2 8h2m-11-9h2m-7 29h2m14-4h2m6-9h2m-3 3h2m-11-6h2m-5 6h2m10-4h2m-13 4h2m-2 19h2m5 2h2m-13-5h2m4-26h2m-4-11h2m-3 31h2m0-6h2m7-18h2m-4 26h2m-11-2h2m5-2h2m0-2h2m-16-11h2m7 23h2m-7-20h2m3-2h2m-8-3h2m7 7h2m-2-6h2m-11-7h2m8 8h2m-6 4h2m5-5h2m-17 6h2m0 2h2m-4-2h2m9-12h2m-14 29h2m3-11h2m-6-5h2m11 4h2m-11-16h2m2 16h2m-2 1h2m8-5h2m-15 14h2m16-6h2m-8-24h2m-18 15h2m2 2h2m-9 20h2m11-24h2m1-9h2m-10 9h2m-1 9h2m-7 2h2m8-5h2m0-6h2m-18 7h2m12 8h2m-8-7h2m7-5h2m-7-3h2m-7 11h2m8-5h2m-10-3h2m-5 1h2m2 13h2m-1-13h2m-4 0h2m0-8h2m0 13h2m5 4h2m-7-2h2m-1-4h2m-6 3h2m-5-20h2m1 24h2m-4-1h2m4-15h2m-16-8h2m13 23h2m-6-30h2m-9 21h2m-3-11h2m8 7h2m-6 13h2m-4-7h2m1 17h2m-3-13h2m3 7h2m-12-21h2m-1-1h2m-9 9h2m12-12h2m-2 20h2m-12-11h2m13 4h2m-9 10h2m-4-21h2m-6 3h2m0 9h2m7-12h2m-5 17h2m-10-9h2m-1-2h2m1 4h2m1-5h2m-3 11h2m-6-9h2m2-9h2m3-8h2m-13 9h2m-4-6h2m9 11h2m-6 7h2m7 3h2m-11-15h2m-10-3h2m6 2h2m0 20h2m-4 2h2m-5-18h2m7 17h2m-10-25h2m4 18h2m-11-7h2m-3-6h2m11-4h2m0-5h2m-11 25h2m1 11h2m-4-9h2m-1-14h2m-2 19h2m5-10h2m-19-6h2m-7 0h2m7-8h2m-9 1h2m9 6h2m-6 6h2m10 2h2m-12-10h2m-8 11h2m5-10h2m6 11h2m-6-18h2m-13 29h2m4-13h2m6-14h2m-14 2h2m-1 9h2m10 8h2m-17-22h2m-8 12h2m18 7h2m-17 5h2m6-9h2m-6-23h2m12 10h2m-10-4h2m-11-4h2m8 16h2m-11-3h2m0 16h2m4-3h2m-3 6h2m-17-12h2m15-7h2m0 16h2m1-4h2m-4-8h2m0 10h2m-6-7h2m-7 0h2m1 6h2m-12-6h2m18 4h2m-8-7h2m-16 4h2m2 25h2m6-2h2m-13 5h2m2-5h2m4 7h2m-13-10h2m-5 1h2m1-4h2m1-2h2m-6 17h2m2-26h2m0 2h2m-6 15h2m1-6h2m4 10h2m-11-9h2m-5 3h2m6-15h2m-8 1h2m4 7h2m-2 8h2m-1-8h2m-7 5h2m-1-2h2m-5 7h2m0 6h2m0-23h2m3 6h2m-11-2h2m-4 4h2m6-3h2m-9 10h2m3-8h2m-2-4h2m-3 4h2m5 3h2m-10-20h2m-8 2h2m-2 19h2m8-3h2m-2 6h2m-2-18h2m-5 15h2m-3 1h2m-6-1h2m4 2h2m-4-3h2m3 6h2m-15 8h2m3-8h2m-1 0h2m2-3h2m-1 2h2m-1 2h2m-4-3h2m-5-19h2m0 28h2m-1-14h2m-3 13h2m-6 5h2m8-26h2m-10 10h2m1-4h2m-9 4h2m5-7h2m-4-2h2m6 5h2m-9 0h2m-8-14h2m0 6h2m3 18h2m-1-9h2m0-1h2m-6 3h2m-3 0h2m5 8h2m-7-3h2m-9-8h2m6 4h2m-12 7h2m8-19h2m-5 16h2m7-15h2m-14 22h2m0-15h2m-3 2h2m5 6h2m-11-7h2m12-19h2m-12 14h2m-6-6h2m14 2h2m-12 4h2m0 11h2m-1-15h2m-2 14h2m-3-8h2m-8 7h2m1-16h2m1 15h2m-8-8h2m1 11h2m-2-1h2m6 0h2m-7-14h2m-7 7h2m-2 4h2m1 3h2m-6-4h2m4-3h2m-5 3h2m0 5h2m1-5h2m-5 4h2m-5-8h2m1 12h2m-2-18h2m-1 11h2m-1 10h2m-9-15h2m2 10h2m-12-3h2m15-8h2m-6 12h2m-5-5h2m-30 18h2m-4-19h2m-9 28h2m21-27h2m19-6h2m-25 16h2m-3-11h2m-15-36h2m-7 70h2m25-82h2m-32 48h2m22 35h2m-12-31h2m21 15h2m0 2h2m-30-2h2m17 14h2m-22-29h2m37 12h2m-14-53h2m-41 15h2m34-25h2m-1 8h2m-36 13h2m24 38h2m27-42h2" stroke="#2c44c0" stroke-opacity=".5" stroke-width="1.5"/>
<ellipse cx="374.2" cy="478.6" rx="3.4" ry="3.5" fill="url(#gH)"/>
<ellipse cx="399.2" cy="478.9" rx="3" ry="2" fill="url(#gVL)"/>
<ellipse cx="405.2" cy="459.8" rx="2.5" ry="2.5" fill="url(#gVL)"/>
<rect x="361.5" y="440.5" width="55" height="51" fill="none" stroke="#999" stroke-width="1"/>
<line x1="388" y1="440.5" x2="388" y2="491.5" stroke="#666" stroke-width="1"/>
<line x1="361.5" y1="469.5" x2="416.5" y2="469.5" stroke="#555" stroke-width="1"/>
<text x="363.2" y="446.9" font-size="6.3" text-anchor="start" fill="#231f20">0,040</text>
<text x="414.4" y="446.9" font-size="6.3" text-anchor="end" fill="#231f20">9,11</text>
<text x="363.2" y="487.9" font-size="6.3" text-anchor="start" fill="#231f20">78,1</text>
<text x="414.4" y="487.9" font-size="6.3" text-anchor="end" fill="#231f20">12,7</text>
<text x="374.5" y="498.7" font-size="6.3" text-anchor="middle" fill="#231f20">0</text>
<text x="392.2" y="498.7" font-size="6.3" text-anchor="middle" fill="#231f20">10<tspan font-size="4.4" dy="-2.4">3</tspan></text>
<text x="405.8" y="498.7" font-size="6.3" text-anchor="middle" fill="#231f20">10<tspan font-size="4.4" dy="-2.4">4</tspan></text>
<text x="359.4" y="452.8" font-size="5.9" text-anchor="end" fill="#231f20">10<tspan font-size="4.2" dy="-2.4">4</tspan></text>
<text x="359.4" y="464.9" font-size="5.9" text-anchor="end" fill="#231f20">10<tspan font-size="4.2" dy="-2.4">3</tspan></text>
<text x="357.2" y="480.7" font-size="6.3" text-anchor="end" fill="#231f20">0</text>
<line x1="359.8" y1="450.7" x2="361.2" y2="450.7" stroke="#333" stroke-width="0.6"/>
<line x1="359.8" y1="463.1" x2="361.2" y2="463.1" stroke="#333" stroke-width="0.6"/>
<line x1="359.8" y1="475.9" x2="361.2" y2="475.9" stroke="#333" stroke-width="0.6"/>
<line x1="359.8" y1="477.9" x2="361.2" y2="477.9" stroke="#333" stroke-width="0.6"/>
<line x1="359.8" y1="479.9" x2="361.2" y2="479.9" stroke="#333" stroke-width="0.6"/>
<line x1="372.8" y1="491" x2="372.8" y2="492.4" stroke="#333" stroke-width="0.6"/>
<line x1="374.2" y1="491" x2="374.2" y2="492.4" stroke="#333" stroke-width="0.6"/>
<line x1="375.6" y1="491" x2="375.6" y2="492.4" stroke="#333" stroke-width="0.6"/>
<line x1="391" y1="491" x2="391" y2="492.4" stroke="#333" stroke-width="0.6"/>
<line x1="404.4" y1="491" x2="404.4" y2="492.4" stroke="#333" stroke-width="0.6"/>
<ellipse cx="444.6" cy="478.6" rx="4.2" ry="4.2" fill="#3f5fd0" fill-opacity="0.5" filter="url(#bl)"/>
<ellipse cx="455.3" cy="478.6" rx="9" ry="1.8" fill="#3f5fd0" fill-opacity="0.22" filter="url(#bl)"/>
<ellipse cx="466.3" cy="478.5" rx="10" ry="4.5" fill="#3f5fd0" fill-opacity="0.45" filter="url(#bl)"/>
<ellipse cx="473.1" cy="461.3" rx="4.5" ry="10" fill="#3f5fd0" fill-opacity="0.35" filter="url(#bl)"/>
<path transform="scale(.5)" d="M891 964h2m-1-15h2m-10 8h2m1-2h2m2-1h2m-3 9h2m-10 1h2m19-3h2m-17 3h2m-8-7h2m1-5h2m-3 3h2m6 4h2m-4-1h2m-7-2h2m-2 0h2m-1 7h2m4-6h2m-3-5h2m-3 10h2m-7-9h2m3 2h2m-5 0h2m5 7h2m-9-2h2m9-2h2m-14-2h2m1 1h2m-5 3h2m-5-2h2m-1-1h2m4 0h2m-4-7h2m-2 10h2m2-5h2m-6 4h2m4-1h2m-5 1h2m4 0h2m-12-6h2m-2 7h2m0-3h2m-3 4h2m-2-10h2m6 8h2m-8-5h2m-3 1h2m2 6h2m-8 0h2m1-1h2m-7 0h2m3-2h2m0-3h2m0 2h2m-9 5h2m5 0h2m-12-2h2m8 3h2m-5-4h2m3 1h2m-13-4h2m-7 6h2m3-8h2m-1 2h2m-1-1h2m0 7h2m1-7h2m-4 6h2m-4-9h2m-2 11h2m10-5h2m-21-4h2m14 12h2m-15-8h2m5 1h2m-4-2h2m-4-4h2m0 4h2m-4-2h2m-10 1h2m11 1h2m-16 1h2m13 2h2m-3-12h2m1 7h2m-20 5h2m3-7h2m8 7h2m-3 8h2m-9-9h2m7-7h2m-3 2h2m-7 7h2m-3-3h2m-5 4h2m3-11h2m-5 6h2m3 3h2m-9-3h2m-3 3h2m12-9h2m-16-2h2m2 11h2m1-9h2m-4 5h2m1 2h2m-4 2h2m-3-4h2m-5 2h2m6-1h2m-1-1h2m-2 1h2m-5-1h2m-6 5h2m-1-4h2m6 3h2m-11-3h2m-3 4h2m1-3h2m-1-6h2m-4 4h2m3-2h2m-3 5h2m0-2h2m-7 3h2m-3-6h2m0 1h2m-6-2h2m0 2h2m0 7h2m-3-9h2m5 2h2m-2 0h2m-8-1h2m-4 7h2m11 1h2m-15-3h2m-6-3h2m5-1h2m-5 2h2m-6 2h2m10 3h2m-9 0h2m-2 0h2m-1-10h2m4-5h2m-10 12h2m3 0h2m-5-2h2m-3 1h2m3 2h2m-8 4h2m0-8h2m-5-5h2m-1 10h2m3-6h2m-3 2h2m-3 3h2m-9 2h2m4 0h2m-2 1h2m6-8h2m-6 2h2m2 4h2m-10-3h2m4-7h2m-3 5h2m-6-1h2m-3 5h2m1-5h2m-7 4h2m4-6h2m-5 3h2m-5 3h2m0 0h2m-8 0h2m6-5h2m4-2h2m-7 6h2m-5 0h2m3-9h2m-5 11h2m-5-1h2m-3-4h2m1-2h2m-6 6h2m1-8h2m-1 2h2m-1 0h2m-9 3h2m-1 5h2m8-1h2m-8-1h2m2-3h2m-8-4h2m-1 5h2m-3 0h2m-3-1h2m2 4h2m-8-1h2m-2 1h2m5-1h2m-4-2h2m-2-1h2m-2 2h2m-14 3h2m10-1h2m-3-7h2m9 8h2m-14-7h2m-6 3h2m4-4h2m2 9h2m-7-8h2m1 3h2m-5 9h2m-6-8h2m3-2h2m0 2h2m-12-10h2m3 10h2m3-4h2m-2 6h2m4-3h2m-14 1h2m5-6h2m-2 7h2m-15 1h2m9-10h2m3 1h2m-7 8h2m-7-7h2m6-3h2m-16 7h2m17-7h2m-11 5h2m-6 4h2m0-2h2m4 2h2m-9 0h2m-1-4h2m3 2h2m-10 5h2m-2-8h2m6-2h2m0 5h2m-5 1h2m-2 3h2m-10-3h2m8 9h2m-12-7h2m13 12h2m-6-18h2m1 10h2m-9 1h2m-7-9h2m1 3h2m8 1h2m-13-5h2m4 2h2m-4 3h2m-6-5h2m-3-5h2m2 8h2m-3 0h2m-3 1h2m5 3h2m-12-2h2m1-2h2m6 1h2m-12-5h2m-1 4h2m-4-3h2m7 2h2m-11 0h2m-1-2h2m1 1h2m1 5h2m-4-5h2m-1-7h2m-5 11h2m-4-1h2m2 5h2m-8-6h2m-6-2h2m8 6h2m-1-4h2m-6-1h2m0 2h2m2-7h2m-14 5h2m8 4h2m-3-3h2m-3 4h2m1-13h2m-3 7h2m-4 6h2m2 3h2m-7-6h2m2-5h2m-4 4h2m-1 9h2m-3 3h2m-5-16h2m4 5h2m-5 3h2m-3-2h2m-7-1h2m7-3h2m-7-7h2m1-3h2m-1 12h2m-7 6h2m-3-8h2m1 1h2m-4-1h2m0-7h2m3 5h2m-10 0h2m-3 1h2m0 5h2m5 6h2m-11-11h2m2 2h2m-3-6h2m-1 9h2m-3 0h2m3-10h2m-13 10h2m6-9h2m-3 11h2m-2-5h2m-6 2h2m3 0h2m-8-7h2m1 7h2m-4-7h2m8 13h2m-5-12h2m-4 5h2m6-1h2m-8 9h2m-2-7h2m-6 1h2m1 3h2m0 0h2m-11-20h2m5 14h2m4 0h2m1-2h2m-10-11h2m-2 20h2m-8-2h2m-2-12h2m4 10h2m5-7h2m-9 2h2m-2 1h2m-5 0h2m1 0h2m-3 3h2m-2 1h2m-6 3h2m1 0h2m7-4h2m2-5h2m-13 1h2m-5 3h2m3 1h2m0 2h2m-1-10h2m-5-1h2m-7 3h2m-4 7h2m0-2h2m2 10h2m-10-19h2m11-3h2m-14 16h2m0-5h2m8 7h2m-10-7h2m1-8h2m6 0h2m-6 20h2m-16-12h2m0-3h2m18 7h2m-12-4h2m-8-2h2m6 3h2m-5 4h2m1 6h2m-7-14h2m0 4h2m1-7h2m-13-1h2m8-1h2m-11 8h2m-8 6h2m9 3h2m5-1h2m2-9h2m-11 1h2m-8-3h2m6 0h2m-12-1h2m2-1h2m3 0h2m4-2h2m-14 12h2m-8 1h2m2-9h2m-9-6h2m10 10h2m1 4h2m-7-4h2m3 4h2m-8 0h2m7-5h2m-5-1h2m-10 8h2m-1-6h2m-1-3h2m10 0h2m-20 3h2m5 1h2m-2-1h2m5-2h2m-7-1h2m-1 1h2m1 10h2m1-4h2m-9 1h2m-6 0h2m0-12h2m-1-7h2m9 6h2m-6 3h2m-9 12h2m29-6h2m-11-4h2m-15 6h2m10-1h2m9 3h2m-16-4h2m7-4h2m-17 4h2m25-5h2m-28 1h2m-2 6h2m16-2h2m-3-2h2m-18 1h2m16 3h2m-7-6h2m4 6h2m-24-1h2m13-4h2m7 3h2m-8 2h2m-27-5h2m14 4h2m0-1h2m6-2h2m-18 4h2m-8-1h2m10 0h2m-13 1h2m28-2h2m-16 2h2m1 1h2m-13 0h2m-12-7h2m8 5h2m11-4h2m5 7h2m-6-2h2m-12-2h2m-8 1h2m-11 1h2m0-10h2m5 12h2m19-7h2m-4-1h2m-13 3h2m5-3h2m1 9h2m-32-6h2m20 4h2m-10-2h2m-12-1h2m25-2h2m-21-1h2m12 1h2m-17-1h2m-2 2h2m-10 0h2m18 2h2m-21 2h2m16 2h2m-22-3h2m17-6h2m10 2h2m-36 1h2m1-3h2m25 4h2m-30 0h2m9 0h2m18-1h2m-14-1h2m-17 2h2m0 1h2m0-1h2m9 2h2m-3-3h2m-21-2h2m17 2h2m-8 2h2m18-5h2m-35 1h2m16 1h2m6-4h2m-28 6h2m24-1h2m-12 6h2m8-9h2m-26 2h2m10 0h2m-13 1h2m13 1h2m-18-1h2m5 5h2m8-2h2m7-6h2m2 3h2m0 2h2m-4-4h2m-32 8h2m36 3h2m12-3h2m-16 2h2m4-4h2m-24-7h2m13 2h2m-10-8h2m-4 9h2m9-5h2m-7 13h2m1-17h2m-5 9h2m13 1h2m0 1h2m-5 4h2m2-5h2m-11 17h2m-22-17h2m16-4h2m2 2h2m-3 2h2m-20 4h2m29-1h2m-20-12h2m-2 8h2m-14-9h2m12 13h2m0 6h2m-30-8h2m18 5h2m-2-11h2m-2 6h2m-9-6h2m9 8h2m-8-2h2m-5-4h2m6 6h2m13-5h2m-14 10h2m2-11h2m-7-4h2m-29 3h2m13-3h2m17 4h2m-12 2h2m-5-5h2m21-4h2m-24 12h2m-3-3h2m3 1h2m-9 4h2m7 2h2m-6-16h2m-21 7h2m21-5h2m-13 13h2m7-9h2m-6 4h2m-6-2h2m-4 2h2m22 6h2m-33 4h2m10-17h2m-16 7h2m16-4h2m-13 2h2m10 4h2m1-14h2m-15 12h2m9 3h2m-22 3h2m1-8h2m6-1h2m-6 6h2m15-2h2m-24-5h2m11 5h2m-7-3h2m32 1h2m-33-11h2m-7 18h2m15-12h2m-3 6h2m-19 3h2m0-5h2m5 2h2m-7 0h2m3 0h2m2-4h2m-21 3h2m26 2h2m-13-5h2m-16-3h2m0 4h2m-9 1h2m-2 4h2m15-11h2m-8 9h2m8 3h2m-10-5h2m-1 4h2m-7-4h2m7-1h2m-15 8h2m15-10h2m14 1h2m-32 1h2m13 9h2m6-4h2m-15 0h2m-12-6h2m12 4h2m-5-6h2m-2-2h2m6 7h2m-19-2h2m-3 8h2m-25-1h2m29-4h2m-12-7h2m10 4h2m1 7h2m-8-3h2m1-1h2m-10 0h2m8-1h2m-11-7h2m-9 14h2m21-6h2m-10-2h2m2 5h2m-12-3h2m11-8h2m-22 4h2m-5 1h2m2 0h2m12-3h2m-6 11h2m-1-12h2m-11 11h2m2-8h2m9 0h2m-22 6h2m10-6h2m3 8h2m4-4h2m-8 1h2m-23 6h2m7-11h2m-4-1h2m18 4h2m-19-8h2m6 8h2m-15 0h2m-11 3h2m5-1h2m12-12h2m-15 7h2m18 6h2m-3 5h2m-12-10h2m-19-3h2m24 1h2m-17 8h2m-19 2h2m37-14h2m-10 8h2m2-2h2m-12 8h2m-7-4h2m11-2h2m0 2h2m-2-10h2m-22 9h2m21 6h2m-14-10h2m-14-6h2m5 12h2m2-10h2m-2 7h2m-9 7h2m10-2h2m-5-9h2m8 9h2m-19-11h2m12 3h2m-22 3h2m16-3h2m-8 8h2m6-12h2m-3 15h2m1-8h2m-8-7h2m-12 5h2m26 2h2m-34 8h2m21-16h2m-17 0h2m11-2h2m6 5h2m-32 15h2m14-8h2m2-6h2m-2 3h2m-6 2h2m7-7h2m-31 9h2m38 0h2m-29 0h2m-13-3h2m-7 1h2m23 7h2m-14-4h2m17-9h2m-19-3h2m-8 10h2m-15-3h2m27 8h2m-36-5h2m18-13h2m-6 14h2m9 0h2m-5 0h2m-9-7h2m6-4h2m13 7h2m-25-3h2m-2 5h2m4 3h2m-10-4h2m-6-2h2m28 1h2m-7 1h2m-23-4h2m-2 6h2m12 12h2m13-10h2m-29-3h2m-2 10h2m0-6h2m-8-1h2m-1-6h2m13 3h2m-5-1h2m-10 0h2m6-4h2m5 5h2m-16 5h2m0-15h2m17 7h2m0 4h2m-27 3h2m13-1h2m-7 3h2m8-8h2m-28 1h2m15-5h2m-5 12h2m-5-2h2m-7-9h2m18 3h2m-10 6h2m13-11h2m-13 7h2m-7 7h2m-6-11h2m6-6h2m-3 5h2m-3 1h2m0 2h2m-15 4h2m14-10h2m-24 6h2m8 7h2m18-4h2m-7-3h2m-28 2h2m-6 7h2m19-3h2m-11-12h2m3 9h2m-3-4h2m2 1h2m11-5h2m-40 6h2m25-7h2m-6 9h2m2-1h2m-13-8h2m16 5h2m-27 9h2m21-20h2m17 14h2m-46 3h2m18 2h2m-5-14h2m-4 6h2m3 1h2m1-5h2m-14 4h2m8-6h2m-6 19h2m-21-6h2m18 0h2m-3-4h2m2 1h2m-19-3h2m30 8h2m-30-11h2m5 9h2m9-8h2m-36 3h2m5 6h2m31-3h2m-11 0h2m11 2h2m-6-10h2m-23 5h2m-20-1h2m21 1h2m25-1h2m-30 0h2m-4-6h2m14 7h2m-10 0h2m-15-7h2m4 9h2m-1 1h2m-9-4h2m8 1h2m-1 7h2m-9-6h2m-4 2h2m7-6h2m-15-3h2m6 7h2m-5-1h2m5 11h2m9 0h2m-13-10h2m17 1h2m-15-4h2m-15 6h2m-3-7h2m-11 4h2m13 2h2m-10-9h2m18 6h2m-5-5h2m-24-7h2m15 17h2m9 3h2m-36-13h2m12 1h2m1 0h2m-15 4h2m15-4h2m-3-2h2m-6 4h2m-3 2h2m-11-6h2m3 9h2m-3-7h2m29 3h2m-27-3h2m17 6h2m-15 5h2m-17-15h2m22 10h2m-19 2h2m3 5h2m-15-7h2m22 2h2m-16-6h2m-3 5h2m-2-4h2m13 0h2m-10 0h2m-4-9h2m-12 12h2m1-5h2m5 14h2m-10-15h2m-13 6h2m16-6h2m-6 9h2m13-3h2m0 3h2m-19-1h2m4 0h2m0 6h2m-19-8h2m0 9h2m4-13h2m3 2h2m17 0h2m-18 5h2m12-9h2m-15-2h2m0 13h2m-13-8h2m16 3h2m-6-4h2m-14 0h2m18-5h2m-24 14h2m3-12h2m1 4h2m-6 3h2m8-9h2m-8 14h2m-19-7h2m0 3h2m2-5h2m2 4h2m-11-9h2m14 13h2m-10-4h2m6-1h2m-5-4h2m-4 9h2m5 0h2m-14-5h2m-1-7h2m14 5h2m-9-6h2m-7 6h2m-4 6h2m7-4h2m-4-3h2m-12 1h2m-5 0h2m7 6h2m-5 6h2m-3-10h2m3-4h2m-2-5h2m10 5h2m-14-5h2m5 2h2m6 1h2m-24 8h2m19-12h2m-33 17h2m20-15h2m-11 10h2m-2 4h2m-5-6h2m18 6h2m-12-4h2m-8-3h2m-5 2h2m13-7h2m-23 5h2m32 1h2m-22-1h2m-21-3h2m31-7h2m1 4h2m-5 5h2m-11-2h2m-13 4h2m-31 2h2m28-8h2m-1 8h2m-8-1h2m-8-2h2m0 4h2m0-1h2m-12-2h2m30-5h2m-13 0h2m3 8h2m5 2h2m-1-9h2m-14 5h2m-1-8h2m-4-6h2m17 11h2m2-4h2m-20 9h2m-23-6h2m19 5h2m-3-15h2m-32 14h2m40-9h2m-14 11h2m-17-12h2m11 6h2m-6 1h2m-2 2h2m-6-1h2m-2-4h2m7 0h2m0 4h2m4 3h2m-35-3h2m26 1h2m-8 4h2m5-11h2m-9 11h2m-1-11h2m5 9h2m2-2h2m-13 3h2m-15 4h2m14-7h2m1 3h2m-33 0h2m20-8h2m9 8h2m-8-7h2m-4-2h2m23 2h2m-19 11h2m-21-11h2m-16 2h2m8 2h2m9-1h2m1-2h2m-1 2h2m-11-2h2m-1-4h2m4-3h2m4 9h2m-6 5h2m7-7h2m-9 8h2m-7-4h2m4-7h2m-4 3h2m-7 4h2m7-6h2m-11 3h2m-10 3h2m6-5h2m10 3h2m-24 0h2m9 1h2m23 2h2m-10-4h2m-13 3h2m-8-1h2m-5 2h2m-7 5h2m-32-15h2m36 9h2m1-10h2m1 4h2m-4 2h2m-7-5h2m-13 4h2m0 4h2m-5 0h2m18-5h2m-18 2h2m17 9h2m12-7h2m-18 1h2m-9-6h2m-5 10h2m16-8h2m-34 12h2m16-7h2m-4-11h2m3 4h2m-9 2h2m-1 14h2m16-20h2m-34 7h2m7 6h2m22-8h2m-13 3h2m-28 7h2m37-10h2m-14 2h2m-10 0h2m-2 2h2m-7 1h2m-9 3h2m1-13h2m17 7h2m-16 6h2m3 5h2m3-16h2m-12 4h2m0 11h2m6-5h2m-5-14h2m-9 11h2m-4-1h2m-4-4h2m20-4h2m-4 4h2m-15-5h2m7 5h2m18 1h2m-26 7h2m-15-7h2m-3 7h2m13 2h2m-21-9h2m12 2h2m3 7h2m-4-9h2m-4 1h2m-8 12h2m12 0h2m-12-9h2m-13 1h2m19 2h2m-22-3h2m20-2h2m-4 0h2m-10-1h2m-17-1h2m15 3h2m-4-2h2m8 2h2m-7-1h2m7 1h2m-11 11h2m-2-17h2m-14 9h2m-8-9h2m10-1h2m11 10h2m-17 4h2m-6-12h2m15 6h2m-14 5h2m-1-2h2m2 2h2m1-7h2m8 0h2m1-4h2m-20-5h2m3 17h2m-12-4h2m0 5h2m4-5h2m6-9h2m-6 8h2m4-1h2m-9 0h2m0-40h2m2-10h2m-1 10h2m7 3h2m-10 4h2m1-21h2m-15 38h2m3-29h2m8 14h2m-12 5h2m-3 11h2m2-15h2m-1 18h2m-7-24h2m14-23h2m-15 28h2m-1 2h2m5-19h2m-11 29h2m4-4h2m-8-22h2m-4 8h2m-3 11h2m1-2h2m-7 4h2m10 1h2m-4 16h2m1-27h2m1-5h2m-9 24h2m-5-19h2m1 2h2m-4 10h2m10-17h2m-20-1h2m-2-10h2m0 28h2m4-4h2m-3 4h2m-4 3h2m5-13h2m-14-15h2m6 0h2m-4 11h2m6-7h2m-8 3h2m-7 11h2m7-22h2m1 43h2m-9-20h2m-8-11h2m5 4h2m3-10h2m-10 17h2m-1-9h2m-2 7h2m-11 26h2m11-43h2m-10-1h2m4-8h2m8 15h2m-21 31h2m5-19h2m-3-8h2m9-21h2m-11 15h2m-5 8h2m-9 8h2m8-1h2m-6 2h2m-1 1h2m7-2h2m-16-7h2m0 23h2m4-38h2m-10 30h2m0-11h2m2-6h2m-3 2h2m8-11h2m-7 16h2m-8-18h2m-3 19h2m3 6h2m-1-11h2m-4 1h2m-2 6h2m-6 4h2m10-13h2m-7-13h2m-4-3h2m2 17h2m-1 13h2m-11-4h2m9 17h2m-10-20h2m-5 1h2m4 10h2m-6-17h2m2-2h2m-13-4h2m10 6h2m-4-18h2m-1 24h2m3 3h2m-13-18h2m-4 3h2m3 20h2m6-13h2m-7-3h2m-11 8h2m1-25h2m-3 36h2m-4-1h2m-3-17h2m8-4h2m-10 5h2m12 7h2m-10-1h2m3 9h2m-9-26h2m-6 11h2m2 0h2m-4 29h2m-2-13h2m-3-26h2m-4-3h2m-4 3h2m5 18h2m-10-3h2m7-5h2m-13 5h2m13 8h2m-7 1h2m0-25h2m0 22h2m-4-12h2m-4 9h2m-10-5h2m1-9h2m5 20h2m-3-25h2m12 14h2m-29-4h2m8-6h2m7 32h2m-7-41h2m2 17h2m-9 1h2m-6 0h2m6 12h2m6-22h2m-10-2h2m-3 23h2m0-17h2m4 14h2m-5-9h2m-1-3h2m-4 2h2m-7-18h2m3 24h2m-10-6h2m4 7h2m-15 10h2m3 5h2m9-21h2m-7 2h2m-5 14h2m-3-24h2m0-12h2m4 5h2m1 25h2m0-18h2m-13 1h2m3-5h2m-6 13h2m8-12h2m-7 16h2m-2-19h2m-24 7h2m20 8h2m1 23h2m-13-30h2m9-15h2m-22 23h2m12 15h2m0-19h2m-9-21h2m4 14h2m-7 12h2m-10-5h2m5 24h2m1-10h2m-7-32h2m8 15h2m-14 16h2m8-33h2m-6 44h2m0-39h2m-7 32h2m10-8h2m-17 2h2m1-16h2m0 19h2m3-6h2m-7-13h2m6-2h2m-9 14h2m-2 5h2m2-4h2m7-14h2m-3-9h2m-17-14h2m-1 20h2m5 25h2m6-22h2m-8 4h2m-10-21h2m5 12h2m-3 4h2m-3-4h2m-3 34h2m-2-39h2m-8 18h2m6-16h2m-10-5h2m11 23h2m-9-9h2m6 13h2m-12 7h2m1-18h2m-7 4h2m7-18h2m-17 26h2m12 9h2m-5-36h2m-1 21h2m-11-22h2m-5 20h2m0 4h2m3 3h2m4-18h2m-9 20h2m-3 3h2m4-1h2m-8-2h2m0-7h2m3-9h2m-9 14h2m-4-33h2m-4 22h2m9 10h2m-13-1h2m-1 8h2m6-21h2m-6 7h2m-3 15h2m3-21h2m-1-10h2m-4 13h2m-6 3h2m2-17h2m-1 54h2m0-44h2m-4 28h2m-9 0h2m1 3h2m-4-11h2m-1 3h2m6-11h2m-11 8h2m4-26h2m-1 12h2m-5-10h2m-1 22h2m-7-1h2m-7-8h2m9-13h2m-3-4h2m7 20h2m-6-16h2m-19 11h2m16-1h2m-3 6h2m-6 8h2m-7-17h2m7 10h2m-10-19h2m5 12h2m-13 7h2m7 22h2m-9-18h2m0-10h2m0 18h2m0-19h2m-7 14h2m-2-7h2m3 4h2m0-6h2m4 6h2m-16-21h2m-1 28h2m-4 3h2m5-27h2m-9 6h2m7 1h2m-2 3h2m1-8h2m-9-8h2m-3 1h2m-8 10h2m-1-15h2m6 24h2m-2-9h2m-8 5h2m-2-5h2m4-1h2m-12 16h2m3-18h2m-1 5h2m-1 5h2m4 18h2m-17-24h2m4 4h2m-3-2h2m5-1h2m-3 9h2m-8-9h2m8 12h2m-2-22h2m-10 23h2m1-9h2m-3 8h2m0-24h2m-1 8h2m-5 11h2m0-13h2m-8 1h2m3-9h2m-5 43h2m-2-28h2m-5-4h2m5 6h2m-11-2h2m1 13h2m3 6h2m0-34h2m1 9h2m-7 7h2m-8 13h2m5-27h2m-9 18h2m10 0h2m-6-11h2m2 12h2m-12-14h2m-8 22h2m23-16h2m-15 11h2m-5 17h2m-6-37h2m11 22h2m-6-13h2m-6 3h2m0-9h2m1 29h2m-9-33h2m1 42h2m-7-14h2m-1-26h2m7 8h2m-8 10h2m4-5h2m0-12h2m-12 17h2m3-29h2m-6 29h2m-2 13h2m-9-19h2m2-22h2m1 19h2m-3-7h2m4-5h2m-9-4h2m7-1h2m1 7h2m-11 30h2m-7-3h2m-3-22h2m7 10h2m-3 0h2m4-24h2m-13 30h2m-6-19h2m17 25h2m-11-15h2m-6-12h2m-5-1h2m-4 13h2m6-13h2m-3-4h2m-1 12h2m-4 6h2m5 0h2m-12 0h2m3 4h2m1-16h2m-13 17h2m-1-2h2m17 10h2m-23-25h2m7 6h2m0 7h2m-4 4h2m-11 7h2m-2-25h2m-7 11h2m12-5h2m-10-22h2m7 13h2m-7 17h2m0 2h2m6 3h2m-15-9h2m2-10h2m2 6h2m-4 13h2m8-16h2m-9 34h2m2-22h2m-13-2h2m-2-7h2m-7 1h2m-4 16h2m11-17h2m-5 6h2m-3 2h2m-2 2h2m-5-4h2m11-11h2m-15 21h2m4-9h2m-3-7h2m-5 11h2m1 2h2m-1 19h2m-3-10h2m-2 10h2m2-36h2m1 2h2m-5-2h2m-5 11h2m-13 10h2m11-18h2m-5-15h2m-5 13h2m5 11h2m-8 11h2m-4-5h2m0-3h2m-2 11h2m-3 8h2m4-35h2m-8 26h2m8-31h2m-9 23h2m9 0h2m-15 3h2m0-21h2m-3 7h2m-3 4h2m1-10h2m0-10h2m-2 25h2m-4-24h2m-6 21h2m3 6h2m-12-9h2m11-14h2m-14 9h2m3 2h2m5 7h2m-17 6h2m8 1h2m-3 6h2m-1-23h2m-9 18h2m4-33h2m2 37h2m-16-9h2m6 21h2m1-15h2m-6 9h2m-12 5h2m8-4h2m-9 0h2m2-7h2m-1 4h2m-10-2h2m7-10h2m5 26h2m-7-16h2m-11-7h2m-2 12h2m-1-4h2m0 4h2m7 1h2m-5 0h2m3-11h2m-9 1h2m-3 3h2m-2 5h2m-9-20h2m6 22h2m-5 3h2m11-9h2m-14 3h2m2-12h2m-3-3h2m-10 13h2m5-8h2m-3 15h2m-11-5h2m13-11h2m-2 11h2m-10-3h2m-1 0h2m-2-4h2m3 14h2m-7-1h2m-5-17h2m5 10h2m-3-8h2m-6 12h2m8-4h2m-8-18h2m-8 24h2m11-13h2m-24 8h2m4-5h2m2 0h2m-4 6h2m4-12h2m-11 21h2m8-12h2m-13 12h2m1-12h2m5-5h2m-3 1h2m-13-5h2m6 5h2m3 13h2m-6 3h2m-3-12h2m-1-11h2m-1 9h2m-6 6h2m5-7h2m-9 4h2m-1-7h2m-1 11h2m-1-7h2m-2 5h2m-1 1h2m-2 0h2m-3-9h2m2 3h2m-7 10h2m-2-14h2m-1 14h2m-7-2h2m7-9h2m-6-2h2m-11-2h2m2-4h2m2 14h2m-4-6h2m-1 1h2m3 9h2m-1-6h2m2 3h2m-6-1h2m0-10h2m-11 7h2m-6-2h2m5 3h2m3 6h2m-17-7h2m11 8h2m-7-6h2m1-9h2m0 12h2m-5-5h2m5-2h2m-9 3h2m2 1h2m2 0h2m-15-13h2m4 20h2m-1-12h2m-1 5h2m3-11h2m-5 9h2m-2 6h2m-17-1h2m12-11h2m-5 12h2m-9-1h2m9 5h2m-10-15h2m7 2h2m-5-14h2m8 5h2m-22 14h2m9-8h2m-16 9h2m10-9h2m-2 2h2m-8 7h2m3-4h2m-8-4h2m3 1h2m1 3h2m-5-1h2m1 7h2m-9 0h2m8-1h2m-9-4h2m11-9h2m-9 7h2m3 2h2m-6-5h2m-9 14h2m-6-13h2m3-4h2m2 0h2m-4 6h2m-14 2h2m2-1h2m-6-3h2m-13 20h2m1 5h2m-5-6h2m-9 2h2m-10-5h2m7 9h2m-10-5h2m1 2h2m6-3h2m2-1h2m-22 8h2m10-6h2m5-3h2m-11 0h2m6 4h2m-5-6h2m-10 0h2m-6 2h2m10 4h2m-18 0h2m15 3h2m2-10h2m-5 6h2m-3-3h2m6 3h2m-17-7h2m0 2h2m-11 10h2m9-3h2m7 0h2m-14-7h2m0 5h2m-2-2h2m0-3h2m5 0h2m-9 1h2m7 1h2m-19 1h2m12-3h2m-19 3h2m14-8h2m-1 17h2m-10-5h2m-2-9h2m-4 8h2m-7-3h2m1 3h2m22-1h2m-31 5h2m6-7h2m4 4h2m-4-2h2m-2-5h2m2 7h2m-14-9h2m0 7h2m13 0h2m-38-3h2m24 3h2m-15-2h2m11 4h2m3 3h2m-13-7h2m0 3h2m17-1h2m-17-4h2m-13 9h2m8-1h2m4-6h2m-6-2h2m1 3h2m-1 4h2m-12-1h2m6-4h2m-4 5h2m-3-1h2m0 1h2m-6-5h2m4-6h2m-11 12h2m-4 1h2m17-7h2m-21 3h2m11 4h2m3-8h2m-7 1h2m0 3h2m0-2h2m-6-4h2m-16 6h2m6 1h2m15-5h2m-29-1h2m2 7h2m6-5h2m0 1h2m-5 0h2m-14 3h2m10 5h2m-3-10h2m-1 0h2m-4 1h2m1-2h2m-6 2h2m-8 1h2m11 3h2m-5-3h2m3-1h2m-4-5h2m-17 4h2m16 1h2m-7-2h2m-17 13h2m22-4h2m-15-8h2m0 1h2m-7-7h2m3 1h2m-8 2h2m18 1h2m-21 5h2m-1 0h2m8-3h2m-6 2h2m-16 1h2m0 3h2m6-3h2m6-4h2m-16 8h2m10-3h2m-23-2h2m6-2h2m-7-3h2m7 6h2m-3-1h2m3 5h2m-7-4h2m24-1h2m-17-4h2m-17 3h2m31-1h2m-15 0h2m-23-4h2m9 10h2m-10-5h2m-4-1h2m15 0h2m-19 4h2m9-2h2m12 1h2m27-5h2m-46-12h2m-10-6h2m25 11h2m-32 22h2m33 6h2m-39-23h2m9-35h2m46 32h2m-59-8h2m11 17h2m-16-7h2m20-48h2m-13 55h2m-18 7h2m41-42h2m-45 28h2m35-43h2m-2-12h2m28 66h2m-58-31h2m31-32h2m-12 38h2m1-23h2m-25 1h2m0 57h2" stroke="#2c44c0" stroke-opacity=".5" stroke-width="1.5"/>
<ellipse cx="444.3" cy="478.6" rx="2.8" ry="2.8" fill="url(#gL)"/>
<ellipse cx="466.9" cy="478.6" rx="7.5" ry="3.4" fill="url(#gH)"/>
<ellipse cx="473.3" cy="461.9" rx="2.4" ry="2.8" fill="url(#gL)"/>
<ellipse cx="472.9" cy="454.8" rx="1.8" ry="2" fill="url(#gVL)"/>
<rect x="431.5" y="440.5" width="55" height="51" fill="none" stroke="#999" stroke-width="1"/>
<line x1="458.1" y1="440.5" x2="458.1" y2="491.5" stroke="#666" stroke-width="1"/>
<line x1="431.5" y1="469.5" x2="486.5" y2="469.5" stroke="#555" stroke-width="1"/>
<text x="433.3" y="446.9" font-size="6.3" text-anchor="start" fill="#231f20">0,12</text>
<text x="484.5" y="446.9" font-size="6.3" text-anchor="end" fill="#231f20">28,7</text>
<text x="433.3" y="487.9" font-size="6.3" text-anchor="start" fill="#231f20">11,9</text>
<text x="484.5" y="487.9" font-size="6.3" text-anchor="end" fill="#231f20">59,3</text>
<text x="444.6" y="498.7" font-size="6.3" text-anchor="middle" fill="#231f20">0</text>
<text x="462.3" y="498.7" font-size="6.3" text-anchor="middle" fill="#231f20">10<tspan font-size="4.4" dy="-2.4">3</tspan></text>
<text x="475.9" y="498.7" font-size="6.3" text-anchor="middle" fill="#231f20">10<tspan font-size="4.4" dy="-2.4">4</tspan></text>
<text x="429.5" y="452.8" font-size="5.9" text-anchor="end" fill="#231f20">10<tspan font-size="4.2" dy="-2.4">4</tspan></text>
<text x="429.5" y="464.9" font-size="5.9" text-anchor="end" fill="#231f20">10<tspan font-size="4.2" dy="-2.4">3</tspan></text>
<text x="427.3" y="480.7" font-size="6.3" text-anchor="end" fill="#231f20">0</text>
<line x1="429.9" y1="450.7" x2="431.3" y2="450.7" stroke="#333" stroke-width="0.6"/>
<line x1="429.9" y1="463.1" x2="431.3" y2="463.1" stroke="#333" stroke-width="0.6"/>
<line x1="429.9" y1="475.9" x2="431.3" y2="475.9" stroke="#333" stroke-width="0.6"/>
<line x1="429.9" y1="477.9" x2="431.3" y2="477.9" stroke="#333" stroke-width="0.6"/>
<line x1="429.9" y1="479.9" x2="431.3" y2="479.9" stroke="#333" stroke-width="0.6"/>
<line x1="442.9" y1="491" x2="442.9" y2="492.4" stroke="#333" stroke-width="0.6"/>
<line x1="444.3" y1="491" x2="444.3" y2="492.4" stroke="#333" stroke-width="0.6"/>
<line x1="445.7" y1="491" x2="445.7" y2="492.4" stroke="#333" stroke-width="0.6"/>
<line x1="461.1" y1="491" x2="461.1" y2="492.4" stroke="#333" stroke-width="0.6"/>
<line x1="474.5" y1="491" x2="474.5" y2="492.4" stroke="#333" stroke-width="0.6"/>
<ellipse cx="78.55" cy="542.7" rx="4.2" ry="4.2" fill="#3f5fd0" fill-opacity="0.5" filter="url(#bl)"/>
<ellipse cx="89.25" cy="542.7" rx="9" ry="1.8" fill="#3f5fd0" fill-opacity="0.22" filter="url(#bl)"/>
<ellipse cx="105.75" cy="540" rx="4" ry="3.5" fill="#3f5fd0" fill-opacity="0.3" filter="url(#bl)"/>
<ellipse cx="106.45" cy="524.4" rx="2.2" ry="7" fill="#3f5fd0" fill-opacity="0.22" filter="url(#bl)"/>
<path transform="scale(.5)" d="M158 1088h2m-2-3h2m0 1h2m-11-3h2m9-4h2m-1 7h2m-8 5h2m-2-8h2m-11 0h2m2 6h2m3-8h2m2 8h2m2-2h2m-15-1h2m5 3h2m-10-1h2m6-1h2m-11-3h2m4 1h2m2-1h2m-13-8h2m7 6h2m-4 8h2m-4-5h2m-5-5h2m6 11h2m-7-6h2m2-1h2m-3 0h2m0-1h2m-6-3h2m-4-1h2m1 11h2m-7-8h2m1 6h2m-1-4h2m-4 0h2m0-2h2m5 6h2m-8-1h2m7 1h2m-13-3h2m5 2h2m-8-1h2m-5-2h2m1 0h2m5 2h2m-3-1h2m-12 6h2m1-6h2m5 7h2m-6-1h2m-4-3h2m-4 2h2m-1-2h2m-4 4h2m9-8h2m-8-3h2m-3-2h2m1 6h2m0 0h2m-7-3h2m1 3h2m-9-6h2m6 6h2m-6-2h2m-4 2h2m1-5h2m7 9h2m-19-3h2m10-3h2m-12 5h2m1-3h2m7 0h2m-3-3h2m-15 2h2m4 4h2m1-11h2m-8 7h2m0-1h2m-1 3h2m-6-5h2m0 10h2m1-12h2m0 10h2m-10-9h2m6 6h2m-1 6h2m-2-2h2m-6 2h2m-3-5h2m-7-3h2m9-3h2m-7-5h2m-2 4h2m0 3h2m-5 1h2m-1 1h2m-2 5h2m4-15h2m-1 9h2m-6-2h2m-1 6h2m-7-7h2m3 6h2m-8-11h2m-3 11h2m7-6h2m-9 0h2m2 1h2m3 6h2m-9-4h2m2 0h2m-7 2h2m4 6h2m-8-12h2m-4 5h2m4-11h2m-2 13h2m-4-8h2m-2 4h2m-6 5h2m6-2h2m-4 4h2m-4-6h2m3-1h2m-9 4h2m-2-6h2m4 4h2m-9-2h2m3 6h2m-4 1h2m-2 2h2m1-12h2m-6 7h2m-1-6h2m-1 4h2m-9-5h2m2 9h2m-1-3h2m2-2h2m-5 1h2m1-2h2m-4-1h2m-3 8h2m-5-3h2m1-1h2m0 0h2m-2 7h2m-7-12h2m3 6h2m3-4h2m-7 0h2m-6 0h2m-3-2h2m-1 4h2m0 4h2m-6-4h2m-2 4h2m-2-5h2m-1 6h2m-4-9h2m1 3h2m-4 6h2m0-13h2m-1 3h2m-4 3h2m-3 1h2m0 4h2m9-6h2m-13 8h2m6-1h2m-9 5h2m-1-4h2m-4-10h2m5 2h2m-11 4h2m-2 2h2m2-4h2m-4 8h2m5-2h2m-12 2h2m3 1h2m0-11h2m-11 1h2m9 0h2m0-3h2m-6 5h2m-10 2h2m2-3h2m-8-3h2m3 4h2m-1 1h2m-2 5h2m2-1h2m-10-4h2m3 2h2m-4-2h2m-3-2h2m3-1h2m-7 2h2m3 2h2m-8-3h2m-2-3h2m11 9h2m-8-6h2m-1 8h2m-1-4h2m-4 1h2m-3-2h2m-5-9h2m6 18h2m-7-8h2m-3 1h2m-3-4h2m1-7h2m1 6h2m-5 4h2m2 5h2m-13-12h2m3-3h2m0 7h2m-7 4h2m-3-7h2m1 7h2m-2-5h2m-1 0h2m-9 5h2m6 1h2m-3-3h2m-9-7h2m-3 10h2m3 1h2m2-8h2m-4-1h2m-3 5h2m2-4h2m-10 7h2m-1-2h2m-3-6h2m-4 6h2m7 11h2m3-13h2m-16-2h2m6 3h2m-2-6h2m-5 3h2m-4-1h2m7 4h2m-8-3h2m2-1h2m-8 1h2m-8 6h2m4-1h2m1 1h2m0-6h2m-2-7h2m-8 0h2m4 2h2m-9 8h2m6-2h2m1 1h2m0 3h2m-2-15h2m-7 15h2m1-1h2m-6-1h2m-3 1h2m3-9h2m-9 0h2m-3 8h2m1 0h2m0 0h2m-6-2h2m-5-1h2m2 3h2m-8 3h2m4-11h2m-2 9h2m-1-4h2m-6 2h2m2 1h2m-4 4h2m-7-6h2m-2-8h2m5 12h2m-4-2h2m-1 3h2m-4-2h2m2-9h2m1 4h2m-11 0h2m6 1h2m-3-3h2m-4-3h2m-4 13h2m-3-5h2m-6 6h2m3-5h2m-2-6h2m-2 3h2m-5 1h2m-1-2h2m-9-2h2m9 5h2m-4 1h2m6 0h2m-8-2h2m-1 3h2m0-1h2m-8-2h2m-3 6h2m-1-12h2m-1 3h2m0 4h2m-6-7h2m0 1h2m-1 6h2m-3 0h2m-2 6h2m-7-11h2m8-1h2m-3 4h2m-5-5h2m-3 6h2m-9 0h2m5-9h2m0 8h2m-8 6h2m3-9h2m-5 6h2m-1 1h2m-4-2h2m4 2h2m-7-7h2m-3 5h2m1 4h2m-2 1h2m-2-1h2m3-3h2m-11 0h2m4-3h2m-4 4h2m-10 0h2m19-6h2m-4 1h2m-11 0h2m0-2h2m-6 3h2m-4 1h2m10-4h2m-7 0h2m-10 4h2m3 6h2m4-5h2m-14-5h2m10 7h2m-3-4h2m-1 8h2m-17-4h2m14-8h2m-13 7h2m7-2h2m-15 1h2m7-3h2m5-9h2m-8 8h2m1 2h2m5 2h2m-15-10h2m-1 9h2m9 2h2m-10-7h2m-2 0h2m-11 8h2m3-10h2m7 14h2m-6-16h2m-9 4h2m4 24h2m2-19h2m-12-7h2m-1 8h2m0 2h2m3-9h2m0 6h2m2-1h2m-13 1h2m7 3h2m-2 3h2m-7 7h2m-5-14h2m5-5h2m-6 12h2m-9-16h2m-5 16h2m20-11h2m-24-2h2m15 11h2m-7-8h2m-2 0h2m-3 0h2m-12 2h2m7 4h2m-7 3h2m-8-16h2m10 10h2m-5-1h2m1 3h2m3-6h2m-17 4h2m4 0h2m-13 3h2m20 0h2m-5 1h2m-7-1h2m2 1h2m-4-3h2m-10 2h2m0 1h2m8 6h2m-8-15h2m-6 0h2m2 6h2m-3-10h2m-12-2h2m15 15h2m-10-5h2m-12 0h2m6-2h2m6-7h2m-7 16h2m2-13h2m1 7h2m-11 3h2m5-1h2m-10 0h2m2 10h2m-4-16h2m9 13h2m23-7h2m-10-5h2m-17 4h2m0 0h2m-7 4h2m7-1h2m-6-2h2m11-4h2m6 5h2m-32 1h2m22-3h2m-16 0h2m-12 2h2m4-5h2m15 8h2m-14-7h2m-15 1h2m23 3h2m-16 0h2m19-3h2m-1 1h2m-7 0h2m0 3h2m-29 1h2m6-4h2m10 2h2m10-8h2m-28 6h2m-7-1h2m5 6h2m-1-2h2m0-5h2m15 3h2m-11 1h2m-7-4h2m5-2h2m-20 4h2m-5-1h2m5-1h2m-8 4h2m16-7h2m-7 11h2m10-4h2m-8-5h2m-22 9h2m28-9h2m-33 4h2m2 2h2m1 0h2m20-1h2m-21 1h2m6-7h2m9 4h2m-10 4h2m-25-2h2m16-2h2m8-1h2m5 2h2m-6-3h2m-33 3h2m9 4h2m-8-5h2m16 3h2m9-1h2m-36-8h2m1 6h2m36-2h2m9-7h2m-10 2h2m-3-7h2m2 7h2m0 7h2m-6-11h2m1 9h2m5 1h2m-8-3h2m-10 2h2m9-3h2m-7 2h2m1 0h2m-2-8h2m-6 0h2m4 16h2m-9-10h2m3-2h2m4 3h2m0 8h2m-9-12h2m1 2h2m-11 1h2m6-3h2m-7 7h2m-3 0h2m5-6h2m-13-2h2m9 6h2m-7-3h2m2-1h2m5 4h2m-20 2h2m6-4h2m-4 5h2m-4 1h2m-3-2h2m-5 0h2m0-5h2m6-2h2m-3 3h2m1 4h2m-6-4h2m-7 6h2m0-11h2m-4-2h2m-2 6h2m3 5h2m0-11h2m-8 10h2m2-3h2m-7 3h2m1-4h2m-2 0h2m0 6h2m-3-7h2m-3 2h2m1 3h2m3 1h2m-17-7h2m0 4h2m14 1h2m-15 4h2m3-9h2m-9 9h2m6-14h2m-9 10h2m-4-2h2m0-6h2m-1 4h2m2-4h2m-2 5h2m-10 6h2m2-3h2m7 0h2m-5-1h2m-8 0h2m-6 1h2m8 0h2m-9-6h2m-2 3h2m-5 9h2m1-7h2m-1 0h2m-9-5h2m7 4h2m0-2h2m0 3h2m-6-1h2m3 0h2m0 1h2m-8-1h2m-1 2h2m-6 1h2m12-1h2m-13-5h2m-6 0h2m3 1h2m3 1h2m-13-2h2m2 3h2m2-3h2m-4 7h2m-5-10h2m0 10h2m-1-4h2m-12 7h2m6-11h2m-3 5h2m0-4h2m8 8h2m-8-2h2m-8-7h2m-6 8h2m4 3h2m-12-2h2m9-7h2m0 0h2m-7 4h2m0-1h2m-2 3h2m-6-12h2m-3-1h2m11 7h2m-11 4h2m-5-4h2m2 2h2m1-1h2m-9-4h2m-6 6h2m7-2h2m2-9h2m-5 6h2m-6 3h2m-4 0h2m3 11h2m-4-7h2m2-6h2m-4 2h2m0-1h2m-1-1h2m-9 7h2m5 0h2m2 0h2m-11 0h2m-5-1h2m3-3h2m-7 4h2m-7-4h2m0-1h2m2-2h2m-2 4h2m9 6h2m-11-8h2m1-2h2m-11 7h2m3 2h2m1-11h2m-2 7h2m-3-7h2m-9 13h2m-8-11h2m14 10h2m-3-7h2m-3 5h2m-6 0h2m1-4h2m-1 0h2m-8 5h2m0-7h2m-10-5h2m11 6h2m-5-1h2m1-1h2m-11-4h2m1 7h2m8 1h2m-12-7h2m5 7h2m-6 1h2m1-1h2m1-8h2m-11 4h2m-3 10h2m4-6h2m0-3h2m-2 0h2m-2 3h2m0-8h2m-12 3h2m-1 5h2m6-3h2m-2 5h2m-9-1h2m7-5h2m-18 4h2m9 1h2m-1-3h2m-5-3h2m7 9h2m-11-9h2m0 10h2m-3-10h2m1 4h2m-9-2h2m2-3h2m-1 9h2m1 0h2m-3-5h2m-3 5h2m-4-3h2m-5-2h2m-2-4h2m2 13h2m-11-11h2m6-1h2m-2 7h2m-10-4h2m8 3h2m3-2h2m-4-3h2m-12 0h2m1 6h2m3-4h2m-9 1h2m0-2h2m-8 7h2m8 6h2m7-11h2m-4-2h2m1 1h2m-23 0h2m10 7h2m-1 0h2m-6-13h2m-2 3h2m1-5h2m-10 4h2m3 8h2m-4-9h2m-3 5h2m6 1h2m-2-12h2m0 20h2m-12 2h2m-6-7h2m-1-6h2m6 3h2m-3-1h2m-12-6h2m3 2h2m-1-2h2m0 8h2m-4 4h2m1-2h2m-6-3h2m-5-8h2m-3 6h2m7 10h2m-2-10h2m1 2h2m-6 0h2m2 6h2m-13-6h2m2-1h2m11-1h2m-23 5h2m6-7h2m10 11h2m-7-7h2m-10 5h2m0-5h2m-1 0h2m-10-5h2m4-46h2m-1 9h2m1 2h2m-3 7h2m-7-9h2m3-2h2m3 4h2m-3 4h2m-6 2h2m-5-12h2m1-7h2m-2 13h2m-6-5h2m-1 19h2m6-10h2m-5 4h2m-3 0h2m1 5h2m-2-15h2m-3 9h2m-2 6h2m-3-15h2m0 9h2m-5-3h2m-2-2h2m-1-3h2m-1 4h2m1-1h2m-7-8h2m4 5h2m-9 0h2m-1 1h2m3-2h2m-8 0h2m1-6h2m-1 7h2m-9 10h2m-2-4h2m2-8h2m-7 0h2m5 3h2m-6 6h2m0-5h2m-4-8h2m-1 9h2m-2 0h2m-2-3h2m-1 4h2m-8-2h2m4-3h2m1 9h2m-2-2h2m-4-4h2m-1-4h2m-4 5h2m-2-8h2m-2 4h2m-4 6h2m3-3h2m-8-1h2m1-5h2m-4 6h2m-2 2h2m-4 1h2m0-3h2m0-3h2m1-7h2m-4 13h2m-4-4h2m-4 0h2m2-3h2m-3 2h2m-5 1h2m-1 5h2m-2 3h2m0-8h2m-4 3h2m-3-11h2m2-3h2m0 9h2m-1 4h2m-1-10h2m-8 10h2m-3-1h2m0 3h2m2-15h2m-4 5h2m1-2h2m-9 11h2m0 1h2m-1-8h2m-8 11h2m2-7h2m-2-1h2m-3 2h2m1-7h2m-7 10h2m5-6h2m-5 0h2m-1 2h2m-5-4h2m1 7h2m-4 0h2m-10-5h2m8-9h2m-5 13h2m4 1h2m-9 2h2m0 0h2m-5-13h2m-2 12h2m5-2h2m-4-2h2m-2-5h2m1 10h2m-3-5h2m-3 6h2m3 0h2m-11-10h2m3 7h2m-3-2h2m-6 0h2m-4 1h2m9 2h2m-11-8h2m7 8h2m-10 0h2m-2-9h2m-1 8h2m2-9h2m-2 5h2m-12 7h2m7-3h2m-3-7h2m-2-4h2m-6 22h2m5-11h2m-6-2h2m-1 1h2m-7-3h2m-4-3h2m3 7h2m4-11h2m-2 6h2m-9 2h2m5-5h2m-9 9h2m2-1h2m-5 3h2m-5 3h2m0-6h2m-4-6h2m4 7h2m-5 1h2m7-18h2m-17 15h2m-1 4h2m1-5h2m-2 11h2m4-21h2m-4 8h2m0 3h2m-8-4h2m0 12h2m-2-12h2m-3 7h2m-2 5h2m2-9h2m-5-2h2m-9 8h2m9-8h2m-5-6h2m-3 9h2m-2-1h2m1 3h2m-4 12h2m-5 5h2m-5-14h2m3 14h2m-3 12h2m-7-8h2m2-16h2m0 26h2m-6-13h2m3 0h2m-5 9h2m-5-10h2m0 0h2m-3 2h2m4 3h2m-8-10h2m-1-9h2m2 19h2m-5 10h2m1-20h2m-4 4h2m-2 14h2m1-22h2m-1-6h2m-7 39h2m0-12h2m-3-7h2m-4 10h2m-1-20h2m-4 27h2m-2-31h2m2 10h2m1 6h2m-5-14h2m-2-7h2m-5 28h2m1-25h2m-5 10h2m1 3h2m-1-31h2m-2 11h2m-5 20h2m1-8h2m-7-2h2m1 32h2m-5-29h2m-1 17h2m1-13h2m-2 17h2m-4-26h2m-1-2h2m-2 21h2m-3 1h2m2 9h2m-6-13h2m1 3h2m-2-4h2m-3 5h2m-2-4h2m-2-6h2m-7 0h2m2-5h2m-3 18h2m-2-34h2m-2 20h2m2 5h2m-4-9h2m-4-10h2m0 16h2m-5 0h2m2 9h2m-2 2h2m-4-11h2m-2 4h2m-6-2h2m2-11h2m-3 20h2m-2-12h2m2-9h2m-5 6h2m-3 2h2m0-1h2m-1 10h2m-6-7h2m0-13h2m-6 23h2m3 2h2m0-5h2m-4 5h2m-3-16h2m0 10h2m-5-10h2m-4 24h2m0-25h2m-2 0h2m-1 5h2m0-25h2m-4 41h2m-2-22h2m2 1h2m-5 7h2m-3-12h2m-2 12h2m2-17h2m-10 20h2m-1-33h2m0 39h2m-5-26h2m5 6h2m-7 7h2m3 0h2m-3 0h2m-6 4h2m-4 8h2m-2-9h2m-3-2h2m4-7h2m1 8h2m-5-15h2m-4 17h2m1 3h2m-7-20h2m-2 26h2m-3-23h2m2 11h2m-2-7h2m-1 6h2m-4 4h2m-2-4h2m1 8h2m-4-5h2m1-14h2m-9 13h2m-2-11h2m2 13h2m-3-10h2m-4 1h2m-1 6h2m2-2h2m-7 7h2m4-1h2m-6-7h2m-2-7h2m1 8h2m0 14h2m-7 13h2m-2-32h2m-5 8h2m3-4h2m-3 8h2m-14-27h2m-19 33h2m49-39h2m-35 19h2m1-8h2m-30-3h2m52 17h2m-56 37h2m-7-29h2m2-39h2m20 63h2m5-73h2m-28 83h2m40-40h2m-36-17h2m-23-8h2m57 12h2m-14-6h2m-19-15h2m-18 20h2m-16 43h2m32-43h2m7 9h2m-24-6h2m7-7h2m-8 14h2m34 29h2m-1-29h2" stroke="#2c44c0" stroke-opacity=".5" stroke-width="1.5"/>
<ellipse cx="78.25" cy="542.7" rx="3.4" ry="3.5" fill="url(#gH)"/>
<ellipse cx="105.75" cy="540.2" rx="3" ry="2.6" fill="url(#gL)"/>
<ellipse cx="106.75" cy="522.2" rx="2" ry="1.6" fill="url(#gVL)"/>
<rect x="65.5" y="504.5" width="55" height="51" fill="none" stroke="#999" stroke-width="1"/>
<line x1="92.05" y1="504.5" x2="92.05" y2="555.5" stroke="#666" stroke-width="1"/>
<line x1="65.5" y1="533.5" x2="120.5" y2="533.5" stroke="#555" stroke-width="1"/>
<text x="67.25" y="511" font-size="6.3" text-anchor="start" fill="#231f20">0,11</text>
<text x="118.45" y="511" font-size="6.3" text-anchor="end" fill="#231f20">9,76</text>
<text x="67.25" y="552" font-size="6.3" text-anchor="start" fill="#231f20">71,4</text>
<text x="118.45" y="552" font-size="6.3" text-anchor="end" fill="#231f20">18,8</text>
<text x="78.55" y="562.8" font-size="6.3" text-anchor="middle" fill="#231f20">0</text>
<text x="96.25" y="562.8" font-size="6.3" text-anchor="middle" fill="#231f20">10<tspan font-size="4.4" dy="-2.4">3</tspan></text>
<text x="109.85" y="562.8" font-size="6.3" text-anchor="middle" fill="#231f20">10<tspan font-size="4.4" dy="-2.4">4</tspan></text>
<text x="63.45" y="516.9" font-size="5.9" text-anchor="end" fill="#231f20">10<tspan font-size="4.2" dy="-2.4">4</tspan></text>
<text x="63.45" y="529" font-size="5.9" text-anchor="end" fill="#231f20">10<tspan font-size="4.2" dy="-2.4">3</tspan></text>
<text x="61.25" y="544.8" font-size="6.3" text-anchor="end" fill="#231f20">0</text>
<line x1="63.85" y1="514.8" x2="65.25" y2="514.8" stroke="#333" stroke-width="0.6"/>
<line x1="63.85" y1="527.2" x2="65.25" y2="527.2" stroke="#333" stroke-width="0.6"/>
<line x1="63.85" y1="540" x2="65.25" y2="540" stroke="#333" stroke-width="0.6"/>
<line x1="63.85" y1="542" x2="65.25" y2="542" stroke="#333" stroke-width="0.6"/>
<line x1="63.85" y1="544" x2="65.25" y2="544" stroke="#333" stroke-width="0.6"/>
<line x1="76.85" y1="555.1" x2="76.85" y2="556.5" stroke="#333" stroke-width="0.6"/>
<line x1="78.25" y1="555.1" x2="78.25" y2="556.5" stroke="#333" stroke-width="0.6"/>
<line x1="79.65" y1="555.1" x2="79.65" y2="556.5" stroke="#333" stroke-width="0.6"/>
<line x1="95.05" y1="555.1" x2="95.05" y2="556.5" stroke="#333" stroke-width="0.6"/>
<line x1="108.45" y1="555.1" x2="108.45" y2="556.5" stroke="#333" stroke-width="0.6"/>
<ellipse cx="148.8" cy="542.7" rx="4.2" ry="4.2" fill="#3f5fd0" fill-opacity="0.5" filter="url(#bl)"/>
<ellipse cx="159.5" cy="542.7" rx="9" ry="1.8" fill="#3f5fd0" fill-opacity="0.22" filter="url(#bl)"/>
<ellipse cx="176" cy="540" rx="4" ry="3.5" fill="#3f5fd0" fill-opacity="0.3" filter="url(#bl)"/>
<ellipse cx="176.7" cy="524.4" rx="2.2" ry="7" fill="#3f5fd0" fill-opacity="0.22" filter="url(#bl)"/>
<path transform="scale(.5)" d="M298 1085h2m0-5h2m2 7h2m-11 3h2m5-3h2m-9-5h2m-3 10h2m1-7h2m-3 5h2m-2-1h2m-8-7h2m6-1h2m4-4h2m-8 11h2m-1-3h2m-4 15h2m-1-17h2m-3 10h2m-2-3h2m3-7h2m-16 7h2m14-11h2m-11 6h2m-1 3h2m-1 0h2m-5-9h2m8 7h2m-7-5h2m-2 4h2m-2 1h2m0 5h2m-7-7h2m2-5h2m-8 5h2m0 1h2m-5 3h2m0-7h2m1 11h2m-9-7h2m12 0h2m-13 7h2m2-3h2m3-1h2m-7 5h2m-9-12h2m3 2h2m-2-5h2m-7 10h2m3-1h2m-2-2h2m-7 8h2m8-13h2m-8 7h2m-2-2h2m1-7h2m0 9h2m-9-2h2m2-1h2m-2-5h2m-2 8h2m-1 0h2m-5-1h2m4 0h2m-5 0h2m-1-6h2m-4 9h2m-5-1h2m-1-4h2m-4-2h2m6-3h2m-5 1h2m5 8h2m-13-7h2m0 6h2m5 4h2m-12-5h2m6-3h2m-8 6h2m-5-3h2m3-2h2m-2-5h2m1 5h2m2 9h2m-4-11h2m-8 8h2m-4-6h2m-9-4h2m4 3h2m-1 3h2m2-2h2m-8 2h2m5-1h2m1-1h2m-4 3h2m0 5h2m-11-14h2m6 9h2m-5-3h2m-6 6h2m3-7h2m-4 4h2m-7-4h2m5 3h2m-9 1h2m11 1h2m-15-4h2m1-2h2m-3 1h2m1-3h2m1 7h2m2 2h2m-5-1h2m-6-7h2m1 5h2m-7 1h2m1-4h2m2 0h2m-7 7h2m-4-6h2m2 0h2m-6-3h2m1 3h2m0 6h2m-5-1h2m-5 3h2m-1-7h2m-1-2h2m2 2h2m-8 4h2m1-1h2m-1-4h2m-10 0h2m2 6h2m0 1h2m8-1h2m-2-8h2m-13-1h2m-5-1h2m6 2h2m-6 6h2m-3 4h2m5-4h2m-1 0h2m-7 2h2m1-10h2m-2 10h2m-5 1h2m-7-5h2m-1-4h2m2-2h2m-3 8h2m-5-7h2m3 8h2m-1-6h2m-7 8h2m3-4h2m-4-2h2m-1 3h2m-4-1h2m-7-2h2m9 1h2m-13-2h2m3 7h2m6-6h2m-11 1h2m-5 5h2m-2-3h2m0-7h2m1 11h2m-8-6h2m0 4h2m-5-10h2m3 0h2m3 0h2m-6 4h2m2-1h2m-7 9h2m1-1h2m1-3h2m-6-9h2m-9 5h2m5 6h2m-6-6h2m9-3h2m-11 4h2m-4 7h2m-5-8h2m-2-1h2m10-6h2m-14 9h2m5-3h2m-1 2h2m-5 1h2m4-5h2m-4 6h2m-6-4h2m0 6h2m-7-1h2m2 1h2m-1-4h2m-2 3h2m-8-2h2m-6 0h2m5 0h2m4 3h2m-1 0h2m-8-7h2m9 1h2m-13 4h2m-4-1h2m2-3h2m-7 3h2m4-4h2m-3 4h2m-6 1h2m-4 2h2m0 1h2m1-4h2m-7 3h2m5-3h2m-4 2h2m0-1h2m-1-2h2m1-6h2m-14 9h2m4-9h2m-7 4h2m8 5h2m-13-8h2m5 1h2m-5 2h2m0 5h2m-5-5h2m2 9h2m-1-8h2m0 1h2m-11 3h2m9-7h2m-5 0h2m-5 4h2m-3 0h2m2-2h2m-6 1h2m0-1h2m0 4h2m-7-7h2m-1 10h2m1-4h2m4 6h2m-8-1h2m-5-7h2m0-6h2m-3 5h2m3 5h2m-1-4h2m-2 2h2m-6 1h2m-9 2h2m1-1h2m0-6h2m-3 5h2m-2 5h2m4-6h2m-8 5h2m-1-1h2m-7-13h2m6 12h2m-6-4h2m1 3h2m-4-2h2m-1 4h2m0-15h2m-4 9h2m1 4h2m-8-3h2m-9 0h2m3 1h2m-1 4h2m6-6h2m-10 7h2m-4-7h2m2 2h2m-1-4h2m1 5h2m-4 5h2m4-5h2m-11-3h2m0-3h2m-5 2h2m3 5h2m-13-9h2m5 2h2m0-3h2m-3 8h2m1-2h2m-2 5h2m-5-8h2m-3 6h2m1-8h2m-9 0h2m11 8h2m-8-6h2m-1-6h2m2 12h2m-8 0h2m1-10h2m-4 3h2m-5 5h2m-2-3h2m1 2h2m-2 4h2m-6-3h2m-2 4h2m4 1h2m-1-4h2m-10-4h2m7 4h2m-4-3h2m-6 10h2m3-14h2m-9 7h2m5 3h2m-3 1h2m-2-1h2m-8-8h2m-1 10h2m5-10h2m-8 5h2m1 1h2m2 0h2m-9-3h2m3 0h2m-4 0h2m-8-7h2m1 5h2m2 2h2m-8 4h2m-1-2h2m-3 6h2m2-7h2m-3-8h2m3 8h2m-3-3h2m6 0h2m-11 14h2m-5-10h2m0 0h2m0-1h2m0-2h2m3 6h2m-17-6h2m3 8h2m-12 0h2m-2-9h2m5 2h2m8 6h2m-8-6h2m-7 8h2m1 8h2m-8-18h2m11 13h2m-8-7h2m-4-1h2m-11 2h2m8-1h2m0-8h2m-10 0h2m7 9h2m5 2h2m3 0h2m-3-1h2m-11-14h2m2 9h2m-10-7h2m8 7h2m-13-4h2m0 7h2m3-2h2m-5 0h2m-6 6h2m0-10h2m9-2h2m-15 6h2m0-1h2m5 6h2m-15-11h2m9 0h2m-13 10h2m8-2h2m3 3h2m-13-8h2m3 0h2m-2 7h2m-2-12h2m6 7h2m-10-8h2m-4 2h2m7 4h2m-19 2h2m0 1h2m-2-10h2m3 8h2m-6 5h2m8-4h2m-8 2h2m4-1h2m-14 3h2m19 0h2m-14-7h2m-13 6h2m10 0h2m-4 4h2m-4-17h2m-2 11h2m4 3h2m-3-1h2m-4-9h2m-6 12h2m10-20h2m-13 12h2m4-8h2m-10 11h2m-4-10h2m14 8h2m-13 5h2m9-7h2m-14 2h2m5 6h2m1-7h2m-18-1h2m-6 5h2m-3 1h2m4 0h2m13-3h2m-12 1h2m-5 1h2m0-1h2m-5 2h2m5-7h2m-4-3h2m-10 1h2m8 4h2m9 6h2m-10-3h2m7 2h2m2-4h2m-7 2h2m5-4h2m12 4h2m-1 0h2m-6-1h2m-11-4h2m-18 6h2m0 2h2m15-9h2m4 9h2m-17-1h2m8 0h2m-24-4h2m9 2h2m13 0h2m-16-1h2m3 6h2m9-8h2m-25 3h2m-7-5h2m12 3h2m-11 1h2m7 3h2m2-3h2m-11-5h2m5 5h2m-5-2h2m-12-2h2m24 9h2m-25-8h2m23 2h2m-24 3h2m16-3h2m-19 0h2m8 3h2m1-5h2m-15 6h2m9-5h2m-14 0h2m2 1h2m18 0h2m-21 2h2m-9-1h2m16-1h2m-11-2h2m16 5h2m-16-1h2m-18 2h2m16-2h2m-15-1h2m-8-4h2m-1 4h2m23-2h2m-10 4h2m10 5h2m-15-9h2m11 3h2m-15-4h2m-12 5h2m-4 1h2m-11-1h2m33-2h2m9-5h2m-1 1h2m-4-2h2m5 1h2m-14 5h2m9 3h2m-8-6h2m-2 1h2m-1 2h2m1-13h2m-7 11h2m6 1h2m-3-5h2m-4 2h2m-2 3h2m-6-5h2m8 1h2m-6-2h2m-4 7h2m5-4h2m-12 5h2m-7-6h2m9 9h2m-1-9h2m-6 0h2m-6-1h2m3-5h2m-7-5h2m6 12h2m-13-6h2m2 12h2m3-11h2m-6-2h2m-4 0h2m10 9h2m-4-1h2m-11 2h2m3-6h2m-11 2h2m0-1h2m-6-6h2m11 9h2m-6-3h2m-1-2h2m0 9h2m-8-12h2m1 0h2m7 6h2m-9 1h2m-6-3h2m-5 10h2m3-3h2m4-6h2m-10 0h2m1-2h2m1 2h2m-10 4h2m8-6h2m-9 3h2m1 3h2m-5-6h2m-4 7h2m9-3h2m-14 9h2m7-12h2m-13-1h2m17 8h2m-20-8h2m1-2h2m2 1h2m-5 7h2m-2 1h2m-3 1h2m-3-7h2m-6 4h2m8-2h2m1 3h2m-7-9h2m-4 8h2m-6 4h2m4 0h2m-9 1h2m10-6h2m-10 6h2m-4-7h2m7 0h2m-11-4h2m0 9h2m12-8h2m-20 6h2m3-4h2m-2 7h2m2-9h2m-3-1h2m1-4h2m-9 12h2m7-2h2m-18-2h2m11 3h2m-4-5h2m-13 0h2m8 0h2m-7 4h2m0-1h2m5-3h2m-3-2h2m-2 6h2m-4 1h2m-3-9h2m4 7h2m-8 0h2m-1-2h2m-10-3h2m12 7h2m-15 4h2m4-11h2m-7 2h2m7 5h2m-8-4h2m-4 2h2m-4 3h2m2 0h2m6-2h2m-5-14h2m-10 13h2m-2 4h2m0-5h2m-10 3h2m6 2h2m2-5h2m0-1h2m-10 1h2m1 5h2m-4-9h2m7 8h2m-10-3h2m-7 6h2m2-15h2m0 10h2m2-1h2m-4-1h2m-3-1h2m9 2h2m-12-9h2m-3 11h2m1-9h2m-5 13h2m-3-7h2m2 0h2m-7-2h2m-8 3h2m8 2h2m-7-1h2m-4-8h2m6 1h2m-11 4h2m2 7h2m5 3h2m-6-15h2m-9 7h2m-2 1h2m9 1h2m-15 2h2m14-1h2m0-7h2m-13 7h2m3 2h2m-7-8h2m-2 0h2m-1 1h2m1-1h2m-1-1h2m-1 8h2m-7-6h2m-1 3h2m-8 1h2m-5-7h2m1 5h2m-1-10h2m7 7h2m-9 4h2m2 1h2m-10-1h2m8 1h2m1-8h2m-4 0h2m-12 6h2m13 4h2m-13-4h2m4-6h2m-9 3h2m5 5h2m-6 2h2m-4-8h2m3-4h2m-5 7h2m-10 1h2m1 5h2m5-2h2m-1-4h2m-1 3h2m-5 2h2m5-11h2m-13 1h2m-6 8h2m0-3h2m-1 4h2m8-3h2m-12-3h2m0-4h2m-6 7h2m4 0h2m-2-4h2m-4-1h2m0-4h2m-1 9h2m-6 0h2m5 0h2m2 4h2m-11-5h2m-7-4h2m4 5h2m-1 6h2m-2-5h2m-5-6h2m-3 4h2m3 3h2m-10-3h2m6-5h2m-6 0h2m-4 10h2m3 4h2m-9-5h2m2-10h2m0 7h2m-4 4h2m-2-2h2m-1-5h2m0 7h2m2 0h2m-15-10h2m4 10h2m-9-4h2m1 3h2m8-5h2m-1 4h2m-9 3h2m8-6h2m-10 2h2m1-3h2m-7 6h2m-1 1h2m-1 1h2m4-11h2m-6 3h2m-8 5h2m6-1h2m-2 4h2m-5-4h2m-2 3h2m-8-6h2m-3-2h2m5 1h2m-7 1h2m6 9h2m-6-11h2m-2 0h2m-1 5h2m5-6h2m-11 0h2m3 0h2m-1 11h2m-15-3h2m15-4h2m-12 8h2m-1-48h2m-4 5h2m4-8h2m-3 7h2m0-4h2m-8 2h2m1-3h2m-6 6h2m-4-10h2m2-2h2m0-1h2m-4 11h2m2-7h2m-5 12h2m-5-5h2m4 4h2m-5-4h2m-4 1h2m1-6h2m3 7h2m-11-4h2m2-6h2m-6 10h2m0-4h2m2-2h2m-9-4h2m1 5h2m-2-4h2m-6 4h2m4 2h2m-2 15h2m-7-19h2m2-10h2m0 12h2m5 0h2m-12 1h2m-2-4h2m2 6h2m-4-4h2m-9-1h2m-3-1h2m6 2h2m-3 11h2m-1-3h2m-4-8h2m-5 10h2m5-8h2m-4 1h2m1 2h2m-7-9h2m-8-7h2m4 20h2m-3-8h2m1 10h2m-10-10h2m3 5h2m-1-14h2m-8 1h2m3 3h2m-4 17h2m-3-13h2m6 2h2m-11 0h2m4 7h2m-5-16h2m0 3h2m-1 9h2m-3-3h2m-5-8h2m2 16h2m0 5h2m-7-25h2m0 13h2m-4-12h2m4 0h2m-4 16h2m0-5h2m-3-2h2m-2 9h2m-4-17h2m2 6h2m-8 9h2m2-2h2m-6 1h2m0-6h2m-5 5h2m-2 4h2m-4-13h2m3-4h2m3 2h2m-9 5h2m0 11h2m-4-11h2m3 3h2m-3 0h2m-6-4h2m-3-1h2m1 5h2m0 0h2m-3-5h2m-8 11h2m8-8h2m-5-3h2m-7 7h2m3 1h2m-1-3h2m-6 0h2m-4-2h2m-4-5h2m5 4h2m-11-4h2m7 6h2m-5 4h2m2-5h2m-5 13h2m-1-14h2m-6 0h2m4-9h2m-4 9h2m-2 4h2m-8-4h2m-3 2h2m1 6h2m-5-4h2m1-4h2m-4 13h2m2-10h2m5-10h2m-9 5h2m-2 2h2m0 7h2m-3 2h2m-3-13h2m-6 12h2m2-3h2m1-7h2m-1 9h2m-1 0h2m-10-1h2m2-11h2m0 6h2m-3 11h2m0-12h2m-3 9h2m-4 0h2m-1-9h2m1 1h2m-8 0h2m-6 8h2m0-16h2m3-2h2m-4 16h2m0-2h2m-4-8h2m-1 10h2m-3 1h2m-8-10h2m-3 2h2m6-4h2m-4 6h2m-3 0h2m3 1h2m-1 2h2m-7-2h2m2-3h2m-6 10h2m2-4h2m-6-4h2m1 3h2m-1-8h2m-2 0h2m-7 3h2m-1 9h2m3 6h2m-8 10h2m2-18h2m-3 36h2m-1-27h2m-5 9h2m-3-12h2m2 2h2m-2-2h2m-6-12h2m-6 42h2m2-23h2m1-11h2m-4 26h2m0 4h2m-4-30h2m-2 20h2m-4-8h2m0 25h2m-3-30h2m-1 1h2m-1 2h2m-5-2h2m-4 24h2m5-18h2m-4 8h2m-2-16h2m-5 17h2m0-4h2m-2 5h2m-2-7h2m0-23h2m-2 34h2m-5-30h2m0 8h2m-5 25h2m0-27h2m-4 15h2m1 0h2m-5-11h2m0 3h2m-1 0h2m-3 6h2m0 11h2m-4-34h2m2 6h2m-5 27h2m-1 1h2m-4 9h2m0-39h2m-2 14h2m-1-4h2m-3-6h2m-4 12h2m1-7h2m-4 19h2m-7 4h2m2-13h2m3-3h2m-5 14h2m0-1h2m-7-8h2m-4-17h2m1 10h2m-3-5h2m3-5h2m-4 0h2m-3 4h2m-6-12h2m4 33h2m-5-14h2m-1-14h2m-1 46h2m-5-47h2m-2 17h2m-1 17h2m0-23h2m-3 1h2m-4 20h2m-1-21h2m2 3h2m-3-24h2m-3 15h2m-4 21h2m2-33h2m-3 21h2m-6 13h2m-1-16h2m-2 3h2m-3 14h2m3-20h2m-7 7h2m-2 3h2m0-1h2m-4 3h2m-3-7h2m0 4h2m0-2h2m-6 6h2m0 4h2m2 7h2m-6-25h2m-1 8h2m-4-14h2m2 6h2m-2 21h2m-7-7h2m0-19h2m-3 16h2m2-9h2m-5 18h2m-3-17h2m-4 11h2m0-14h2m-2 2h2m6 2h2m-7-7h2m-2 16h2m-4 19h2m-4-33h2m-6-13h2m3 23h2m1 0h2m-5-9h2m3 5h2m-2 4h2m-6-3h2m-1 12h2m-3-3h2m-4-22h2m-3 12h2m0 12h2m-1-12h2m-2-10h2m-4 34h2m2-34h2m-6 18h2m-4-27h2m1 18h2m1-5h2m-6 15h2m-2-3h2m-4-5h2m6-11h2m-6 13h2m-1 0h2m-1-5h2m-6 9h2m1-21h2m-1 15h2m-1 4h2m-14 4h2m-30-4h2m8-29h2m-22 34h2m1 10h2m40 1h2m-25 10h2m39-14h2m-48 18h2m16-51h2m-16 5h2m10 42h2m-21-30h2m-9-29h2m22 20h2m-13 38h2m-19-70h2m18 21h2m28 7h2m-49 13h2m59 2h2m-59 25h2m-7-47h2m46 39h2m-20-26h2m-33 8h2m24-30h2m19 7h2m-36 7h2" stroke="#2c44c0" stroke-opacity=".5" stroke-width="1.5"/>
<ellipse cx="148.5" cy="542.7" rx="3.4" ry="3.5" fill="url(#gH)"/>
<ellipse cx="176" cy="540.2" rx="3" ry="2.6" fill="url(#gL)"/>
<ellipse cx="177" cy="522.2" rx="2" ry="1.6" fill="url(#gVL)"/>
<rect x="135.5" y="504.5" width="56" height="51" fill="none" stroke="#999" stroke-width="1"/>
<line x1="162.3" y1="504.5" x2="162.3" y2="555.5" stroke="#666" stroke-width="1"/>
<line x1="135.5" y1="533.5" x2="191.5" y2="533.5" stroke="#555" stroke-width="1"/>
<text x="137.5" y="511" font-size="6.3" text-anchor="start" fill="#231f20">0,11</text>
<text x="188.7" y="511" font-size="6.3" text-anchor="end" fill="#231f20">10,7</text>
<text x="137.5" y="552" font-size="6.3" text-anchor="start" fill="#231f20">70,2</text>
<text x="188.7" y="552" font-size="6.3" text-anchor="end" fill="#231f20">19,0</text>
<text x="148.8" y="562.8" font-size="6.3" text-anchor="middle" fill="#231f20">0</text>
<text x="166.5" y="562.8" font-size="6.3" text-anchor="middle" fill="#231f20">10<tspan font-size="4.4" dy="-2.4">3</tspan></text>
<text x="180.1" y="562.8" font-size="6.3" text-anchor="middle" fill="#231f20">10<tspan font-size="4.4" dy="-2.4">4</tspan></text>
<text x="133.7" y="516.9" font-size="5.9" text-anchor="end" fill="#231f20">10<tspan font-size="4.2" dy="-2.4">4</tspan></text>
<text x="133.7" y="529" font-size="5.9" text-anchor="end" fill="#231f20">10<tspan font-size="4.2" dy="-2.4">3</tspan></text>
<text x="131.5" y="544.8" font-size="6.3" text-anchor="end" fill="#231f20">0</text>
<line x1="134.1" y1="514.8" x2="135.5" y2="514.8" stroke="#333" stroke-width="0.6"/>
<line x1="134.1" y1="527.2" x2="135.5" y2="527.2" stroke="#333" stroke-width="0.6"/>
<line x1="134.1" y1="540" x2="135.5" y2="540" stroke="#333" stroke-width="0.6"/>
<line x1="134.1" y1="542" x2="135.5" y2="542" stroke="#333" stroke-width="0.6"/>
<line x1="134.1" y1="544" x2="135.5" y2="544" stroke="#333" stroke-width="0.6"/>
<line x1="147.1" y1="555.1" x2="147.1" y2="556.5" stroke="#333" stroke-width="0.6"/>
<line x1="148.5" y1="555.1" x2="148.5" y2="556.5" stroke="#333" stroke-width="0.6"/>
<line x1="149.9" y1="555.1" x2="149.9" y2="556.5" stroke="#333" stroke-width="0.6"/>
<line x1="165.3" y1="555.1" x2="165.3" y2="556.5" stroke="#333" stroke-width="0.6"/>
<line x1="178.7" y1="555.1" x2="178.7" y2="556.5" stroke="#333" stroke-width="0.6"/>
<ellipse cx="219.05" cy="542.7" rx="4.2" ry="4.2" fill="#3f5fd0" fill-opacity="0.5" filter="url(#bl)"/>
<ellipse cx="229.75" cy="542.7" rx="9" ry="1.8" fill="#3f5fd0" fill-opacity="0.22" filter="url(#bl)"/>
<ellipse cx="244.25" cy="540.4" rx="6" ry="4.5" fill="#3f5fd0" fill-opacity="0.4" filter="url(#bl)"/>
<ellipse cx="246.75" cy="525.4" rx="2.6" ry="8" fill="#3f5fd0" fill-opacity="0.25" filter="url(#bl)"/>
<path transform="scale(.5)" d="M433 1084h2m2-3h2m-5 6h2m10-1h2m-12 6h2m0-15h2m-5 0h2m-1 15h2m7 7h2m-6-15h2m-8 0h2m-4-3h2m4 5h2m-3-1h2m-8 3h2m4 1h2m-2-8h2m1 8h2m-6 0h2m0-6h2m-3-1h2m3 2h2m-4 9h2m-5-5h2m3-11h2m1 11h2m-15-2h2m11 0h2m-5 4h2m-10-3h2m7-5h2m-8 1h2m-4 2h2m-9-2h2m0-2h2m2 9h2m-4-1h2m1-7h2m-7 4h2m4 3h2m-4-12h2m3 14h2m-4-5h2m-1 1h2m6-2h2m-10 4h2m-1-11h2m-3 6h2m-7 6h2m-1-3h2m-2 1h2m6-6h2m-10 8h2m-3 0h2m3-8h2m-6 9h2m4-5h2m-5 4h2m-5-3h2m2 4h2m-5-6h2m1 0h2m-4 3h2m-3-4h2m1 2h2m-5-1h2m-5-3h2m0-1h2m6 14h2m-8-10h2m-2-1h2m-4 5h2m3-9h2m-4 2h2m0 0h2m-3 0h2m-4 5h2m1-7h2m-7 2h2m-6 5h2m4-3h2m-5-10h2m0 13h2m-5-2h2m-6-1h2m7-2h2m-7-1h2m1 9h2m0-7h2m-4 6h2m-3-7h2m3 4h2m0-1h2m-8 2h2m0-1h2m-6-3h2m-1 0h2m5-1h2m-5 5h2m-9 3h2m4-3h2m-2 3h2m-1-7h2m-6-1h2m-2 0h2m1 8h2m-3 0h2m3-2h2m-13-13h2m9 13h2m-12-6h2m4 3h2m-7 0h2m-3-1h2m6 3h2m-7 1h2m8-4h2m-9-5h2m0 0h2m-5 10h2m1-17h2m-8 3h2m0 4h2m8 12h2m-14-7h2m2 6h2m3-2h2m-12-16h2m-3 9h2m6-1h2m0 9h2m-6 0h2m-5 1h2m1-7h2m-5-6h2m-1 11h2m-2-4h2m6 14h2m-14-7h2m3-6h2m-5-1h2m3 3h2m-6-4h2m3 9h2m-6-4h2m2-1h2m-8-1h2m2-5h2m-2 4h2m-5 7h2m2-10h2m1 2h2m-10-4h2m6 0h2m-5 7h2m-6 2h2m4-4h2m-5 3h2m-2 3h2m0-5h2m-4-2h2m0-2h2m-5-2h2m8 7h2m-11 0h2m-9 5h2m-2-4h2m3 1h2m2-2h2m-1-3h2m-5 0h2m-5-3h2m2 12h2m-7-10h2m-1 4h2m-7-1h2m3-5h2m1 5h2m-1 5h2m-9-1h2m6 6h2m1-8h2m-15-1h2m11 2h2m-8-9h2m-1-1h2m-5 5h2m2-1h2m-4 2h2m0 3h2m-2-4h2m-3-1h2m-7 0h2m2-6h2m1 10h2m-10-6h2m0-5h2m-5 11h2m10 5h2m-6-2h2m2-9h2m-1 1h2m-10-8h2m-2 4h2m8 9h2m-7-4h2m-2 5h2m-7 0h2m-2-8h2m-8-2h2m8 16h2m-6-11h2m5 2h2m-6 1h2m-13-6h2m9 6h2m-5-6h2m0 4h2m-6 0h2m2 11h2m2-14h2m-3-2h2m-15 3h2m15 7h2m-12-2h2m-8-2h2m3-5h2m0 2h2m1-2h2m-2 7h2m0 1h2m-3 2h2m0 0h2m-2-10h2m-7 12h2m-4-3h2m5 2h2m-9-5h2m0 2h2m-9-3h2m10 0h2m-3 7h2m-5-8h2m-5-4h2m-1 5h2m3-3h2m-8 3h2m0 6h2m-1 1h2m-2-18h2m-3 7h2m-1 0h2m1 3h2m-7-1h2m-2 6h2m1-3h2m1-3h2m-4 6h2m-3-6h2m-4 7h2m-12 2h2m5-2h2m4-3h2m-2-4h2m2 3h2m-5-1h2m-7 5h2m-4-5h2m-2-7h2m5 8h2m-13-1h2m15 5h2m-12-3h2m-3-1h2m-1 0h2m-3 3h2m-5-11h2m-4 4h2m5 6h2m1-9h2m-12 9h2m11 0h2m-9 2h2m5 0h2m-8-6h2m-5 0h2m-4 3h2m7-3h2m-3 4h2m-6-3h2m4-3h2m-10 2h2m-2 4h2m3-4h2m-2-6h2m-4 18h2m1-15h2m-2 2h2m-3 5h2m-10-4h2m6 4h2m-4-4h2m1 3h2m-7 3h2m6-7h2m-10-2h2m-5 5h2m6-7h2m-6 8h2m-4 2h2m3-4h2m0 2h2m-2 1h2m-7 4h2m-4-5h2m-1-5h2m-5 9h2m8-1h2m-15-2h2m6 0h2m-1 0h2m-2 2h2m-3-7h2m-11 4h2m-2-4h2m7 2h2m-8 6h2m2-6h2m0 3h2m-9 0h2m4-3h2m-1 0h2m2-3h2m-9 6h2m0 2h2m-12-6h2m9 9h2m2-12h2m-2 1h2m-5 2h2m-9 5h2m6-5h2m-8-2h2m1 8h2m-3-5h2m0-7h2m-2 4h2m8 5h2m-2-2h2m-8 9h2m-1-8h2m-1 1h2m2-5h2m-12-2h2m8 9h2m-11 0h2m11 1h2m-14-10h2m2 21h2m2-17h2m-19 7h2m3-8h2m16 0h2m-17 18h2m10-29h2m-8 12h2m-5-2h2m-2 7h2m-5 1h2m4-11h2m5 7h2m-8 8h2m-7 5h2m-8-20h2m2 17h2m9-6h2m-17-7h2m2 3h2m-7 0h2m2 2h2m-5-6h2m4 7h2m-2-3h2m-3-4h2m-4-2h2m4 8h2m-6-7h2m-4 4h2m7-2h2m-7-1h2m1 2h2m-12-10h2m2 9h2m7-5h2m-13 0h2m6 9h2m-9 2h2m2-6h2m-4 6h2m4 6h2m-6-9h2m-3-5h2m-3 8h2m-4-5h2m-7 5h2m12-4h2m-7 2h2m-3-3h2m3 14h2m-1-11h2m-11-9h2m7 6h2m-5-2h2m-13 7h2m13-13h2m-8 9h2m-6 3h2m1 8h2m-8-13h2m5 7h2m-3 2h2m4-4h2m-17-8h2m-3 3h2m13 12h2m-6-5h2m-6-6h2m5-8h2m-8 4h2m1 9h2m-2 4h2m-3 0h2m-1-19h2m-4 6h2m-4-8h2m-1 11h2m-7 1h2m9 2h2m-2-6h2m4 0h2m-20 7h2m9 6h2m-1-2h2m14-7h2m14-2h2m-3 4h2m-19-2h2m8 1h2m-6 0h2m-20 2h2m3-1h2m-3-4h2m12 6h2m-9-5h2m-4 4h2m17-5h2m-14 6h2m-6-6h2m0 1h2m4 2h2m-17 4h2m0 0h2m11-5h2m-15-1h2m-5 1h2m14 2h2m-2 0h2m-13-3h2m17 5h2m-10 1h2m-6 0h2m12-2h2m-33 0h2m6-4h2m0 3h2m12 2h2m-12-4h2m10-1h2m-21 0h2m9 2h2m-1-1h2m-2-2h2m10 2h2m-1 6h2m-31-7h2m18 2h2m-11-3h2m-5 2h2m-8 3h2m20-8h2m-13 3h2m14 5h2m-17-2h2m1 3h2m3-4h2m-20 0h2m10 3h2m-14-1h2m-5 0h2m23 1h2m-17-3h2m-4 0h2m-15 1h2m17 5h2m0-6h2m-20-1h2m29 4h2m-15-2h2m2-2h2m-22 9h2m16-7h2m-12 1h2m-8-1h2m12 1h2m1-2h2m5 2h2m-6-4h2m1 2h2m-21 2h2m-1 0h2m7-1h2m-18 2h2m7 1h2m10-3h2m-28 4h2m9-4h2m4 2h2m-8-2h2m13 2h2m-16-3h2m14-2h2m18-8h2m-12 6h2m6 0h2m-2 2h2m-15 5h2m17-9h2m-6 1h2m-12 0h2m-9-2h2m15 9h2m-4-4h2m-9 4h2m14-3h2m-3-2h2m-14 5h2m0-6h2m-6 1h2m1-9h2m1 18h2m-2-7h2m-1 2h2m-1-6h2m-14 4h2m8-5h2m-6 5h2m9-5h2m-18 3h2m-1-3h2m-3 9h2m7-5h2m-1 3h2m-12-1h2m1-11h2m4 5h2m5 1h2m-13-3h2m-2 4h2m3-3h2m-10-2h2m-2 4h2m1-2h2m5 0h2m-6 3h2m-1 1h2m-7 0h2m-3-1h2m9 5h2m-1-8h2m-3 6h2m-6-4h2m5-3h2m-11-2h2m-5 9h2m1-1h2m5-7h2m-21 11h2m-1-7h2m22 6h2m-17 1h2m-7-1h2m1-8h2m-6 1h2m6 12h2m2-4h2m-8 4h2m-2-2h2m-9-4h2m-1-5h2m3-8h2m2 10h2m-15-1h2m8-7h2m-6 13h2m0-6h2m0 0h2m-8 0h2m-8 2h2m8-8h2m-9 8h2m5-4h2m-3 4h2m8-3h2m-21-3h2m5 7h2m10 0h2m-14 3h2m1-11h2m-1 16h2m-1-14h2m3 0h2m1 8h2m-18-6h2m4-2h2m3 3h2m6 2h2m-7 4h2m-5-1h2m-9 1h2m9 0h2m-12-8h2m9 2h2m6 3h2m-25 1h2m7-13h2m-7-1h2m18 5h2m-24 4h2m-2 8h2m2-13h2m4 9h2m-15 3h2m-2-10h2m16 2h2m-11-1h2m-4-7h2m-2 7h2m5 2h2m-13-1h2m-8 5h2m-2-9h2m11 5h2m9-5h2m-12 16h2m-9-16h2m9 16h2m-13-5h2m7-4h2m-1-2h2m-4 0h2m-7-4h2m-1 5h2m-7-3h2m1 11h2m3-4h2m4 0h2m0 4h2m-8-8h2m-6 0h2m-7-7h2m5 1h2m0 16h2m-6-14h2m-7 8h2m2-5h2m0-4h2m-10 8h2m0 1h2m-1-3h2m0 6h2m-2-6h2m-8 1h2m4 0h2m-13 2h2m11-2h2m0 4h2m-11-8h2m6-5h2m10-2h2m-12 7h2m-2 10h2m6-11h2m-13 0h2m-11 4h2m3-7h2m-1 4h2m-7 4h2m9 1h2m-10-7h2m-12 8h2m19-8h2m-17-1h2m15 5h2m-13 1h2m1-2h2m-4 5h2m5-9h2m-8 5h2m0 13h2m1-8h2m-7-1h2m6 3h2m-15-5h2m6-7h2m-7 3h2m6 3h2m5 3h2m-17-2h2m1-5h2m0-3h2m-3 4h2m-3-1h2m8 0h2m-8 4h2m1-4h2m-17 7h2m12 0h2m-32 5h2m31-8h2m-17 2h2m-7-4h2m12 9h2m-8-8h2m-8 0h2m2 1h2m-2 2h2m2-6h2m2 6h2m-7-3h2m5 3h2m-9 8h2m-4-17h2m-3 8h2m-8 8h2m14-14h2m-5-2h2m-5 6h2m8-8h2m-15-1h2m-2 8h2m1 7h2m-7-8h2m13 3h2m-18 0h2m-2-5h2m1-3h2m13 6h2m-12 1h2m-4-3h2m1 2h2m-10 6h2m13-2h2m-8-4h2m-5 5h2m-2 3h2m6-5h2m-9-5h2m-6 1h2m-2-2h2m3 6h2m-5 7h2m0-8h2m-2-3h2m1-2h2m-7 15h2m0-15h2m-10 11h2m-7 2h2m18-10h2m-9-1h2m-9 5h2m-1 1h2m4-6h2m-3 3h2m-4-1h2m7-3h2m-9 9h2m0-7h2m-12 0h2m-7 0h2m10 8h2m2-1h2m-3-4h2m-14-4h2m6 2h2m-8-7h2m7 6h2m-3 1h2m-4-5h2m5 8h2m-8 6h2m-6-4h2m2-4h2m4 0h2m-8-6h2m0 8h2m-6-8h2m6 7h2m0-2h2m6-5h2m-13 7h2m-5-2h2m0 5h2m-5-9h2m3 10h2m-15-4h2m15 2h2m-15-2h2m4-7h2m-6 4h2m-3 8h2m-10-11h2m4 11h2m2-7h2m-3 8h2m11-6h2m-20-3h2m-6 6h2m7 1h2m-4-9h2m-12 5h2m18-12h2m-15 10h2m11 10h2m2-8h2m-21-5h2m10 4h2m-10-1h2m3 12h2m-5-8h2m2 1h2m-8 3h2m11-5h2m-17-7h2m3 4h2m-6 0h2m-6 0h2m-1 2h2m-9-5h2m11-3h2m-2 6h2m8 4h2m-12 1h2m0 0h2m-4-3h2m-2 3h2m11 4h2m-4-9h2m-1-1h2m-12-3h2m4-3h2m-8 11h2m-9-1h2m-1-4h2m7 9h2m8-12h2m-25 1h2m10 3h2m-12-3h2m8 4h2m9-6h2m-18 23h2m-6-12h2m2-5h2m9-3h2m-11 3h2m0 8h2m6-11h2m-3-5h2m-14 4h2m-1 5h2m3-6h2m-1 2h2m-1 4h2m-13-6h2m11 4h2m-6-1h2m6 4h2m-16-1h2m-4-3h2m2-3h2m-5 10h2m-2-6h2m-4 7h2m0-3h2m7-1h2m-9-13h2m-4 10h2m-6-5h2m9 6h2m3 2h2m-1-1h2m-10 0h2m4 3h2m-4-7h2m-12 8h2m11-10h2m-8 0h2m-2 15h2m-5-12h2m0 0h2m1-6h2m0 4h2m-6 16h2m5-11h2m-10 1h2m4 14h2m5-9h2m-20 0h2m2-6h2m-3-3h2m4 3h2m-1-4h2m-12 1h2m2 4h2m11-2h2m-15 12h2m11-8h2m-7-13h2m-11 9h2m1-10h2m-1 19h2m5-8h2m-7-1h2m-19 2h2m17-9h2m7 11h2m-13 3h2m-11-8h2m-6 5h2m10 7h2m0-13h2m-19 0h2m8 2h2m-3-2h2m2-1h2m-8 2h2m-6-10h2m7 6h2m-11 4h2m8 7h2m-6-6h2m0-3h2m-9-7h2m-5 4h2m4 3h2m-8 4h2m12-7h2m-9 4h2m6 8h2m-2-3h2m2 0h2m-8-1h2m2-1h2m-1-4h2m-15 3h2m8 10h2m-7-15h2m-12 0h2m7 3h2m2 2h2m-7 12h2m-2-14h2m-6-1h2m7-6h2m-6 5h2m1 7h2m-3 1h2m-5-3h2m-4-9h2m-3 6h2m7 11h2m-2-6h2m-10 5h2m-1-9h2m14 5h2m0-7h2m-13-3h2m-2 3h2m4 5h2m-21-4h2m4 2h2m9-6h2m-10 9h2m-6-5h2m-1 7h2m7-11h2m0 14h2m-11-7h2m4 2h2m8-3h2m-17 1h2m-1-10h2m4 10h2m-13-6h2m-6 6h2m9 0h2m2-3h2m-15 2h2m15 6h2m-12 3h2m-7-12h2m1 13h2m-18-9h2m17-6h2m0-5h2m-3 5h2m-8 6h2m2-4h2m-1-1h2m5 5h2m-8 6h2m8-15h2m-13 2h2m1 3h2m-10 1h2m10-3h2m-7 3h2m-7 2h2m11-2h2m-7-34h2m-7-4h2m4 4h2m-3-8h2m-4 9h2m-3 2h2m2 4h2m-8-9h2m-2-7h2m9 11h2m-7-10h2m-3 8h2m2-14h2m-7 5h2m5 16h2m-8-11h2m2 11h2m-8-4h2m0-4h2m-7 11h2m2-18h2m-6 14h2m3-3h2m-2-13h2m-3 3h2m-5 6h2m-1 1h2m1-5h2m-5 1h2m4 8h2m-2-11h2m-8 6h2m0 2h2m0-11h2m-3 16h2m-3-9h2m-1-8h2m0 11h2m-2-5h2m-7-3h2m0 6h2m0-6h2m-6-1h2m-1 12h2m2-5h2m-1 2h2m-7 1h2m-4-7h2m2 4h2m-5-2h2m-3-3h2m10 8h2m-8 4h2m-9-3h2m0-12h2m-1 8h2m3 6h2m-5 1h2m-9-8h2m6 15h2m-8-29h2m2 13h2m0 0h2m-6-1h2m1 17h2m-11-21h2m6 4h2m-6 0h2m1 3h2m1-3h2m-2-2h2m-5 7h2m-2 2h2m2-8h2m2 8h2m-10-11h2m-1 7h2m0 2h2m-2-11h2m-5 8h2m2 0h2m-4-5h2m1 6h2m-10-2h2m2 3h2m5-8h2m-4 0h2m-7 0h2m-2 13h2m4-1h2m-8-1h2m-6-5h2m0-11h2m0 4h2m2 2h2m-2 4h2m-2 5h2m-1-9h2m-11 7h2m10 6h2m-9-1h2m-3-5h2m2 1h2m-6-2h2m2 7h2m-1-5h2m-10 3h2m1-10h2m-2 1h2m-5 4h2m-1 5h2m2-13h2m-2 10h2m-7 2h2m0-6h2m2-11h2m-6 17h2m1 4h2m-2-8h2m0-1h2m-3-14h2m-9 21h2m6-3h2m-2-13h2m-4 2h2m-5 3h2m3 0h2m-3 9h2m-3-2h2m0-1h2m-3 2h2m-10 8h2m5-12h2m-2-5h2m-4-1h2m-2 13h2m-6-12h2m4 2h2m5-1h2m-7 5h2m-4 6h2m3 2h2m-6-9h2m-2 6h2m-5-10h2m-4-4h2m2 15h2m-2-8h2m-7 4h2m10 7h2m-11-1h2m-1-8h2m-2-8h2m3 5h2m-7 4h2m-1-6h2m-6 3h2m-2-3h2m3 3h2m-2 0h2m-3-2h2m1 0h2m-5 14h2m1-14h2m-9 5h2m1 6h2m-4-4h2m-1-7h2m3 12h2m-4-6h2m-6 8h2m-3-4h2m-1-3h2m0-5h2m-3 3h2m-3-5h2m4-1h2m-6-2h2m-6 4h2m8 4h2m-6 4h2m-8-11h2m1 12h2m-1-13h2m-3-3h2m-1 2h2m-5-3h2m-2 7h2m3 1h2m-5 0h2m-1 0h2m-6 1h2m3-8h2m-10 14h2m4-9h2m-6 3h2m6-2h2m-5 17h2m0-14h2m-8 8h2m3 11h2m-2 9h2m0 3h2m-6-1h2m-3-17h2m-2 5h2m2 6h2m-4-9h2m-1 2h2m-9 12h2m3 7h2m2-13h2m-10-21h2m2 8h2m1 18h2m-9-24h2m6 29h2m-4 4h2m-3-21h2m-3 7h2m-4-1h2m-8-11h2m5-10h2m-1 15h2m4 20h2m-6-15h2m-10-9h2m3 20h2m-7-11h2m7 7h2m-8-7h2m2 12h2m-5-13h2m-1-9h2m-3 19h2m-2-13h2m-3-2h2m3 10h2m-3-1h2m-3 5h2m-4-10h2m-4 16h2m4-12h2m-3 6h2m-1 0h2m-4-7h2m0 8h2m-3 4h2m-6-11h2m-3 10h2m3-10h2m-5-2h2m-8 10h2m7-3h2m-6-9h2m-1 3h2m-2-8h2m5 2h2m-7 11h2m1 8h2m-6-6h2m1-3h2m-10-21h2m1 34h2m3-18h2m-4 4h2m-2 5h2m-5-12h2m0-8h2m-5 4h2m-2 17h2m4-4h2m-7-1h2m1-17h2m1 18h2m-4-25h2m-6 41h2m-2-4h2m2-22h2m-6-3h2m-1-14h2m3 47h2m-5-24h2m-4-2h2m-2 12h2m-3-12h2m5 16h2m-8-32h2m5 9h2m-8 9h2m1-5h2m-6 0h2m-4 14h2m0-8h2m-2 7h2m5-15h2m-7 6h2m2-5h2m-3 8h2m-3-7h2m-7 2h2m3 1h2m-2 17h2m-9-26h2m1 4h2m1-4h2m-6 9h2m0 2h2m-2-16h2m-3 20h2m0 0h2m-6-11h2m-3 4h2m0 9h2m0 5h2m4-9h2m-6-15h2m-5-11h2m-2 46h2m1-10h2m-4-15h2m-1-2h2m-1 11h2m-7-27h2m1 18h2m-6 9h2m6-1h2m-9-4h2m-1 8h2m1-6h2m0 3h2m3-20h2m-9 22h2m0-35h2m-2 22h2m-7 22h2m0-10h2m0-2h2m-1-2h2m-1-3h2m-8 14h2m1-7h2m-7-33h2m3 28h2m2-15h2m-9 15h2m4 0h2m-4 6h2m2 6h2m-8-30h2m-6 13h2m0 4h2m0-24h2m1 29h2m-7-19h2m4 15h2m-6-12h2m-3 25h2m-3-16h2m-1-1h2m-4 14h2m2-5h2m-5-9h2m6 1h2m-9-13h2m-2 19h2m-2-12h2m3 23h2m-6 10h2m-3-30h2m-5-6h2m0 34h2m-3-25h2m2 5h2m-9-6h2m-6-1h2m-1 29h2m10-29h2m-39-40h2m45 49h2m-27-3h2m17-36h2m-21 50h2m26-11h2m-7-2h2m-2 7h2m10-25h2m-5 8h2m-27 24h2m-11-29h2m-7-11h2m20-14h2m-11 4h2m-30 34h2m20-39h2m-28 53h2m35-5h2m-26-9h2m-1-15h2m-4-21h2m11 4h2m32 5h2m-34 29h2" stroke="#2c44c0" stroke-opacity=".5" stroke-width="1.5"/>
<ellipse cx="218.75" cy="542.7" rx="3.4" ry="3.5" fill="url(#gH)"/>
<ellipse cx="244.25" cy="540.6" rx="5" ry="4" fill="url(#gM)"/>
<ellipse cx="246.75" cy="522.9" rx="2.2" ry="1.7" fill="url(#gL)"/>
<rect x="205.5" y="504.5" width="56" height="51" fill="none" stroke="#999" stroke-width="1"/>
<line x1="232.55" y1="504.5" x2="232.55" y2="555.5" stroke="#666" stroke-width="1"/>
<line x1="205.5" y1="533.5" x2="261.5" y2="533.5" stroke="#555" stroke-width="1"/>
<text x="207.75" y="511" font-size="6.3" text-anchor="start" fill="#231f20">0,081</text>
<text x="258.95" y="511" font-size="6.3" text-anchor="end" fill="#231f20">18,1</text>
<text x="207.75" y="552" font-size="6.3" text-anchor="start" fill="#231f20">36,0</text>
<text x="258.95" y="552" font-size="6.3" text-anchor="end" fill="#231f20">45,8</text>
<text x="219.05" y="562.8" font-size="6.3" text-anchor="middle" fill="#231f20">0</text>
<text x="236.75" y="562.8" font-size="6.3" text-anchor="middle" fill="#231f20">10<tspan font-size="4.4" dy="-2.4">3</tspan></text>
<text x="250.35" y="562.8" font-size="6.3" text-anchor="middle" fill="#231f20">10<tspan font-size="4.4" dy="-2.4">4</tspan></text>
<text x="203.95" y="516.9" font-size="5.9" text-anchor="end" fill="#231f20">10<tspan font-size="4.2" dy="-2.4">4</tspan></text>
<text x="203.95" y="529" font-size="5.9" text-anchor="end" fill="#231f20">10<tspan font-size="4.2" dy="-2.4">3</tspan></text>
<text x="201.75" y="544.8" font-size="6.3" text-anchor="end" fill="#231f20">0</text>
<line x1="204.35" y1="514.8" x2="205.75" y2="514.8" stroke="#333" stroke-width="0.6"/>
<line x1="204.35" y1="527.2" x2="205.75" y2="527.2" stroke="#333" stroke-width="0.6"/>
<line x1="204.35" y1="540" x2="205.75" y2="540" stroke="#333" stroke-width="0.6"/>
<line x1="204.35" y1="542" x2="205.75" y2="542" stroke="#333" stroke-width="0.6"/>
<line x1="204.35" y1="544" x2="205.75" y2="544" stroke="#333" stroke-width="0.6"/>
<line x1="217.35" y1="555.1" x2="217.35" y2="556.5" stroke="#333" stroke-width="0.6"/>
<line x1="218.75" y1="555.1" x2="218.75" y2="556.5" stroke="#333" stroke-width="0.6"/>
<line x1="220.15" y1="555.1" x2="220.15" y2="556.5" stroke="#333" stroke-width="0.6"/>
<line x1="235.55" y1="555.1" x2="235.55" y2="556.5" stroke="#333" stroke-width="0.6"/>
<line x1="248.95" y1="555.1" x2="248.95" y2="556.5" stroke="#333" stroke-width="0.6"/>
<ellipse cx="304.4" cy="542.7" rx="4.2" ry="4.2" fill="#3f5fd0" fill-opacity="0.5" filter="url(#bl)"/>
<ellipse cx="315.1" cy="542.7" rx="9" ry="1.8" fill="#3f5fd0" fill-opacity="0.22" filter="url(#bl)"/>
<ellipse cx="331.7" cy="540" rx="4" ry="3.5" fill="#3f5fd0" fill-opacity="0.3" filter="url(#bl)"/>
<ellipse cx="333.5" cy="523.9" rx="5" ry="7" fill="#3f5fd0" fill-opacity="0.25" filter="url(#bl)"/>
<path transform="scale(.5)" d="M611 1080h2m-9 8h2m-3 2h2m7-8h2m-5 8h2m1-13h2m-12 9h2m8 6h2m-4-7h2m-7 3h2m1 5h2m5-4h2m-12-4h2m5 2h2m-4-4h2m-13 5h2m14-4h2m-8-6h2m3 17h2m-3-14h2m-6 5h2m-2-3h2m-1 3h2m-8-5h2m8 5h2m-6 8h2m-6-3h2m4-9h2m-6 5h2m-8-9h2m2 13h2m-1 1h2m-7-8h2m5 6h2m0 0h2m-2-4h2m1 3h2m-10 0h2m3-3h2m-3-2h2m-5-5h2m-2 12h2m-11-7h2m11 4h2m-11-3h2m5 5h2m-2-7h2m-1 3h2m-8 0h2m3-1h2m-5 0h2m0 3h2m-6-5h2m5 1h2m-8-4h2m-4 1h2m3 7h2m-1-2h2m-1-1h2m-9 1h2m4 8h2m-3 0h2m-2-14h2m-3 4h2m-1 0h2m7 3h2m-11-2h2m-2 5h2m-2-1h2m-5-3h2m1 0h2m-6-3h2m-4 4h2m9-2h2m-12-1h2m7-5h2m-7 7h2m-3 1h2m2 0h2m0 3h2m-12-9h2m3 5h2m0-5h2m-2 6h2m4-9h2m-8 6h2m-3 7h2m-2-11h2m-6 0h2m6 3h2m-10 2h2m-3 2h2m4-1h2m1-2h2m-2-5h2m-2 14h2m-9-4h2m-3-3h2m4-3h2m-8 2h2m2 2h2m-2-9h2m2 9h2m-12-2h2m8 9h2m-6-11h2m3 2h2m-7-6h2m-6 8h2m9 0h2m-10-3h2m-5-3h2m5 12h2m-6-11h2m-7 2h2m8-5h2m-7 11h2m5-7h2m-7 4h2m-2-2h2m-2 1h2m-4-1h2m-1 5h2m-5 2h2m5-6h2m3 3h2m-4-7h2m-17 7h2m6-6h2m-6 5h2m5 2h2m-5-6h2m-7-3h2m8-1h2m-7 3h2m-4-3h2m-1 7h2m-2 0h2m-3-6h2m3 4h2m-6 3h2m3-5h2m-6 2h2m3-5h2m-10 5h2m-8-6h2m9 11h2m2-6h2m-6 2h2m-7 0h2m1 5h2m-3-11h2m0 3h2m-2 4h2m-10-9h2m6 11h2m-5-4h2m2-2h2m-4 0h2m2 2h2m-10 1h2m-1-2h2m-4 1h2m6 3h2m-3-6h2m-4 3h2m-3-1h2m-4 2h2m2-5h2m-5 6h2m0 1h2m-6-3h2m-2 0h2m0-2h2m2 7h2m-4-4h2m-6-3h2m0 4h2m7-9h2m-5 13h2m-4-7h2m-1-5h2m-10 7h2m1 2h2m-3-10h2m0 10h2m-7-2h2m4 1h2m1 0h2m-7-7h2m2 4h2m0 6h2m-8-7h2m5 3h2m-11-1h2m1 5h2m-6-7h2m6 6h2m-4-6h2m-6-8h2m4 12h2m-5-7h2m-9 4h2m3 6h2m9-10h2m-14 9h2m5 0h2m-6-6h2m-4-3h2m-3 2h2m5 9h2m-5-12h2m-4 4h2m4-2h2m-5 4h2m-1-2h2m1 4h2m-9-2h2m-3 5h2m3-6h2m6 3h2m-9 5h2m-2-5h2m-10-5h2m5 3h2m-6 6h2m2 0h2m-6-10h2m-1 8h2m-6-4h2m4 1h2m-2-11h2m-2 14h2m-7-2h2m1-2h2m11-1h2m-20-2h2m1 4h2m2-3h2m5 4h2m-11-3h2m-1-2h2m-4 1h2m2-1h2m-9 2h2m6 3h2m-7-2h2m-4-3h2m2 1h2m-6 1h2m1 4h2m-4-2h2m2 7h2m-3-17h2m-2 5h2m-1 5h2m-8-10h2m4 6h2m0-2h2m-11-1h2m4 12h2m-2-11h2m-1-1h2m-4 13h2m-2-13h2m-2 8h2m-8 0h2m4-11h2m0 5h2m-6 9h2m3-7h2m-2 11h2m1-11h2m-1 1h2m-13-3h2m-5 2h2m5 10h2m-3-12h2m1 5h2m1-5h2m-4 0h2m-7 8h2m-2-2h2m-2 2h2m1-2h2m3-6h2m-5 5h2m-9-1h2m3-4h2m-5 10h2m-1-11h2m8 12h2m-13-5h2m-1 0h2m2 8h2m-1-1h2m-5-12h2m-2 3h2m-13 6h2m3-7h2m10-2h2m-8 10h2m-7-3h2m3-7h2m-3 6h2m5 7h2m-8-12h2m-1 4h2m-8-7h2m-1 5h2m1 3h2m-3-3h2m4-5h2m-14 11h2m9-9h2m-1 5h2m-9 5h2m-6-10h2m5 7h2m-2 0h2m-7-5h2m8 0h2m-10-1h2m0 1h2m-11-6h2m13 13h2m-8-2h2m-5-1h2m5-5h2m-7 4h2m3-4h2m-3 2h2m-7 5h2m6-10h2m-7 4h2m-7 2h2m2-3h2m-7 6h2m7-3h2m-14 2h2m12-3h2m-14-5h2m4 4h2m-3 1h2m2 7h2m-3-8h2m-4-7h2m10 6h2m-12-5h2m2 7h2m-10 3h2m17-4h2m-17 5h2m-5-5h2m11 0h2m-10-4h2m-10 4h2m4-5h2m-4 8h2m2 8h2m-7-16h2m5 4h2m-1-2h2m-9 8h2m11-6h2m-20 4h2m10 1h2m-16-4h2m21-6h2m-7-1h2m-14 1h2m9 13h2m-6-10h2m-2 7h2m5-10h2m-13 11h2m-2-9h2m-3 17h2m5-5h2m-4-7h2m-7-1h2m-2 0h2m-7-1h2m6-3h2m6 14h2m-16-15h2m-11 6h2m8-1h2m-7 3h2m1-1h2m2 4h2m-3-1h2m-2-11h2m7 8h2m2-1h2m-13 11h2m-6-17h2m5-1h2m-5-2h2m7 13h2m-7-7h2m-1 2h2m-13 1h2m2-1h2m2 12h2m0-11h2m-1-2h2m-1 7h2m1-5h2m-11 8h2m-2-11h2m5 1h2m-2 9h2m-13-7h2m4 0h2m-5 8h2m1-7h2m-3-4h2m0 9h2m-10-3h2m13 2h2m-2-4h2m-14-3h2m0 15h2m-1-17h2m6 10h2m-7-3h2m-7-9h2m-1 4h2m-3-3h2m-1 8h2m0 5h2m-4 1h2m-1-8h2m0 0h2m-9-10h2m-7 6h2m5 2h2m2 7h2m-13-10h2m11 0h2m-3 0h2m20 3h2m3-2h2m-2 3h2m-1 6h2m1-6h2m-20 3h2m16-6h2m-1 3h2m-20-3h2m-4 3h2m6-1h2m0 1h2m-10 2h2m16 2h2m-8-3h2m-12-2h2m-9 5h2m-5-2h2m23-4h2m-1 2h2m-21 3h2m10-5h2m4 0h2m-7 2h2m-21 0h2m25-1h2m-1 1h2m-11 3h2m7-5h2m-17 3h2m-17 2h2m20-6h2m2 5h2m-7 0h2m-20-5h2m2 2h2m-10 0h2m22 1h2m2 3h2m-11 0h2m-2-3h2m10 2h2m-8 0h2m-16-1h2m0 3h2m7 0h2m-16-5h2m-4 2h2m-2 2h2m-8-5h2m27 2h2m-7 1h2m-2 0h2m4-2h2m-29-4h2m18 0h2m-14 4h2m8-1h2m-5 6h2m-9-6h2m11 2h2m-4-1h2m-6 3h2m-3 1h2m-3-1h2m11-5h2m20 6h2m-6-8h2m-11 4h2m4 6h2m9-7h2m-4-3h2m-15 0h2m1 3h2m1-7h2m-3 4h2m12 0h2m-16 8h2m-8-10h2m8 10h2m-11-7h2m4-2h2m-9 1h2m8 4h2m-8-4h2m2-3h2m-9 4h2m9 6h2m-4-7h2m-3-6h2m-6-3h2m-2 2h2m4 18h2m-7-15h2m0 1h2m0-3h2m2 13h2m-9-11h2m0 0h2m-2 4h2m3 4h2m-14-4h2m0 6h2m7-6h2m-7-4h2m-8 5h2m6-4h2m3 5h2m-1-9h2m-12 10h2m3-1h2m-10-3h2m-4 4h2m0-2h2m7 7h2m-1-7h2m-18-1h2m3 5h2m-5-5h2m-5-1h2m7 1h2m2 0h2m1 2h2m-10-7h2m7 9h2m-10-10h2m-3 4h2m4 3h2m-1 3h2m-9-8h2m-1 1h2m3 9h2m-2-9h2m1 12h2m-2-5h2m-12-1h2m5-4h2m0-8h2m1-2h2m-9 10h2m-4 3h2m-2 3h2m-9 1h2m14-8h2m-19 1h2m9 2h2m1-4h2m-2-2h2m-11 4h2m2-9h2m-5 10h2m-2 2h2m4-5h2m-9 2h2m12 6h2m-15-11h2m-4 16h2m-1-9h2m9 1h2m-13-7h2m6 9h2m-7-3h2m5 0h2m-2 4h2m-6 3h2m-6-4h2m-4 2h2m-6-11h2m2 14h2m4 0h2m0-15h2m-5 8h2m-5 3h2m4-5h2m-8-4h2m12 11h2m-13-4h2m-2-2h2m-3-1h2m-2-3h2m-4 11h2m6-2h2m1-7h2m-11 4h2m-1-4h2m-7 6h2m5-10h2m-9 6h2m0-7h2m2 2h2m-3 0h2m1 9h2m-3-4h2m0-1h2m5-3h2m-19 11h2m11-11h2m-11 8h2m-4-11h2m6 4h2m-7 1h2m1-2h2m-5 3h2m-6 3h2m-3-2h2m13-1h2m-13 1h2m2 7h2m-6-13h2m-1 2h2m-7 4h2m1 4h2m5-1h2m-10-8h2m3-4h2m-7 5h2m-2 6h2m3-3h2m-1 4h2m-2 2h2m2-7h2m-14 0h2m-1 5h2m1-7h2m0 6h2m4-2h2m-10-3h2m-5 0h2m4 4h2m-2-11h2m-5 15h2m-6-3h2m1 2h2m2-2h2m-1 2h2m-9-8h2m0 9h2m-10-1h2m7-3h2m-4 0h2m5-8h2m0 5h2m-7-5h2m-1 7h2m6-7h2m-13 7h2m2 7h2m-10-2h2m2-9h2m2 5h2m-5 2h2m-9-3h2m2-1h2m2 0h2m-1-4h2m-4 4h2m10 2h2m-19-1h2m13 2h2m-18 6h2m8-6h2m1-10h2m-7 6h2m-2-7h2m2 3h2m-5 10h2m-4-4h2m-9-3h2m6 1h2m-1-3h2m-5 1h2m-9 4h2m5 0h2m-4 6h2m14 0h2m-22-7h2m11 4h2m-13-5h2m3-1h2m-2 11h2m3 1h2m-1-22h2m-6 7h2m-2 13h2m-2-18h2m-5 9h2m3-4h2m-8 5h2m0 2h2m3-1h2m0 1h2m1 2h2m-12-8h2m-4 2h2m6 1h2m-9 3h2m-2 2h2m-4-7h2m-1 8h2m-5-14h2m3 7h2m-1 1h2m4 3h2m-12-3h2m8-1h2m-8 10h2m0-3h2m-11-4h2m10 3h2m-17 2h2m10-5h2m-2-5h2m2 10h2m-6-1h2m-11-5h2m3 4h2m-8-3h2m10-5h2m0 7h2m-12-6h2m8 1h2m-13 2h2m7 6h2m-9-14h2m6 9h2m-10 0h2m-8 6h2m8 3h2m-11-13h2m-3 9h2m2-5h2m-2-6h2m-2 7h2m-1-4h2m1 0h2m-3-3h2m-9 0h2m0 9h2m-4-9h2m18 3h2m-9-2h2m-7-31h2m-2 7h2m2 6h2m-5-7h2m-6 8h2m-5-25h2m2 7h2m-8-10h2m2 18h2m16-8h2m-19 8h2m9 12h2m-2-20h2m-2-15h2m-5 38h2m2 6h2m-11-21h2m0 7h2m7-9h2m-6 5h2m-5-17h2m-2 21h2m-7-24h2m9 31h2m-11-5h2m-9 2h2m5-1h2m-8-8h2m1-21h2m-8 23h2m5 2h2m5 0h2m-7-13h2m-2 10h2m-6 1h2m4-5h2m7 9h2m-23-20h2m25 26h2m-16-24h2m-9 12h2m12-8h2m-6 10h2m-11 4h2m-10-11h2m7 18h2m-1-29h2m-4-5h2m6 5h2m-2 15h2m-3-1h2m-1 7h2m-13-3h2m-4-8h2m0 15h2m9-17h2m-7-5h2m4 1h2m-2 21h2m-20 5h2m18-4h2m-14-29h2m2 13h2m1-9h2m13 18h2m-15-4h2m-18 5h2m7-23h2m-5 13h2m14 18h2m-18-7h2m5-1h2m-2-13h2m-11 11h2m1-13h2m9 29h2m4-27h2m-1-11h2m-9 19h2m-9 1h2m-8-12h2m-5-2h2m0 5h2m7-11h2m0 16h2m-8-3h2m7-12h2m-7 13h2m1 8h2m8-7h2m-9-11h2m-18 4h2m-7 15h2m11-15h2m0 22h2m-7-12h2m12 15h2m-5-19h2m-5 3h2m-11-11h2m5-5h2m-10 6h2m11 1h2m-12 0h2m2 17h2m14 3h2m-17-22h2m8 11h2m-19 6h2m8-1h2m-8-22h2m7 20h2m-14-2h2m13 0h2m-25-7h2m18 16h2m-13-8h2m-2 2h2m3 3h2m-3-9h2m-2 6h2m3-24h2m-10 29h2m-5-5h2m7 1h2m-2-9h2m4-8h2m-4 4h2m-11 17h2m-2-9h2m1-9h2m-3-12h2m-7 18h2m7 0h2m-15 0h2m18 3h2m-10 0h2m-6-8h2m-1 9h2m-9 7h2m6 6h2m-3-6h2m-11-3h2m6-8h2m-9 13h2m7-1h2m4-18h2m-22 9h2m9-12h2m-2 7h2m-6 5h2m0 0h2m10 7h2m-8 5h2m-3-11h2m-3-17h2m-2 4h2m9 15h2m-18 6h2m3-18h2m5 15h2m-5 6h2m-16-22h2m6 11h2m-7-7h2m9 28h2m-2-36h2m1 18h2m-7-10h2m-11-3h2m18 18h2m-22-10h2m-3-5h2m7 23h2m-14-2h2m15-28h2m-14 25h2m18-4h2m-14-3h2m-9-11h2m-3 4h2m1 3h2m-2 10h2m-7-3h2m7 3h2m-4 6h2m-4 0h2m-6-11h2m7-8h2m-2 1h2m-2 4h2m-13-3h2m12-10h2m-4 15h2m2-5h2m-15-6h2m0 16h2m10-6h2m-14 6h2m-6 2h2m3-11h2m-6 8h2m9 3h2m-9 9h2m-16-20h2m18 6h2m-10-5h2m-1 4h2m3-14h2m3-8h2m-11 22h2m-13-17h2m24 21h2m-21-10h2m7 27h2m-3-20h2m-1-12h2m-5 4h2m-3 1h2m-5-9h2m4 15h2m8 15h2m-15-21h2m2 5h2m-7-10h2m21 5h2m-33-6h2m12 6h2m-12-7h2m21-5h2m-10 13h2m-1 1h2m-5-4h2m-10 13h2m-7-27h2m9 18h2m-10 2h2m2-13h2m-4 17h2m-7 15h2m4-34h2m8 12h2m-9 16h2m-4-18h2m11 2h2m-19-3h2m6 14h2m-10-18h2m4 11h2m-6-9h2m-10 11h2m7-22h2m5 15h2m-16 8h2m14-2h2m8-10h2m-27 8h2m7 6h2m-5-20h2m-7 22h2m4-13h2m5-7h2m-5-7h2m-6 10h2m4 13h2m-8-7h2m-13-6h2m13 28h2m6-7h2m-15-24h2m-9 5h2m-2 14h2m3-27h2m-6 32h2m10-12h2m-13-12h2m14 17h2m-9-22h2m-1 29h2m-10-34h2m-6 16h2m-4 5h2m6 2h2m-3-4h2m5 15h2m7-14h2m-21-21h2m1 7h2m3 17h2m4-19h2m-5 38h2m-13-39h2m5 6h2m-7 13h2m7 6h2m-16 3h2m6-9h2m7-1h2m4-6h2m-22-11h2m16 17h2m-18-7h2m12 7h2m-5 2h2m0-3h2m5 3h2m-18-8h2m15 4h2m-13-16h2m-20 17h2m9-20h2m-2 22h2m-10-2h2m14-9h2m-9 9h2m6 18h2m0-20h2m-5-5h2m-3-5h2m-14 15h2m8-3h2m4 4h2m-12-6h2m-4 1h2m-5-6h2m0 2h2m10-4h2m-11-11h2m-4 19h2m-8-7h2m6-7h2m-6 12h2m3 5h2m-9 9h2m11-9h2m-11-7h2m15 20h2m-17-22h2m5 4h2m-5 19h2m-10-14h2m-16-8h2m16 17h2m-3-14h2m4 6h2m-7-20h2m6 22h2m-9-13h2m-12 5h2m2 15h2m-1-7h2m1 9h2m-3 5h2m-4-11h2m-5 4h2m5 12h2m-1-1h2m-5-12h2m-4 1h2m-1-5h2m-1 15h2m-4-21h2m-2 26h2m-4-4h2m-1-9h2m0 2h2m0-4h2m-7-12h2m-3 24h2m3 3h2m-6-18h2m2 3h2m-7 11h2m2-12h2m-2 5h2m-3-1h2m3-6h2m-5 3h2m-4 5h2m-4 4h2m5-25h2m-9 31h2m5-28h2m-6 30h2m2-10h2m-4-7h2m-6 12h2m-2 0h2m1-7h2m-1 0h2m-6-4h2m-4 15h2m1-31h2m2 14h2m-3 13h2m-3-14h2m-4 7h2m0-8h2m-8 10h2m6-2h2m-8 12h2m5-9h2m-8-7h2m4-14h2m-11 34h2m-1-24h2m0 9h2m5 0h2m-10-1h2m-5 1h2m7 11h2m-8-14h2m-3 9h2m-1-11h2m1 11h2m-5-13h2m-2 10h2m-4-5h2m3 6h2m-2-4h2m-1-11h2m3 18h2m-8-6h2m-7-17h2m2 14h2m-1-9h2m-1-7h2m0 15h2m-3-14h2m-4 30h2m-4-7h2m-2-9h2m-2-1h2m-3 27h2m-3-18h2m1 0h2m-2-9h2m-3-7h2m0 4h2m-2 9h2m-4 10h2m1-21h2m-4 12h2m0-8h2m-7-16h2m0 30h2m-1-6h2m-2-2h2m-1-4h2m2-12h2m-4 8h2m-5 3h2m6 22h2m-9-8h2m0-18h2m-2-7h2m-3 8h2m-11-2h2m8 2h2m-3 4h2m-2 8h2m-4-25h2m-2 27h2m-8-7h2m5 8h2m-5-23h2m2-2h2m0 21h2m-4 2h2m2-1h2m-8 2h2m-3-23h2m-1 11h2m-3 18h2m-5 18h2m-15-29h2m-28 17h2m59-9h2m-64-47h2m32 69h2m-26-56h2m40 17h2m13-20h2m-22 50h2m-22-4h2m-14-61h2m11 55h2m25 4h2m5-31h2m-11 25h2m-51-30h2m0 39h2m59-53h2m-29-17h2m-10 27h2m8 8h2m-37-12h2m50 2h2m0-4h2m-40 56h2m-13-7h2m-18-20h2" stroke="#2c44c0" stroke-opacity=".5" stroke-width="1.5"/>
<ellipse cx="304.1" cy="542.7" rx="3.4" ry="3.5" fill="url(#gH)"/>
<ellipse cx="331.7" cy="540.2" rx="2.8" ry="2.4" fill="url(#gL)"/>
<ellipse cx="333.5" cy="523.9" rx="1.8" ry="1.8" fill="url(#gVL)"/>
<rect x="291.5" y="504.5" width="55" height="51" fill="none" stroke="#999" stroke-width="1"/>
<line x1="317.9" y1="504.5" x2="317.9" y2="555.5" stroke="#666" stroke-width="1"/>
<line x1="291.5" y1="533.5" x2="346.5" y2="533.5" stroke="#555" stroke-width="1"/>
<text x="293.1" y="511" font-size="6.3" text-anchor="start" fill="#231f20">0,030</text>
<text x="344.3" y="511" font-size="6.3" text-anchor="end" fill="#231f20">9,68</text>
<text x="293.1" y="552" font-size="6.3" text-anchor="start" fill="#231f20">75,8</text>
<text x="344.3" y="552" font-size="6.3" text-anchor="end" fill="#231f20">14,5</text>
<text x="304.4" y="562.8" font-size="6.3" text-anchor="middle" fill="#231f20">0</text>
<text x="322.1" y="562.8" font-size="6.3" text-anchor="middle" fill="#231f20">10<tspan font-size="4.4" dy="-2.4">3</tspan></text>
<text x="335.7" y="562.8" font-size="6.3" text-anchor="middle" fill="#231f20">10<tspan font-size="4.4" dy="-2.4">4</tspan></text>
<text x="289.3" y="516.9" font-size="5.9" text-anchor="end" fill="#231f20">10<tspan font-size="4.2" dy="-2.4">4</tspan></text>
<text x="289.3" y="529" font-size="5.9" text-anchor="end" fill="#231f20">10<tspan font-size="4.2" dy="-2.4">3</tspan></text>
<text x="287.1" y="544.8" font-size="6.3" text-anchor="end" fill="#231f20">0</text>
<line x1="289.7" y1="514.8" x2="291.1" y2="514.8" stroke="#333" stroke-width="0.6"/>
<line x1="289.7" y1="527.2" x2="291.1" y2="527.2" stroke="#333" stroke-width="0.6"/>
<line x1="289.7" y1="540" x2="291.1" y2="540" stroke="#333" stroke-width="0.6"/>
<line x1="289.7" y1="542" x2="291.1" y2="542" stroke="#333" stroke-width="0.6"/>
<line x1="289.7" y1="544" x2="291.1" y2="544" stroke="#333" stroke-width="0.6"/>
<line x1="302.7" y1="555.1" x2="302.7" y2="556.5" stroke="#333" stroke-width="0.6"/>
<line x1="304.1" y1="555.1" x2="304.1" y2="556.5" stroke="#333" stroke-width="0.6"/>
<line x1="305.5" y1="555.1" x2="305.5" y2="556.5" stroke="#333" stroke-width="0.6"/>
<line x1="320.9" y1="555.1" x2="320.9" y2="556.5" stroke="#333" stroke-width="0.6"/>
<line x1="334.3" y1="555.1" x2="334.3" y2="556.5" stroke="#333" stroke-width="0.6"/>
<ellipse cx="374.5" cy="542.7" rx="4.2" ry="4.2" fill="#3f5fd0" fill-opacity="0.5" filter="url(#bl)"/>
<ellipse cx="385.2" cy="542.7" rx="9" ry="1.8" fill="#3f5fd0" fill-opacity="0.22" filter="url(#bl)"/>
<ellipse cx="401.8" cy="540" rx="4" ry="3.5" fill="#3f5fd0" fill-opacity="0.3" filter="url(#bl)"/>
<ellipse cx="403.6" cy="523.9" rx="5" ry="7" fill="#3f5fd0" fill-opacity="0.25" filter="url(#bl)"/>
<path transform="scale(.5)" d="M748 1084h2m4-5h2m-10 2h2m-1 0h2m-1 5h2m-6 3h2m1-4h2m-4 5h2m8-5h2m-8-7h2m5 7h2m-8 0h2m-11-4h2m2 3h2m10 4h2m-11-7h2m1 1h2m-10 4h2m5-1h2m-7 1h2m3-9h2m2 10h2m-5-4h2m-10 3h2m9-1h2m-13 2h2m6-1h2m-5 3h2m-2 4h2m-3-16h2m0 11h2m5-9h2m-10 8h2m-6-3h2m-2-3h2m2 0h2m-1 6h2m1 0h2m-5-2h2m-7-1h2m-2 2h2m6 3h2m0-3h2m-9 4h2m-6-2h2m1-4h2m3 6h2m-9-7h2m5-5h2m-7 8h2m8 3h2m-14-4h2m-1 0h2m-1-2h2m0 5h2m-5 4h2m0-6h2m-3-7h2m3 10h2m-5-4h2m0-2h2m-9 9h2m6-4h2m-2-3h2m-11-1h2m5-2h2m1 6h2m-3-1h2m-7-2h2m2-9h2m-1 16h2m-3-10h2m-4 9h2m1-5h2m3 4h2m-11 2h2m-2-5h2m-4-5h2m5 4h2m-5-5h2m-4 3h2m2-5h2m-6 10h2m1-6h2m-2 2h2m-5 6h2m-7-9h2m9 8h2m-5-7h2m-3 5h2m0 4h2m-11-6h2m9 0h2m-3 2h2m1 1h2m-4-10h2m-12 8h2m2 2h2m0-7h2m-2 1h2m-5 4h2m2 4h2m-2-5h2m-3-2h2m-1-7h2m-1 17h2m0-13h2m-4 6h2m2-2h2m-12-5h2m5 12h2m-9-6h2m12-2h2m-12 6h2m-7-5h2m-2-1h2m4-4h2m-2 10h2m-3-5h2m-6 0h2m6 2h2m0-6h2m-11 5h2m2-3h2m-5 0h2m2 0h2m-8 8h2m4-9h2m-14 2h2m4-2h2m4 0h2m-3 0h2m-1 1h2m2 1h2m-9 4h2m-1-5h2m-5 1h2m-5 1h2m7 1h2m-6 7h2m-2-11h2m-3 2h2m5 4h2m-11-2h2m1 5h2m1-7h2m0 5h2m-4-2h2m-3-1h2m-4-3h2m1 1h2m-8 7h2m1-8h2m-4 2h2m1-2h2m3 0h2m-11 9h2m5-5h2m-5-2h2m-3-3h2m-7 8h2m1-11h2m0-4h2m-4 14h2m-1-6h2m7 5h2m-7-3h2m-5 8h2m0-6h2m-3 2h2m0-3h2m-7-3h2m2 4h2m-1-5h2m-14-2h2m6 4h2m-5 4h2m2-6h2m2 4h2m-7-1h2m-2 3h2m-9 1h2m9-2h2m5-1h2m-10 2h2m0-9h2m-11 2h2m9 6h2m-17 3h2m13-1h2m-13-3h2m7 4h2m-8 2h2m4-7h2m-8-1h2m1-4h2m0 9h2m-2-2h2m7 0h2m-14 3h2m-1-4h2m5 8h2m-13-3h2m0 1h2m-3-9h2m0 4h2m-2 5h2m3-9h2m-4 1h2m-8-2h2m1 7h2m-2-3h2m-4-10h2m4 18h2m-10-13h2m6 7h2m-2 2h2m-10-6h2m2 6h2m-4-13h2m6 6h2m-9 0h2m-4 6h2m2-3h2m-1-4h2m-7 9h2m1-9h2m-6 1h2m-6 6h2m5 2h2m1-6h2m-7 0h2m-9 4h2m7-6h2m7 0h2m-4 6h2m-9-4h2m6-10h2m-5 7h2m-1 5h2m-12-3h2m-2-9h2m-3 8h2m-3-2h2m8 12h2m0 1h2m-8-5h2m-6-4h2m-8-4h2m9 8h2m-6 2h2m6-3h2m-7-2h2m0 5h2m-6-7h2m-4 4h2m4-6h2m3 9h2m-5-3h2m1 5h2m-6-10h2m-6-1h2m2 5h2m-4-4h2m-2 7h2m-6-5h2m4-2h2m-5 4h2m1 4h2m-5-2h2m2-3h2m-12-7h2m3 3h2m3 1h2m-4 2h2m-12-1h2m4 5h2m0-2h2m-4-2h2m2-2h2m5 5h2m-4 4h2m-12-9h2m4 6h2m-4-4h2m-2-5h2m1 1h2m1 0h2m-11 12h2m0-4h2m0 1h2m2-4h2m-6 1h2m-4-7h2m-3 5h2m1 0h2m1 3h2m-5 2h2m5-10h2m-9 8h2m-4 0h2m4 1h2m-3-1h2m0 2h2m-9-3h2m-1-4h2m-2 6h2m-2 1h2m0-2h2m-7-5h2m6 6h2m-9-9h2m-4 8h2m-3-1h2m2-6h2m1 8h2m-4-8h2m1 8h2m-6-14h2m0 8h2m-2 9h2m-3-3h2m5-13h2m-5 4h2m-8 5h2m-2 3h2m-2-4h2m3-1h2m-14 3h2m5-7h2m9 9h2m-11-2h2m-12 4h2m5-1h2m-8 1h2m8-10h2m-2 8h2m-5 4h2m5-11h2m-13 5h2m9-3h2m-9-5h2m4 8h2m-5-5h2m-6 4h2m8-8h2m-1 10h2m-12 1h2m6-12h2m-3 6h2m-2 8h2m-3-7h2m0 1h2m-3 6h2m1-6h2m-6 5h2m-3-5h2m8 11h2m-15-14h2m0-7h2m10 15h2m-1 1h2m-27-11h2m17 6h2m-4 3h2m-11-11h2m7 8h2m1 3h2m-19-6h2m6 5h2m-8-15h2m10 6h2m-3 13h2m1-1h2m-1-13h2m-12 12h2m10-6h2m-19 1h2m16 4h2m-21-6h2m11 9h2m-1 4h2m-5-7h2m-2 3h2m-4 0h2m3-8h2m-3 3h2m-5-1h2m-1 2h2m-12-7h2m7 1h2m-4-3h2m5 9h2m-5-1h2m-7 2h2m-8 0h2m12 2h2m-3-4h2m1 4h2m-22-8h2m2 1h2m18-1h2m-8-3h2m-17 0h2m6 3h2m-15-1h2m12 2h2m-9-7h2m1 14h2m9 8h2m-9-16h2m-8 8h2m1-7h2m-7 2h2m10-5h2m-3 3h2m-2-3h2m-9 0h2m2 2h2m-10 2h2m12 6h2m-8-6h2m6-4h2m5 11h2m-14-3h2m6-11h2m-18 9h2m2 4h2m1-10h2m-9-1h2m-2 4h2m7 2h2m4 1h2m-22 2h2m11-3h2m1 10h2m-9-10h2m1 2h2m-5 7h2m6-2h2m-17-3h2m4-13h2m35 12h2m1-5h2m-20 1h2m10 1h2m-23-2h2m-7 4h2m21-4h2m4 7h2m-30-1h2m26-3h2m-4-3h2m-28 6h2m21-2h2m-17 0h2m8-1h2m-18-2h2m-6 1h2m31 3h2m-18-3h2m4 3h2m1-4h2m-11 1h2m8 1h2m-17-1h2m-14 1h2m26-1h2m-9 1h2m-3-1h2m-15-1h2m-10 0h2m-1 4h2m1-2h2m0-2h2m-6 0h2m26-1h2m-19 3h2m10-4h2m1 5h2m-28-6h2m30 3h2m-27 4h2m6-2h2m-10 3h2m-10-1h2m14 3h2m2-1h2m-2-6h2m4 2h2m-26-1h2m15 5h2m-10-4h2m17 1h2m-22-6h2m16 8h2m-22-3h2m-6 1h2m-4 1h2m13-5h2m-1 2h2m-12 1h2m-8-5h2m26 5h2m-9-3h2m-5 1h2m11 2h2m-22-2h2m33-8h2m7 4h2m-2 2h2m-12-2h2m-4-3h2m4 0h2m-2-1h2m-14 3h2m12-2h2m2 9h2m-12 0h2m-3-6h2m2 0h2m2-5h2m-13-2h2m1 6h2m-6 4h2m-3-7h2m12 2h2m-8-10h2m-3 13h2m-3 2h2m-3-2h2m-4-1h2m1 5h2m-5-9h2m0 2h2m-2 8h2m-3 3h2m6-9h2m-8 1h2m-5 2h2m4-4h2m-7 4h2m-6-5h2m0-5h2m-2 10h2m9-7h2m-11 7h2m1-6h2m-6 8h2m-7-11h2m7 8h2m-7-6h2m8 5h2m-13 1h2m2 4h2m4-10h2m-10 4h2m-1 3h2m-1 5h2m-5-14h2m0 4h2m-2 0h2m-4 4h2m2-3h2m-8 4h2m11-3h2m-8 6h2m-3-2h2m-3-7h2m6-3h2m-5 12h2m-5-5h2m2-5h2m-7 6h2m-1-9h2m-1 5h2m3 11h2m-15-7h2m3-12h2m3 21h2m-8-3h2m8-5h2m-8 5h2m-12-8h2m2 3h2m3-1h2m0 8h2m3-9h2m-11 5h2m2-1h2m-17 1h2m16-17h2m-7 13h2m-11 4h2m8-10h2m-8 4h2m3-2h2m-1 8h2m-3-6h2m7 5h2m-13-5h2m-3 0h2m-1-3h2m3 2h2m-9-1h2m-3 2h2m2-3h2m3 4h2m-2 0h2m-3-7h2m-7 11h2m-3-3h2m-6-9h2m-2 16h2m7-12h2m-2 3h2m-3-2h2m-4 7h2m2-4h2m-2 0h2m-4-5h2m-4 11h2m-1-5h2m5 4h2m-1-1h2m-2-9h2m-8 5h2m-12 1h2m7-1h2m-1 0h2m4-2h2m-10-6h2m-3 10h2m1 0h2m-4-1h2m-5 6h2m-4-8h2m-4 5h2m3-5h2m-7 7h2m2-2h2m1-5h2m-3-3h2m1 7h2m7-10h2m-14 3h2m-3-2h2m-5 9h2m0-5h2m5 3h2m-5-2h2m-3-2h2m4 2h2m-11-1h2m2-1h2m4 4h2m-6-1h2m-10-3h2m5 3h2m-7-6h2m-3 8h2m-9 5h2m-3-11h2m17 2h2m-11-7h2m-2 10h2m-4-1h2m-1-3h2m-2 9h2m7-1h2m-14-11h2m-1 4h2m7 8h2m-13-3h2m2-6h2m5-5h2m-2 16h2m-1-12h2m-6 6h2m-8 4h2m2-2h2m-2-7h2m-3 5h2m2 3h2m-12-13h2m10 7h2m0 3h2m-9-1h2m-3-6h2m1 2h2m-4 2h2m-8 0h2m6-4h2m0 2h2m5-8h2m-7 18h2m-6-12h2m-4 13h2m-2-7h2m-1-3h2m-1 8h2m5-12h2m-12 4h2m5-1h2m-11 0h2m2 5h2m0-7h2m-10 17h2m4-17h2m4 0h2m-10 9h2m3 3h2m-5-4h2m-6-4h2m9 2h2m-9-6h2m2 13h2m-4-2h2m-2-10h2m-1 1h2m-4 8h2m-2-5h2m-9-3h2m4-4h2m2 10h2m-5-7h2m-9 0h2m4 2h2m-10 1h2m1-5h2m1 5h2m2-7h2m-4 10h2m0-6h2m-8 3h2m1 3h2m-10-5h2m6 4h2m2-10h2m-7 6h2m-2-2h2m-1 7h2m0-2h2m-6 8h2m-6-6h2m6 1h2m-6-1h2m-4-4h2m8 1h2m0 3h2m-13-2h2m-3 0h2m8-6h2m-3-3h2m-11 11h2m1 5h2m-5-14h2m4-1h2m-7 5h2m-4 1h2m3 0h2m1-3h2m-5-4h2m-8 10h2m0 1h2m10-1h2m-11-4h2m6-3h2m-13 12h2m6-4h2m-7-5h2m-3-1h2m-2 4h2m-7 8h2m-1-12h2m5 3h2m-3-2h2m2-1h2m-3 1h2m1 7h2m-3 5h2m-7-12h2m-1-3h2m3-31h2m6-19h2m-9 18h2m-4 27h2m-13-22h2m1 2h2m-7 0h2m14-9h2m1 15h2m-10 6h2m-1-12h2m0-4h2m-16 7h2m11-17h2m16 6h2m-19 20h2m10-14h2m-12 2h2m-11 0h2m-3 7h2m16-17h2m-12 2h2m7 1h2m-14 9h2m8-8h2m-11-8h2m-4 30h2m7-31h2m-4 0h2m6 13h2m-16 11h2m-3-13h2m4 12h2m-1 2h2m-20-25h2m2 8h2m8-6h2m2-8h2m-8 12h2m-4 10h2m3 19h2m0-28h2m-6 7h2m-1-12h2m-8 24h2m-5-22h2m15 6h2m-19 9h2m14-17h2m-16 2h2m14-8h2m-21 18h2m2 2h2m6-14h2m3 5h2m1 13h2m0-13h2m-6 6h2m-4-15h2m3 24h2m-22-5h2m13-15h2m0-4h2m-16 13h2m0-18h2m2 25h2m-2-3h2m-1-7h2m-3 15h2m6-5h2m-7 14h2m-10-24h2m8 3h2m-3-2h2m-1 13h2m-2-15h2m-1 11h2m-5-10h2m4-3h2m-7 14h2m-3 6h2m2-10h2m7 0h2m-13-13h2m-8 17h2m-5-12h2m5 1h2m-10 11h2m2-17h2m8 15h2m-16-1h2m9-4h2m-16-25h2m7 25h2m-3 2h2m-7-5h2m11-8h2m-15 3h2m8 26h2m-11-12h2m-6-18h2m16 5h2m-1-4h2m-15 10h2m4-7h2m-13 0h2m16-10h2m-23 16h2m0 1h2m7 2h2m0-12h2m-2 11h2m-5-8h2m-7 2h2m15 14h2m-18-20h2m-2 16h2m5 11h2m-5-1h2m-5-14h2m9-7h2m7 4h2m-7-4h2m-15 2h2m0 14h2m5-1h2m-9-17h2m-9 35h2m-5-16h2m2-12h2m9-7h2m-13 5h2m-7 3h2m12 5h2m0 0h2m-11-6h2m-3-4h2m-2 21h2m5-13h2m-19-1h2m6-1h2m-6 25h2m6-27h2m-10-15h2m12 24h2m-5-5h2m-15-1h2m1 5h2m7-11h2m1-14h2m-7 36h2m-5-15h2m4-12h2m2 23h2m-6-23h2m-9 14h2m14 5h2m-8 3h2m-1 9h2m-5-13h2m1-4h2m-20 5h2m24-3h2m-21 10h2m-7-5h2m-3 4h2m16-8h2m-2-13h2m-16 22h2m3-8h2m-5 12h2m2-1h2m6-26h2m-13 4h2m-9-4h2m5 15h2m5-7h2m2-1h2m-8 1h2m-12 8h2m16 6h2m-13 6h2m2-10h2m-5-8h2m2 8h2m-7-5h2m5 5h2m-2-24h2m5 6h2m-8 1h2m-9 2h2m-13 0h2m9 22h2m-2-22h2m4 12h2m-7-1h2m-12-13h2m22-4h2m-26-4h2m4 33h2m15-3h2m5 1h2m-15-34h2m1 14h2m-10-8h2m-3-4h2m10 31h2m-14-30h2m-1 10h2m-6 13h2m6-7h2m1 7h2m-7-5h2m-5-24h2m-12 26h2m11 2h2m-6-20h2m7 8h2m-11-3h2m-2 1h2m-7 10h2m1-2h2m1-2h2m-5-7h2m3 17h2m-6 6h2m1-4h2m-12-11h2m4-16h2m-9 23h2m6 7h2m3-19h2m-22 6h2m25 12h2m-23-10h2m11-15h2m-14 4h2m14-3h2m-10 9h2m6 22h2m-6-10h2m7-7h2m-2 9h2m-8-15h2m-10 2h2m-2 8h2m4 5h2m-4-12h2m4 6h2m-19 6h2m6-21h2m-4 0h2m1 0h2m-9 4h2m11 5h2m-7 4h2m0-7h2m0 10h2m-21-13h2m12 20h2m1-35h2m-3 24h2m-3-2h2m4 7h2m-20-19h2m11-5h2m10 9h2m-15 17h2m-7-19h2m6-1h2m0 14h2m-3-4h2m-11-10h2m-9-7h2m6 25h2m8-24h2m-7 12h2m-2-2h2m-5 21h2m-5-24h2m10 15h2m-8 14h2m2-24h2m-2 1h2m-10 12h2m-8-4h2m4-11h2m1-5h2m2 2h2m-8 7h2m0 19h2m-11-19h2m11 29h2m-6-17h2m2-18h2m-4 19h2m-1-13h2m-5-10h2m-10 3h2m17 2h2m-6 1h2m-1-3h2m-19 12h2m12-9h2m-8-1h2m-8 16h2m14-5h2m-6-4h2m-8-8h2m2 11h2m1 1h2m-15-18h2m3 15h2m-11-1h2m-2 2h2m-1-6h2m8 0h2m-1 2h2m-15-6h2m8 7h2m-10 10h2m13-21h2m-7 4h2m-8-2h2m14 9h2m-5-4h2m-15 9h2m12 18h2m-14-21h2m-8-6h2m16 12h2m-14-21h2m0 35h2m-10-20h2m0-7h2m7-3h2m-4 6h2m-4 3h2m-12 2h2m22-4h2m-24 8h2m4-10h2m1 15h2m-4-17h2m4 0h2m-5 14h2m-1-3h2m-2 10h2m-5 4h2m-4 4h2m-6-16h2m8 8h2m-5 14h2m-6-5h2m-3-11h2m5 3h2m-9-3h2m4 11h2m-1-27h2m-11 15h2m7-3h2m-11-22h2m-2 38h2m8-9h2m-7-1h2m1 7h2m-2-11h2m-2 22h2m-2-9h2m-5-10h2m5 3h2m-9-5h2m1 17h2m-7-29h2m-1 19h2m-3-4h2m4 10h2m-9-6h2m1 1h2m-1 1h2m-6-1h2m-4-8h2m0 1h2m3 13h2m-5 1h2m-2-11h2m-5-2h2m10 6h2m-7 2h2m-10-10h2m4-6h2m1 9h2m-8-4h2m4 9h2m-2-18h2m-1 14h2m-5 12h2m-7-14h2m4 7h2m-2-16h2m-3 12h2m-1-11h2m-6 10h2m5 2h2m-12-10h2m2-13h2m-3 32h2m1-26h2m-5 25h2m-5-13h2m-1-4h2m-2-17h2m5 28h2m-7-1h2m-1-5h2m-1 8h2m-1-6h2m2 1h2m-12 11h2m1-19h2m0 9h2m-3-12h2m-2 15h2m4 0h2m-4 8h2m-2-5h2m-3-2h2m-8-18h2m-1 17h2m5-6h2m-8 13h2m3-9h2m-6-17h2m2 18h2m-6-3h2m-2 4h2m-2-6h2m1-9h2m-4 6h2m-11-20h2m10 42h2m-4-8h2m0-9h2m-6 13h2m0-7h2m-10-5h2m8-7h2m-7 8h2m1-11h2m-3 14h2m-7 1h2m-3 2h2m6 3h2m-12-11h2m4 1h2m-3 9h2m0-11h2m-5-3h2m-5 1h2m2 3h2m-5-3h2m5 0h2m-4-5h2m-3 9h2m-2 5h2m-5-9h2m4 11h2m-9-5h2m2-4h2m0-1h2m-1 0h2m-1 6h2m-10 0h2m8 21h2m-14-6h2m-39-41h2m47 29h2m-44-38h2m46-7h2m-55 22h2m48-2h2m-1-20h2m-43 23h2m53-21h2m-69-11h2m57 21h2m-50-16h2m10-4h2m-27 54h2m53-47h2m-25 15h2m-21 21h2m8 14h2m0-57h2m-22 42h2m51-18h2m2 29h2m-66-8h2m31-32h2" stroke="#2c44c0" stroke-opacity=".5" stroke-width="1.5"/>
<ellipse cx="374.2" cy="542.7" rx="3.4" ry="3.5" fill="url(#gH)"/>
<ellipse cx="401.8" cy="540.2" rx="2.8" ry="2.4" fill="url(#gL)"/>
<ellipse cx="403.6" cy="523.9" rx="1.8" ry="1.8" fill="url(#gVL)"/>
<rect x="361.5" y="504.5" width="55" height="51" fill="none" stroke="#999" stroke-width="1"/>
<line x1="388" y1="504.5" x2="388" y2="555.5" stroke="#666" stroke-width="1"/>
<line x1="361.5" y1="533.5" x2="416.5" y2="533.5" stroke="#555" stroke-width="1"/>
<text x="363.2" y="511" font-size="6.3" text-anchor="start" fill="#231f20">0,061</text>
<text x="414.4" y="511" font-size="6.3" text-anchor="end" fill="#231f20">8,95</text>
<text x="363.2" y="552" font-size="6.3" text-anchor="start" fill="#231f20">74,8</text>
<text x="414.4" y="552" font-size="6.3" text-anchor="end" fill="#231f20">16,2</text>
<text x="374.5" y="562.8" font-size="6.3" text-anchor="middle" fill="#231f20">0</text>
<text x="392.2" y="562.8" font-size="6.3" text-anchor="middle" fill="#231f20">10<tspan font-size="4.4" dy="-2.4">3</tspan></text>
<text x="405.8" y="562.8" font-size="6.3" text-anchor="middle" fill="#231f20">10<tspan font-size="4.4" dy="-2.4">4</tspan></text>
<text x="359.4" y="516.9" font-size="5.9" text-anchor="end" fill="#231f20">10<tspan font-size="4.2" dy="-2.4">4</tspan></text>
<text x="359.4" y="529" font-size="5.9" text-anchor="end" fill="#231f20">10<tspan font-size="4.2" dy="-2.4">3</tspan></text>
<text x="357.2" y="544.8" font-size="6.3" text-anchor="end" fill="#231f20">0</text>
<line x1="359.8" y1="514.8" x2="361.2" y2="514.8" stroke="#333" stroke-width="0.6"/>
<line x1="359.8" y1="527.2" x2="361.2" y2="527.2" stroke="#333" stroke-width="0.6"/>
<line x1="359.8" y1="540" x2="361.2" y2="540" stroke="#333" stroke-width="0.6"/>
<line x1="359.8" y1="542" x2="361.2" y2="542" stroke="#333" stroke-width="0.6"/>
<line x1="359.8" y1="544" x2="361.2" y2="544" stroke="#333" stroke-width="0.6"/>
<line x1="372.8" y1="555.1" x2="372.8" y2="556.5" stroke="#333" stroke-width="0.6"/>
<line x1="374.2" y1="555.1" x2="374.2" y2="556.5" stroke="#333" stroke-width="0.6"/>
<line x1="375.6" y1="555.1" x2="375.6" y2="556.5" stroke="#333" stroke-width="0.6"/>
<line x1="391" y1="555.1" x2="391" y2="556.5" stroke="#333" stroke-width="0.6"/>
<line x1="404.4" y1="555.1" x2="404.4" y2="556.5" stroke="#333" stroke-width="0.6"/>
<ellipse cx="444.6" cy="542.7" rx="4.2" ry="4.2" fill="#3f5fd0" fill-opacity="0.5" filter="url(#bl)"/>
<ellipse cx="455.3" cy="542.7" rx="9" ry="1.8" fill="#3f5fd0" fill-opacity="0.22" filter="url(#bl)"/>
<ellipse cx="466" cy="541" rx="9" ry="4.2" fill="#3f5fd0" fill-opacity="0.42" filter="url(#bl)"/>
<ellipse cx="470.8" cy="523.8" rx="7" ry="8.5" fill="#3f5fd0" fill-opacity="0.3" filter="url(#bl)"/>
<path transform="scale(.5)" d="M890 1081h2m1 4h2m-2-1h2m-9 4h2m3-2h2m-10 4h2m7-11h2m-11 5h2m5 2h2m-9 0h2m5 2h2m-4-6h2m-4 7h2m1-3h2m-1 2h2m-2 2h2m-8 0h2m6-7h2m-3-1h2m-3 2h2m-14 5h2m4 0h2m2 4h2m-13-11h2m4 5h2m1-6h2m-3 1h2m3 6h2m3-12h2m-16 3h2m6 5h2m1 3h2m-8-4h2m7-2h2m-12 0h2m3 6h2m-1-8h2m-4 2h2m-2-2h2m-6 5h2m2-8h2m-1 6h2m-3 6h2m3 2h2m-3 0h2m-12-7h2m3 2h2m3 3h2m-3-1h2m-11 4h2m5-6h2m-9-7h2m6 11h2m-10-11h2m5 4h2m1 6h2m-6-14h2m4 10h2m-13 3h2m1 1h2m6-7h2m-4 1h2m-5 6h2m4-2h2m-8-2h2m-5-1h2m-7-5h2m2 10h2m1 3h2m-8-8h2m3 8h2m-5-3h2m6 2h2m-8-5h2m4 0h2m-4 1h2m0 1h2m-4-3h2m-2 1h2m8 2h2m-14-3h2m-10 1h2m7 2h2m-4 3h2m0-7h2m-7 7h2m0-7h2m-5 0h2m5 5h2m-5 1h2m3 0h2m-13-4h2m11 2h2m-12 3h2m1-7h2m3 3h2m-6-4h2m-5-3h2m6 5h2m-8 2h2m7-6h2m-9 7h2m-2 0h2m-2 9h2m-2-5h2m-3-9h2m-3-3h2m7 0h2m-5 4h2m-8 0h2m-4-1h2m0 4h2m-10-8h2m7 13h2m-1-11h2m3 2h2m-9 3h2m-3 2h2m-3-4h2m0 2h2m0-3h2m1 7h2m-5-5h2m1 2h2m-4 2h2m-9-1h2m6-7h2m0 1h2m-14 8h2m8 0h2m-6 2h2m3-1h2m-5-6h2m-4-1h2m-2 10h2m-4-2h2m0-1h2m6-12h2m-12 6h2m0 0h2m0 0h2m-3 2h2m-1-11h2m3 10h2m-5 8h2m-9-6h2m2 1h2m-8-5h2m9 0h2m-8-2h2m-1 6h2m0 7h2m-5-5h2m-6-4h2m1 1h2m5-1h2m-5 4h2m-2-1h2m-7 2h2m1-8h2m-2 7h2m1-4h2m-9 3h2m3 5h2m-4-9h2m-7-1h2m-3-7h2m4 10h2m4-3h2m-6 2h2m-7-1h2m1 0h2m-1 3h2m-7-3h2m5-2h2m0 0h2m-5 3h2m-4-2h2m-1 2h2m0-9h2m-3 10h2m-6 2h2m-1-2h2m5 5h2m-10-2h2m1 8h2m1-14h2m-4 4h2m-3-8h2m-2 3h2m-2 7h2m1-5h2m-6-6h2m1 10h2m-3-5h2m-10 3h2m8 5h2m-5-2h2m-8 2h2m10-8h2m-12 3h2m5-2h2m-14 6h2m11-5h2m-3-3h2m-8-3h2m3 2h2m-1 5h2m-7-2h2m-2-8h2m1 8h2m-1-4h2m-6 1h2m-3 4h2m1-5h2m-4 13h2m4-6h2m-6-4h2m-3 0h2m-7-3h2m2 11h2m-3-13h2m2 7h2m-4 0h2m-5 5h2m7-7h2m-7 2h2m-2 1h2m-10-4h2m7 4h2m-11 2h2m7-7h2m-4 7h2m-6 0h2m7 6h2m-1-11h2m-2-3h2m-5 8h2m-8-3h2m0-2h2m5 3h2m-7 2h2m-3 2h2m-5-7h2m-1-1h2m-1 3h2m1-1h2m-5-2h2m5 4h2m-7-6h2m-7 5h2m4 3h2m-3-1h2m-3-4h2m-3 1h2m2 7h2m-5-5h2m3-8h2m-6 7h2m-2-2h2m-5 3h2m-3-1h2m3-2h2m-5 1h2m2-1h2m-7 5h2m5-7h2m-1 0h2m-3 9h2m-5-1h2m-1 1h2m-3-2h2m1-4h2m-15 0h2m4 5h2m6-7h2m-5-1h2m-2 7h2m-5-2h2m1 4h2m-2-8h2m-10 1h2m-1-3h2m9 8h2m-13-3h2m4-3h2m-8 3h2m4 5h2m-7-8h2m4 4h2m-10-1h2m2 3h2m3-1h2m-5-2h2m-2 0h2m-6-2h2m2 5h2m0 3h2m-8-12h2m1 9h2m-10-3h2m11-7h2m-11 0h2m-5 5h2m5 3h2m3 5h2m-10-4h2m0-6h2m2-2h2m-8 8h2m-3-3h2m1 2h2m-8-8h2m8 4h2m-6 9h2m0-3h2m-5-7h2m2 4h2m-8-6h2m-1 5h2m-1 2h2m-6-5h2m8 8h2m-2 0h2m-1-3h2m-5 5h2m2-13h2m-7 10h2m-7-2h2m6 1h2m-1-11h2m-9 9h2m-1-1h2m5 1h2m-4 3h2m-2-1h2m0-2h2m-15-2h2m9 6h2m-8-3h2m4-3h2m-2 1h2m-1 7h2m1 3h2m-12-7h2m-5-11h2m13 2h2m-24 2h2m8 4h2m7 3h2m-1 3h2m-6-6h2m3 4h2m-6-6h2m1-9h2m-14 12h2m4 5h2m8-13h2m-8 8h2m5 7h2m-3-7h2m-28 7h2m12 1h2m6-7h2m-18-4h2m17 6h2m-13-7h2m3-2h2m-8 6h2m0-3h2m-1 3h2m4 2h2m-4-2h2m0-2h2m1 4h2m-6-5h2m-9 5h2m5 0h2m-17-2h2m16-2h2m-8 4h2m-1-14h2m-4 13h2m-14-5h2m16-4h2m-16 11h2m6-7h2m-3-13h2m11 26h2m-15-9h2m2 3h2m-5-8h2m1-1h2m-3 4h2m-6 7h2m-2-1h2m6 1h2m-16-4h2m8 0h2m0 0h2m-3 10h2m-2-16h2m4 12h2m-22 0h2m5-7h2m1 1h2m3 7h2m-9-7h2m5-2h2m-15 7h2m4-1h2m-4-8h2m7 3h2m-8 6h2m10 4h2m-10-12h2m-2 1h2m-7 9h2m-13-4h2m13-2h2m3 5h2m-7 1h2m2-9h2m-2 4h2m-5-9h2m-9-3h2m-3 9h2m5 1h2m-3-8h2m2 16h2m-10-9h2m4-2h2m1-4h2m1 0h2m-4 8h2m-13 1h2m5-8h2m0-2h2m-6 5h2m-14 1h2m12 0h2m11 1h2m-10 0h2m18-1h2m-12 1h2m-14 1h2m31 2h2m-16-4h2m-2 0h2m-2 4h2m0-3h2m-20 0h2m-6 0h2m13 0h2m2 1h2m8-5h2m-15 2h2m-2 1h2m14-3h2m-18 5h2m-2-1h2m-12 1h2m9-2h2m-6 1h2m-11 1h2m-5 2h2m20 1h2m0-7h2m-16 6h2m2-8h2m10 2h2m-16 2h2m-10 1h2m-7 0h2m18 1h2m-11 1h2m17-1h2m-24 3h2m15-5h2m-4 4h2m-20-7h2m19 2h2m-18 6h2m-2-5h2m-5 3h2m14 5h2m-19-9h2m17 5h2m-24-5h2m23 2h2m-3-3h2m-18 4h2m-13 2h2m22-3h2m8-2h2m-9 8h2m-22-1h2m1-8h2m15 6h2m-9 0h2m6-4h2m-4 3h2m-5 1h2m8-7h2m-32 9h2m7-8h2m-7 3h2m-8 2h2m0-3h2m1 2h2m4 1h2m20-4h2m-5 5h2m-21 2h2m19-8h2m-4 8h2m-5-2h2m-18-2h2m0-3h2m16-2h2m-6 7h2m-11 1h2m7-8h2m-23 6h2m10-5h2m-3 2h2m6 0h2m-25 2h2m1-1h2m8 3h2m17-5h2m-5-1h2m-13 3h2m-6 0h2m9 2h2m-17 1h2m9-7h2m0 1h2m-1 4h2m-13-1h2m16 4h2m-1-12h2m7 7h2m8 6h2m-40-6h2m11-7h2m18 1h2m1 13h2m-28-7h2m-7-9h2m13 12h2m-12 1h2m9-13h2m9 2h2m-11 4h2m1-1h2m2 6h2m-5 0h2m-23-1h2m11 0h2m2-3h2m3 1h2m0-3h2m-10 6h2m-8 2h2m7-7h2m2-3h2m-12 0h2m6 10h2m-9-9h2m-14-1h2m-4 10h2m14-10h2m1 6h2m2-5h2m-6-3h2m19-5h2m-42 6h2m7 5h2m7 0h2m-6 1h2m-21-3h2m25-1h2m0 4h2m3-2h2m-24 0h2m0 0h2m21 1h2m-29-8h2m22 6h2m-28 7h2m-4-2h2m22-2h2m-12 9h2m-12-8h2m13-3h2m10 6h2m-6-4h2m4 0h2m-15-1h2m-8-5h2m1 4h2m-4 2h2m12-7h2m12 4h2m-33-2h2m6 5h2m2-7h2m-1 13h2m-9-7h2m8-2h2m-25 4h2m5 1h2m16 5h2m-6-14h2m-24 5h2m1-5h2m-2 8h2m-20-14h2m17 7h2m16 10h2m-1-7h2m5 3h2m-13 3h2m4-6h2m-23 6h2m10 3h2m14-16h2m-27 17h2m4-12h2m-9 5h2m8-2h2m-25 10h2m8-2h2m19-10h2m-33-1h2m15 3h2m-5-1h2m1 1h2m6 0h2m-12 0h2m2-7h2m7 12h2m-25-11h2m21 14h2m0-6h2m-8 4h2m-17-5h2m17-5h2m-15 4h2m-17 0h2m43 2h2m-37 2h2m-7-4h2m8-2h2m1 7h2m14 0h2m-31-2h2m10-3h2m-7-7h2m8 11h2m16 5h2m-16-9h2m-16 0h2m-13 6h2m0 0h2m25-5h2m-3-1h2m-26-2h2m-8 0h2m24 5h2m-9 1h2m6 6h2m-11-4h2m-15-1h2m3-6h2m28 5h2m-14-4h2m-20-5h2m16 8h2m-13-5h2m-5-5h2m24 7h2m-34-7h2m-2-1h2m18 8h2m-12-3h2m6-1h2m-3 11h2m-15-3h2m5-1h2m-1-1h2m5-3h2m-13 2h2m3 6h2m-2 1h2m-7-9h2m-4-7h2m-4 9h2m11 5h2m-6-11h2m17 9h2m-37-8h2m18 13h2m-11 0h2m11-7h2m-8 5h2m-2-4h2m-22-2h2m-11-2h2m25 2h2m-22-4h2m16-2h2m-4 15h2m-17-9h2m8-3h2m3 4h2m4 1h2m3 3h2m-36-9h2m15 1h2m8 5h2m0 3h2m-7-8h2m-9-4h2m17 5h2m-17 2h2m13 6h2m-13 1h2m12-5h2m-9-6h2m0 2h2m-10 6h2m-16-4h2m21-1h2m-20 4h2m-1 0h2m25-4h2m-19 7h2m-26-12h2m8 9h2m11 1h2m10-5h2m-20-1h2m8 2h2m5 0h2m-10-9h2m-16 10h2m8 2h2m1-8h2m-11 0h2m-16 7h2m16-4h2m-20 9h2m-1-5h2m23 1h2m7-2h2m-15 3h2m-7-5h2m0-1h2m-6-1h2m-1 0h2m5-1h2m-13 9h2m-5-8h2m6 5h2m-7 0h2m4-4h2m0 1h2m7 2h2m-13-3h2m-2-1h2m0 5h2m-3-6h2m-18 5h2m32-1h2m-20 5h2m-15-4h2m29-2h2m0 6h2m-35-9h2m9-2h2m-18 8h2m12-3h2m-7 4h2m22 0h2m-3 0h2m-13-4h2m-18-2h2m13 7h2m-24-10h2m-1 11h2m29-3h2m-13 1h2m5 3h2m-15-10h2m3 14h2m-7-10h2m1 2h2m8-1h2m9-7h2m-21 10h2m1-11h2m-3 11h2m-5-5h2m-25 0h2m29-4h2m-10 8h2m8-10h2m-4 3h2m21 4h2m-41-1h2m-12-5h2m-4 6h2m29 1h2m-7-2h2m-11 2h2m-9-5h2m-23-6h2m27 15h2m-19-11h2m16 6h2m-16 1h2m35-7h2m-32 1h2m-8 1h2m13 8h2m4-16h2m-15 16h2m4 3h2m-7-5h2m-1-6h2m10 9h2m-20-17h2m1 2h2m8 6h2m-14 3h2m-7-2h2m26-1h2m-23 4h2m14-2h2m2-4h2m-14 6h2m-4 2h2m-21-3h2m37-3h2m-41 15h2m17-15h2m6-5h2m-3 15h2m19-5h2m-36 7h2m23-12h2m-35 1h2m6 13h2m13-2h2m-16-15h2m15 7h2m-13 1h2m9 3h2m-17 3h2m18-7h2m6-7h2m-28 3h2m-4-2h2m20 4h2m-16 4h2m21-3h2m-18 5h2m13-10h2m1 10h2m-53-6h2m12-4h2m6 4h2m19-6h2m-46 17h2m25-4h2m-18-8h2m22 3h2m-22-5h2m1 9h2m8 6h2m-16-4h2m2-8h2m-17 7h2m27-10h2m-18 4h2m8 0h2m-6 2h2m-7 8h2m0-7h2m16-1h2m-17-2h2m7 9h2m-21-11h2m9-1h2m-14 5h2m-10-3h2m23-1h2m-11 8h2m12 7h2m-8-3h2m-7-7h2m6-3h2m-1-3h2m-18 12h2m23-7h2m-34-5h2m14 0h2m-7 3h2m14 6h2m-4 3h2m-24-13h2m33 4h2m-14 6h2m2-11h2m-13 6h2m-15 6h2m29 0h2m-11-1h2m-15-1h2m-8-14h2m1 6h2m6 5h2m-28 1h2m29 3h2m-18-8h2m-8-2h2m21-8h2m-9 7h2m1-10h2m-15 15h2m2 4h2m24-11h2m-24 6h2m7 4h2m-17 5h2m18-6h2m-2-9h2m-7 6h2m-24 1h2m3-4h2m8 9h2m13-3h2m-22 2h2m17-3h2m-27 1h2m9 3h2m-16-2h2m20-1h2m-24 2h2m9-5h2m-9 7h2m7-12h2m-10 3h2m16 12h2m-17-10h2m-1 6h2m3-7h2m-18-2h2m10 3h2m-14 4h2m0-2h2m-1-4h2m1-3h2m-17 0h2m23-4h2m7 15h2m1-7h2m-37-5h2m14 13h2m14-7h2m-1 2h2m-8-2h2m-12 6h2m10-10h2m-11-7h2m11-1h2m-33 12h2m31 6h2m-22-4h2m-1 5h2m-7 3h2m13-9h2m-4 6h2m-10-7h2m-8-1h2m4 6h2m19-11h2m-20 10h2m-17-4h2m8 2h2m27-7h2m-31 3h2m-6-1h2m25 6h2m-14 1h2m-26-2h2m6 4h2m-8-15h2m3 16h2m-2-8h2m27 10h2m-1-4h2m-17-12h2m5 13h2m-36-16h2m25 11h2m-8 3h2m0-5h2m-13 7h2m16 4h2m10-6h2m-33 4h2m6-8h2m15 5h2m-16-3h2m-4-1h2m-2 0h2m4 7h2m-3-5h2m-10-1h2m-13 3h2m15-6h2m-5 1h2m2 5h2m10-3h2m-9 3h2m-1 1h2m-26-6h2m10 7h2m0-9h2m35 7h2m-34-6h2m-10 0h2m4-1h2m19-3h2m-37 10h2m10-4h2m0 1h2m6 8h2m-16-10h2m2 1h2m9-7h2m-9 15h2m1-1h2m7-9h2m-5-5h2m0 14h2m-16-11h2m3 2h2m1 13h2m1-6h2m-11 1h2m-17-12h2m16 10h2m-6-2h2m-24-1h2m31 1h2m-7 4h2m-12-1h2m3-7h2m4 0h2m0-4h2m-29 13h2m12-1h2m-3-14h2m6 7h2m7-5h2m-13-1h2m3 1h2m-19 7h2m-2 4h2m13 2h2m-17-1h2m-3-12h2m8-1h2m-11 12h2m20 0h2m-19-9h2m12 17h2m-22-11h2m27 5h2m-29-4h2m20 2h2m-29-10h2m4 2h2m-16 6h2m19-1h2m-3 2h2m-12-9h2m12 5h2m2-1h2m-8 2h2m2 2h2m-7 10h2m15-5h2m-6-15h2m-13 3h2m19 6h2m-15-1h2m-2-1h2m-19 9h2m20-11h2m11 12h2m-22-14h2m-13 2h2m21 2h2m-22 7h2m14-2h2m-12-5h2m4-1h2m-2 4h2m-1-5h2m-23 3h2m12 7h2m-2-8h2m-22 1h2m2 3h2m2 0h2m24 0h2m-11-4h2m-5 11h2m5-18h2m0 10h2m-16 4h2m1-4h2m-11-2h2m-11-3h2m22 4h2m0-4h2m-15 3h2m2-5h2m-11 2h2m-6-3h2m16-1h2m-25 8h2m26 7h2m-3-10h2m13-27h2m-17 7h2m-14-17h2m15 8h2m-11-1h2m-12-5h2m16 10h2m-17-2h2m3-32h2m1 27h2m15 14h2m-11-20h2m-4 3h2m-5 7h2m-15-5h2m22 14h2m-4-6h2m-25-5h2m13 3h2m-19-4h2m22-8h2m-15-4h2m-6 5h2m4 9h2m8-8h2m-19 14h2m6-14h2m0-7h2m-5 2h2m0 13h2m18-14h2m-18-8h2m-12 1h2m5 37h2m6-36h2m-13 10h2m0 8h2m3-7h2m4-7h2m-13 12h2m-1 4h2m-8 7h2m6 14h2m-12-24h2m5-16h2m-16 5h2m0 27h2m17-17h2m-18-5h2m31 1h2m-24 2h2m-4-6h2m3-5h2m-3 9h2m1 14h2m-20-19h2m19 11h2m-6 24h2m-8-25h2m1-14h2m-7 1h2m6 1h2m-6 20h2m-12 2h2m-12-2h2m28-1h2m-19 20h2m5-33h2m6-3h2m-24 14h2m20-20h2m-16-9h2m-10 32h2m13-4h2m-4-5h2m-13 2h2m10-21h2m13 29h2m-23 1h2m10-16h2m-4 1h2m3 25h2m-12-14h2m-15-16h2m5 27h2m4-8h2m-11-6h2m1 17h2m-3-37h2m19 3h2m-36 24h2m13-8h2m9 11h2m4 3h2m-11-12h2m-9 8h2m4-21h2m12 12h2m-34-6h2m-4-2h2m1-4h2m11 7h2m12 7h2m-38-18h2m28 7h2m-7 6h2m4-5h2m-22 6h2m17 15h2m-12-29h2m0 15h2m-3 6h2m8-17h2m-14 20h2m-2-13h2m0 8h2m-1 2h2m1-12h2m14-4h2m-17-3h2m-9 15h2m-3-14h2m-3-4h2m-8 1h2m8 33h2m-4-32h2m0 30h2m-15-8h2m2-18h2m-6 6h2m10 20h2m-5-17h2m-2-26h2m-2 11h2m9 9h2m-23 7h2m12-6h2m2 2h2m-13-7h2m4 6h2m-18 1h2m12 7h2m16-10h2m-17 4h2m-3-11h2m-9 6h2m6 12h2m8 3h2m-9-11h2m-1-5h2m3 17h2m5 1h2m3-29h2m-22 20h2m2 0h2m-7 11h2m6-4h2m-17-8h2m20-9h2m-16 31h2m0-37h2m-6 3h2m-9 26h2m3-5h2m3 1h2m11-3h2m-11-14h2m-4 2h2m-8 3h2m17-6h2m-16 10h2m-4-3h2m2-3h2m14 12h2m-20-13h2m14 5h2m-25-6h2m-13 0h2m14 8h2m-9-4h2m15 9h2m-10-8h2m-1 18h2m9-35h2m-11 16h2m-13 8h2m10-16h2m-8 18h2m12-22h2m-15 31h2m10-38h2m-24 33h2m-2-13h2m8 6h2m-2-3h2m12-5h2m-15 6h2m6 0h2m-14 8h2m2-3h2m-18-20h2m19 8h2m-14 23h2m-5-25h2m17 19h2m-28-17h2m19 18h2m5-20h2m-15-9h2m0 8h2m3-6h2m-16 3h2m7-18h2m-7 31h2m3 1h2m3-3h2m3-7h2m-7 20h2m-6-26h2m0 2h2m-10-1h2m1 12h2m-5-1h2m7 10h2m-21-15h2m-6 1h2m11 25h2m-3-4h2m1-14h2m-1 4h2m-6-7h2m-7-3h2m3 4h2m-4 4h2m5-1h2m3-5h2m-3-10h2m-8 3h2m-12-8h2m21 9h2m-18-3h2m-12 8h2m13 15h2m0-13h2m0-9h2m-9 16h2m3-4h2m2-5h2m-12-9h2m7-9h2m-10 24h2m-10-3h2m20-8h2m-16 23h2m-12-29h2m15-2h2m4 6h2m-10 23h2m-2 11h2m10-45h2m-21 4h2m-9 7h2m-4 10h2m-6 14h2m22-38h2m-4 12h2m-2 9h2m-12 0h2m-9-7h2m13 7h2m-8-20h2m-8 19h2m17 14h2m-5 0h2m0-3h2m-2-21h2m-10 7h2m-13 21h2m7-39h2m3 32h2m12-6h2m-20-16h2m-17 22h2m22-5h2m-25-26h2m18 14h2m-17-9h2m16 14h2m-4 1h2m-12 5h2m10-8h2m-16-11h2m9-4h2m3 15h2m-18 1h2m19 2h2m-24 7h2m-13-8h2m15 4h2m-10 5h2m0-11h2m5-3h2m-2 1h2m7-4h2m-6 17h2m-14 1h2m-6-14h2m3 2h2m2 12h2m17-6h2m-21-7h2m10 15h2m-28-22h2m0 26h2m18-26h2m-13-2h2m-15 28h2m15 0h2m19 1h2m-20-16h2m-17-8h2m15 15h2m-1-5h2m1-10h2m-17 17h2m8-15h2m4 15h2m-17-9h2m7 4h2m-4-3h2m-5-20h2m-4-2h2m3 19h2m-6-8h2m4-3h2m2 24h2m-6-22h2m-7 0h2m-13 24h2m19-4h2m1-14h2m-6 0h2m-29-1h2m29 17h2m-17 3h2m-4-30h2m6 26h2m-14 3h2m30 10h2m-15-14h2m-8 3h2m-4-6h2m-7-13h2m15 5h2m-24-3h2m-11 10h2m16-6h2m-4 7h2m0-25h2m11 1h2m-10 33h2m-6-23h2m1 6h2m0 12h2m-23-8h2m13-15h2m-5 26h2m18-20h2m-19 8h2m2 8h2m-8-27h2m1 23h2m7 20h2m-5-17h2m-3 1h2m-5-5h2m-8-18h2m21 16h2m-26 2h2m-2 5h2m-2-8h2m-3-1h2m11 12h2m-2 21h2m-12-33h2m8-1h2m-7-5h2m-11 4h2m0 8h2m4-6h2m-7-11h2m5 2h2m9 4h2m-29 5h2m20-7h2m1-8h2m-7 14h2m-8-10h2m-5 3h2m6 2h2m-17 9h2m-12 3h2m8-4h2m23 0h2m-16-10h2m-2 14h2m-16-14h2m-4 9h2m3 20h2m13-20h2m-15 15h2m11-13h2m-20 0h2m17 8h2m-1-13h2m1-1h2m-4 15h2m-22-10h2m19 0h2m-20-12h2m11 6h2m1 4h2m-4-1h2m-14-5h2m11 10h2m-10-3h2m-5 6h2m-16 8h2m24-13h2m-11-12h2m0 17h2m6 1h2m-20-26h2m-11 17h2m13-1h2m-21 9h2m34 8h2m-5-21h2m-18-10h2m7 30h2m-9-23h2m24 6h2m-23-5h2m-13-15h2m1 20h2m7-3h2m-14 14h2m12-14h2m-24 26h2m11-13h2m-9-8h2m-15 13h2m20-8h2m4 0h2m-7-16h2m-3-3h2m-6 7h2m12 17h2m-12-1h2m10-21h2m9 3h2m-16-3h2m-1 8h2m-5 3h2m9 6h2m-25-23h2m-5 1h2m9 29h2m-1-13h2m-6 5h2m3-6h2m-9 23h2m5-14h2m-17 7h2m11-6h2m-6 4h2m0-24h2m14 14h2m-9 2h2m-15-13h2m-21 8h2m28 19h2m-2-7h2m-15 1h2m-6-9h2m2-11h2m-4 22h2m14-13h2m-22-5h2m-5-5h2m17 4h2m-27 44h2m26-38h2m12-14h2m-21 12h2m0 14h2m-4-10h2m-2 4h2m5-20h2m-12 15h2m-9 23h2m16-16h2m-12-17h2m1 11h2m-4 23h2m-1-19h2m-9-7h2m1 18h2m-8-5h2m12-11h2m-9-12h2m-2 17h2m2 0h2m-5-1h2m-27-15h2m8 7h2m3 13h2m17-10h2m1 19h2m-5-6h2m-30 0h2m13-4h2m1-17h2m-1 13h2m-11-9h2m9 29h2m3-17h2m-9 9h2m-10 0h2m16-1h2m-27-7h2m26-20h2m-7 22h2m-19-18h2m4 17h2m-7-12h2m-6-20h2m15 28h2m-6-15h2m-16 2h2m15 3h2m-11 27h2m-4-7h2m-4-16h2m9 21h2m0-3h2m-2-6h2m-1 9h2m-5-3h2m-13-8h2m8 12h2m-1-11h2m-7-2h2m7 1h2m-6 1h2m-9 1h2m0 12h2m5-7h2m-2-1h2m-6 10h2m-6 4h2m2-1h2m-9-8h2m3 9h2m1-16h2m7 10h2m-16 3h2m6-1h2m3-5h2m-18 6h2m8-10h2m-13-4h2m4 25h2m-2-17h2m1 1h2m-10-5h2m1 14h2m-2-14h2m0 1h2m-4 10h2m6-3h2m-5 3h2m-5 0h2m4-8h2m-6 4h2m-3-13h2m-5 9h2m3-2h2m2-5h2m-14 8h2m0 2h2m5-5h2m-4-3h2m-1 2h2m-9-2h2m5 4h2m0 0h2m2 7h2m-7-7h2m-5 3h2m-8 4h2m3-17h2m0 2h2m-5-3h2m-2 7h2m8 1h2m-19 18h2m9-18h2m-3 10h2m-1-6h2m-3-12h2m5 5h2m-7 10h2m-8-11h2m5 2h2m-10 9h2m8-4h2m-8 11h2m-18-14h2m20 5h2m-8 8h2m-9-8h2m-3 1h2m-3 1h2m2-6h2m11 1h2m-8-1h2m-1 5h2m-4-5h2m-5-4h2m-2 7h2m4 5h2m-5 3h2m-1-1h2m-8-19h2m-1 16h2m5-4h2m-10-2h2m2-5h2m-8-4h2m3 7h2m3 2h2m-7-2h2m1 1h2m-9 1h2m0 4h2m1 8h2m-6-3h2m12 5h2m-11-12h2m-7 6h2m1 0h2m-5-1h2m-2-5h2m7-2h2m-9-3h2m1-9h2m-6 17h2m6-1h2m-4-7h2m-9-1h2m-3 3h2m8 8h2m-19-15h2m21 6h2m-24 12h2m9-8h2m-3 5h2m-2-3h2m0-2h2m-6-7h2m-2 13h2m-2-12h2m7 11h2m-12-9h2m2 11h2m1 2h2m-5-8h2m-8-2h2m7-4h2m-3 12h2m-5-1h2m-6-13h2m2 9h2m-8 5h2m3-10h2m-4 2h2m-3-3h2m0-4h2m6 11h2m-5 3h2m8-8h2m-15 6h2m4-7h2m4 26h2m-36-26h2m18-31h2m-9 37h2m26 22h2m-24-9h2m-27-53h2m23 27h2m-11-25h2m-26 62h2m45-49h2m-13 46h2m5-11h2m-35-41h2m-9 42h2m58-14h2m-39-22h2m-13 33h2m27-1h2m-17-43h2m-33-15h2m58 32h2m3-17h2m-56 16h2m7-5h2m-28 38h2m62-27h2m-51 4h2" stroke="#2c44c0" stroke-opacity=".5" stroke-width="1.5"/>
<ellipse cx="444.3" cy="542.7" rx="3.4" ry="3.5" fill="url(#gH)"/>
<ellipse cx="466.3" cy="541.2" rx="7" ry="3.2" fill="url(#gM)"/>
<ellipse cx="471.3" cy="523.9" rx="2.5" ry="2.5" fill="url(#gVL)"/>
<rect x="431.5" y="504.5" width="55" height="51" fill="none" stroke="#999" stroke-width="1"/>
<line x1="458.1" y1="504.5" x2="458.1" y2="555.5" stroke="#666" stroke-width="1"/>
<line x1="431.5" y1="533.5" x2="486.5" y2="533.5" stroke="#555" stroke-width="1"/>
<text x="433.3" y="511" font-size="6.3" text-anchor="start" fill="#231f20">0,17</text>
<text x="484.5" y="511" font-size="6.3" text-anchor="end" fill="#231f20">14,9</text>
<text x="433.3" y="552" font-size="6.3" text-anchor="start" fill="#231f20">34,3</text>
<text x="484.5" y="552" font-size="6.3" text-anchor="end" fill="#231f20">50,7</text>
<text x="444.6" y="562.8" font-size="6.3" text-anchor="middle" fill="#231f20">0</text>
<text x="462.3" y="562.8" font-size="6.3" text-anchor="middle" fill="#231f20">10<tspan font-size="4.4" dy="-2.4">3</tspan></text>
<text x="475.9" y="562.8" font-size="6.3" text-anchor="middle" fill="#231f20">10<tspan font-size="4.4" dy="-2.4">4</tspan></text>
<text x="429.5" y="516.9" font-size="5.9" text-anchor="end" fill="#231f20">10<tspan font-size="4.2" dy="-2.4">4</tspan></text>
<text x="429.5" y="529" font-size="5.9" text-anchor="end" fill="#231f20">10<tspan font-size="4.2" dy="-2.4">3</tspan></text>
<text x="427.3" y="544.8" font-size="6.3" text-anchor="end" fill="#231f20">0</text>
<line x1="429.9" y1="514.8" x2="431.3" y2="514.8" stroke="#333" stroke-width="0.6"/>
<line x1="429.9" y1="527.2" x2="431.3" y2="527.2" stroke="#333" stroke-width="0.6"/>
<line x1="429.9" y1="540" x2="431.3" y2="540" stroke="#333" stroke-width="0.6"/>
<line x1="429.9" y1="542" x2="431.3" y2="542" stroke="#333" stroke-width="0.6"/>
<line x1="429.9" y1="544" x2="431.3" y2="544" stroke="#333" stroke-width="0.6"/>
<line x1="442.9" y1="555.1" x2="442.9" y2="556.5" stroke="#333" stroke-width="0.6"/>
<line x1="444.3" y1="555.1" x2="444.3" y2="556.5" stroke="#333" stroke-width="0.6"/>
<line x1="445.7" y1="555.1" x2="445.7" y2="556.5" stroke="#333" stroke-width="0.6"/>
<line x1="461.1" y1="555.1" x2="461.1" y2="556.5" stroke="#333" stroke-width="0.6"/>
<line x1="474.5" y1="555.1" x2="474.5" y2="556.5" stroke="#333" stroke-width="0.6"/>
<ellipse cx="78.55" cy="606.8" rx="4.2" ry="4.2" fill="#3f5fd0" fill-opacity="0.5" filter="url(#bl)"/>
<ellipse cx="89.25" cy="606.8" rx="9" ry="1.8" fill="#3f5fd0" fill-opacity="0.22" filter="url(#bl)"/>
<ellipse cx="105.75" cy="603" rx="4" ry="4" fill="#3f5fd0" fill-opacity="0.3" filter="url(#bl)"/>
<ellipse cx="106.75" cy="587.5" rx="4" ry="6" fill="#3f5fd0" fill-opacity="0.25" filter="url(#bl)"/>
<path transform="scale(.5)" d="M159 1222h2m-6-5h2m-3-6h2m6-2h2m-11 8h2m-1-9h2m2-2h2m-3 4h2m0-4h2m-3 5h2m-4 0h2m-4 6h2m-1-8h2m-1-1h2m0 4h2m-5 6h2m4-1h2m-7-12h2m3 12h2m-3-4h2m-3-4h2m-10-3h2m6 11h2m-13 0h2m7-4h2m-10 1h2m7-6h2m-1-2h2m-5 10h2m-4 1h2m0-2h2m-4-4h2m-2 4h2m-4-1h2m1-3h2m2 4h2m-8-10h2m0 4h2m-3 5h2m-4 5h2m2 0h2m-3-11h2m-1 6h2m-1 7h2m3-12h2m-11-2h2m2 4h2m-5 2h2m0-4h2m0 4h2m-2-1h2m-3-4h2m-7 0h2m3 8h2m-1-7h2m-3 10h2m0-3h2m-4-2h2m4 4h2m-6 2h2m-6-11h2m2 1h2m1 1h2m-9 10h2m-7-5h2m2 0h2m-3 3h2m-2-9h2m5 4h2m-8-8h2m5 16h2m-9-7h2m8 1h2m-11 2h2m1-5h2m-9-4h2m-4 8h2m5 2h2m0-6h2m-3 2h2m-3-10h2m1 14h2m2-2h2m-10-2h2m1 4h2m-2-6h2m0-7h2m-7 8h2m-3 3h2m3 5h2m-9-5h2m1-7h2m-4 3h2m7 0h2m-5-5h2m-3 12h2m-1-6h2m-10-1h2m4-1h2m-1-5h2m-7-2h2m12 4h2m-16 4h2m-5-3h2m6 8h2m-5-6h2m5-2h2m-11 3h2m-2-3h2m-1 0h2m5 4h2m-10-3h2m-2 8h2m6-3h2m-5 2h2m3-14h2m-7 5h2m-4 5h2m-6 0h2m5-3h2m-2 5h2m-2 0h2m-5-4h2m-2-1h2m-6 8h2m0-10h2m5-7h2m-4 11h2m-2 0h2m-14 5h2m5-8h2m0 7h2m-3-1h2m-4-8h2m4 4h2m-5 8h2m0-5h2m0 5h2m-7-7h2m3-3h2m-5 1h2m1 5h2m-10 1h2m9-7h2m-18 1h2m6 7h2m1-9h2m-1 11h2m-4-2h2m-2-12h2m-5 12h2m6-10h2m-3 8h2m-2-4h2m-7-3h2m6 10h2m-11-5h2m0-1h2m1-5h2m-6 8h2m-6-2h2m3-2h2m3-2h2m-12 4h2m-2 3h2m3-3h2m-1 1h2m-1-5h2m-8 6h2m-3-5h2m4 4h2m-7 2h2m1-2h2m-7-4h2m8 1h2m-10 6h2m2-2h2m-3-1h2m7-3h2m-9 4h2m1 1h2m-9-5h2m-7-2h2m8 3h2m-13-1h2m11 1h2m-5 8h2m-2-4h2m-2-1h2m-4 1h2m-5 2h2m8-5h2m-9 3h2m-5 1h2m-1-1h2m0-1h2m4 7h2m-8-12h2m-4 4h2m0 11h2m-5-7h2m-2 1h2m-5-6h2m9-4h2m-6 4h2m-9 0h2m4 2h2m1 2h2m-9-8h2m0 6h2m3-6h2m-3 7h2m-6-9h2m2 10h2m-11-11h2m4 13h2m2-7h2m-4 0h2m-3 6h2m-4-15h2m1 3h2m0-3h2m5 14h2m-15-10h2m3 9h2m-3 5h2m-2-8h2m-6-1h2m15-1h2m-15-3h2m2 3h2m-13 0h2m10 12h2m-8-4h2m-4-12h2m2 10h2m-3-8h2m-5 7h2m4-6h2m-8 3h2m7-2h2m-8 2h2m-4-4h2m0 9h2m-6-9h2m6 5h2m-1-1h2m-8-5h2m1 6h2m-5-6h2m-6 6h2m4 1h2m0-4h2m-7-4h2m1 0h2m-7 0h2m1 6h2m6-4h2m-12-4h2m0 7h2m1-1h2m3 6h2m-13-4h2m2 1h2m-9-3h2m7 3h2m-8 3h2m-1 0h2m3-7h2m-5 6h2m0-5h2m-8 2h2m2-3h2m-8 6h2m6-2h2m-5-5h2m0-5h2m3 7h2m-7-2h2m-7 10h2m4-6h2m-3-1h2m-10 6h2m6-4h2m-2 1h2m-4-2h2m-1 7h2m1-7h2m-11 0h2m8-3h2m-3 3h2m0 2h2m-6-8h2m-5 2h2m-2 3h2m-8 6h2m5-5h2m-3-6h2m0-1h2m-11 13h2m14-5h2m-4 1h2m-6-3h2m4 3h2m-8-6h2m0 7h2m4-9h2m-9 6h2m-4 1h2m2-1h2m-10-5h2m4 3h2m-7 6h2m1-9h2m-5 6h2m4-1h2m-7 3h2m3-12h2m-3 6h2m-5-4h2m-1 5h2m-9-3h2m11-7h2m-9 16h2m-1-2h2m0-7h2m-10 0h2m0 3h2m0-1h2m0 5h2m-9-6h2m5 3h2m8 0h2m-11 4h2m-7 2h2m0-3h2m-3-6h2m2 6h2m-2-1h2m1 0h2m-2-1h2m-5 5h2m1-5h2m-5 6h2m-2-7h2m-3 9h2m6 0h2m3-22h2m-21 8h2m8 10h2m-5 3h2m-11-8h2m1 1h2m12-12h2m-2 12h2m-7-6h2m-9 2h2m8 3h2m4 2h2m-8 4h2m-18-5h2m13 3h2m-4-4h2m-12-1h2m10-10h2m-7 17h2m-3-2h2m0-8h2m-6 6h2m11-1h2m-1-1h2m-13 7h2m2-8h2m-17 0h2m3 8h2m14-4h2m-1-10h2m-24 1h2m16 1h2m-8-1h2m-3 13h2m8-4h2m-6-6h2m-11 7h2m5-9h2m4 10h2m-14-1h2m5-6h2m-8 8h2m-4 0h2m0 3h2m5-12h2m-9 0h2m-1 5h2m-11-3h2m0 4h2m1-10h2m9 14h2m-3-9h2m-6-2h2m5-6h2m-12 16h2m11-6h2m-15 10h2m5 0h2m2-18h2m-2 9h2m7-1h2m-22-4h2m9-2h2m-15 1h2m4 10h2m-16-4h2m17-8h2m-13 5h2m-14 1h2m8 5h2m11-8h2m-7-1h2m-12 4h2m14-3h2m-7 6h2m3-3h2m0 2h2m-9 7h2m-6-11h2m5-1h2m-5 6h2m-4-2h2m-4-3h2m-8 9h2m21 2h2m-1-6h2m-12 3h2m-4 3h2m-6-7h2m-5 6h2m1-7h2m2 5h2m-7 4h2m-16-12h2m18 2h2m2 2h2m25 1h2m0-1h2m-16-1h2m-12 0h2m20-3h2m-23 5h2m2-2h2m8-5h2m-10 2h2m-7 1h2m3-2h2m-13 4h2m8 2h2m17-5h2m-31-1h2m-2 5h2m13-4h2m11 2h2m-11 4h2m-8-3h2m-20 1h2m29 0h2m-4 1h2m-10 3h2m-17-10h2m5 5h2m14 2h2m-3-1h2m-6-1h2m-9 3h2m9-5h2m-31 3h2m16 3h2m13 0h2m-13-4h2m-15 0h2m13 1h2m-14-2h2m8 1h2m-11-3h2m3 5h2m-18-4h2m15 7h2m-13-6h2m14 3h2m-4-9h2m-2 10h2m1-1h2m-14 1h2m17 2h2m-8-7h2m-11 0h2m-18 1h2m11-2h2m-14 6h2m28-5h2m-24 2h2m8 2h2m-4-2h2m-14 3h2m23-1h2m-13-5h2m-11-1h2m17 5h2m-32 6h2m48-15h2m1 6h2m-14-3h2m11 3h2m-5-8h2m2 10h2m-5-13h2m-3 9h2m1 3h2m-10-5h2m5 1h2m0-14h2m3 19h2m-13-10h2m-1 4h2m8-8h2m-8 1h2m-5 9h2m-5-4h2m-7 0h2m2 1h2m-3-10h2m-1 8h2m-4-5h2m1 15h2m0-6h2m-5-5h2m-2 9h2m-3-9h2m-5-5h2m6 13h2m-4-1h2m-3-13h2m-2 8h2m-6 6h2m2-8h2m5 0h2m-15 2h2m5-3h2m-6 11h2m6-7h2m-8 3h2m-7-1h2m3-4h2m6-6h2m-7 8h2m-11 4h2m9 4h2m-8-7h2m1 2h2m2 2h2m-11 0h2m0 2h2m5-6h2m0 0h2m-8-5h2m0 7h2m-9-4h2m-5 0h2m3-1h2m12 9h2m-15-8h2m-3 12h2m-2-12h2m0 3h2m-4-2h2m-3-2h2m-2-2h2m2 5h2m-7 5h2m-7 0h2m-2-11h2m14 10h2m-9-19h2m-12 8h2m4 6h2m7 4h2m-11 6h2m2-10h2m-4 3h2m-3 9h2m7-13h2m-10 3h2m5 3h2m-12-7h2m5-7h2m1 2h2m-8 20h2m-2-12h2m-5 0h2m7 5h2m-9-7h2m5 0h2m-4 2h2m-12 0h2m6-4h2m-4 12h2m7-1h2m-5-11h2m-9-1h2m-1 2h2m2 11h2m-1-14h2m-5 13h2m-6 10h2m-11-18h2m13-3h2m-6-4h2m-4 10h2m-7-1h2m8-6h2m-1 1h2m-2 0h2m1 1h2m-1-2h2m-6-1h2m-3 2h2m-1 8h2m-2 0h2m-3-11h2m-9 4h2m7 3h2m-5 2h2m4-12h2m-6-1h2m0 22h2m-4-13h2m-3-3h2m-5 4h2m7 7h2m-9-15h2m-8 12h2m5-2h2m-2-6h2m1 4h2m-9-11h2m-3 10h2m-12 1h2m9-5h2m-6-4h2m14 1h2m-9 7h2m0 5h2m-12-1h2m3-4h2m5-7h2m-5-1h2m-4-2h2m5 10h2m-12 4h2m-13-3h2m11 5h2m-11-10h2m8 10h2m-7-2h2m-1-12h2m-5 17h2m8-9h2m-4-2h2m8-4h2m-16 10h2m-5-8h2m3 17h2m-6-20h2m-4 6h2m-1 5h2m2-10h2m-7 14h2m-1-2h2m-4 1h2m0-6h2m10-6h2m-7-2h2m-11 10h2m-3-4h2m-1 2h2m-5-4h2m3 4h2m0-5h2m5-1h2m-9 10h2m-4-1h2m-2-3h2m5-3h2m-9 8h2m2-3h2m-4-4h2m-11 5h2m5 2h2m8-2h2m-15-3h2m5-10h2m-6 12h2m9-3h2m-8 5h2m-4 0h2m2 4h2m-5-12h2m-3 5h2m-5-3h2m10-18h2m-15 22h2m1-4h2m1 6h2m8-6h2m-15-1h2m2 4h2m4 1h2m-15-12h2m2 12h2m-3-5h2m-5 14h2m17-19h2m-19 8h2m0-2h2m-9-5h2m1 1h2m-2 7h2m1-8h2m9 10h2m-11-4h2m-4 4h2m2-7h2m-7 0h2m-4 9h2m-4 5h2m21-16h2m-20 1h2m-1 0h2m-2 8h2m-4-6h2m-1 0h2m-2-4h2m13 3h2m-17 3h2m-8 1h2m7-4h2m3 4h2m-15 2h2m23-6h2m-15-1h2m3 7h2m-6 3h2m0-6h2m-10 6h2m-3-3h2m-2 2h2m-3 0h2m-1-7h2m-8 8h2m11 5h2m-14-10h2m-5 1h2m8 3h2m-10-9h2m7 13h2m-2-4h2m3-4h2m-6 3h2m-6-4h2m-2 0h2m5 10h2m-14-20h2m5 10h2m-9-3h2m3 13h2m2 6h2m4-16h2m-19-5h2m11 6h2m-4-7h2m-13 10h2m4 0h2m2 0h2m1-9h2m-5-27h2m4 5h2m-10-10h2m3 2h2m5 4h2m-8 4h2m-5-10h2m1-2h2m-9 8h2m5 3h2m-5-2h2m-10-2h2m-3 14h2m1-1h2m-1-23h2m-1 13h2m-4 0h2m6-8h2m-2-5h2m-12 21h2m8-8h2m-15-1h2m14 8h2m-5-1h2m-17-10h2m-1 1h2m12-3h2m1 13h2m-8 6h2m2-17h2m-10 9h2m16-2h2m-10 1h2m-10 2h2m0-12h2m-1 13h2m1-4h2m-4-9h2m2 20h2m2-29h2m-16 22h2m3-15h2m2 6h2m-18-1h2m17-8h2m-12-1h2m1 6h2m-10 7h2m-1-4h2m3-10h2m8 3h2m-10 9h2m0 1h2m2 9h2m-3-8h2m-2-7h2m0 2h2m-10 7h2m3 4h2m-1-9h2m-4 4h2m-7-9h2m-6 19h2m11-7h2m-8-9h2m-8-11h2m-3 1h2m6 17h2m-8-17h2m4 9h2m-8 10h2m-4-12h2m7-2h2m3 9h2m-12-7h2m7-1h2m-12 4h2m3 0h2m-2-11h2m2 8h2m-15 9h2m6-13h2m-9 6h2m3 1h2m-2-6h2m-4 1h2m4 6h2m-5-2h2m-2-2h2m-4 2h2m6-11h2m-18 15h2m8-9h2m3 13h2m-14-22h2m12 16h2m-5-10h2m-11 18h2m1 1h2m-5-6h2m1 5h2m7-13h2m-7-2h2m1 20h2m-6-17h2m-3 6h2m-8 2h2m8-19h2m-13 9h2m6-2h2m-7 8h2m10 2h2m-20-1h2m13 3h2m-6-18h2m1 10h2m-14 5h2m3-2h2m1-1h2m-1 5h2m9-3h2m-13-9h2m-5 6h2m-5 12h2m-2 1h2m7-4h2m1-5h2m-6 2h2m-5-13h2m-6 5h2m10-4h2m-10 5h2m-7 8h2m6-7h2m-7-5h2m5 14h2m-5-15h2m-5 3h2m-4 9h2m2 10h2m7-27h2m-8 10h2m-1-6h2m1 18h2m-10-5h2m-5 2h2m-3-8h2m10 0h2m-7 2h2m-13-1h2m3-3h2m-7 1h2m10 6h2m-6-8h2m6 14h2m-12-17h2m3 1h2m4 5h2m-12-7h2m6 13h2m-14 6h2m3-17h2m-13 0h2m0 6h2m-1-8h2m14 19h2m-23-13h2m5-5h2m2 1h2m-6 16h2m13-2h2m-18-12h2m11 8h2m-28 1h2m17 5h2m1-11h2m-9-4h2m6 8h2m-13 1h2m-12-8h2m18 10h2m0-14h2m-8 20h2m3-6h2m-10-9h2m8 5h2m-3 9h2m0-8h2m-6-1h2m-20-1h2m19 2h2m-5 8h2m-10-5h2m-1-1h2m-3-12h2m7-4h2m-2 18h2m-13-18h2m-3 22h2m7-19h2m-4 12h2m5-5h2m0 19h2m-21-35h2m-2 19h2m0-4h2m4 7h2m3-2h2m-10-3h2m14 8h2m2-9h2m-29-6h2m9 14h2m1-2h2m9-8h2m-11-6h2m-13 17h2m3 3h2m-1 0h2m-13-3h2m18-4h2m-3 8h2m-11-14h2m-5-4h2m13 8h2m-5-1h2m-13 13h2m1-7h2m11-11h2m-13 8h2m-3-13h2m-9 17h2m3 7h2m6-11h2m1 9h2m-8-8h2m-4-3h2m-4 1h2m6-8h2m-15 0h2m8 14h2m0-11h2m-9-8h2m-13 15h2m19-22h2m-16 10h2m4 8h2m-7-4h2m-1 3h2m5 4h2m-11-6h2m10 13h2m-6-6h2m1 3h2m-9 5h2m-2-1h2m6-10h2m-6-6h2m-16 13h2m3-14h2m7 2h2m-4-2h2m-2 2h2m11 10h2m-5-9h2m-14 0h2m-1 7h2m-5-9h2m3 10h2m-3-20h2m-7 19h2m9-3h2m-8-11h2m-2 12h2m3-3h2m0-8h2m-10 25h2m-4-11h2m11 4h2m-7-7h2m-7-9h2m8 4h2m-12-9h2m-5 5h2m-1 13h2m-11 1h2m4-5h2m6 8h2m-6-2h2m-3-19h2m8 19h2m-15-15h2m5 13h2m-1-8h2m-5 6h2m1-8h2m-5 12h2m-5-17h2m-8 18h2m0-6h2m2-10h2m0 36h2m-2-1h2m-3-25h2m-3 24h2m-2-27h2m-2 27h2m-1-6h2m-1-2h2m-9-13h2m4 1h2m-3 35h2m3-5h2m-6-13h2m-8-4h2m2-4h2m4 3h2m-6-1h2m1 4h2m0-1h2m-8-7h2m3-9h2m-6 18h2m-3-12h2m1 12h2m-9 12h2m5-12h2m-5-11h2m2 1h2m-5-13h2m0 31h2m-1-16h2m-6-1h2m-3 1h2m2-7h2m-5 8h2m5-6h2m-6 19h2m-3-12h2m-2 6h2m-3-16h2m-2 13h2m-3 7h2m-3 7h2m1-22h2m-4 8h2m1 9h2m-6-15h2m3 11h2m-7 6h2m5-8h2m-7-13h2m-4 11h2m0-11h2m1-27h2m-6 36h2m-4 5h2m3-12h2m0 11h2m-6-4h2m-1 1h2m-1 3h2m-4-8h2m-4 0h2m3 16h2m-5-14h2m-6 4h2m4-20h2m-3 25h2m-2-9h2m-4-2h2m-1 8h2m-6-5h2m6-3h2m-9-2h2m-2-9h2m-1 28h2m-1-26h2m0 30h2m-1-19h2m-2 11h2m-3-17h2m-3-1h2m-1 11h2m0 2h2m-7 8h2m-2-9h2m0-6h2m-4-3h2m2 1h2m2-2h2m-13-3h2m1-12h2m0 15h2m2 6h2m-7-16h2m-4 13h2m-6-6h2m10 11h2m-6-10h2m-4 3h2m2 6h2m-9-6h2m4-14h2m-3 45h2m-3-26h2m-4 4h2m5-5h2m-7 5h2m-2-12h2m-5 18h2m1-10h2m3 14h2m-6-20h2m-5 9h2m0 1h2m-2 1h2m-2 3h2m-3-16h2m2 10h2m-4 10h2m1 1h2m-9-10h2m5-22h2m-6 3h2m-5 15h2m1 1h2m-10 10h2m8-12h2m-7 7h2m5 10h2m-2-23h2m-4 18h2m-5-13h2m0-1h2m-2-6h2m-5 10h2m-1 4h2m3 13h2m-7-28h2m-6 1h2m2 15h2m6 0h2m-10-16h2m-1 14h2m-6-13h2m1 26h2m-1-2h2m0-31h2m-28 30h2m-12 11h2m-4-52h2m36 16h2m-21 27h2m-7 3h2m40-23h2m-62-11h2m51-11h2m-30-11h2m-22 39h2m49-19h2m-37 2h2m-3 4h2m39 0h2m-51-3h2m36 13h2m-34 23h2m2 16h2m-4-73h2m-12-6h2m17 27h2m-33 27h2m40 27h2m-36-33h2m32-43h2m-30 22h2m22 50h2" stroke="#2c44c0" stroke-opacity=".5" stroke-width="1.5"/>
<ellipse cx="78.25" cy="606.8" rx="3.4" ry="3.5" fill="url(#gH)"/>
<ellipse cx="105.75" cy="603" rx="3" ry="2.8" fill="url(#gL)"/>
<ellipse cx="107.05" cy="586.5" rx="2" ry="2" fill="url(#gVL)"/>
<rect x="65.5" y="568.5" width="55" height="51" fill="none" stroke="#999" stroke-width="1"/>
<line x1="92.05" y1="568.5" x2="92.05" y2="619.5" stroke="#666" stroke-width="1"/>
<line x1="65.5" y1="597.5" x2="120.5" y2="597.5" stroke="#555" stroke-width="1"/>
<text x="67.25" y="575.1" font-size="6.3" text-anchor="start" fill="#231f20">0,056</text>
<text x="118.45" y="575.1" font-size="6.3" text-anchor="end" fill="#231f20">10,0</text>
<text x="67.25" y="616.1" font-size="6.3" text-anchor="start" fill="#231f20">76,0</text>
<text x="118.45" y="616.1" font-size="6.3" text-anchor="end" fill="#231f20">13,9</text>
<text x="78.55" y="626.9" font-size="6.3" text-anchor="middle" fill="#231f20">0</text>
<text x="96.25" y="626.9" font-size="6.3" text-anchor="middle" fill="#231f20">10<tspan font-size="4.4" dy="-2.4">3</tspan></text>
<text x="109.85" y="626.9" font-size="6.3" text-anchor="middle" fill="#231f20">10<tspan font-size="4.4" dy="-2.4">4</tspan></text>
<text x="63.45" y="581" font-size="5.9" text-anchor="end" fill="#231f20">10<tspan font-size="4.2" dy="-2.4">4</tspan></text>
<text x="63.45" y="593.1" font-size="5.9" text-anchor="end" fill="#231f20">10<tspan font-size="4.2" dy="-2.4">3</tspan></text>
<text x="61.25" y="608.9" font-size="6.3" text-anchor="end" fill="#231f20">0</text>
<line x1="63.85" y1="578.9" x2="65.25" y2="578.9" stroke="#333" stroke-width="0.6"/>
<line x1="63.85" y1="591.3" x2="65.25" y2="591.3" stroke="#333" stroke-width="0.6"/>
<line x1="63.85" y1="604.1" x2="65.25" y2="604.1" stroke="#333" stroke-width="0.6"/>
<line x1="63.85" y1="606.1" x2="65.25" y2="606.1" stroke="#333" stroke-width="0.6"/>
<line x1="63.85" y1="608.1" x2="65.25" y2="608.1" stroke="#333" stroke-width="0.6"/>
<line x1="76.85" y1="619.2" x2="76.85" y2="620.6" stroke="#333" stroke-width="0.6"/>
<line x1="78.25" y1="619.2" x2="78.25" y2="620.6" stroke="#333" stroke-width="0.6"/>
<line x1="79.65" y1="619.2" x2="79.65" y2="620.6" stroke="#333" stroke-width="0.6"/>
<line x1="95.05" y1="619.2" x2="95.05" y2="620.6" stroke="#333" stroke-width="0.6"/>
<line x1="108.45" y1="619.2" x2="108.45" y2="620.6" stroke="#333" stroke-width="0.6"/>
<ellipse cx="148.8" cy="606.8" rx="4.2" ry="4.2" fill="#3f5fd0" fill-opacity="0.5" filter="url(#bl)"/>
<ellipse cx="159.5" cy="606.8" rx="9" ry="1.8" fill="#3f5fd0" fill-opacity="0.22" filter="url(#bl)"/>
<ellipse cx="176" cy="603" rx="4" ry="4" fill="#3f5fd0" fill-opacity="0.3" filter="url(#bl)"/>
<ellipse cx="177" cy="587.5" rx="4" ry="6" fill="#3f5fd0" fill-opacity="0.25" filter="url(#bl)"/>
<path transform="scale(.5)" d="M301 1215h2m-3 3h2m-6 1h2m-1-3h2m1 7h2m-1-11h2m-3 5h2m-8-2h2m-1 1h2m2 0h2m-3-4h2m-4 2h2m-3-4h2m6 9h2m-10-4h2m1-3h2m-2 2h2m-7 1h2m7-6h2m-7 4h2m-10 0h2m10 1h2m-3-3h2m-7 8h2m-5-10h2m4 5h2m-7 0h2m2 5h2m-1-4h2m-1 0h2m-2 1h2m-5-7h2m-3 9h2m-2-3h2m-5-2h2m1 3h2m0-2h2m0 0h2m0-5h2m-12 3h2m0 8h2m8-5h2m-5 0h2m-8-5h2m4 5h2m-1 0h2m-5 3h2m-1-5h2m-5 6h2m-4 0h2m3-3h2m-7-5h2m0 6h2m0-3h2m-11-7h2m5 12h2m3-4h2m-2 3h2m-7-12h2m-3 10h2m-1-2h2m0 2h2m-10-1h2m9-1h2m-4-4h2m-4 4h2m2-2h2m-10-2h2m5 1h2m-2 1h2m-2 4h2m-5-7h2m2 7h2m-6 2h2m-4-2h2m4-7h2m-3 5h2m-10-4h2m5 4h2m-1-3h2m-8 5h2m1 0h2m3 2h2m-8-7h2m5 7h2m-7-6h2m-2 1h2m1 6h2m-3-2h2m-7-12h2m6 3h2m-10 7h2m0 1h2m-1-2h2m-5-1h2m3-5h2m-4 11h2m4-3h2m-18-2h2m10 2h2m-5-6h2m3 5h2m-10-3h2m-2 1h2m-2 1h2m-1 2h2m4-3h2m-10-4h2m2 8h2m-6 3h2m2-1h2m-2-4h2m0-4h2m1-3h2m-15 6h2m3-2h2m0 0h2m3-7h2m-7 5h2m5 1h2m-5 10h2m-11-3h2m4-7h2m3 3h2m-7-4h2m-6 0h2m-1 7h2m-3-7h2m3 6h2m-3-1h2m-2-3h2m5 1h2m-12-1h2m4 5h2m-10-4h2m-4 1h2m8 5h2m-12-12h2m9 4h2m-2 5h2m-5-1h2m0 4h2m-10-13h2m1 8h2m5 3h2m-12-7h2m4 3h2m5 6h2m-7-6h2m-3 5h2m-3-5h2m-6-8h2m4 13h2m-11 1h2m10-13h2m-8 6h2m-4 0h2m1 1h2m-3 10h2m-2-7h2m2-7h2m-9 9h2m0-4h2m-4-4h2m-1 4h2m1-6h2m-10 10h2m10-15h2m-3 11h2m-7-4h2m4 3h2m-10-1h2m1 3h2m6-5h2m-9 0h2m1 9h2m-6-1h2m-7-3h2m0-3h2m5 2h2m-3-2h2m2 5h2m-13-1h2m2-1h2m-6-1h2m1 3h2m0-6h2m-10 4h2m3 2h2m3-10h2m-2 4h2m-5 6h2m-1 0h2m2-13h2m-6 1h2m-5 7h2m-1 2h2m-9 6h2m4-8h2m-4 2h2m7-4h2m-6-4h2m-3 4h2m-7 0h2m3 3h2m-4-3h2m5-1h2m-1-1h2m-7 0h2m1 14h2m-4-5h2m-4-4h2m3-7h2m-7 10h2m0-1h2m-8-6h2m5 9h2m-4-9h2m-2 2h2m-3 3h2m-7-2h2m-1 3h2m-1-4h2m3 0h2m3 1h2m-8 0h2m-10-3h2m13 6h2m-3-2h2m-12 2h2m-6-2h2m10-2h2m-11 6h2m3 0h2m-3-3h2m-3 2h2m-2-2h2m-6 3h2m7 1h2m-5-8h2m-4 5h2m2-4h2m-4 3h2m1-2h2m-3-1h2m-9 3h2m2-1h2m-2-4h2m-9 0h2m1 7h2m-3-1h2m-4 3h2m11-5h2m-14 6h2m-1-7h2m5 4h2m-6-8h2m2 13h2m-12-9h2m9 2h2m-6 2h2m2-6h2m-7 8h2m3-8h2m-6 3h2m0 1h2m0-6h2m-5 7h2m-1-4h2m-9 6h2m11-8h2m-11 8h2m-1-10h2m-2 7h2m2-10h2m-5 11h2m2-1h2m-8-5h2m1 6h2m-3 4h2m-2-3h2m2-5h2m-13 8h2m9-14h2m-8 6h2m6 0h2m-13-5h2m1 10h2m3 0h2m-6-1h2m3-9h2m-4 10h2m-5 2h2m0-1h2m-7-1h2m-2-8h2m7 7h2m-8-2h2m2 7h2m-6-10h2m5 0h2m-6-1h2m-4-3h2m1 4h2m-7 2h2m7 11h2m-15-10h2m3-6h2m3 3h2m-8 1h2m-6 2h2m1 2h2m2-7h2m-8 6h2m-2-6h2m3 7h2m-4-6h2m4 7h2m0-6h2m-4 1h2m-4-2h2m-9 6h2m5-9h2m-7 8h2m2 0h2m-2 2h2m0 0h2m-3 4h2m0-5h2m-9-4h2m5 4h2m-4 0h2m-5-1h2m-3-1h2m0 4h2m-6 0h2m-3 3h2m0-9h2m1 0h2m-5 6h2m-6-4h2m2 4h2m3 11h2m2-10h2m0-20h2m1 23h2m-24-15h2m5 12h2m8 0h2m-10-11h2m4 10h2m-11 2h2m7 0h2m1-2h2m-5-5h2m2 2h2m-7-4h2m1 12h2m0 1h2m-4-5h2m-6-11h2m7 9h2m-21-14h2m0 8h2m-3 8h2m5 3h2m3-15h2m-8 12h2m8-3h2m-11 2h2m5 1h2m-11-5h2m13 9h2m-7-10h2m-10 7h2m-2 1h2m10-3h2m-10-12h2m-7 1h2m4 5h2m-10 9h2m10-7h2m-12-3h2m10 4h2m-10-3h2m1-2h2m3 2h2m-14 2h2m1-5h2m1 12h2m2-6h2m-10 0h2m0-3h2m-4-1h2m-2 13h2m15-2h2m-26-5h2m1-2h2m16-2h2m-19 2h2m1-3h2m-4 10h2m6-6h2m-9-1h2m-7 4h2m3 13h2m12-14h2m-22-6h2m10 6h2m0-8h2m-6 9h2m-3-7h2m-9 7h2m-7-2h2m9 4h2m0-16h2m-3 7h2m-4 0h2m5 2h2m-3 14h2m-20-14h2m18 4h2m-19-8h2m15 2h2m-11 1h2m1-1h2m-7 2h2m4 1h2m2 3h2m-5 2h2m-5-11h2m6 0h2m-6 10h2m0 0h2m-17-6h2m9 0h2m-3 5h2m-1-3h2m-8-2h2m12-1h2m-1 2h2m24 4h2m-33-6h2m6 7h2m19-1h2m1 0h2m-22-2h2m-9-6h2m26 3h2m-24 3h2m19-3h2m-13 2h2m-3 1h2m-23-1h2m31 0h2m-25 1h2m19 2h2m-31-6h2m20-1h2m-26 5h2m4-4h2m9 2h2m-10-1h2m9 6h2m-6-3h2m3-3h2m12 5h2m-5-11h2m-19 10h2m2-1h2m10 2h2m-23-2h2m15-4h2m-3-1h2m-10 5h2m10-2h2m-30 6h2m2-6h2m11-4h2m-19 6h2m29 1h2m-20-10h2m11 6h2m-27-2h2m-3 1h2m25-1h2m-9 6h2m-17-2h2m5 1h2m12-1h2m-7 0h2m-22-1h2m24-6h2m-25 8h2m16-4h2m8 6h2m-27-5h2m19 2h2m-22-1h2m-6 0h2m21 4h2m-22-5h2m2 6h2m8-3h2m-11 3h2m26-11h2m9 2h2m-5-9h2m-1 3h2m-11 4h2m7-1h2m-7 2h2m-7 1h2m10 0h2m-12 4h2m-1-6h2m3-3h2m-6-7h2m-7 6h2m1 5h2m2-5h2m-6 0h2m-2 14h2m-4-11h2m7 5h2m5-2h2m-7 5h2m-5-5h2m3 1h2m2-5h2m-14-2h2m-6-2h2m-3 5h2m5 8h2m-12-10h2m3-1h2m2-1h2m1 6h2m-6 4h2m-1-20h2m-4 16h2m-7-7h2m8 8h2m-7-5h2m2-3h2m-4 7h2m1-5h2m-3-2h2m-4 6h2m-6 4h2m-2-11h2m4 14h2m-11-13h2m12 2h2m-19 8h2m15 2h2m-9-12h2m5 9h2m-10-8h2m0-3h2m0 6h2m-3 3h2m-4 3h2m-3-4h2m4 7h2m-2 1h2m-10-17h2m-5 23h2m8-3h2m-11-10h2m10 0h2m-6-3h2m-8-3h2m-3-3h2m3 7h2m-3-11h2m-4 6h2m-5-1h2m4 1h2m-4 15h2m-5-4h2m2-10h2m1 1h2m-1 3h2m-5 0h2m-2-3h2m-2 6h2m-1-12h2m2 6h2m-13-4h2m0 0h2m6 11h2m1-12h2m-6 9h2m-5 2h2m4-10h2m-15 13h2m10-3h2m-4-3h2m-7 2h2m-1-1h2m5 4h2m-9 2h2m-7-6h2m6-11h2m-4 3h2m3 6h2m-5 4h2m-4-6h2m-5 5h2m-5-2h2m6 2h2m-3-3h2m-10 6h2m3-12h2m4 5h2m-3 8h2m-7 1h2m0-4h2m-4-8h2m1 5h2m-6-1h2m-6-4h2m10 6h2m-8-3h2m3-5h2m-2 6h2m2-1h2m-7 13h2m-3-12h2m-7-10h2m1 6h2m1-1h2m-6 7h2m3-7h2m-5-7h2m-4 10h2m-7 2h2m1-2h2m9-10h2m-15 23h2m7-13h2m2 3h2m-7 1h2m-1 0h2m-16 8h2m11-12h2m0 5h2m-6-4h2m2-9h2m-9 9h2m6 5h2m-4-4h2m-5-7h2m-5 1h2m2 6h2m1 12h2m-11-11h2m3 0h2m1-5h2m-5 8h2m-3 3h2m4-6h2m-3-1h2m-2 13h2m-2-14h2m2 11h2m-11-9h2m5 1h2m-14-9h2m2 10h2m11 8h2m-10-12h2m-9-6h2m-8 13h2m4 0h2m-2-10h2m5 6h2m-3-2h2m-12-7h2m12-2h2m-17 12h2m10-4h2m-18 7h2m22-6h2m-10 2h2m-2 8h2m-8-14h2m2 8h2m-14-16h2m14 11h2m-19 7h2m6 5h2m0-5h2m-1 2h2m-1-9h2m-13 1h2m7 1h2m9-3h2m-6 2h2m-6 5h2m-6-11h2m-8 7h2m10-7h2m-3 9h2m-13 3h2m11-7h2m-13-2h2m8 11h2m-6-11h2m0 18h2m-11-13h2m8-5h2m-9 5h2m5 8h2m-6-11h2m-7 0h2m1 10h2m-7-16h2m6 0h2m-1 9h2m-5-6h2m-2 8h2m0 2h2m-3-3h2m5-3h2m-11 3h2m5 5h2m-7-2h2m13-6h2m-19 6h2m7 1h2m-4 3h2m-7-7h2m2-1h2m-5 4h2m0 0h2m-2-9h2m-9 7h2m6-5h2m0 0h2m-6 13h2m5-5h2m-15-5h2m0-2h2m2 8h2m-11-4h2m4-3h2m4 3h2m-11-3h2m5-12h2m-8 24h2m1-15h2m8-1h2m-15 7h2m-8-11h2m2 3h2m-2 10h2m3-8h2m9 2h2m-7 3h2m-3 5h2m-4-2h2m-6-1h2m-1-1h2m9-3h2m-13 8h2m1-2h2m0 3h2m0 3h2m-14-17h2m1 2h2m-2-4h2m2 1h2m-2 4h2m-2-9h2m-13 5h2m8 11h2m5-9h2m-17 3h2m-1-24h2m11 2h2m-8-11h2m-4-10h2m15 6h2m-12 9h2m-4-5h2m-5-2h2m6 3h2m-17-5h2m6-10h2m3 19h2m-12-11h2m-7 17h2m18-16h2m-6 10h2m-2 0h2m-8-11h2m3 0h2m-11 17h2m-5-16h2m6 10h2m4 1h2m-1-7h2m-5-6h2m-2 15h2m-1-5h2m5 7h2m-18 7h2m5 1h2m-4-24h2m-15 7h2m6 1h2m-7-4h2m9-7h2m1 16h2m-6 3h2m-6-16h2m14 9h2m-16 0h2m6-4h2m-9-5h2m-9 0h2m14 6h2m-7-1h2m-1-13h2m-2 15h2m-3 0h2m-7 1h2m-2-10h2m-2 19h2m7-9h2m-12-3h2m14 0h2m-15 2h2m0-5h2m3 4h2m-12-5h2m7 1h2m-15 0h2m11 18h2m-2 4h2m-12-18h2m-6-3h2m5-4h2m4 21h2m-22-15h2m20-7h2m-17 7h2m8 0h2m1 7h2m-11 7h2m11-5h2m-8-1h2m-12-7h2m1 0h2m-2-1h2m4-2h2m-2 9h2m-13-6h2m10-1h2m0 5h2m-11-9h2m-2 11h2m-5-1h2m-1-18h2m0 19h2m-1 0h2m0-18h2m-2 22h2m-6-18h2m9 18h2m-14-9h2m7 4h2m-15 3h2m3 0h2m4-16h2m-12 18h2m4-2h2m-6-4h2m10-5h2m-5 0h2m-2 6h2m-4 0h2m-4-7h2m-9 3h2m12 4h2m-3-2h2m-8 8h2m1-29h2m1 8h2m-12 7h2m4 4h2m4-2h2m-6-14h2m-10 12h2m-5 10h2m6-13h2m-16 4h2m10 0h2m-6-3h2m6 8h2m-4-2h2m-6-2h2m2-1h2m-2 2h2m1-2h2m-3 0h2m-8 1h2m-2 7h2m3-11h2m-12 3h2m17 3h2m-18 2h2m7 7h2m2-7h2m-14 0h2m15-3h2m-12-6h2m-15 5h2m10 2h2m-3 5h2m-9 3h2m21 2h2m-21-2h2m-5-10h2m8 1h2m-1 2h2m-10-2h2m-1-1h2m-1-14h2m1 23h2m-1-3h2m-1-20h2m-5 33h2m-16-17h2m9-13h2m3 3h2m-4 16h2m3 3h2m-6-13h2m1-6h2m-14 12h2m4-1h2m4-8h2m-7 1h2m0 8h2m1 0h2m-3-3h2m-9 2h2m-7-1h2m19 15h2m-18-1h2m11-12h2m-24 3h2m3-13h2m9 2h2m-1 3h2m-12 3h2m-1-7h2m1 16h2m-4-1h2m-1-6h2m-7 0h2m-4-11h2m-5 15h2m21-15h2m-11-5h2m3 18h2m-14-12h2m9 17h2m-9 0h2m2-21h2m-6 13h2m-5-12h2m4 7h2m-2-1h2m-7 8h2m4 4h2m-16-12h2m4-11h2m-3 1h2m5 27h2m-2-16h2m0-2h2m-2-2h2m-10 12h2m-1-6h2m2-2h2m-1 5h2m-5 7h2m3-2h2m-3-1h2m6 7h2m-5-19h2m-18 11h2m11-7h2m-9-1h2m-10-13h2m9 20h2m1-8h2m-12-2h2m11 17h2m4-17h2m-5 1h2m-2-2h2m-5 18h2m-14-27h2m3 23h2m3-3h2m0-11h2m-6 13h2m-13 0h2m16-15h2m-7 10h2m-12 11h2m4-5h2m-9-4h2m11 0h2m-9 5h2m0-16h2m7 12h2m-6 9h2m-11-5h2m13-8h2m-8 5h2m-7-6h2m-3 9h2m-9 3h2m-2-9h2m-4 3h2m5-13h2m-5 12h2m-5 12h2m-1-11h2m1-3h2m2-1h2m6 3h2m-14 8h2m1-18h2m6-4h2m-5 26h2m-10-4h2m-1-22h2m7 8h2m-13 5h2m-2 4h2m7-8h2m-7 5h2m-9-6h2m13-7h2m-6 0h2m-7 12h2m-7-2h2m-2 4h2m4-11h2m-6 4h2m11 11h2m-3-11h2m-5 2h2m-3 4h2m-8-9h2m0 6h2m8-8h2m-6 16h2m-13-3h2m0-6h2m4 8h2m-6-9h2m9 2h2m-8 9h2m1-13h2m-10 10h2m5-5h2m-11-14h2m2 8h2m-13 2h2m0 9h2m2 26h2m0-19h2m-5 20h2m3-1h2m0-11h2m-5-6h2m0 4h2m-6-9h2m4 18h2m-8-7h2m4-4h2m-4 4h2m-2-14h2m0 26h2m1-36h2m-11 9h2m1 6h2m-3 4h2m2 2h2m-8 8h2m4-5h2m-8 24h2m-3-27h2m0-4h2m3 18h2m-5-13h2m-5-18h2m4 34h2m-2-6h2m-4 12h2m-4-23h2m3 12h2m-8-3h2m-1-9h2m-3 8h2m-2-24h2m3 25h2m-7-29h2m1 15h2m-4 12h2m0-5h2m-6 6h2m6-20h2m-6 3h2m-5 38h2m2-26h2m-1 3h2m-3-23h2m-5 26h2m1-12h2m-6 0h2m-3-1h2m0-12h2m0 33h2m-2-14h2m-5-9h2m-3 2h2m-1 9h2m3-7h2m-6-22h2m-10 8h2m7 23h2m-9 4h2m1-3h2m0-12h2m-6 4h2m0 16h2m-3-26h2m6 15h2m0-23h2m-8-5h2m-2 17h2m-4 46h2m3-33h2m-4-14h2m6 7h2m-13-16h2m6 29h2m-9-23h2m1 11h2m-2-18h2m-1 32h2m-8-29h2m-1 14h2m-2-2h2m2 13h2m-3-26h2m-7 36h2m2-23h2m-3 0h2m1 17h2m-2-20h2m-5 12h2m-1 0h2m-1 2h2m-3-9h2m-4 10h2m-3 4h2m2-4h2m-2 11h2m0-23h2m-8-14h2m8 30h2m-7 1h2m2-14h2m-9-8h2m3 21h2m-7-9h2m-2 11h2m1-17h2m-3 6h2m-6-4h2m1 3h2m-1-3h2m-3 3h2m-1-11h2m-8 17h2m4-14h2m-1 18h2m2-18h2m-14 23h2m5-25h2m-3 15h2m-4-15h2m-1 5h2m-1 3h2m-3 4h2m1-16h2m-5 2h2m-4 3h2m3 4h2m1-4h2m-9-2h2m-6-16h2m2 10h2m1-9h2m-1 10h2m-4 22h2m-3-1h2m-5-5h2m1-5h2m-3 11h2m2-13h2m-4 4h2m-1 4h2m-5-24h2m-5 22h2m2-5h2m-8 6h2m5-15h2m14-10h2m-27 50h2m10-35h2m-6-15h2m-19 0h2m-30 27h2m14 21h2m49-8h2m-9-53h2m-22 33h2m1-21h2m8 8h2m-53 2h2m55-22h2m-19 45h2m-29-42h2m-2 29h2m53-31h2m-12 36h2m8 21h2m-67 9h2m37-25h2m1 21h2m-42-75h2m-10 62h2m20-53h2m32 59h2m-9-26h2" stroke="#2c44c0" stroke-opacity=".5" stroke-width="1.5"/>
<ellipse cx="148.5" cy="606.8" rx="3.4" ry="3.5" fill="url(#gH)"/>
<ellipse cx="176" cy="603" rx="3" ry="2.8" fill="url(#gL)"/>
<ellipse cx="177.3" cy="586.5" rx="2" ry="2" fill="url(#gVL)"/>
<rect x="135.5" y="568.5" width="56" height="51" fill="none" stroke="#999" stroke-width="1"/>
<line x1="162.3" y1="568.5" x2="162.3" y2="619.5" stroke="#666" stroke-width="1"/>
<line x1="135.5" y1="597.5" x2="191.5" y2="597.5" stroke="#555" stroke-width="1"/>
<text x="137.5" y="575.1" font-size="6.3" text-anchor="start" fill="#231f20">0,061</text>
<text x="188.7" y="575.1" font-size="6.3" text-anchor="end" fill="#231f20">10,0</text>
<text x="137.5" y="616.1" font-size="6.3" text-anchor="start" fill="#231f20">75,7</text>
<text x="188.7" y="616.1" font-size="6.3" text-anchor="end" fill="#231f20">14,2</text>
<text x="148.8" y="626.9" font-size="6.3" text-anchor="middle" fill="#231f20">0</text>
<text x="166.5" y="626.9" font-size="6.3" text-anchor="middle" fill="#231f20">10<tspan font-size="4.4" dy="-2.4">3</tspan></text>
<text x="180.1" y="626.9" font-size="6.3" text-anchor="middle" fill="#231f20">10<tspan font-size="4.4" dy="-2.4">4</tspan></text>
<text x="133.7" y="581" font-size="5.9" text-anchor="end" fill="#231f20">10<tspan font-size="4.2" dy="-2.4">4</tspan></text>
<text x="133.7" y="593.1" font-size="5.9" text-anchor="end" fill="#231f20">10<tspan font-size="4.2" dy="-2.4">3</tspan></text>
<text x="131.5" y="608.9" font-size="6.3" text-anchor="end" fill="#231f20">0</text>
<line x1="134.1" y1="578.9" x2="135.5" y2="578.9" stroke="#333" stroke-width="0.6"/>
<line x1="134.1" y1="591.3" x2="135.5" y2="591.3" stroke="#333" stroke-width="0.6"/>
<line x1="134.1" y1="604.1" x2="135.5" y2="604.1" stroke="#333" stroke-width="0.6"/>
<line x1="134.1" y1="606.1" x2="135.5" y2="606.1" stroke="#333" stroke-width="0.6"/>
<line x1="134.1" y1="608.1" x2="135.5" y2="608.1" stroke="#333" stroke-width="0.6"/>
<line x1="147.1" y1="619.2" x2="147.1" y2="620.6" stroke="#333" stroke-width="0.6"/>
<line x1="148.5" y1="619.2" x2="148.5" y2="620.6" stroke="#333" stroke-width="0.6"/>
<line x1="149.9" y1="619.2" x2="149.9" y2="620.6" stroke="#333" stroke-width="0.6"/>
<line x1="165.3" y1="619.2" x2="165.3" y2="620.6" stroke="#333" stroke-width="0.6"/>
<line x1="178.7" y1="619.2" x2="178.7" y2="620.6" stroke="#333" stroke-width="0.6"/>
<ellipse cx="219.05" cy="606.8" rx="4.2" ry="4.2" fill="#3f5fd0" fill-opacity="0.5" filter="url(#bl)"/>
<ellipse cx="229.75" cy="606.8" rx="9" ry="1.8" fill="#3f5fd0" fill-opacity="0.22" filter="url(#bl)"/>
<ellipse cx="240.25" cy="604.5" rx="9" ry="4.5" fill="#3f5fd0" fill-opacity="0.4" filter="url(#bl)"/>
<ellipse cx="244.75" cy="586.5" rx="6" ry="7" fill="#3f5fd0" fill-opacity="0.3" filter="url(#bl)"/>
<path transform="scale(.5)" d="M443 1216h2m-7 0h2m0-3h2m2-1h2m-15 4h2m-2-12h2m13 13h2m-12-4h2m5-1h2m-12 4h2m10-9h2m-9 6h2m3 5h2m-10-9h2m0 4h2m-4-2h2m4 5h2m-4-12h2m-6 9h2m2 1h2m-1 3h2m-14-6h2m4 1h2m4 4h2m-4 3h2m-1-8h2m3 9h2m-8-3h2m-2-2h2m-2-2h2m4 3h2m-11-5h2m2 5h2m-8-3h2m-3 3h2m11 6h2m-7-7h2m-17-6h2m0-2h2m8 4h2m-4 10h2m1-9h2m-3 6h2m-8-1h2m5-2h2m-2-3h2m-1 6h2m-5 1h2m3 0h2m-2-2h2m-1 0h2m-6-1h2m-7-10h2m3 9h2m0-2h2m-4-11h2m3 21h2m-10-10h2m-4-1h2m4 1h2m-3-1h2m6 6h2m-8-8h2m-3 6h2m-7-6h2m6 5h2m-7-5h2m-6-4h2m2 17h2m-4-11h2m7 2h2m-12 0h2m3-2h2m3-2h2m-10-2h2m3 3h2m-4 0h2m7 0h2m-17-2h2m5 6h2m-1-5h2m-8 7h2m4 0h2m-1-1h2m2-5h2m-16 5h2m6-5h2m-9 9h2m-1-4h2m2 0h2m-1 0h2m-7 1h2m3-4h2m-5-1h2m-3 4h2m5-7h2m-4 10h2m-10 0h2m6 3h2m-5-12h2m-5 3h2m3 4h2m-12-6h2m12 8h2m-9-5h2m1-2h2m-3 6h2m-4-7h2m-1 8h2m2-5h2m-9-6h2m3 5h2m-6 2h2m-3-5h2m-5 3h2m9-9h2m-9 12h2m-5-6h2m-4 1h2m6 3h2m-12-1h2m6 5h2m5 2h2m-4-2h2m-7-3h2m-9-2h2m7 4h2m-2 1h2m-7-2h2m-2-3h2m-3 1h2m4 3h2m-6-1h2m1 7h2m0-10h2m-12 7h2m6-3h2m1-1h2m-6-3h2m5 1h2m-9-10h2m-4 10h2m6 0h2m-7 0h2m-6 0h2m1 4h2m-3-8h2m1 11h2m-4-10h2m0 6h2m-4-5h2m-2 4h2m-1-4h2m1-7h2m-7 5h2m-1 2h2m-1 8h2m-1-8h2m-3 5h2m-2-5h2m-1-2h2m0 1h2m1-2h2m-7 9h2m-4-1h2m-4-1h2m-6-2h2m6 0h2m-9 5h2m5-7h2m1 10h2m-9-17h2m11 2h2m-12 10h2m-4 2h2m-4-9h2m5 5h2m-5 5h2m-5-4h2m-5-5h2m1-1h2m4 1h2m-9 7h2m0-2h2m5 2h2m-4-2h2m-3 1h2m-5-7h2m-4 6h2m2-6h2m-1 3h2m2 1h2m-6 4h2m-7-5h2m4 2h2m-8-7h2m-3 9h2m-1-1h2m4-3h2m-7 3h2m-4-2h2m-4 4h2m9-9h2m-3 3h2m-5 2h2m3-3h2m-8-3h2m-4 7h2m-1-2h2m-1-6h2m0 8h2m-1-6h2m2 4h2m-11 4h2m7-1h2m-8-8h2m-8 7h2m9 0h2m-7 1h2m-8-9h2m4 8h2m-5-1h2m1-4h2m-6 5h2m0-5h2m1-1h2m-5 11h2m-1-2h2m2-7h2m-10 2h2m2-1h2m6 4h2m-4-3h2m-6 1h2m-1-5h2m-11 6h2m2 1h2m0-3h2m3-8h2m-5 9h2m-8 4h2m5-7h2m0 1h2m-10-6h2m-5 14h2m4-10h2m3 7h2m-6-5h2m-5 5h2m3 1h2m-7-11h2m1 5h2m-2-3h2m-4 9h2m-2-7h2m2 4h2m-11 1h2m4 3h2m-1-10h2m-5 4h2m-2 1h2m5-1h2m-1-4h2m-5 2h2m-5 7h2m1-7h2m-7 4h2m1 0h2m-6-8h2m5 6h2m-4 10h2m-6-8h2m3 7h2m1-10h2m-5-2h2m-4-4h2m-7 3h2m3 12h2m-3-17h2m-1 7h2m-5-1h2m-2-1h2m-3 0h2m1 1h2m-8 4h2m7 0h2m-4 7h2m-1-14h2m-8 4h2m-2 4h2m-2 0h2m5-2h2m-8 6h2m-2-6h2m-6 3h2m3 0h2m-1-2h2m-5 6h2m-3 1h2m2-4h2m1 1h2m-3-9h2m3 8h2m-11-5h2m3-7h2m-2 9h2m-6-1h2m3 0h2m3 4h2m-10 1h2m-3-4h2m-5 0h2m-1-4h2m4 0h2m1 8h2m-8-2h2m-8 1h2m10 0h2m-9-7h2m-2 2h2m5-1h2m-10 5h2m1-1h2m-3-2h2m-3-2h2m-1 3h2m0 0h2m-2-4h2m-9 2h2m6 0h2m-19 1h2m11-3h2m0 4h2m2 6h2m-5 0h2m-6-7h2m-2-2h2m-2-4h2m1 6h2m-7-5h2m8 4h2m0-1h2m-15-2h2m5 9h2m-10-3h2m15 0h2m-9 2h2m-3-4h2m-4 11h2m-6-6h2m4 9h2m1-26h2m-7 14h2m-10 3h2m4-1h2m9-4h2m-7-1h2m-14-1h2m1-2h2m3 12h2m3-4h2m5-8h2m-14 5h2m-1 6h2m-5-5h2m-16-5h2m14 5h2m7-4h2m4 2h2m-19-8h2m-8 13h2m9 0h2m-3-13h2m-7 0h2m-3 3h2m11 2h2m-5 7h2m-6-9h2m1 9h2m-4-13h2m-4 13h2m-7-1h2m4-6h2m1 0h2m1 9h2m-16 0h2m7-7h2m-4 3h2m2-6h2m-8 16h2m-4-7h2m-2-7h2m5 5h2m-16-8h2m9 7h2m7-1h2m-5-5h2m-13 9h2m15-7h2m-9 1h2m-1 1h2m-9-3h2m-5 8h2m-6-8h2m9-5h2m4 10h2m-14-4h2m-1 2h2m5 10h2m-11-9h2m3 15h2m8-16h2m6 7h2m-22-4h2m9-11h2m-17 4h2m-3 3h2m10-13h2m2 11h2m-5 4h2m0-9h2m-8 2h2m-9 7h2m-11-7h2m18 6h2m-23-2h2m7-1h2m2 9h2m-7-8h2m17 6h2m-9-2h2m-4 5h2m-7-14h2m-14 2h2m31 5h2m12 0h2m-1 3h2m-31-4h2m7 5h2m20-1h2m-31-1h2m-2-4h2m27 5h2m-18-2h2m-2 3h2m-10-11h2m-5 10h2m21-4h2m-14 1h2m17 6h2m-14-9h2m-2 6h2m2 0h2m-14 2h2m8-10h2m-1 9h2m-2-10h2m-20 12h2m11-10h2m-23 2h2m1 4h2m3-3h2m5 0h2m17-2h2m-16 6h2m10 0h2m-16-3h2m6-2h2m-4 5h2m5-2h2m-1-4h2m-22 4h2m17-1h2m-3-3h2m-12 3h2m-8 3h2m19-6h2m-9 8h2m-17 2h2m3-4h2m7-4h2m-15 3h2m-8-3h2m10 3h2m-21-2h2m2 3h2m4-2h2m18-2h2m-2-5h2m-18 5h2m9 3h2m-26 4h2m0-7h2m13 2h2m13 1h2m-25-4h2m8-1h2m-12 5h2m12 0h2m-17 4h2m4-6h2m-5 0h2m0 1h2m6 4h2m-13-3h2m-14 2h2m11-1h2m8 0h2m-7-4h2m11-2h2m-26 1h2m12 4h2m-6-1h2m9 1h2m-4-3h2m-8 3h2m-12-2h2m11 2h2m-10-1h2m4-2h2m-23 1h2m8 1h2m12-3h2m6 6h2m-29-4h2m10 4h2m-18-2h2m-2-2h2m23 4h2m-23-4h2m1-3h2m8 5h2m13 0h2m4-21h2m-16 10h2m6 6h2m-9 0h2m15 0h2m0-2h2m13 9h2m-14-5h2m-11-11h2m-15 4h2m22 7h2m-9-6h2m10 5h2m-16 1h2m-25 4h2m-6-3h2m24-2h2m9-1h2m-27 7h2m-1-9h2m5 11h2m-14-18h2m11 12h2m0-4h2m7 7h2m-14 0h2m1-13h2m-1 8h2m-16-1h2m5-7h2m4 6h2m2-2h2m-2 4h2m3 4h2m-14-4h2m5 0h2m6 4h2m-10-10h2m-10 6h2m8-1h2m-16-5h2m7 5h2m-2-5h2m14 4h2m-13-3h2m-16 0h2m4 5h2m6-3h2m16 4h2m-21 1h2m5-13h2m5 12h2m-22-5h2m-11 7h2m15-4h2m0-1h2m-18-8h2m12 2h2m-11 5h2m-6 5h2m-12-10h2m20 6h2m-19 3h2m12-11h2m-16 21h2m10-6h2m17-8h2m-28 5h2m-2-16h2m-6 7h2m14 10h2m-4 8h2m8-11h2m-23-6h2m11-1h2m-15 0h2m1 4h2m2-1h2m-9 1h2m8 2h2m-16-10h2m24 11h2m-3-6h2m-26 8h2m19-4h2m6 2h2m-35-4h2m15-1h2m-16 6h2m2-10h2m-4 2h2m6 4h2m-12-3h2m10 9h2m-28-8h2m31-6h2m-7 10h2m8 2h2m-20-1h2m12 0h2m-22-1h2m-1-6h2m18 3h2m-8 9h2m10 1h2m-12-14h2m-13 11h2m14-10h2m-10 7h2m-4 0h2m-5-5h2m12-5h2m-15-3h2m3 23h2m-14-8h2m9-2h2m-14 0h2m-25 3h2m20-2h2m19-4h2m4 6h2m-23-11h2m1 4h2m-4 1h2m-3-7h2m10-1h2m-5 8h2m-1 0h2m-18-8h2m12 12h2m-18-3h2m20-7h2m-11 8h2m-6 3h2m1-7h2m-14 13h2m19-4h2m-23-4h2m9-3h2m5 10h2m-8-3h2m-17 1h2m14-2h2m8-2h2m-10-4h2m-13-1h2m-5 5h2m15 1h2m-12-5h2m3 4h2m-11-1h2m-9-8h2m14 1h2m-15 0h2m-2 2h2m14 6h2m-3-4h2m-2 3h2m-14-5h2m14 11h2m-11-13h2m1-6h2m-20 15h2m4 0h2m19-5h2m-3 3h2m-24 1h2m13-11h2m5 11h2m-17 6h2m31-2h2m-28-12h2m-12 8h2m-6 8h2m9-11h2m22-3h2m-38 6h2m21-6h2m-7 9h2m2-4h2m-8 2h2m-4 4h2m4-17h2m-16 8h2m9 12h2m-1-9h2m1-7h2m-15 17h2m15-16h2m4 3h2m-25 4h2m17 6h2m-18-3h2m-10-12h2m10 9h2m14 0h2m-25-4h2m4-7h2m14 6h2m-19 2h2m9 4h2m-11-4h2m4 4h2m-16-9h2m-10 8h2m4-2h2m25 0h2m-7-1h2m-18 1h2m4 1h2m4-3h2m-23-8h2m6 20h2m-16-12h2m28-12h2m-22 21h2m13-6h2m-17 4h2m22-11h2m0-7h2m-15 9h2m1 12h2m-16-13h2m3 6h2m5 2h2m-15 6h2m-6-7h2m12-15h2m12 12h2m-32 9h2m-17-9h2m30-2h2m0-1h2m-22-5h2m3 22h2m8-4h2m5-3h2m-23-11h2m13 13h2m-16-11h2m1-1h2m-4 2h2m8-1h2m-17-4h2m16 3h2m-18 3h2m22-5h2m-2 10h2m-20 1h2m-8-11h2m18 4h2m-26 12h2m9-3h2m-5-6h2m7-5h2m12 2h2m-16 8h2m-6-4h2m11-13h2m-18 10h2m-14 7h2m17-11h2m-3-4h2m-5 0h2m-1 5h2m4-8h2m1 9h2m-8 0h2m11 5h2m-8 0h2m-2 3h2m9-8h2m-10 4h2m-18-2h2m1 6h2m7-6h2m8 3h2m-35-6h2m-1 3h2m11 6h2m2-1h2m-4-8h2m7 4h2m-8 2h2m-7 6h2m-7-9h2m17-3h2m-32 3h2m11 2h2m16-2h2m-10 1h2m-2 2h2m0 1h2m-12-19h2m-2 20h2m11-3h2m-22-6h2m7 4h2m-1-7h2m-5 9h2m1 5h2m11-8h2m-21 9h2m6-5h2m1 0h2m3 0h2m0-3h2m-15-7h2m16 5h2m-19-1h2m-2 11h2m-10-14h2m16 10h2m-20-2h2m13-3h2m-5-6h2m4 11h2m-25-8h2m16 3h2m2 10h2m-4-9h2m-7-2h2m29 2h2m-31-5h2m4-1h2m-19 7h2m-23-6h2m32 2h2m-21-5h2m19 12h2m3-1h2m-13-10h2m13 8h2m-17-5h2m0 6h2m-11-5h2m-7 7h2m15 1h2m-12 0h2m-7-11h2m6 1h2m29 7h2m-63 4h2m11 3h2m19-6h2m-5-7h2m9 6h2m-23-5h2m13-1h2m-19-4h2m23 14h2m-7-5h2m-20-2h2m13-6h2m-3 11h2m7-8h2m-5 5h2m-8 7h2m8-14h2m-5 12h2m-24-3h2m15-6h2m-9 9h2m9 3h2m-6-6h2m-5-3h2m3-1h2m-7 0h2m-19-6h2m12 5h2m2-3h2m19 14h2m-20-11h2m-6 3h2m-11-7h2m4 4h2m0 9h2m9 3h2m-24-12h2m11 10h2m-17 0h2m15-8h2m8 1h2m-5 5h2m-17-17h2m-1 6h2m6 3h2m-12 4h2m-8-2h2m-6 2h2m12 4h2m-6-7h2m8 5h2m-21-9h2m16 5h2m1-2h2m4 5h2m-4-13h2m-18 8h2m7 5h2m-13-8h2m2 2h2m-6 5h2m4-4h2m6 9h2m-8-5h2m-22-2h2m30 6h2m-42-2h2m26-7h2m5 1h2m-4 0h2m-11 4h2m6-4h2m-2 11h2m-6-22h2m2 11h2m-10-3h2m-1 10h2m-8-6h2m-13-3h2m11 8h2m-9-1h2m13-1h2m8-1h2m-15-8h2m-9 12h2m0-1h2m6-9h2m-2 6h2m-4-5h2m-4 16h2m-7-4h2m5-5h2m4 4h2m-19-1h2m-4-2h2m12 1h2m-2 0h2m7-5h2m-20 7h2m8-6h2m4-5h2m-7 11h2m-3-6h2m-6 1h2m-13-5h2m12 1h2m-4-3h2m3 3h2m-5 1h2m-17 2h2m20 11h2m-8-19h2m-15-1h2m3 9h2m2 0h2m7-1h2m-4-4h2m-11 6h2m3 0h2m-15-6h2m25 4h2m-7 1h2m-26 7h2m23-15h2m4 7h2m-7 6h2m-9-6h2m-26-5h2m7 9h2m21-6h2m-7 6h2m-26-3h2m19-3h2m-7 12h2m2-9h2m1-8h2m1 6h2m-19-2h2m-8 9h2m-1-7h2m16-3h2m7 4h2m-8-2h2m-7 3h2m-20 2h2m9 0h2m9-5h2m-14 10h2m10-9h2m-10 8h2m-8-2h2m9-9h2m-9 10h2m-11-14h2m17 16h2m-19-12h2m9 3h2m-21-4h2m6 9h2m11-11h2m8 11h2m-9-11h2m1 4h2m-9-3h2m-3 13h2m3 3h2m-10-1h2m-7-20h2m1 16h2m-1-9h2m5 1h2m1 12h2m-7-9h2m17 6h2m-22-2h2m-11 9h2m-13-9h2m16-8h2m2-3h2m-5 6h2m-1-1h2m-1 9h2m-4-10h2m0 3h2m-4-2h2m10-3h2m-12 0h2m-5 3h2m5-7h2m14 6h2m-47 0h2m11 6h2m6-1h2m5-3h2m-1 1h2m-10 4h2m-12-7h2m-8-3h2m6 2h2m21-2h2m-25 7h2m6-3h2m-4 4h2m5-8h2m6-3h2m-22 16h2m5-10h2m-21 6h2m21-61h2m12 11h2m-17 6h2m3 7h2m3 11h2m-15-29h2m7 23h2m-16-8h2m5-8h2m3-7h2m-1 21h2m5 5h2m-5-12h2m-8-12h2m3 5h2m-15 16h2m11-25h2m-18 7h2m-2 16h2m4-8h2m8 9h2m-5 3h2m3-4h2m-10 5h2m-3-25h2m0 3h2m-14 0h2m21 8h2m8 3h2m-5 9h2m-22-4h2m5-4h2m-7-4h2m-1 8h2m-12-2h2m19-10h2m-8 11h2m-5-13h2m-7 15h2m-4-10h2m7-2h2m-12 1h2m5-1h2m-6 9h2m1-19h2m9 7h2m-5 9h2m-11-7h2m5 9h2m-7-11h2m10 15h2m-7-3h2m-7 8h2m-6-2h2m3-6h2m-17-15h2m10 25h2m-2-14h2m4-4h2m-4-1h2m-4-1h2m-7 2h2m2 13h2m-8-19h2m5 11h2m-15-6h2m6 8h2m-4-6h2m-8-8h2m-7 8h2m-3 3h2m12 7h2m-2-19h2m-2 12h2m10-3h2m-15 2h2m8 11h2m-8-1h2m-6-26h2m4 32h2m-2-12h2m1 12h2m-18-11h2m0 12h2m2-19h2m7 15h2m-12-8h2m4 5h2m11-15h2m-11 13h2m-4-13h2m-1 26h2m2-23h2m-16 8h2m0 1h2m5-6h2m11 3h2m-23-10h2m3 4h2m6 4h2m5 1h2m-21-9h2m0 11h2m4-6h2m-3-11h2m-13 20h2m6-3h2m-11 1h2m8 16h2m8-37h2m3 13h2m-14 18h2m-8-26h2m-4 15h2m14 6h2m-18-15h2m13 2h2m-11-5h2m-10 12h2m24-14h2m-25 20h2m0 0h2m-2-19h2m1-4h2m-5 21h2m-10-8h2m7 23h2m-16-20h2m12-5h2m-29-3h2m27 6h2m8-3h2m-22-9h2m-1 5h2m-4-2h2m9 7h2m-8-1h2m-2 0h2m-2 2h2m3 8h2m-4-17h2m-10 23h2m4-18h2m0-20h2m12 28h2m-8-6h2m-8 0h2m2-22h2m-1 19h2m-18 5h2m18 10h2m1-7h2m-8 0h2m-16-1h2m4 4h2m-5-5h2m10 5h2m-16-2h2m4 2h2m8 2h2m-21 11h2m11-18h2m0-9h2m-2 6h2m-7-6h2m-7 9h2m3-1h2m-1 12h2m13-13h2m-22-17h2m3 30h2m-12-13h2m2-8h2m24 2h2m-24 10h2m-2 3h2m7-5h2m-21-17h2m3 24h2m7-12h2m-4 10h2m7 7h2m3-7h2m-21-10h2m5 2h2m-12 7h2m8-4h2m-10-4h2m4 10h2m-22-10h2m19-5h2m3 7h2m-15 10h2m12-9h2m-19 14h2m8-1h2m2-9h2m-16 12h2m9-18h2m-13 1h2m-10 1h2m18-3h2m10 3h2m-17 21h2m2-28h2m-22 3h2m22-6h2m-2-5h2m-3 11h2m-14 9h2m-1-17h2m-2 13h2m8 3h2m-13-8h2m2-2h2m9 5h2m-16-8h2m18 11h2m-19-3h2m10 3h2m-12-19h2m-7 21h2m12 19h2m-5-27h2m-7 10h2m-7 1h2m8-4h2m-12-2h2m-2-1h2m10 6h2m-2-9h2m-13-4h2m4 5h2m-14-2h2m20 5h2m-16-4h2m7-6h2m-15 4h2m6 18h2m-5-5h2m-14-11h2m1 8h2m-2-18h2m12-2h2m-13 10h2m-8 3h2m12 13h2m-8-17h2m2 8h2m-1 13h2m-20-7h2m13-15h2m-7 1h2m8 26h2m-11-6h2m7-17h2m-2 7h2m-3-21h2m0 16h2m-5 9h2m-16 3h2m21-5h2m-18-7h2m-10-8h2m14 16h2m-4-14h2m-7 11h2m14-3h2m-2-1h2m-8 1h2m-12-5h2m11 6h2m-23 7h2m17-5h2m-1-1h2m-8-10h2m-2 15h2m-2-21h2m11 18h2m-21-14h2m3-5h2m-5 24h2m-4-15h2m6 11h2m-14 0h2m14-13h2m3-1h2m-8 13h2m-4-8h2m-7 19h2m-10-18h2m23 2h2m-22 13h2m-1-19h2m-3 9h2m4-1h2m-11 7h2m23-5h2m-31-16h2m8 12h2m-9 1h2m4 1h2m-9-11h2m3 7h2m-5 10h2m3-26h2m-4 26h2m-3-16h2m1-11h2m-7 23h2m9 4h2m0-9h2m-5 15h2m-7-8h2m1 2h2m-3 2h2m-4-17h2m-1 4h2m5 10h2m-9-12h2m5 6h2m-9 13h2m2-8h2m-8-18h2m9 18h2m2-5h2m-19-25h2m7 24h2m-13-1h2m17-1h2m-12 10h2m2-23h2m-10 17h2m-4-15h2m2 8h2m4 14h2m-8-1h2m1-18h2m-1 13h2m-3-2h2m-9 5h2m7 5h2m6-8h2m-12 4h2m0-11h2m-1 10h2m1-3h2m-23-9h2m13 4h2m-5-6h2m-6 9h2m14-11h2m-20 16h2m2-5h2m10 12h2m-21-21h2m7 22h2m-11-11h2m6-11h2m-15 11h2m-8-20h2m25 10h2m-11 16h2m2 2h2m4-14h2m-8-5h2m-3 4h2m-12 3h2m8 13h2m-1-4h2m-11 0h2m9-4h2m-12-8h2m9 20h2m-13-13h2m-2-19h2m8 21h2m1-13h2m-3 24h2m-5-27h2m6 16h2m-13 5h2m5-12h2m-14-4h2m6-9h2m-22 24h2m13-8h2m-6 5h2m1 1h2m-3-15h2m5 9h2m-4-6h2m-3 6h2m-2 7h2m0 1h2m-1 2h2m-10-9h2m-5 3h2m17-3h2m-15 6h2m-2-4h2m13-7h2m-17 6h2m1-4h2m-18 4h2m8 13h2m13-24h2m1 2h2m-10 22h2m-14-34h2m10 17h2m-7 6h2m7 5h2m-15-2h2m1-10h2m3 18h2m-20-12h2m3 2h2m0 5h2m-3-5h2m20 3h2m-12-12h2m-9 22h2m2-2h2m-3 2h2m-10-2h2m13 1h2m-8 3h2m-4-11h2m2 23h2m1-3h2m-5-9h2m-6-4h2m8-5h2m-6-7h2m0 14h2m-9 15h2m-2-20h2m5 6h2m-11-18h2m1 27h2m-1-10h2m-11 8h2m3 5h2m-7-26h2m2 6h2m7 5h2m-7 0h2m3 3h2m1 7h2m-10 6h2m-11-18h2m10 1h2m-7 0h2m4-1h2m-9 22h2m3-11h2m-7-3h2m3-14h2m-3 1h2m-1 15h2m2 1h2m0-6h2m-18-2h2m7-17h2m-8 29h2m8-16h2m-17 16h2m8-15h2m-4 0h2m-3 4h2m-9 6h2m3-12h2m6 2h2m-3-10h2m-8 12h2m3 0h2m2 16h2m-10-22h2m5 19h2m1-9h2m-9 1h2m-3 12h2m0-8h2m0-6h2m0-1h2m-4 13h2m3-12h2m-6 3h2m-3-4h2m-5 5h2m-11 3h2m11-10h2m1 7h2m-9 5h2m3-9h2m-10-14h2m3 15h2m-8 10h2m8-6h2m-7-21h2m-3 16h2m0 3h2m2-3h2m-4-13h2m-2 23h2m-14-5h2m3 8h2m-2-21h2m-2 10h2m-1-4h2m4 6h2m-6 3h2m-1-21h2m3 1h2m-3 3h2m-7 16h2m-5-5h2m8 0h2m-7-9h2m-5 12h2m0-11h2m-7-2h2m0 17h2m0-13h2m2 16h2m-3-6h2m-2-3h2m-4 3h2m-4-4h2m4-5h2m-10-2h2m-3 8h2m1 12h2m1-15h2m-5-1h2m-8 5h2m3-18h2m2 22h2m2-18h2m-7 17h2m-9-10h2m6 18h2m2-18h2m-4-1h2m-7-1h2m-1 16h2m1-3h2m3-9h2m-6 3h2m-4-3h2m-5 9h2m5-9h2m-5 11h2m-1 16h2m-10-40h2m7 1h2m1 18h2m-2-11h2m-13 31h2m3-15h2m-3 1h2m-4-17h2m2 18h2m-1-15h2m-5-1h2m-3 5h2m-2 3h2m1-19h2m-2 15h2m-7-4h2m6 2h2m-6 7h2m-17-14h2m-1-10h2m22-6h2m10 26h2m-50 36h2m3-4h2m-21-25h2m34-18h2m-39 41h2m4-53h2m38-2h2m-27 2h2m26 8h2m-44 13h2m-5-30h2m30 37h2m-44-32h2m37 43h2m-42-15h2m21 5h2m45-40h2m-68-3h2m2 29h2m58 10h2m-35-23h2m-3 58h2m-20-20h2" stroke="#2c44c0" stroke-opacity=".5" stroke-width="1.5"/>
<ellipse cx="218.75" cy="606.8" rx="3.4" ry="3.5" fill="url(#gH)"/>
<ellipse cx="240.55" cy="604.5" rx="7" ry="3.4" fill="url(#gM)"/>
<ellipse cx="245.75" cy="586" rx="2.4" ry="2.4" fill="url(#gVL)"/>
<rect x="205.5" y="568.5" width="56" height="51" fill="none" stroke="#999" stroke-width="1"/>
<line x1="232.55" y1="568.5" x2="232.55" y2="619.5" stroke="#666" stroke-width="1"/>
<line x1="205.5" y1="597.5" x2="261.5" y2="597.5" stroke="#555" stroke-width="1"/>
<text x="207.75" y="575.1" font-size="6.3" text-anchor="start" fill="#231f20">0,26</text>
<text x="258.95" y="575.1" font-size="6.3" text-anchor="end" fill="#231f20">19,7</text>
<text x="207.75" y="616.1" font-size="6.3" text-anchor="start" fill="#231f20">34,4</text>
<text x="258.95" y="616.1" font-size="6.3" text-anchor="end" fill="#231f20">45,7</text>
<text x="219.05" y="626.9" font-size="6.3" text-anchor="middle" fill="#231f20">0</text>
<text x="236.75" y="626.9" font-size="6.3" text-anchor="middle" fill="#231f20">10<tspan font-size="4.4" dy="-2.4">3</tspan></text>
<text x="250.35" y="626.9" font-size="6.3" text-anchor="middle" fill="#231f20">10<tspan font-size="4.4" dy="-2.4">4</tspan></text>
<text x="203.95" y="581" font-size="5.9" text-anchor="end" fill="#231f20">10<tspan font-size="4.2" dy="-2.4">4</tspan></text>
<text x="203.95" y="593.1" font-size="5.9" text-anchor="end" fill="#231f20">10<tspan font-size="4.2" dy="-2.4">3</tspan></text>
<text x="201.75" y="608.9" font-size="6.3" text-anchor="end" fill="#231f20">0</text>
<line x1="204.35" y1="578.9" x2="205.75" y2="578.9" stroke="#333" stroke-width="0.6"/>
<line x1="204.35" y1="591.3" x2="205.75" y2="591.3" stroke="#333" stroke-width="0.6"/>
<line x1="204.35" y1="604.1" x2="205.75" y2="604.1" stroke="#333" stroke-width="0.6"/>
<line x1="204.35" y1="606.1" x2="205.75" y2="606.1" stroke="#333" stroke-width="0.6"/>
<line x1="204.35" y1="608.1" x2="205.75" y2="608.1" stroke="#333" stroke-width="0.6"/>
<line x1="217.35" y1="619.2" x2="217.35" y2="620.6" stroke="#333" stroke-width="0.6"/>
<line x1="218.75" y1="619.2" x2="218.75" y2="620.6" stroke="#333" stroke-width="0.6"/>
<line x1="220.15" y1="619.2" x2="220.15" y2="620.6" stroke="#333" stroke-width="0.6"/>
<line x1="235.55" y1="619.2" x2="235.55" y2="620.6" stroke="#333" stroke-width="0.6"/>
<line x1="248.95" y1="619.2" x2="248.95" y2="620.6" stroke="#333" stroke-width="0.6"/>
<ellipse cx="304.4" cy="606.8" rx="4.2" ry="4.2" fill="#3f5fd0" fill-opacity="0.5" filter="url(#bl)"/>
<ellipse cx="315.1" cy="606.8" rx="9" ry="1.8" fill="#3f5fd0" fill-opacity="0.22" filter="url(#bl)"/>
<ellipse cx="331.1" cy="589.5" rx="4" ry="8" fill="#3f5fd0" fill-opacity="0.3" filter="url(#bl)"/>
<path transform="scale(.5)" d="M610 1211h2m-2 4h2m-9-1h2m9-5h2m-10 6h2m4-3h2m-9 4h2m4-4h2m-5 8h2m-14-13h2m14 12h2m-8-6h2m3 5h2m-8 1h2m6-10h2m-5 1h2m-6-5h2m2 11h2m-5-2h2m-10-3h2m8 1h2m-2-8h2m-4 16h2m-2-11h2m4 2h2m-3 8h2m-7-4h2m-5-4h2m3 0h2m3 4h2m-14 4h2m7-6h2m-4 4h2m-4 3h2m-3-9h2m5 5h2m-5-6h2m-2 5h2m-1 2h2m-3 5h2m-8-9h2m2 1h2m-3-7h2m1 8h2m4-6h2m-10 0h2m-3 9h2m-1-2h2m-4-1h2m1 2h2m-7 1h2m2-5h2m3 3h2m-14 2h2m4-6h2m1 6h2m-6-4h2m1-1h2m-8-9h2m-1 12h2m3 2h2m6-7h2m-7 2h2m-8 7h2m-5-4h2m1-1h2m10-2h2m-11-5h2m0 5h2m-5 1h2m-7 6h2m0-5h2m2-8h2m-5 5h2m-3 1h2m4-2h2m2 3h2m-8-2h2m-2 0h2m-3 3h2m-2 1h2m-3-4h2m-3 4h2m1 7h2m-10-4h2m6 6h2m-3-14h2m3 6h2m-7-11h2m-8 9h2m2-5h2m-4-4h2m7 11h2m-7 6h2m1-13h2m-12 0h2m6 2h2m2 0h2m-7 6h2m3-4h2m-7 2h2m-2-1h2m-2-6h2m-2 1h2m2-3h2m-11 8h2m4 1h2m-5-2h2m-1-4h2m-1 9h2m0-4h2m-3 1h2m-4 1h2m-3 0h2m-2-5h2m5 3h2m-5 3h2m-6-5h2m-4 3h2m1-2h2m-3 1h2m4 1h2m-6-6h2m-5 4h2m5-6h2m-5 8h2m-1 2h2m-6-2h2m3-4h2m1 2h2m-1-7h2m-2 6h2m-13-3h2m3 5h2m-6-7h2m10 5h2m-13 6h2m-5-6h2m3 3h2m2 4h2m-2-9h2m-11 3h2m-3-5h2m6 11h2m-1-8h2m-1 2h2m-12-4h2m9 7h2m-8-4h2m-2 5h2m0-3h2m-6 3h2m3-5h2m-4 4h2m1 0h2m-1 3h2m-10-8h2m9 4h2m-7-8h2m-1 2h2m1 5h2m-5-4h2m-14 2h2m9-1h2m-4 4h2m-1-1h2m-7-2h2m3-4h2m1-5h2m-5 9h2m1 4h2m-5-9h2m2 7h2m4-2h2m-3 4h2m-14-2h2m1-2h2m-3 1h2m5 1h2m-6-8h2m-12 6h2m2 7h2m-1-13h2m-9 4h2m9-4h2m-8 1h2m-6 4h2m9 4h2m3 3h2m-6-7h2m-10 4h2m5-5h2m-7 10h2m-4-15h2m-3-1h2m9 11h2m-8-4h2m-6-1h2m3 1h2m4 4h2m-8-1h2m0-5h2m-13 5h2m9-5h2m-3 6h2m-2 2h2m-3-7h2m3 0h2m-1 7h2m-10 2h2m1-4h2m-7 2h2m3-2h2m-2-8h2m-2 5h2m-6 0h2m-2-2h2m3 2h2m-6-3h2m-8-2h2m11 3h2m-12 1h2m3 3h2m-3 9h2m-3-13h2m1 4h2m-1 0h2m-6 0h2m4-3h2m-5 7h2m-7-14h2m1 13h2m-2 1h2m-4-6h2m2-8h2m-1 21h2m-10-7h2m7-4h2m-11-1h2m2 0h2m7-4h2m-12 9h2m-5-8h2m5 3h2m-16 5h2m6-6h2m3-1h2m-3 3h2m2 5h2m-4-8h2m-4 0h2m-2 3h2m-4-3h2m5-3h2m-12 1h2m4-2h2m-1 0h2m-8 0h2m11 5h2m-10 0h2m-3 2h2m-3 4h2m1-4h2m-1 1h2m-4 5h2m-2-4h2m-3 0h2m-1-10h2m-2 3h2m-4-3h2m-11 1h2m10 7h2m-4 3h2m-12-3h2m8-4h2m-3 5h2m-4-2h2m-4-5h2m8-5h2m-8 13h2m-2 1h2m-4-6h2m-2 6h2m-2-12h2m-3 9h2m2 1h2m-1 11h2m-1-18h2m-2 8h2m-4-11h2m-3 8h2m-1 0h2m-5 0h2m0 1h2m-6 0h2m6-2h2m0 2h2m-6-2h2m0 0h2m2 5h2m-12 2h2m9-3h2m-3-3h2m-10-6h2m-3 13h2m-3-5h2m10-4h2m-5-5h2m-10 4h2m1-2h2m-1-3h2m-10 8h2m8 7h2m-12-13h2m3 1h2m0 9h2m-1-2h2m1 0h2m-7 7h2m-4-5h2m-4 1h2m5-4h2m-4-8h2m-3 4h2m-3 8h2m-5-4h2m-1-2h2m2 0h2m3-6h2m-9 14h2m-1-14h2m3 8h2m-4-11h2m-9 10h2m-5-5h2m4 6h2m-3-1h2m-1-5h2m1 2h2m-5 2h2m6-2h2m-8 2h2m-8 3h2m4 3h2m2 1h2m-10-8h2m5 4h2m-8 1h2m9-7h2m-12 1h2m1 5h2m2-2h2m-11-10h2m1 25h2m1-13h2m-14-6h2m5 7h2m-4-9h2m3 9h2m1-7h2m2 6h2m-16-7h2m11 10h2m7-14h2m-9 11h2m-8 4h2m0 4h2m0-11h2m1-11h2m-14 16h2m1-3h2m-3-5h2m0-1h2m-11 0h2m6 3h2m-5-3h2m7 2h2m-8 6h2m0-6h2m-6 9h2m8-7h2m-3-1h2m-3 0h2m1-4h2m-5 10h2m-9-6h2m-2-5h2m1 9h2m-4 4h2m10-7h2m-12-7h2m-6-3h2m11 15h2m-7 0h2m-8 2h2m-3-7h2m5 2h2m-6-7h2m-4 17h2m13-14h2m-13 5h2m-8-8h2m0 6h2m5-5h2m4 4h2m-20-2h2m1-2h2m3 4h2m-12-1h2m6 0h2m-5-2h2m8-6h2m-17 4h2m-5 6h2m7-2h2m0-1h2m4 1h2m-8 10h2m3-2h2m-9-3h2m8-7h2m-18 1h2m15 4h2m-22 0h2m10-8h2m-1 14h2m-5-10h2m6 13h2m2-14h2m-21 2h2m13-3h2m-12 7h2m3-2h2m8-3h2m-15 9h2m-1-8h2m1 1h2m-14 3h2m14 1h2m-10-13h2m10 6h2m22 1h2m-6 5h2m-4 3h2m-1-6h2m-19 3h2m2 2h2m17-6h2m-7 5h2m-11-2h2m-4-1h2m8-5h2m-16 2h2m-5 0h2m20 1h2m-17 0h2m-2 3h2m6-2h2m5 3h2m1-1h2m-33-1h2m7 1h2m-8 0h2m-8 0h2m30-5h2m-1 8h2m-21-7h2m4 3h2m-16-2h2m-5 3h2m-1-3h2m7 2h2m10 0h2m-10-1h2m-8-1h2m8 4h2m-20-2h2m30-1h2m-11 1h2m8-3h2m-8 8h2m-4-9h2m-4 2h2m8 3h2m-24-6h2m-1 8h2m-14-4h2m9-1h2m-14 3h2m16-3h2m-9 5h2m0-2h2m10 4h2m-5-6h2m4 0h2m-2-3h2m-24 5h2m11-2h2m-15 3h2m-8-5h2m32 3h2m-18 1h2m10 1h2m-6-5h2m-29 1h2m21 1h2m-9-2h2m0 5h2m-4 0h2m14-6h2m-35 4h2m3 4h2m21-1h2m3-4h2m-23 1h2m-13-2h2m25 7h2m4 1h2m7-39h2m-1 2h2m2-12h2m-8 0h2m8-5h2m-5-1h2m-6 2h2m-6 1h2m5 3h2m8 8h2m-4-5h2m-7-4h2m2-2h2m-11 0h2m1 4h2m3-5h2m-13 7h2m5 10h2m-4-8h2m-11 12h2m11-14h2m-5-4h2m-4-4h2m9-2h2m-15 26h2m3-15h2m-3-6h2m-3 9h2m-7-6h2m9-6h2m-7 15h2m-3 3h2m-5-14h2m6 7h2m-9 0h2m5 11h2m-9-14h2m5-7h2m-2 6h2m-5-5h2m2 1h2m-11-2h2m1 11h2m0-11h2m-8 16h2m-5-9h2m5-9h2m-6 5h2m2 4h2m-1-3h2m0 12h2m-7-6h2m11 1h2m-9-5h2m-6 9h2m-1-15h2m-9 4h2m1-1h2m9-2h2m-8 5h2m-5-8h2m-3 3h2m8 6h2m-18 1h2m7 6h2m-1-9h2m-3 1h2m-5 14h2m-6-16h2m6 6h2m3-7h2m-8 21h2m4-23h2m-14 9h2m5 13h2m-2-8h2m0 0h2m-3-11h2m-5 4h2m10 4h2m-10-3h2m-2 6h2m-3-5h2m4 2h2m-14-4h2m3-6h2m3-1h2m-12 8h2m-7 6h2m4-3h2m5-2h2m5 2h2m-19-4h2m1-2h2m2-7h2m0 8h2m-8-4h2m9-3h2m-7 9h2m-5-2h2m-6 2h2m5-6h2m-9 11h2m1 3h2m-10-23h2m10 13h2m-11 0h2m2-4h2m-1 9h2m-4-5h2m-2 11h2m9-11h2m-11-4h2m5 7h2m-7-8h2m-7 17h2m4-1h2m-18-16h2m8 15h2m9-3h2m1-3h2m-12 7h2m-3-19h2m3 3h2m2 2h2m-8 6h2m6-3h2m2 1h2m-15 0h2m2-14h2m-7 12h2m-10 5h2m16-5h2m-12 10h2m-1-15h2m12 13h2m-18 1h2m-1-8h2m-6 3h2m5-8h2m-7 3h2m0 1h2m3 3h2m-9-8h2m3 3h2m-7 18h2m2-28h2m-3 20h2m0-10h2m-15 5h2m5 0h2m0 9h2m3-11h2m-10-2h2m3 4h2m1-2h2m-4 0h2m-3 1h2m-3-7h2m-5-6h2m3 7h2m-6 5h2m-5-7h2m-6 8h2m5-1h2m-6-3h2m12 5h2m-6 3h2m5-7h2m-12-5h2m-3 0h2m-1 10h2m3 0h2m-16-8h2m1 14h2m2-10h2m-5 3h2m13-5h2m-9 8h2m3-10h2m-13 4h2m9-6h2m-16 8h2m0-6h2m2-2h2m4 14h2m0-5h2m-2-19h2m-17 15h2m12-2h2m-12 15h2m-1-19h2m-1 3h2m2 2h2m-8 4h2m-2-6h2m7 6h2m-7 1h2m-5 4h2m-1-18h2m0 19h2m6-9h2m-11 7h2m-6 1h2m6-6h2m-6-11h2m-7 9h2m-2-10h2m-2 21h2m9-18h2m-14 13h2m0-6h2m8-1h2m0 6h2m-13 2h2m-1 2h2m5-9h2m-10 7h2m4-6h2m-6-7h2m-8-6h2m9 13h2m-8 7h2m-12 0h2m2 5h2m8-22h2m6 6h2m-13 1h2m-3 7h2m3-9h2m-3 12h2m-1-15h2m-4 7h2m-4-8h2m-8 3h2m2 12h2m7-8h2m-6-2h2m-16 0h2m13 4h2m-7 6h2m12-6h2m-17 2h2m7-8h2m-8 10h2m-11 2h2m2 2h2m-2-15h2m2 1h2m-9-1h2m1 5h2m-4 7h2m2-9h2m-5 3h2m-8 7h2m12-13h2m-7 3h2m2-2h2m-8 3h2m3 4h2m0 0h2m-7-5h2m5 6h2m-13-1h2m6-5h2m-3-6h2m-5 14h2m5-1h2m-3-10h2m0 12h2m-8-3h2m9-8h2m-17 1h2m0 3h2m1-4h2m-1 4h2m-18 10h2m18-19h2m-6 16h2m-6-9h2m5-8h2m0 25h2m-9-10h2m-8-11h2m-1 20h2m2-12h2m2 2h2m-3 0h2m-3 6h2m0-5h2m2-4h2m-7-3h2m-7 10h2m12-9h2m-12 0h2m4-5h2m-3-6h2m-9 14h2m-5-13h2m11 15h2m-11 0h2m1-3h2m-6 7h2m-3-15h2m-2 6h2m8-7h2m-14 15h2m-1 4h2m-3-13h2m-5 3h2m-6-4h2m20-5h2m-22 24h2m13-14h2m-11-4h2m-2 12h2m-3-16h2m4 4h2m8 3h2m-10 9h2m-16-4h2m12-6h2m4-1h2m-17-3h2m0 8h2m-1-1h2m-2 6h2m-2 1h2m6-5h2m-13 3h2m3-1h2m9-1h2m-5 2h2m2 1h2m-12-8h2m-10 1h2m1 5h2m1-3h2m6 0h2m7 3h2m-21-6h2m-3 4h2m-5-1h2m16 2h2m-16-19h2m3 18h2m1-1h2m-4-2h2m-8-7h2m3 9h2m-8 1h2m10 1h2m-12-3h2m5-6h2m-3 6h2m-5-7h2m-2 7h2m9-3h2m-16 4h2m-4 6h2m-5-1h2m2 0h2m-6-6h2m4-2h2m5 2h2m-16 3h2m14 1h2m-4-7h2m-12-6h2m-6 4h2m19 5h2m-14 1h2m-4 9h2m-7-3h2m0-12h2m6 20h2m-10-18h2m5-2h2m-13 5h2m11-7h2m-2 9h2m-12-3h2m3 5h2m-9 2h2m8-3h2m-1-18h2m-12 7h2m2 17h2m6-10h2m-11 2h2m3 5h2m5-8h2m-9 7h2m-8 1h2m-4-5h2m4 18h2m-9-32h2m1 3h2m9 19h2m-10-11h2m0 1h2m0 3h2m-12-4h2m1 9h2m8-1h2m-4-11h2m-14 7h2m9-7h2m-10 9h2m4-3h2m-7 3h2m0-10h2m0 1h2m0-6h2m-4 12h2m1 12h2m-4 0h2m7-6h2m-14-6h2m3 5h2m-11-10h2m5 2h2m-1 5h2m3-2h2m-8 2h2m-17 12h2m13 4h2m-9-14h2m0 19h2m-9-26h2m11 11h2m-7-7h2m-6 21h2m5-11h2m-12 4h2m13-3h2m-12 0h2m-8 11h2m5 0h2m4-4h2m-6-3h2m0-5h2m-5 0h2m-2-1h2m-12 22h2m5-20h2m-4 3h2m6-6h2m-3 3h2m-9 11h2m2-13h2m-2 7h2m-1 2h2m-13-14h2m9 11h2m-10 1h2m0-3h2m0 10h2m-1-10h2m2 2h2m-7-10h2m-2 11h2m3 6h2m-6 3h2m-2-8h2m-6 4h2m-1-2h2m2-22h2m0 23h2m-2-29h2m-1 22h2m-10 5h2m7 3h2m-6 3h2m1-21h2m-4 7h2m1 0h2m-5 19h2m-2-23h2m3 6h2m-9-20h2m-8 19h2m4 3h2m-5 10h2m11-6h2m-16 1h2m4 0h2m-3 7h2m6-4h2m-12-8h2m-1-4h2m4 4h2m-11-8h2m0 9h2m3-7h2m-5 3h2m-1 13h2m0-14h2m1 15h2m-3-18h2m-10 7h2m-6 5h2m12 10h2m-8-18h2m2 11h2m-7 9h2m-2-22h2m3-4h2m0 18h2m-9 0h2m2 2h2m-6-11h2m-9 6h2m6-7h2m1 2h2m0-6h2m-6-4h2m2 11h2m-9-2h2m-3 7h2m-1 8h2m-1-22h2m-2 18h2m-9-13h2m11 7h2m-2-8h2m-9 5h2m1-1h2m-3-5h2m1-5h2m-3 1h2m-6 6h2m-1 8h2m2-11h2m-9-4h2m4 19h2m-6-12h2m0 7h2m-6-3h2m-2-8h2m0 11h2m-1-4h2m2-4h2m-7 4h2m-4 8h2m2-7h2m-11-7h2m-1 1h2m8 17h2m-5-21h2m6 16h2m-10-17h2m0 12h2m2 15h2m-5-12h2m1-9h2m-9 1h2m-5 12h2m5-15h2m-4 1h2m-3 1h2m-1 7h2m0-9h2m0 11h2m-13-7h2m12 17h2m-9-25h2m-6 5h2m1 12h2m3-5h2m-3 13h2m-5-22h2m-2 14h2m-4-9h2m-8 11h2m1-8h2m5-20h2m-10 8h2m2-1h2m4-9h2m-4 1h2m-1-5h2m-8 27h2m0-10h2m-5 8h2m3 17h2m-5-16h2m-2-10h2m-1 17h2m-3 5h2m1-19h2m-5 4h2m-3 1h2m-3 15h2m2-6h2m0-9h2m-2 7h2m-2-14h2m-7 17h2m-3-3h2m7 6h2m-4-13h2m-3-8h2m-2 10h2m9-4h2m-20 5h2m0-7h2m4 7h2m-3 3h2m-7 1h2m2 1h2m-7-4h2m1-1h2m2-6h2m-1-5h2m-5-2h2m-1 16h2m-1-14h2m-4 19h2m4-26h2m-11 13h2m0 13h2m1-20h2m-10 13h2m3-16h2m-7 30h2m-4-5h2m2 6h2m-13-3h2m21 6h2m-17-13h2m-1 12h2m-10-7h2m13 3h2m-16-5h2m12 6h2m-12-5h2m-2 13h2m4-13h2m-2-5h2m3 4h2m-16-2h2m8 15h2m-3-12h2m1 0h2m-8-3h2m-8 14h2m8-12h2m-14 5h2m16-9h2m-17 4h2m-6 6h2m7-8h2m-15 12h2m3-1h2m3-10h2m-4 1h2m5 2h2m-5 0h2m-1-3h2m-9-4h2m4 11h2m-3 2h2m-3-14h2m-1 16h2m-4-11h2m4-3h2m1 17h2m-4-15h2m-5 11h2m-6 2h2m5-1h2m-10-8h2m8 4h2m-14-9h2m9 0h2m-8 3h2m4 4h2m-11 1h2m2 8h2m0-7h2m0-6h2m5-7h2m-19 7h2m-1 12h2m2-11h2m-2 1h2m3-5h2m-8 8h2m7-3h2m-8-5h2m2-8h2m-11 14h2m-1-5h2m5 17h2m-1-5h2m-9-10h2m2 0h2m-5 13h2m9-11h2m-13-10h2m-5 12h2m12-4h2m-10-3h2m0 12h2m3-11h2m-16 3h2m-7 1h2m16 4h2m-10 6h2m1-9h2m-2-3h2m-12 3h2m10 0h2m-13 2h2m3-7h2m-5 1h2m4 9h2m-12 2h2m9-5h2m-2-9h2m-5 8h2m-6-3h2m3 13h2m-8-24h2m-1 20h2m0-10h2m5-3h2m-7-2h2m-7 10h2m1-6h2m8 6h2m-8-4h2m-7-1h2m-1 1h2m5 9h2m-10-16h2m3 2h2m-6 7h2m-1 1h2m-4 3h2m0 11h2m2-12h2m-11-3h2m4 11h2m-5-4h2m6-6h2m-11-1h2m13 1h2m-10-5h2m2 7h2m-10 4h2m-2-3h2m-3-3h2m3-3h2m-8-2h2m0 2h2m5 3h2m-14-1h2m11 4h2m-9 2h2m-9-9h2m8 7h2m-13-13h2m13 3h2m-7 8h2m3-7h2m-7 9h2m3 8h2m-2-20h2m1 14h2m-22 0h2m13 0h2m-15-10h2m19 13h2m-12-50h2m3-3h2m2 1h2m-4 0h2m-2-5h2m-4 9h2m6-11h2m-12 12h2m1-5h2m-5-1h2m7-7h2m7 7h2m-17 0h2m5-2h2m-4 12h2m-12-11h2m5 6h2m-5 11h2m3-14h2m2 1h2m-12-3h2m6 9h2m-7-5h2m1-3h2m-13-4h2m10 14h2m-7-3h2m2-11h2m-7 12h2m2-9h2m-7-3h2m-1 9h2m2-9h2m-3 1h2m0 0h2m-3 7h2m-2-6h2m-1-6h2m-8 13h2m3 0h2m-2-8h2m-1 10h2m-7 2h2m5-6h2m-6 1h2m-2-12h2m-2 10h2m5 11h2m-11-16h2m2 8h2m3-5h2m-8 1h2m0-4h2m-8-5h2m1 15h2m-1-3h2m-8-7h2m12 3h2m-9 3h2m-10 6h2m6-10h2m1 7h2m-12 1h2m7-5h2m-7 17h2m3-13h2m-10-1h2m9-3h2m-6 4h2m-3-7h2m0 0h2m-4 4h2m-9-3h2m5-5h2m-2 5h2m-5-3h2m0 7h2m5 1h2m-6-5h2m0 0h2m-10-3h2m-1 8h2m-8-12h2m7 9h2m4-1h2m-9-3h2m7 2h2m-15 2h2m0 6h2m2-10h2m-5 8h2m1-13h2m-7 0h2m-2 7h2m3 6h2m11 50h2m-40-25h2m-6 23h2m36-45h2m-39 29h2m-22-55h2m26 9h2m32 26h2m-59 42h2m34-32h2m-36 35h2m0-72h2m34 67h2m-23-16h2m25-19h2m1 18h2m-39-31h2m20 3h2m-28 47h2m-7-14h2m-5-49h2m23 29h2m-37 25h2m36-7h2m17-8h2m-35-40h2" stroke="#2c44c0" stroke-opacity=".5" stroke-width="1.5"/>
<ellipse cx="304.1" cy="606.8" rx="4" ry="3.6" fill="url(#gH)"/>
<ellipse cx="331.7" cy="587" rx="2.4" ry="2.6" fill="url(#gL)"/>
<ellipse cx="330.1" cy="594.5" rx="1.6" ry="2" fill="url(#gVL)"/>
<rect x="291.5" y="568.5" width="55" height="51" fill="none" stroke="#999" stroke-width="1"/>
<line x1="317.9" y1="568.5" x2="317.9" y2="619.5" stroke="#666" stroke-width="1"/>
<line x1="291.5" y1="597.5" x2="346.5" y2="597.5" stroke="#555" stroke-width="1"/>
<text x="293.1" y="575.1" font-size="6.3" text-anchor="start" fill="#231f20">0,23</text>
<text x="344.3" y="575.1" font-size="6.3" text-anchor="end" fill="#231f20">28,2</text>
<text x="293.1" y="616.1" font-size="6.3" text-anchor="start" fill="#231f20">68,1</text>
<text x="344.3" y="616.1" font-size="6.3" text-anchor="end" fill="#231f20">3,46</text>
<text x="304.4" y="626.9" font-size="6.3" text-anchor="middle" fill="#231f20">0</text>
<text x="322.1" y="626.9" font-size="6.3" text-anchor="middle" fill="#231f20">10<tspan font-size="4.4" dy="-2.4">3</tspan></text>
<text x="335.7" y="626.9" font-size="6.3" text-anchor="middle" fill="#231f20">10<tspan font-size="4.4" dy="-2.4">4</tspan></text>
<text x="289.3" y="581" font-size="5.9" text-anchor="end" fill="#231f20">10<tspan font-size="4.2" dy="-2.4">4</tspan></text>
<text x="289.3" y="593.1" font-size="5.9" text-anchor="end" fill="#231f20">10<tspan font-size="4.2" dy="-2.4">3</tspan></text>
<text x="287.1" y="608.9" font-size="6.3" text-anchor="end" fill="#231f20">0</text>
<line x1="289.7" y1="578.9" x2="291.1" y2="578.9" stroke="#333" stroke-width="0.6"/>
<line x1="289.7" y1="591.3" x2="291.1" y2="591.3" stroke="#333" stroke-width="0.6"/>
<line x1="289.7" y1="604.1" x2="291.1" y2="604.1" stroke="#333" stroke-width="0.6"/>
<line x1="289.7" y1="606.1" x2="291.1" y2="606.1" stroke="#333" stroke-width="0.6"/>
<line x1="289.7" y1="608.1" x2="291.1" y2="608.1" stroke="#333" stroke-width="0.6"/>
<line x1="302.7" y1="619.2" x2="302.7" y2="620.6" stroke="#333" stroke-width="0.6"/>
<line x1="304.1" y1="619.2" x2="304.1" y2="620.6" stroke="#333" stroke-width="0.6"/>
<line x1="305.5" y1="619.2" x2="305.5" y2="620.6" stroke="#333" stroke-width="0.6"/>
<line x1="320.9" y1="619.2" x2="320.9" y2="620.6" stroke="#333" stroke-width="0.6"/>
<line x1="334.3" y1="619.2" x2="334.3" y2="620.6" stroke="#333" stroke-width="0.6"/>
<ellipse cx="374.5" cy="606.8" rx="4.2" ry="4.2" fill="#3f5fd0" fill-opacity="0.5" filter="url(#bl)"/>
<ellipse cx="385.2" cy="606.8" rx="9" ry="1.8" fill="#3f5fd0" fill-opacity="0.22" filter="url(#bl)"/>
<ellipse cx="401.2" cy="589.5" rx="4" ry="8" fill="#3f5fd0" fill-opacity="0.3" filter="url(#bl)"/>
<path transform="scale(.5)" d="M748 1215h2m2 6h2m-9-8h2m5 3h2m-7-9h2m-1 4h2m-4 1h2m5 3h2m-6 3h2m-6-8h2m0 11h2m-4-10h2m4 0h2m-3 0h2m-5 0h2m3-1h2m-5 0h2m3 3h2m-10 5h2m-2-5h2m5 9h2m2-5h2m-6-4h2m-11 5h2m7 0h2m-4-1h2m-10 2h2m6-13h2m-7 12h2m-4-10h2m6 3h2m-3 10h2m-5-7h2m-1-1h2m-2 0h2m-8-3h2m6 7h2m-3-2h2m2-4h2m-1 5h2m-16-8h2m2 4h2m1 1h2m-4 7h2m-2-7h2m0-2h2m-6 2h2m5-4h2m-8-1h2m-3 3h2m4 0h2m-5 1h2m-3 7h2m2-6h2m0 1h2m-12-6h2m6 6h2m-3 6h2m-4-15h2m-4 14h2m0-6h2m2-3h2m-3 4h2m-1 2h2m-5 2h2m-3-4h2m1-4h2m-6-1h2m-4 1h2m5 7h2m-4-5h2m-3 6h2m-4-9h2m-9 3h2m13-4h2m-12 4h2m-7 0h2m7 8h2m-2-6h2m0-4h2m-10 7h2m0-2h2m2 4h2m-2-15h2m3 9h2m-8-4h2m1 10h2m2-9h2m-1 7h2m-10 2h2m-2-9h2m0 0h2m-1 10h2m-5-7h2m-2 0h2m-7-1h2m4-10h2m-2 17h2m-1-4h2m-5 0h2m-4-5h2m5 11h2m-1-8h2m-2-4h2m-2 8h2m-5-3h2m-3 3h2m-2-11h2m3 7h2m-3 5h2m-4-6h2m-2 6h2m-6-8h2m-5 3h2m11 0h2m-5 0h2m-9 0h2m-2 0h2m0 6h2m-3-3h2m-4 1h2m4-11h2m-1 9h2m-4-2h2m-6 2h2m3-6h2m-2 2h2m-6 3h2m-2 3h2m1-8h2m3 12h2m-10-16h2m9 6h2m-16 5h2m-3-5h2m2 5h2m1 0h2m-2-3h2m-1 8h2m-6-4h2m-3 4h2m0-11h2m-2-6h2m2 10h2m-5 1h2m-2 1h2m-7-3h2m2 0h2m1-8h2m-5 6h2m5 2h2m-5 2h2m-9-9h2m4 5h2m-9 5h2m0-3h2m8 1h2m-10 1h2m1-1h2m-5 4h2m-3 2h2m-2-7h2m-5 5h2m1-3h2m-2-3h2m3 5h2m-7-2h2m-6-5h2m-1 6h2m7 1h2m-5-6h2m-5 1h2m3 1h2m-9-6h2m4 5h2m-3-2h2m-10 4h2m8 2h2m3-2h2m-5 3h2m-6 0h2m-3-3h2m1 3h2m-3-7h2m-6 5h2m2-3h2m-2-2h2m0 3h2m-9 0h2m-6 3h2m1-8h2m-3 4h2m-2 5h2m8 1h2m-9-8h2m-4 3h2m7 3h2m-6-5h2m-9 2h2m8-1h2m-8 3h2m-3 0h2m-1-2h2m4 1h2m-5 0h2m3 5h2m-11-10h2m2 5h2m-7 0h2m4-6h2m-1 3h2m-12-3h2m6 3h2m-2 7h2m0-2h2m-7-7h2m0 6h2m-6-10h2m4 4h2m-3 4h2m-5 6h2m4 1h2m1-13h2m-4 7h2m-8-5h2m-2 8h2m-4-2h2m3-8h2m-3 6h2m0 1h2m-10-8h2m1 14h2m1-18h2m-4 11h2m-3 2h2m1 8h2m-5-12h2m-3-3h2m3 4h2m1-1h2m-8 13h2m4-10h2m-10 3h2m-2 0h2m-3-3h2m-3 1h2m-4-3h2m-1 8h2m2-7h2m-6 0h2m8 0h2m-3-6h2m-11 9h2m1-12h2m1 7h2m3 7h2m-6 2h2m-5-6h2m-4-1h2m7 1h2m-14-1h2m1 5h2m6-10h2m-10 4h2m0 3h2m1 1h2m-6-5h2m0 3h2m0-1h2m-6 2h2m7-6h2m-11 4h2m-2 4h2m-2-5h2m2 8h2m1-2h2m-7-2h2m0 0h2m-7-8h2m0 3h2m-6 3h2m12 2h2m-8-2h2m-7-4h2m1 7h2m4-10h2m-11 6h2m-1 8h2m-1-12h2m-3 1h2m-1 0h2m-2 5h2m1-3h2m-7 5h2m9-8h2m-9 9h2m-11-4h2m11-6h2m-6 8h2m-2-5h2m2 3h2m-18 5h2m12 0h2m-2 3h2m-2-7h2m-13-3h2m3 1h2m-8-2h2m4 2h2m7 1h2m-4 4h2m-2-1h2m-9-2h2m0-8h2m-2 8h2m0-2h2m-4-6h2m3 2h2m-18 7h2m10-10h2m-7 10h2m1-10h2m-1 14h2m-1-3h2m0-8h2m2 9h2m-7-7h2m-5-4h2m-1 17h2m-1-10h2m0 4h2m-5-8h2m1 3h2m-2 2h2m0 1h2m-16-3h2m5-1h2m1 5h2m-5-6h2m7 6h2m-6-9h2m-7 1h2m-4 4h2m1-4h2m0 5h2m3 1h2m-2-8h2m0 6h2m-13-8h2m-9 12h2m14-7h2m-1 4h2m-6-4h2m-2 5h2m4 4h2m-13-8h2m-1-1h2m0 8h2m2 5h2m0-16h2m-7 7h2m-2-11h2m-4 7h2m8-3h2m-13 5h2m2 11h2m5-16h2m-8 7h2m-2 1h2m-8-1h2m-2-4h2m-7 10h2m2-12h2m11 5h2m-13-9h2m6 14h2m-3 2h2m12-4h2m-7-9h2m-12 4h2m-10 3h2m7 1h2m-6 5h2m9-8h2m-2 8h2m-17-10h2m13 8h2m-13-3h2m-7-8h2m1 5h2m-15 0h2m22-1h2m-15 8h2m1-6h2m-2-4h2m13 3h2m-11-4h2m-2 4h2m-10-5h2m6 5h2m6 0h2m-6 9h2m2 0h2m-10-4h2m-7-8h2m2 1h2m-7 0h2m3 7h2m8 1h2m-24-5h2m6 8h2m0-8h2m-3-4h2m2 5h2m-4-6h2m-1 9h2m-1-1h2m-13-4h2m3 11h2m-2 3h2m6-13h2m-11-7h2m5 13h2m0-1h2m-4 2h2m-11-2h2m-1-2h2m7 0h2m3 6h2m-18-2h2m10-16h2m-12 12h2m10-8h2m-11 1h2m7-5h2m-11 9h2m5 0h2m-8 11h2m12-12h2m9 3h2m-4-4h2m-5-1h2m-12 1h2m-6 4h2m9 0h2m-1 1h2m0-2h2m15 0h2m-3 1h2m-18 1h2m-13-1h2m3 5h2m8 1h2m-4-8h2m0 2h2m-12 3h2m-2-7h2m21 7h2m-19-7h2m10 3h2m-15-1h2m-4 6h2m20-6h2m-4 4h2m-11-8h2m-9 3h2m-11 4h2m-4-5h2m-2 3h2m6-2h2m-5 4h2m9-2h2m-2-3h2m3 8h2m2-8h2m-26 1h2m-8 4h2m31-5h2m-5 6h2m-15-9h2m-7 8h2m-7-5h2m24 4h2m-16-1h2m6 2h2m-11-3h2m10 0h2m-10-3h2m-12 4h2m-9 0h2m3-2h2m-10 1h2m24-2h2m-25 0h2m-6 2h2m1-2h2m11 1h2m4 1h2m-24 2h2m3-4h2m0 4h2m-7 1h2m1-3h2m-8 0h2m16 2h2m-21 0h2m6-4h2m1 1h2m0 2h2m-5-1h2m-6 1h2m1-2h2m0 7h2m13-5h2m-24 2h2m47-39h2m-6 3h2m-8-15h2m8 14h2m-8-2h2m3 2h2m-1-1h2m-3-14h2m-5 4h2m0 11h2m-2-13h2m-4 8h2m0-2h2m-13 7h2m6-3h2m3-3h2m-4-2h2m-14 1h2m6 1h2m8 3h2m-20-6h2m9 11h2m1-6h2m0 2h2m-11-8h2m8 6h2m2-8h2m-6 9h2m-14-4h2m11 1h2m-9 12h2m0-14h2m-7-1h2m-2 11h2m-6-13h2m1-4h2m9 21h2m-9-14h2m-9 5h2m4 5h2m-11-6h2m11-10h2m-1 13h2m-8 9h2m-3-22h2m-11 8h2m18 4h2m-6-7h2m-3 8h2m-12-15h2m8 9h2m-9 4h2m8 7h2m-2-10h2m-15 2h2m12-7h2m-15 7h2m8-7h2m-11 7h2m10 4h2m-12-10h2m-5 10h2m-6-9h2m2 10h2m9 1h2m-2-1h2m-8-2h2m3-10h2m-6 16h2m-7-4h2m-5-2h2m6 1h2m-3-5h2m-9 7h2m1-11h2m5 2h2m-8 3h2m4-1h2m-6 2h2m-8-5h2m0 8h2m0-6h2m-6-9h2m3 8h2m0 7h2m6-6h2m-5-7h2m0 8h2m-17 1h2m-2-1h2m14 0h2m-6 3h2m-16 3h2m8-15h2m3 1h2m-12 10h2m0-6h2m-4-8h2m8 14h2m-6 2h2m-9 6h2m10-8h2m-3 2h2m-5-8h2m-7 9h2m1 7h2m3-5h2m-10-11h2m-3 3h2m-1-7h2m-3 8h2m6-5h2m-7 2h2m10 7h2m-10 1h2m-8-11h2m-1 13h2m-5-15h2m2 7h2m-2 6h2m-4-6h2m3-3h2m1 11h2m-6-3h2m-11-11h2m6 15h2m-2-5h2m3-8h2m-5 10h2m-1-13h2m-16 0h2m8 10h2m1 11h2m1-21h2m-8 7h2m-8 10h2m4-3h2m-7-10h2m3-1h2m0 9h2m-3-10h2m-7 6h2m6-6h2m-5 6h2m-1-9h2m1-4h2m-8 24h2m7-7h2m5 1h2m-15-10h2m1 0h2m-3 6h2m4 6h2m-14-11h2m5 9h2m-12-7h2m1-1h2m1 1h2m-3 8h2m12-5h2m-14 1h2m-5-4h2m-7-2h2m8 0h2m4 1h2m-9-10h2m-4 3h2m-10 17h2m2 5h2m7-6h2m-3 2h2m4-12h2m-15-6h2m0 5h2m-7 8h2m9 4h2m0-8h2m-18 11h2m14-7h2m-8-7h2m-4 13h2m-6-11h2m4 3h2m-14 9h2m6-10h2m-2 0h2m-1 15h2m4 1h2m-11-17h2m-5 1h2m15-6h2m-3 14h2m-8-7h2m-2 1h2m3 2h2m-8 1h2m3 9h2m-9-8h2m-3-10h2m8-2h2m-12 5h2m2-3h2m-10 6h2m9-3h2m-8-2h2m-3-8h2m8 9h2m-7 6h2m0-20h2m1 27h2m-12-10h2m9 8h2m-12-9h2m4-2h2m-14 8h2m2 0h2m-3 1h2m17-4h2m-13-8h2m1 4h2m-7-3h2m2-8h2m-10-6h2m0 21h2m-1 5h2m-7 0h2m-2-3h2m9-3h2m-7-7h2m-4-4h2m6 15h2m-3-2h2m-5 0h2m-7-4h2m-2-7h2m-3 6h2m6 9h2m-5-12h2m-5-2h2m11 8h2m-11 10h2m-17-22h2m9 0h2m-9 21h2m4-6h2m3-3h2m-12 4h2m5-14h2m0 4h2m-3 10h2m-9-10h2m-4 8h2m3 4h2m-6 0h2m-7-5h2m3 2h2m4-9h2m-7 15h2m-1-3h2m-1 1h2m8-9h2m-12-2h2m-7-6h2m9 8h2m-12 6h2m4-11h2m-6 6h2m2 1h2m2 10h2m-8-16h2m1 18h2m-5-1h2m3-23h2m-2 13h2m-10-3h2m0 7h2m12-6h2m-16 4h2m3-5h2m-4 10h2m-12-12h2m3 0h2m8-2h2m-5 11h2m-8-5h2m-1 2h2m1-8h2m-12 4h2m11 2h2m-10 4h2m9-2h2m-7 5h2m-10-24h2m3 16h2m1-8h2m5 23h2m-9-21h2m-5 12h2m9-13h2m-7 0h2m-11 10h2m8 3h2m-7-15h2m-3 8h2m3-16h2m-4 16h2m-7-10h2m7-10h2m-7 30h2m0-8h2m-4-9h2m-5 11h2m-12 2h2m12-1h2m-3 1h2m-1-1h2m-15-14h2m15 7h2m-6-5h2m0 7h2m1 4h2m-12-4h2m4 4h2m6-2h2m-17 5h2m-8-2h2m8-6h2m-2 0h2m-2-1h2m-1-5h2m-5-4h2m4-7h2m-1 17h2m-3 2h2m2 4h2m-12-10h2m-1-10h2m0 17h2m-4-2h2m-3 0h2m-2-7h2m1 7h2m-4 5h2m3 3h2m-13-11h2m7-3h2m4 6h2m-1 0h2m0 2h2m-15-1h2m2-4h2m-10 3h2m-1 4h2m9-9h2m-21-8h2m0 28h2m7-11h2m3-14h2m-12 18h2m-1-9h2m2 9h2m5-3h2m-5-15h2m-8 15h2m5-17h2m-10 20h2m0-19h2m-2 2h2m-13 9h2m2 1h2m15-17h2m-13 20h2m-2-2h2m-5 7h2m17 0h2m-22-12h2m4-8h2m10 8h2m-12 16h2m5-22h2m-14 8h2m0 5h2m3 0h2m-3-3h2m-6-5h2m7 1h2m1 7h2m-15-11h2m-4 16h2m14-4h2m-7-1h2m-6-12h2m-9 12h2m3-1h2m4-4h2m-4 0h2m3 5h2m-11-3h2m3 8h2m-4-8h2m4 0h2m-8-2h2m-7 2h2m0-8h2m-1 2h2m1 3h2m-6-1h2m1-1h2m-5 4h2m-2-1h2m-8 9h2m-1-3h2m-6 7h2m10-7h2m-8 2h2m3-2h2m4-7h2m-11 6h2m5-7h2m-11 7h2m9-11h2m-14 11h2m-1 4h2m6-9h2m-3-5h2m-7 30h2m-2 6h2m-6-25h2m-6 10h2m4 7h2m-4-6h2m2 7h2m-6 3h2m0-6h2m-2 0h2m-3-12h2m0 11h2m3-3h2m-9-11h2m-10 16h2m6-18h2m6 5h2m-4 13h2m-3 1h2m-5-7h2m3-7h2m-3 12h2m0-13h2m-8 1h2m-8 10h2m5-7h2m-9 1h2m1 4h2m3-6h2m1 5h2m-12-4h2m2 15h2m-4-19h2m-3-1h2m1 3h2m0 1h2m-7-1h2m2 2h2m-7 16h2m2-22h2m1 12h2m-1-5h2m1 1h2m-12 1h2m3 4h2m-4-6h2m1 16h2m-5-13h2m-9-19h2m4 18h2m2 0h2m4 5h2m-11 0h2m3-15h2m-8 28h2m0-5h2m-2-10h2m7 3h2m-19 6h2m-3-4h2m10 15h2m-2-25h2m-9 13h2m-2 5h2m0-19h2m-10-3h2m6 6h2m10 16h2m-18-19h2m0 22h2m-1-20h2m6 15h2m-16-20h2m9 24h2m-3-15h2m-1-1h2m-7-15h2m-1 3h2m4 19h2m-12 2h2m5-18h2m-7 5h2m0 0h2m8 13h2m-14-5h2m-5-7h2m6 9h2m-7-16h2m-1 12h2m-1-4h2m-7 6h2m1-10h2m1-6h2m0-2h2m-10 22h2m6-9h2m0 2h2m-6 0h2m2-2h2m0-4h2m-2-2h2m-7 6h2m-1 0h2m-8-10h2m3 16h2m4 5h2m-14 7h2m8-25h2m-1 3h2m-1-10h2m-8 12h2m-3 5h2m5 6h2m-13 0h2m3-12h2m-11 6h2m8 6h2m0-1h2m-9-4h2m5 0h2m-12 3h2m8-8h2m-3 14h2m-5-5h2m-4 7h2m6-9h2m-6 2h2m-2-1h2m-9-8h2m10 1h2m-14 4h2m-3-5h2m5-1h2m-3 4h2m-6-9h2m3 2h2m-5 0h2m-4-5h2m-4 20h2m-6-16h2m6 2h2m3 15h2m-2 4h2m1-1h2m-8-13h2m-3 23h2m3-41h2m-8 32h2m-4-10h2m1-7h2m-4-7h2m1-3h2m0-5h2m-3 22h2m-7-13h2m3 26h2m-2-14h2m1 5h2m-10-15h2m-3 16h2m6-23h2m-8 9h2m1 4h2m1-16h2m-9 17h2m8 2h2m-5 10h2m-5-18h2m-7 9h2m3-7h2m-5 24h2m7-29h2m-11-1h2m7 13h2m-9-1h2m1-9h2m2 15h2m-5-18h2m-9 4h2m-4 19h2m9-11h2m0-5h2m-4 10h2m-8-5h2m-6-9h2m-1 19h2m0-23h2m0 19h2m8-11h2m-12-6h2m-1 17h2m1-5h2m-13-1h2m13-15h2m-8 2h2m1 21h2m-13-7h2m10 18h2m-4-15h2m-9-15h2m-6 24h2m16 5h2m-25-3h2m-2 0h2m1 5h2m4-8h2m-12-8h2m-2 6h2m4-3h2m0 3h2m-3 2h2m-5-7h2m4 7h2m-8 1h2m10 8h2m-16-7h2m9-5h2m-8 13h2m1-16h2m-21 20h2m11-20h2m-5 3h2m8 9h2m-3-4h2m6 5h2m-5-3h2m0-7h2m-9 6h2m-3 2h2m-11-5h2m0-2h2m5 12h2m-2 0h2m-13-15h2m-2 5h2m7 0h2m6 5h2m-4 0h2m-19-7h2m-4-3h2m15-2h2m-11 14h2m11-5h2m-10-6h2m0 7h2m-2 11h2m3-21h2m-13 4h2m1 10h2m-3-17h2m2 22h2m4-13h2m-1 2h2m-14-1h2m0-4h2m-4-1h2m3 17h2m-11-10h2m11 2h2m-6-8h2m-1 2h2m-3 13h2m-2-14h2m0 2h2m-8 5h2m-1-5h2m7 6h2m-17-8h2m4 2h2m4-14h2m-14 17h2m18-7h2m-9 8h2m-5-6h2m3 15h2m-11-16h2m-3 6h2m11-8h2m-17-1h2m-4 7h2m4-9h2m-4 15h2m0-7h2m-7 4h2m17 5h2m-13-10h2m-12 9h2m4 1h2m10-14h2m-13 8h2m-11-7h2m15-3h2m-3 12h2m-7-3h2m-3 8h2m-4-4h2m0 2h2m-2-11h2m-4 19h2m7-10h2m-5-7h2m-5-2h2m-11 14h2m9-8h2m-7-8h2m-3 7h2m5-8h2m-7 7h2m0 3h2m-5 6h2m1-5h2m-11-7h2m4 0h2m7 4h2m-4 9h2m-13 3h2m-9-15h2m6 0h2m7-1h2m-5 4h2m-6-3h2m0 6h2m0-14h2m-3 12h2m-2 7h2m-4-12h2m-4-8h2m1 18h2m-2-10h2m-8 9h2m-5-7h2m11-6h2m0 13h2m-6-4h2m-2 0h2m-9 5h2m4-6h2m-3 5h2m-4-15h2m8 14h2m-6-2h2m-7-1h2m-2 0h2m0-9h2m-4 10h2m-13 4h2m8-3h2m0-6h2m1-1h2m-4 3h2m16-36h2m-4-7h2m-10-1h2m5 2h2m-5-1h2m-1 5h2m-11-1h2m16 1h2m-16 1h2m-5-4h2m4 4h2m-1-11h2m-9 8h2m3 1h2m8-7h2m-7-2h2m-5 15h2m-4-1h2m6-11h2m-5 9h2m-6 0h2m-1-3h2m-1-3h2m-2-1h2m2 0h2m-12 15h2m2-13h2m-3-1h2m-7 11h2m2-16h2m2 10h2m-3-4h2m-4 6h2m-2-5h2m3 6h2m-4-9h2m-3 2h2m-1-5h2m-5 4h2m3-3h2m-7-1h2m4 8h2m-4-1h2m-9-3h2m0 2h2m1-1h2m-10-2h2m9 2h2m-11 9h2m5-11h2m1 6h2m-5-8h2m-1 1h2m-7-1h2m2 6h2m-6-2h2m2 1h2m-10 1h2m-3-6h2m5 2h2m-6-4h2m5 4h2m-1 0h2m-1 5h2m-4-5h2m-3 10h2m0 0h2m-5-5h2m1-6h2m-7 8h2m1-3h2m-6-14h2m-3 12h2m-2 4h2m10 0h2m-12 0h2m3-4h2m0 1h2m-5-2h2m-9-8h2m7 11h2m1-7h2m-4 13h2m-12-19h2m-1 13h2m-2 0h2m-5-1h2m14-1h2m-10 5h2m-2-4h2m-5-4h2m-3 4h2m0 5h2m-1-3h2m8-1h2m-17 4h2m8-4h2m-6-7h2m-2 8h2m-2 2h2m-10 50h2m-19-55h2m24 17h2m7 40h2m-18-56h2m18 28h2m-40-12h2m40-5h2m-26-20h2m-25 50h2m19-29h2m-27-7h2m17 22h2m-2-11h2m27 39h2m-21-33h2m-20 4h2m28-4h2m-50-35h2m40 64h2m-11-12h2m-2-20h2m-17-14h2m-1-1h2m-14-12h2m10 46h2m32 10h2m-30 16h2m8-67h2" stroke="#2c44c0" stroke-opacity=".5" stroke-width="1.5"/>
<ellipse cx="374.2" cy="606.8" rx="4" ry="3.6" fill="url(#gH)"/>
<ellipse cx="401.8" cy="587" rx="2.4" ry="2.6" fill="url(#gL)"/>
<ellipse cx="400.2" cy="594.5" rx="1.6" ry="2" fill="url(#gVL)"/>
<rect x="361.5" y="568.5" width="55" height="51" fill="none" stroke="#999" stroke-width="1"/>
<line x1="388" y1="568.5" x2="388" y2="619.5" stroke="#666" stroke-width="1"/>
<line x1="361.5" y1="597.5" x2="416.5" y2="597.5" stroke="#555" stroke-width="1"/>
<text x="363.2" y="575.1" font-size="6.3" text-anchor="start" fill="#231f20">0,21</text>
<text x="414.4" y="575.1" font-size="6.3" text-anchor="end" fill="#231f20">29,1</text>
<text x="363.2" y="616.1" font-size="6.3" text-anchor="start" fill="#231f20">66,7</text>
<text x="414.4" y="616.1" font-size="6.3" text-anchor="end" fill="#231f20">4,00</text>
<text x="374.5" y="626.9" font-size="6.3" text-anchor="middle" fill="#231f20">0</text>
<text x="392.2" y="626.9" font-size="6.3" text-anchor="middle" fill="#231f20">10<tspan font-size="4.4" dy="-2.4">3</tspan></text>
<text x="405.8" y="626.9" font-size="6.3" text-anchor="middle" fill="#231f20">10<tspan font-size="4.4" dy="-2.4">4</tspan></text>
<text x="359.4" y="581" font-size="5.9" text-anchor="end" fill="#231f20">10<tspan font-size="4.2" dy="-2.4">4</tspan></text>
<text x="359.4" y="593.1" font-size="5.9" text-anchor="end" fill="#231f20">10<tspan font-size="4.2" dy="-2.4">3</tspan></text>
<text x="357.2" y="608.9" font-size="6.3" text-anchor="end" fill="#231f20">0</text>
<line x1="359.8" y1="578.9" x2="361.2" y2="578.9" stroke="#333" stroke-width="0.6"/>
<line x1="359.8" y1="591.3" x2="361.2" y2="591.3" stroke="#333" stroke-width="0.6"/>
<line x1="359.8" y1="604.1" x2="361.2" y2="604.1" stroke="#333" stroke-width="0.6"/>
<line x1="359.8" y1="606.1" x2="361.2" y2="606.1" stroke="#333" stroke-width="0.6"/>
<line x1="359.8" y1="608.1" x2="361.2" y2="608.1" stroke="#333" stroke-width="0.6"/>
<line x1="372.8" y1="619.2" x2="372.8" y2="620.6" stroke="#333" stroke-width="0.6"/>
<line x1="374.2" y1="619.2" x2="374.2" y2="620.6" stroke="#333" stroke-width="0.6"/>
<line x1="375.6" y1="619.2" x2="375.6" y2="620.6" stroke="#333" stroke-width="0.6"/>
<line x1="391" y1="619.2" x2="391" y2="620.6" stroke="#333" stroke-width="0.6"/>
<line x1="404.4" y1="619.2" x2="404.4" y2="620.6" stroke="#333" stroke-width="0.6"/>
<ellipse cx="444.6" cy="606.8" rx="4.2" ry="4.2" fill="#3f5fd0" fill-opacity="0.5" filter="url(#bl)"/>
<ellipse cx="455.3" cy="606.8" rx="9" ry="1.8" fill="#3f5fd0" fill-opacity="0.22" filter="url(#bl)"/>
<ellipse cx="470.6" cy="590.5" rx="4.5" ry="10" fill="#3f5fd0" fill-opacity="0.38" filter="url(#bl)"/>
<path transform="scale(.5)" d="M888 1214h2m-4 4h2m5 1h2m-4 1h2m-1-5h2m-6-1h2m0 5h2m-6-2h2m-4 2h2m13-2h2m-14-1h2m0-4h2m-4-1h2m1-3h2m0 6h2m4-3h2m-12 2h2m5 5h2m-6-4h2m-1 1h2m-7 0h2m-9 1h2m12 3h2m-7-3h2m-5-1h2m5 2h2m-13 0h2m2-6h2m-7 5h2m6-8h2m-8 3h2m7 0h2m8 7h2m-19-6h2m5-5h2m-1 8h2m-2 0h2m-3-4h2m-2 3h2m-3 1h2m-10 3h2m4 0h2m-1-4h2m1-6h2m-11 12h2m-1-9h2m5 9h2m-4-4h2m-8-2h2m5 6h2m-3-7h2m-9 3h2m5 3h2m-6-2h2m0-4h2m-1 4h2m-10-3h2m4-3h2m4 4h2m-3-5h2m-4-2h2m-1 17h2m-1-7h2m-7-2h2m-5-5h2m9 6h2m-11-4h2m-6-2h2m-1 3h2m5 1h2m0-1h2m-2-5h2m-2 10h2m-12 0h2m6-10h2m-8 4h2m8 6h2m-11-7h2m2 3h2m-3-11h2m7 10h2m-11-5h2m-1-1h2m0 4h2m-8 1h2m-2-1h2m3 1h2m6 6h2m-1 1h2m-12-9h2m-1 2h2m-9-1h2m7 6h2m-2 0h2m-9-2h2m4-5h2m-3 6h2m-14-1h2m10 3h2m0 0h2m-5-7h2m1 3h2m1-8h2m-13 1h2m4 6h2m-2 5h2m-9-6h2m-4-2h2m1-1h2m0-2h2m0 13h2m-1 2h2m1-2h2m-6-8h2m-3 4h2m8-2h2m-9-5h2m-4 3h2m1 3h2m-4-2h2m-3 0h2m-2-1h2m-3 1h2m-6 5h2m8-12h2m-2 7h2m-12 1h2m5 1h2m-2-8h2m1 7h2m-12-3h2m4 5h2m-5-4h2m4 1h2m-6-4h2m-4 7h2m1-6h2m-2-1h2m-5 8h2m0-6h2m-3 1h2m-4-7h2m-1 12h2m1-1h2m2 5h2m-4-14h2m-7 6h2m3-4h2m-4 5h2m-2-4h2m-10 7h2m5-4h2m3 2h2m-9-6h2m3 4h2m-4 2h2m-1-4h2m0 3h2m-4-4h2m-13 5h2m10 3h2m-1-1h2m-10-8h2m2 7h2m-1-4h2m-4-6h2m-4 9h2m0 1h2m-6-10h2m10 10h2m-4-7h2m-12 9h2m5-3h2m-2-4h2m-1 10h2m-7-12h2m-2 8h2m0-5h2m-3 3h2m1-5h2m-3 8h2m2-3h2m-6-2h2m2 1h2m-8 1h2m3-1h2m-2-7h2m-5 7h2m-4-1h2m1 10h2m-7-11h2m-3 2h2m1 0h2m0 2h2m-9-4h2m7 6h2m-1-9h2m0-1h2m-14 5h2m-3 1h2m5 4h2m1-9h2m-7-1h2m2 1h2m-5 1h2m-6 3h2m6 4h2m-3-3h2m-13 1h2m11-4h2m-14 0h2m12 2h2m-13-1h2m5-4h2m2 11h2m-9-10h2m0 4h2m4-2h2m-7-3h2m-4 5h2m2 3h2m-7-2h2m5-1h2m-9-2h2m12 6h2m-14 0h2m-5-6h2m3 3h2m-4-1h2m0 5h2m-9-5h2m0-3h2m-1 5h2m-1 0h2m-2-3h2m-2 7h2m-6-7h2m-2-4h2m13-1h2m-11 5h2m-1 4h2m-3 4h2m-1-8h2m-5 1h2m-5 0h2m6 1h2m-6-3h2m3 13h2m-17-6h2m18-7h2m-8 4h2m-11-4h2m-6 4h2m11-4h2m-8 3h2m2-2h2m-7-1h2m-1 8h2m-4-8h2m-1-2h2m3-6h2m0 18h2m-8-5h2m-2-2h2m1 1h2m-1-1h2m-2-2h2m-5 2h2m0 0h2m-13 5h2m3-11h2m6 1h2m-4 5h2m-1-11h2m-4 12h2m-1-1h2m-5-9h2m-5-5h2m7 11h2m-6 2h2m-3-2h2m-7 7h2m1-8h2m-2 0h2m2-1h2m-8 3h2m6-1h2m2 1h2m-7 3h2m-7-8h2m-3 6h2m7-8h2m-3 5h2m-6-4h2m-8 6h2m10 4h2m-3-11h2m-10 11h2m-4-4h2m-7 5h2m10-4h2m-4-6h2m-7-4h2m5 7h2m-8 6h2m4-4h2m2 0h2m-7 7h2m-3 0h2m2-8h2m-3 2h2m-5 0h2m0 1h2m-6-2h2m1-8h2m-6 6h2m2 0h2m2-2h2m-6 3h2m-2 7h2m-7-15h2m0 3h2m0 10h2m-7-3h2m-2 3h2m5-4h2m-2-3h2m-8 2h2m5 5h2m-3 0h2m-7-2h2m0-2h2m-6 2h2m0-2h2m-6 8h2m2-5h2m0-2h2m4-5h2m-5 5h2m-7-1h2m5 0h2m-6-3h2m2-3h2m-19 12h2m19-8h2m-17 7h2m5-10h2m-3 7h2m11 7h2m-7-3h2m-7-3h2m1 5h2m-12-2h2m-7-5h2m15 1h2m-2-5h2m-15 3h2m12-4h2m-4 9h2m-9-20h2m-3 19h2m1-8h2m2 13h2m-9-15h2m1 6h2m4 2h2m-7 9h2m-8-8h2m8 1h2m-6-11h2m-9 3h2m8 4h2m-9-1h2m10 0h2m-11 9h2m1-9h2m-3 4h2m5-5h2m-5 6h2m-18-1h2m10-2h2m-3 9h2m-4-4h2m2-10h2m-9-7h2m0 21h2m3-16h2m-3 9h2m-3-13h2m3 11h2m-2-4h2m-12-6h2m5 17h2m-4 1h2m-3-14h2m4 0h2m-1 12h2m-4-11h2m-16 11h2m4-8h2m-5 3h2m7-2h2m-17-2h2m17-10h2m-4 8h2m-2 3h2m-3 5h2m3-3h2m-15 3h2m-1-1h2m0-9h2m1 10h2m-4-11h2m6 9h2m-25 2h2m17-4h2m-8 2h2m11-6h2m-3 13h2m-11-18h2m0 1h2m-8 9h2m-1-3h2m6 0h2m4-4h2m-15 2h2m0 11h2m-8-4h2m-3 0h2m7 0h2m-6 9h2m1-8h2m6-2h2m-6-2h2m-10-5h2m-3 9h2m-7 1h2m9-6h2m-13-8h2m14 11h2m0 2h2m-7-2h2m20-4h2m-23 4h2m20-2h2m-23 2h2m23 1h2m-23-4h2m-4 1h2m6 1h2m3 0h2m13 1h2m-4 0h2m-25-2h2m1 0h2m8 0h2m-22 4h2m0-2h2m2-1h2m10-1h2m15 2h2m-23-3h2m-2 1h2m1 0h2m-7 1h2m-9 4h2m5-3h2m-14-3h2m21 2h2m-8 0h2m-3 0h2m-11-3h2m5 4h2m0 2h2m-7-3h2m-10 1h2m21-1h2m-9-4h2m-19 9h2m24-11h2m-13 8h2m-11-2h2m10-3h2m-11 1h2m21 9h2m-6-11h2m2 1h2m-24 4h2m13-4h2m-20 5h2m13 0h2m6-4h2m-4 1h2m-26-2h2m23 5h2m-13-5h2m-18 3h2m15-2h2m-9-1h2m13 1h2m-8-4h2m-8 3h2m14 4h2m-31-2h2m21 3h2m0 0h2m-7-2h2m-24 2h2m17-5h2m-20 3h2m19-1h2m-24 0h2m2 0h2m-1 2h2m-6-1h2m10 0h2m32-30h2m-8-1h2m-3-13h2m-3 3h2m0 21h2m-3-13h2m8 5h2m-9-9h2m-2 23h2m-6-7h2m5-18h2m-8 9h2m15 0h2m-27 11h2m17 18h2m0-36h2m0-16h2m-12 5h2m-10 42h2m2-30h2m1 10h2m-1-1h2m1-22h2m0 8h2m-10 4h2m4-19h2m-15 28h2m2-15h2m3 26h2m1-32h2m-3 13h2m2 7h2m-8-2h2m-5-14h2m5-7h2m-3 30h2m-11 2h2m8-21h2m-11 8h2m0-12h2m-1-7h2m-3 10h2m3 8h2m-4 10h2m-3-9h2m-2-11h2m-4 20h2m-7-9h2m-4-2h2m9-17h2m-3 22h2m-8-2h2m0-5h2m1 10h2m-5 1h2m2 9h2m-7-10h2m9 7h2m-6-28h2m-8 5h2m2 5h2m-7 11h2m-1-20h2m2 19h2m-2 8h2m2-27h2m-4 34h2m-5-37h2m-6 10h2m-8 10h2m12-11h2m-11-9h2m1 8h2m-3-14h2m8 19h2m-11-16h2m7 11h2m-19 7h2m10-2h2m-2 2h2m3-8h2m-11 7h2m-1-1h2m11 5h2m-8-6h2m-9 1h2m0 1h2m4 3h2m-6-7h2m0 8h2m1 1h2m-2-23h2m-17 14h2m8-12h2m-1 11h2m-6 39h2m4-41h2m-5 14h2m-2 15h2m-6-2h2m-2-12h2m10-8h2m-11 18h2m-3-36h2m2 27h2m-6 17h2m1-13h2m-8 5h2m0-26h2m2 32h2m-15-42h2m8 23h2m-1-14h2m-4 16h2m-5 11h2m-2-22h2m3 27h2m4-24h2m-7 9h2m-5 16h2m-5-15h2m3-22h2m4 36h2m-11-39h2m9 23h2m-1-9h2m-10-6h2m-6 25h2m-3-6h2m4-5h2m-6 17h2m-2-48h2m0 19h2m-2 20h2m-8-8h2m0-4h2m1 1h2m-10-2h2m2-9h2m8 33h2m-9-35h2m-3-6h2m-2 20h2m4 7h2m-16-23h2m13 1h2m-4 18h2m3 10h2m-2 3h2m-16-15h2m5-8h2m1 18h2m-5-7h2m-8-3h2m5-21h2m-2 26h2m-7-10h2m7 8h2m-20-12h2m3 15h2m3-6h2m4 2h2m-1-20h2m-8 18h2m2-12h2m-7 15h2m-2-27h2m-2-16h2m2 39h2m-4-1h2m-2-3h2m2-2h2m-1-3h2m-6 36h2m-6-58h2m4 31h2m-7 14h2m6-5h2m-8-14h2m5-7h2m-4 7h2m-13-15h2m-1 34h2m6 1h2m-7-11h2m0 15h2m-2 12h2m-2-35h2m4-5h2m0-17h2m-11 5h2m-5 9h2m6 8h2m-12-18h2m4 27h2m0-31h2m-9 2h2m6 18h2m-5 7h2m0-4h2m-4-3h2m4-4h2m-7-10h2m-2-4h2m-8 21h2m1 15h2m-4 0h2m5-6h2m-4 6h2m-3-10h2m-4-13h2m4 22h2m-7-5h2m-1 7h2m-1-24h2m0-2h2m-6 12h2m0-13h2m9 27h2m-18-20h2m-4-2h2m0 32h2m-1-52h2m5 13h2m3 18h2m-7 7h2m-2-18h2m-1 9h2m3-3h2m-17-1h2m3-15h2m-4 11h2m-2-15h2m-3 41h2m1-27h2m7-1h2m-7 6h2m-1-15h2m-8-10h2m-2 22h2m-4 28h2m8-41h2m0-7h2m-7 14h2m-17 16h2m4 10h2m9-6h2m-17 10h2m7-26h2m-1-18h2m1 23h2m-9 13h2m2-19h2m-5 17h2m-1-3h2m-5-15h2m2 17h2m-3 1h2m-3-16h2m5 14h2m-9 3h2m-10-8h2m3 11h2m10-33h2m-9 13h2m-12 16h2m5-4h2m-9 7h2m20 6h2m-16 5h2m1-17h2m-5-16h2m-9 27h2m5-9h2m1 2h2m-7-10h2m5-29h2m-5 35h2m-7-11h2m0-18h2m0 30h2m0-10h2m-3-5h2m-3-6h2m-2 11h2m-7-1h2m11 7h2m-10 5h2m-8-14h2m6 10h2m4-4h2m-9 14h2m-7-9h2m4-7h2m-7-5h2m1 26h2m-13-24h2m13-10h2m-8 16h2m-1 4h2m3-6h2m1 0h2m-2 16h2m-10-32h2m-3 19h2m3 12h2m-3-18h2m-15 2h2m13-1h2m-10 11h2m16-23h2m-19 3h2m6 33h2m-9-13h2m4-14h2m5 7h2m-14-3h2m-3 4h2m4 2h2m-4-4h2m-1 12h2m2-16h2m-6-6h2m-9 20h2m6-11h2m-9 4h2m5 4h2m-3 1h2m-4-19h2m5 18h2m-7-16h2m1-8h2m-12 19h2m-8 6h2m12-5h2m-11-11h2m1 36h2m0-21h2m0 2h2m4-26h2m-13 18h2m3-30h2m-4 25h2m-1-1h2m5 13h2m-6-28h2m-1 32h2m-11-14h2m8 6h2m1-14h2m-7 4h2m-1 33h2m-5-28h2m-9 1h2m6 11h2m-1-4h2m-8-16h2m1 12h2m-4 0h2m1-8h2m-7 13h2m8-3h2m-8-6h2m1 2h2m-10-9h2m3 4h2m-1-1h2m-4 16h2m-3-20h2m-4 12h2m-5-9h2m-2 9h2m2-11h2m9 4h2m-7-14h2m-11 0h2m4 54h2m2-31h2m-4-17h2m-2 6h2m-8 13h2m-6 4h2m11 3h2m-9-7h2m1 8h2m-3-15h2m0 8h2m3-14h2m-14 0h2m3 3h2m1 2h2m-15-30h2m6 44h2m1-21h2m6 10h2m-9 4h2m-4-2h2m-5-34h2m-1 42h2m-6 5h2m3-20h2m2 21h2m-8-10h2m-1-8h2m0 11h2m-1-10h2m0 1h2m-8-6h2m5 0h2m-5 2h2m-7 10h2m-1 27h2m9-18h2m-11-15h2m-6 3h2m4 8h2m-9-29h2m9 27h2m-8-12h2m-1-4h2m-8 9h2m-3-20h2m16 11h2m-10 4h2m-5 17h2m-4-21h2m-10 8h2m8 4h2m-4 14h2m7 1h2m-1-24h2m-2 9h2m-9-8h2m-12 14h2m2-27h2m3 29h2m4 6h2m1-45h2m-12 36h2m-2-11h2m3-1h2m0 3h2m4 8h2m-15-2h2m-2 13h2m-6-21h2m9 16h2m-13-41h2m2 24h2m14 0h2m-20-19h2m4 7h2m0 23h2m-7-14h2m-6-2h2m-2-2h2m-2 5h2m-1 30h2m8-13h2m-9 2h2m3-7h2m-6-3h2m-8-1h2m4 6h2m-4-25h2m5 12h2m-16 11h2m6-21h2m3 21h2m-15-30h2m5 17h2m-6 31h2m6-37h2m-16 6h2m8-15h2m11-5h2m-15 10h2m-1 21h2m-7 8h2m5-6h2m-2-18h2m-11 10h2m2 11h2m1-9h2m-3 0h2m-7-3h2m-9-9h2m7-3h2m0-1h2m-1 11h2m-4-22h2m2 17h2m5 11h2m-12-9h2m-2-6h2m0 2h2m1 10h2m-3-23h2m-3 6h2m-1 8h2m-6-15h2m0 40h2m-3-21h2m0 10h2m-6-17h2m3 24h2m-7-13h2m1-17h2m-1 11h2m-6-17h2m-4 6h2m10 16h2m-20 13h2m4-12h2m-1 15h2m-2-31h2m0 13h2m-1 5h2m3-3h2m-17-7h2m7 24h2m3-2h2m-2-31h2m-6 6h2m-6-1h2m4-11h2m-2 1h2m6 19h2m-10 12h2m-1-13h2m-13 17h2m11 10h2m-3-30h2m-11-21h2m8 28h2m-13-15h2m-1-20h2m-10 24h2m6 2h2m-4 6h2m8 8h2m-5-13h2m1 12h2m-10 18h2m0-19h2m7-7h2m-15-10h2m18-2h2m-23 6h2m0 14h2m5 14h2m1-19h2m-16-5h2m9-5h2m6 13h2m-8 21h2m-4-26h2m-1 6h2m0-19h2m-14 26h2m14-2h2m-10-8h2m0 6h2m-10-23h2m9 9h2m-11-2h2m-2 36h2m2-20h2m-6-26h2m9 15h2m-8-6h2m3 10h2m-6-14h2m-2 2h2m-15 19h2m14-22h2m-1 22h2m-2 8h2m-12-13h2m-1 4h2m2 28h2m-4-27h2m-2-15h2m-8 7h2m-5 0h2m9 15h2m-3-5h2m-2-15h2m6-2h2m-5 1h2m2 4h2m-7 17h2m-10-26h2m-3 8h2m4-5h2m0-11h2m-3-1h2m-3 8h2m-9 16h2m3 4h2m6-21h2m-4 4h2m-2-16h2m-6 39h2m4-12h2m-6-1h2m-3-3h2m-7 10h2m5 4h2m-1-10h2m-13-20h2m5 31h2m-5 24h2m0-39h2m-3-16h2m-10 14h2m8-9h2m-5-1h2m1-1h2m-1 11h2m-8 12h2m3 9h2m-6-16h2m1 9h2m8 7h2m-18 6h2m3-4h2m3-10h2m-5-9h2m2-22h2m-8 24h2m2 25h2m0-25h2m-3-16h2m-8-18h2m1 31h2m-6-12h2m-9 0h2m4 26h2m10-19h2m-11 32h2m-2-42h2m3 16h2m-5 12h2m-1-17h2m-1 19h2m-2 15h2m-13-1h2m11-5h2m-17-10h2m11 11h2m-1 1h2m-20 1h2m4-1h2m7 3h2m-7 0h2m-5 0h2m3-3h2m-4-6h2m3 12h2m-4 6h2m-2-16h2m-9 11h2m5-7h2m2 6h2m-12-4h2m11 2h2m-10-9h2m0-2h2m1 0h2m-4 7h2m-8 8h2m2-11h2m-1-3h2m-2 1h2m-6 7h2m2-2h2m2-7h2m-8 10h2m2-7h2m-11 2h2m6-9h2m-4 14h2m-1-1h2m-9-2h2m-4 10h2m6-11h2m5 2h2m-17-4h2m3 6h2m3-4h2m-8-3h2m-4-4h2m-4 7h2m-2 8h2m7-2h2m-1 3h2m-7-17h2m7-4h2m-11 15h2m7-4h2m-8-5h2m-6 8h2m-2 0h2m-5 10h2m-6-11h2m3 3h2m-1-17h2m-10 26h2m9-11h2m4 0h2m-6-17h2m-5 14h2m-2 8h2m4 0h2m-14-10h2m10 7h2m-5-8h2m3 2h2m-5 5h2m-10 0h2m0-7h2m-5 13h2m0-9h2m-3-3h2m1-2h2m12 2h2m-16 1h2m17 2h2m-21 3h2m-1 0h2m-1 4h2m2-1h2m-2-8h2m-8 5h2m-3-7h2m-2 1h2m-1 10h2m3 2h2m2-2h2m-7-2h2m-12-9h2m0 12h2m-2-6h2m-2-1h2m6-6h2m-13 8h2m6 0h2m-8 1h2m3 3h2m1-8h2m-17 7h2m10-2h2m-8-6h2m6 0h2m-2-2h2m-3 8h2m-6 4h2m-4-15h2m7 10h2m-6-4h2m-8-1h2m7 7h2m-1-7h2m3 1h2m-14 1h2m-1-5h2m6 1h2m-2 6h2m-4-2h2m-8-5h2m1 9h2m-15 0h2m6 7h2m6-11h2m-1 3h2m-11-4h2m-8-5h2m6 1h2m-4 8h2m1-11h2m2 9h2m-2-2h2m-7 12h2m-9-8h2m5-1h2m3-4h2m-4 4h2m-14-3h2m9-14h2m1 15h2m-9-5h2m6 4h2m-1 3h2m-1 1h2m-9 0h2m-5 7h2m3-1h2m-3-8h2m-3-7h2m9 3h2m-9 10h2m-7-5h2m-5-6h2m2 7h2m11-7h2m-14 5h2m-8 4h2m15-3h2m-11-9h2m-8 12h2m6-4h2m-8 9h2m-2-16h2m-8 7h2m4-10h2m13 11h2m-12 7h2m-1-5h2m-11-1h2m-2-6h2m5 8h2m2-8h2m-4 5h2m-7-16h2m0 12h2m2-9h2m-9 17h2m-8-6h2m7 6h2m-5-11h2m8 11h2m-11-4h2m-3-6h2m-13 8h2m9-5h2m-8 10h2m9 2h2m-7-11h2m-1-6h2m5-2h2m-12 23h2m-1-10h2m-8 1h2m13-13h2m-3 7h2m5-35h2m-9 3h2m-1-7h2m-3 7h2m2-10h2m-4 4h2m-3-2h2m-3 3h2m2 0h2m-1-2h2m-8 3h2m3 0h2m1-6h2m-4 1h2m-5-5h2m-4 6h2m8-2h2m-6 0h2m-6 2h2m0 0h2m-2 5h2m-3 0h2m-4-1h2m3 5h2m-8-5h2m4-7h2m-6 1h2m-4 0h2m4 0h2m-7 6h2m4-1h2m-2-6h2m-8 6h2m-1 5h2m-1-7h2m-6 3h2m0-2h2m-8 5h2m11-1h2m-17 3h2m6-9h2m-3-4h2m1 6h2m-6 2h2m1 1h2m-5 0h2m2-2h2m-1 1h2m0-3h2m-4 2h2m-2 1h2m-7 0h2m4 2h2m-11-2h2m1-3h2m-1 0h2m4 6h2m-4-2h2m-4-2h2m2-2h2m-12 1h2m8 3h2m-10-2h2m1 0h2m-6 5h2m4-3h2m-5-3h2m-3 0h2m-2 3h2m1-1h2m-4-7h2m6 10h2m-11-7h2m-2-2h2m-4 5h2m1-2h2m-5 2h2m-2 2h2m2-3h2m-5-2h2m-4 7h2m2-4h2m0 3h2m-5-1h2m1 3h2m1-1h2m-9-15h2m0 8h2m-3 3h2m-2 7h2m-7-3h2m13-7h2m-12 9h2m4-9h2m2 6h2m-6 11h2m-9-19h2m-4 11h2m9 1h2m-6-13h2m-14 67h2m-24-28h2m-7-54h2m29 57h2m-16 27h2m44-38h2m-30-19h2m-24 19h2m-6 33h2m28-71h2m2 39h2m-13 36h2m-32-17h2m-12-45h2m50 8h2m16 37h2m-52-22h2m-12 4h2m38-24h2m17 0h2m-23 32h2m-41-44h2m4 72h2m5-41h2m39 16h2m-52 18h2m16-7h2m-29-36h2m57 0h2" stroke="#2c44c0" stroke-opacity=".5" stroke-width="1.5"/>
<ellipse cx="444.3" cy="606.8" rx="3.4" ry="3.2" fill="url(#gM)"/>
<ellipse cx="470.9" cy="588.5" rx="2.6" ry="3.2" fill="url(#gH2)"/>
<ellipse cx="469.6" cy="595.3" rx="2" ry="2.2" fill="url(#gL)"/>
<ellipse cx="470.8" cy="582.5" rx="1.6" ry="1.8" fill="url(#gVL)"/>
<rect x="431.5" y="568.5" width="55" height="51" fill="none" stroke="#999" stroke-width="1"/>
<line x1="458.1" y1="568.5" x2="458.1" y2="619.5" stroke="#666" stroke-width="1"/>
<line x1="431.5" y1="597.5" x2="486.5" y2="597.5" stroke="#555" stroke-width="1"/>
<text x="433.3" y="575.1" font-size="6.3" text-anchor="start" fill="#231f20">0,072</text>
<text x="484.5" y="575.1" font-size="6.3" text-anchor="end" fill="#231f20">57,3</text>
<text x="433.3" y="616.1" font-size="6.3" text-anchor="start" fill="#231f20">34,7</text>
<text x="484.5" y="616.1" font-size="6.3" text-anchor="end" fill="#231f20">7,96</text>
<text x="444.6" y="626.9" font-size="6.3" text-anchor="middle" fill="#231f20">0</text>
<text x="462.3" y="626.9" font-size="6.3" text-anchor="middle" fill="#231f20">10<tspan font-size="4.4" dy="-2.4">3</tspan></text>
<text x="475.9" y="626.9" font-size="6.3" text-anchor="middle" fill="#231f20">10<tspan font-size="4.4" dy="-2.4">4</tspan></text>
<text x="429.5" y="581" font-size="5.9" text-anchor="end" fill="#231f20">10<tspan font-size="4.2" dy="-2.4">4</tspan></text>
<text x="429.5" y="593.1" font-size="5.9" text-anchor="end" fill="#231f20">10<tspan font-size="4.2" dy="-2.4">3</tspan></text>
<text x="427.3" y="608.9" font-size="6.3" text-anchor="end" fill="#231f20">0</text>
<line x1="429.9" y1="578.9" x2="431.3" y2="578.9" stroke="#333" stroke-width="0.6"/>
<line x1="429.9" y1="591.3" x2="431.3" y2="591.3" stroke="#333" stroke-width="0.6"/>
<line x1="429.9" y1="604.1" x2="431.3" y2="604.1" stroke="#333" stroke-width="0.6"/>
<line x1="429.9" y1="606.1" x2="431.3" y2="606.1" stroke="#333" stroke-width="0.6"/>
<line x1="429.9" y1="608.1" x2="431.3" y2="608.1" stroke="#333" stroke-width="0.6"/>
<line x1="442.9" y1="619.2" x2="442.9" y2="620.6" stroke="#333" stroke-width="0.6"/>
<line x1="444.3" y1="619.2" x2="444.3" y2="620.6" stroke="#333" stroke-width="0.6"/>
<line x1="445.7" y1="619.2" x2="445.7" y2="620.6" stroke="#333" stroke-width="0.6"/>
<line x1="461.1" y1="619.2" x2="461.1" y2="620.6" stroke="#333" stroke-width="0.6"/>
<line x1="474.5" y1="619.2" x2="474.5" y2="620.6" stroke="#333" stroke-width="0.6"/>
<rect x="0.5" y="0.5" width="519" height="655" fill="none" stroke="#000" stroke-width="1"/>
</svg>
</body></html>
